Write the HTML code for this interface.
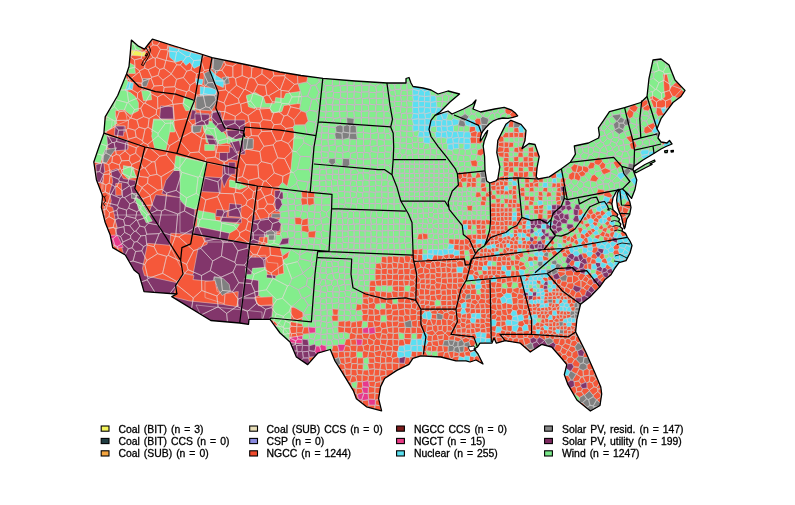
<!DOCTYPE html>
<html><head><meta charset="utf-8"><title>Map</title>
<style>
html,body{margin:0;padding:0;background:#fff}
body{width:795px;height:505px;position:relative;overflow:hidden;font-family:"Liberation Sans",Arial,sans-serif}
</style></head><body>
<svg width="795" height="505" viewBox="0 0 795 505" style="position:absolute;left:0;top:0">
<defs><clipPath id="us"><path d="M131.4 40.1 L138.4 46.2 L144.5 49.2 L148.5 44.0 L152.4 39.1 L176.0 46.5 L201.0 54.0 L212.0 57.7 L231.0 61.5 L255.0 66.5 L280.0 72.0 L301.0 75.5 L323.0 78.4 L355.0 81.0 L387.0 83.0 L406.0 83.0 L406.0 78.5 L409.0 77.5 L411.0 83.0 L413.0 86.5 L423.0 88.0 L431.0 90.0 L438.0 94.0 L448.0 91.0 L459.5 94.0 L450.0 102.0 L440.0 112.0 L435.0 115.3 L448.0 111.0 L452.0 114.0 L463.4 109.0 L472.5 104.0 L476.0 100.0 L473.0 109.0 L480.6 112.0 L494.7 109.0 L504.2 107.4 L511.8 110.2 L515.6 113.3 L517.7 115.8 L513.0 117.3 L508.0 118.4 L503.0 118.0 L498.0 119.0 L493.5 120.8 L489.2 124.0 L485.6 127.8 L483.0 131.0 L481.6 133.4 L480.6 137.0 L480.2 141.0 L482.0 139.0 L485.0 134.0 L487.7 130.4 L486.6 135.0 L484.2 141.0 L483.2 146.0 L484.6 156.7 L485.0 170.8 L486.7 181.0 L489.7 183.0 L495.8 181.0 L497.8 179.0 L499.8 166.8 L496.8 152.6 L497.8 140.5 L502.8 130.4 L505.9 124.3 L510.9 120.3 L521.0 124.3 L526.0 130.4 L525.0 140.5 L522.0 148.6 L529.0 143.5 L535.0 144.5 L539.2 156.7 L537.2 166.8 L536.2 176.9 L538.2 179.0 L549.3 176.9 L561.4 168.8 L570.3 162.3 L575.4 154.2 L574.3 146.0 L588.5 143.0 L598.6 138.0 L599.4 134.8 L598.4 127.8 L603.4 120.7 L609.5 111.6 L624.6 107.6 L640.8 102.5 L647.0 96.5 L649.0 78.3 L653.0 60.0 L661.0 59.0 L669.0 65.0 L675.0 80.0 L685.0 90.4 L681.0 96.5 L673.0 102.5 L667.0 110.6 L661.0 118.7 L657.0 128.8 L659.5 133.0 L658.0 138.0 L661.0 142.0 L667.0 143.0 L669.5 140.5 L672.0 144.0 L666.0 146.5 L661.0 149.0 L653.0 154.0 L643.0 160.0 L634.0 166.4 L633.0 169.5 L636.8 180.0 L635.0 189.5 L631.5 198.4 L627.5 193.5 L622.8 189.3 L625.5 191.9 L629.7 201.4 L631.0 207.3 L629.7 214.4 L626.7 219.2 L625.0 227.5 L624.3 228.7 L622.6 222.0 L621.5 217.0 L619.6 213.0 L617.5 207.0 L616.6 200.0 L617.5 193.0 L619.6 189.5 L618.3 189.5 L616.0 192.0 L614.0 196.0 L613.0 197.8 L611.9 203.8 L613.0 209.7 L617.8 214.4 L616.8 216.5 L619.6 219.2 L618.6 221.5 L620.8 224.0 L620.0 226.5 L622.6 228.7 L622.0 231.0 L625.5 233.4 L627.3 237.0 L630.0 241.0 L632.0 245.5 L630.0 253.0 L626.0 260.6 L619.0 262.6 L615.0 268.0 L611.0 274.7 L604.8 279.8 L599.8 286.9 L590.0 297.0 L580.6 304.2 L576.9 319.3 L575.6 331.9 L585.7 352.0 L594.5 372.0 L600.8 387.0 L601.7 394.0 L600.0 405.5 L590.4 411.0 L579.0 401.7 L576.9 400.0 L568.0 384.7 L564.3 374.6 L566.8 364.6 L560.5 357.0 L551.7 347.0 L541.6 344.4 L530.3 352.0 L520.3 343.2 L505.2 340.7 L496.4 343.2 L494.0 338.0 L492.0 343.0 L480.0 343.2 L477.5 347.0 L474.0 349.0 L478.0 354.0 L483.0 364.0 L476.0 360.0 L470.0 362.0 L466.0 360.8 L456.0 360.8 L441.0 357.0 L420.9 355.8 L412.9 358.3 L408.9 364.3 L396.8 370.4 L384.6 378.5 L380.6 386.6 L378.6 398.7 L381.6 410.8 L366.5 406.8 L356.4 398.7 L353.3 390.6 L342.2 372.4 L335.0 361.0 L330.3 349.5 L317.7 353.2 L307.7 364.6 L296.4 357.0 L290.0 342.0 L280.0 333.0 L270.0 319.3 L249.0 319.3 L248.5 324.3 L239.7 323.0 L210.8 320.5 L171.8 296.6 L176.9 294.0 L144.0 291.6 L139.0 274.0 L134.0 270.0 L125.3 255.0 L112.7 247.6 L110.2 235.0 L105.2 222.5 L101.4 207.4 L102.6 196.0 L96.4 179.7 L93.8 162.0 L98.9 147.0 L103.9 133.2 L105.2 116.9 L117.7 95.5 L126.5 74.0 L129.0 66.5 L130.3 52.7ZM634.5 171.0 L645.0 164.5 L654.5 160.0 L655.0 161.5 L650.0 164.0 L652.0 164.5 L646.0 167.5 L636.0 172.8ZM664.6 151.0 L667.6 150.3 L667.2 152.5 L665.0 152.7ZM671.0 150.6 L673.4 150.3 L673.2 151.9 L671.2 152.0Z"/></clipPath></defs>
<g clip-path="url(#us)">
<rect x="90" y="30" width="610" height="390" fill="#83ed8c"/>
<path d="M90.0 30.0 L280.0 60.0 L306.0 75.0 L306.0 128.0 L294.0 131.0 L294.0 192.0 L300.0 200.0 L300.0 250.0 L317.0 252.0 L312.0 322.0 L240.0 330.0 L160.0 300.0 L90.0 300.0Z" fill="#f5583a" stroke="#e6dcdc" stroke-opacity="0.6" stroke-width="0.8" stroke-linejoin="round"/>
<path d="M131.4 41.1 L138.4 46.2 L142.5 50.2 L131.4 50.2Z" fill="#83ed8c" stroke="#e6dcdc" stroke-opacity="0.6" stroke-width="0.8" stroke-linejoin="round"/>
<path d="M131.4 50.2 L145.5 52.2 L144.5 56.3 L131.4 55.3Z" fill="#f2f25a" stroke="#e6dcdc" stroke-opacity="0.6" stroke-width="0.8" stroke-linejoin="round"/>
<path d="M128.3 62.3 L134.4 65.4 L135.4 73.4 L128.3 73.4Z" fill="#83ed8c" stroke="#e6dcdc" stroke-opacity="0.6" stroke-width="0.8" stroke-linejoin="round"/>
<path d="M168.7 46.2 L202.1 55.3 L200.1 65.4 L194.0 68.4 L189.9 62.3 L185.9 65.4 L181.9 60.3 L175.8 62.3 L169.7 57.3Z" fill="#5adff2" stroke="#e6dcdc" stroke-opacity="0.6" stroke-width="0.8" stroke-linejoin="round"/>
<path d="M142.5 78.5 L149.5 78.5 L146.5 86.6 L141.5 86.6Z" fill="#808080" stroke="#e6dcdc" stroke-opacity="0.6" stroke-width="0.8" stroke-linejoin="round"/>
<path d="M125.3 75.5 L128.3 82.5 L125.3 90.6 L130.4 92.6 L135.4 96.7 L138.4 102.7 L138.4 110.8 L130.4 114.8 L125.3 110.8 L119.2 109.8 L115.2 114.8 L117.2 122.9 L110.2 129.0 L104.1 129.0 L107.1 114.8 L117.2 96.7Z" fill="#83ed8c" stroke="#e6dcdc" stroke-opacity="0.6" stroke-width="0.8" stroke-linejoin="round"/>
<path d="M128.3 81.5 L133.4 83.5 L132.4 89.6 L125.3 90.6Z" fill="#5adff2" stroke="#e6dcdc" stroke-opacity="0.6" stroke-width="0.8" stroke-linejoin="round"/>
<path d="M115.2 110.8 L125.3 109.8 L127.3 120.9 L117.2 124.9Z" fill="#f5583a" stroke="#e6dcdc" stroke-opacity="0.6" stroke-width="0.8" stroke-linejoin="round"/>
<path d="M115.2 126.0 L125.3 126.0 L125.3 132.0 L115.2 132.0Z" fill="#82366b" stroke="#e6dcdc" stroke-opacity="0.6" stroke-width="0.8" stroke-linejoin="round"/>
<path d="M141.5 90.6 L150.6 90.6 L151.6 99.7 L143.5 100.7Z" fill="#83ed8c" stroke="#e6dcdc" stroke-opacity="0.6" stroke-width="0.8" stroke-linejoin="round"/>
<path d="M160.7 105.8 L172.8 106.8 L173.8 118.9 L159.6 118.9Z" fill="#82366b" stroke="#e6dcdc" stroke-opacity="0.6" stroke-width="0.8" stroke-linejoin="round"/>
<path d="M153.6 118.9 L173.8 119.9 L174.8 132.0 L151.6 132.0Z" fill="#83ed8c" stroke="#e6dcdc" stroke-opacity="0.6" stroke-width="0.8" stroke-linejoin="round"/>
<path d="M183.9 96.7 L194.0 99.7 L195.0 109.8 L185.9 110.8 L182.9 104.7Z" fill="#83ed8c" stroke="#e6dcdc" stroke-opacity="0.6" stroke-width="0.8" stroke-linejoin="round"/>
<path d="M196.0 78.5 L203.1 79.5 L202.1 84.5 L196.0 84.5Z" fill="#5adff2" stroke="#e6dcdc" stroke-opacity="0.6" stroke-width="0.8" stroke-linejoin="round"/>
<path d="M200.1 86.6 L216.2 88.6 L216.2 94.6 L200.1 95.7Z" fill="#5adff2" stroke="#e6dcdc" stroke-opacity="0.6" stroke-width="0.8" stroke-linejoin="round"/>
<path d="M204.1 73.4 L210.2 70.4 L214.2 80.5 L217.2 90.6 L210.2 87.6 L204.1 84.5Z" fill="#808080" stroke="#e6dcdc" stroke-opacity="0.6" stroke-width="0.8" stroke-linejoin="round"/>
<path d="M196.0 96.7 L217.2 94.6 L216.2 102.7 L211.2 110.8 L196.0 109.8Z" fill="#808080" stroke="#e6dcdc" stroke-opacity="0.6" stroke-width="0.8" stroke-linejoin="round"/>
<path d="M212.2 58.3 L224.3 60.3 L221.3 67.4 L216.2 73.4 L212.2 69.4Z" fill="#808080" stroke="#e6dcdc" stroke-opacity="0.6" stroke-width="0.8" stroke-linejoin="round"/>
<path d="M210.2 69.4 L216.2 75.5 L224.3 80.5 L223.3 87.6 L216.2 84.5 L211.2 77.5Z" fill="#5adff2" stroke="#e6dcdc" stroke-opacity="0.6" stroke-width="0.8" stroke-linejoin="round"/>
<path d="M222.3 77.5 L228.3 76.5 L229.3 83.5 L224.3 84.5Z" fill="#808080" stroke="#e6dcdc" stroke-opacity="0.6" stroke-width="0.8" stroke-linejoin="round"/>
<path d="M192.0 109.8 L196.0 110.8 L195.0 118.9 L189.9 119.9Z" fill="#82366b" stroke="#e6dcdc" stroke-opacity="0.6" stroke-width="0.8" stroke-linejoin="round"/>
<path d="M196.0 112.8 L209.1 113.8 L208.1 121.9 L196.0 122.9Z" fill="#82366b" stroke="#e6dcdc" stroke-opacity="0.6" stroke-width="0.8" stroke-linejoin="round"/>
<path d="M212.2 110.8 L220.3 110.8 L224.3 127.0 L216.2 124.9 L211.2 118.9Z" fill="#82366b" stroke="#e6dcdc" stroke-opacity="0.6" stroke-width="0.8" stroke-linejoin="round"/>
<path d="M191.0 126.0 L200.1 124.9 L201.1 132.0 L192.0 132.0Z" fill="#808080" stroke="#e6dcdc" stroke-opacity="0.6" stroke-width="0.8" stroke-linejoin="round"/>
<path d="M202.1 121.9 L214.2 120.9 L218.2 132.0 L204.1 132.0Z" fill="#83ed8c" stroke="#e6dcdc" stroke-opacity="0.6" stroke-width="0.8" stroke-linejoin="round"/>
<path d="M246.5 96.7 L255.0 98.7 L255.0 108.8 L248.5 106.8Z" fill="#83ed8c" stroke="#e6dcdc" stroke-opacity="0.6" stroke-width="0.8" stroke-linejoin="round"/>
<path d="M115.3 126.1 L124.4 126.1 L123.4 136.2 L114.3 135.2Z" fill="#82366b" stroke="#e6dcdc" stroke-opacity="0.6" stroke-width="0.8" stroke-linejoin="round"/>
<path d="M103.2 120.0 L112.3 120.0 L111.3 128.1 L105.2 132.1 L103.2 134.1Z" fill="#83ed8c" stroke="#e6dcdc" stroke-opacity="0.6" stroke-width="0.8" stroke-linejoin="round"/>
<path d="M153.7 120.0 L170.9 120.0 L169.8 132.1 L165.8 150.3 L154.7 148.3 L151.7 136.2Z" fill="#83ed8c" stroke="#e6dcdc" stroke-opacity="0.6" stroke-width="0.8" stroke-linejoin="round"/>
<path d="M97.1 146.3 L104.2 136.2 L109.2 138.2 L107.2 148.3 L101.2 160.4 L96.1 158.4Z" fill="#83ed8c" stroke="#e6dcdc" stroke-opacity="0.6" stroke-width="0.8" stroke-linejoin="round"/>
<path d="M107.2 136.2 L127.4 140.2 L128.4 148.3 L115.3 149.3 L109.2 146.3Z" fill="#82366b" stroke="#e6dcdc" stroke-opacity="0.6" stroke-width="0.8" stroke-linejoin="round"/>
<path d="M105.2 150.3 L115.3 148.3 L109.2 158.4 L103.2 163.4 L102.2 158.4Z" fill="#808080" stroke="#e6dcdc" stroke-opacity="0.6" stroke-width="0.8" stroke-linejoin="round"/>
<path d="M96.1 164.4 L103.2 163.4 L105.2 172.5 L102.2 180.6 L97.1 178.6Z" fill="#82366b" stroke="#e6dcdc" stroke-opacity="0.6" stroke-width="0.8" stroke-linejoin="round"/>
<path d="M123.4 165.5 L133.5 167.5 L135.5 176.6 L128.4 178.6 L124.4 172.5Z" fill="#83ed8c" stroke="#e6dcdc" stroke-opacity="0.6" stroke-width="0.8" stroke-linejoin="round"/>
<path d="M111.3 170.5 L117.3 168.5 L123.4 178.6 L135.5 180.6 L135.5 188.7 L145.6 206.9 L153.7 222.0 L105.2 222.0 L104.2 206.9 L107.2 200.8 L104.2 186.7Z" fill="#82366b" stroke="#e6dcdc" stroke-opacity="0.6" stroke-width="0.8" stroke-linejoin="round"/>
<path d="M102.2 180.6 L107.2 182.6 L111.3 200.8 L109.2 208.9 L104.2 206.9 L101.2 196.8Z" fill="#f5583a" stroke="#e6dcdc" stroke-opacity="0.6" stroke-width="0.8" stroke-linejoin="round"/>
<path d="M104.2 208.9 L111.3 206.9 L115.3 222.0 L104.2 222.0Z" fill="#f5583a" stroke="#e6dcdc" stroke-opacity="0.6" stroke-width="0.8" stroke-linejoin="round"/>
<path d="M132.5 193.7 L136.5 193.7 L137.1 198.8 L133.1 198.4Z" fill="#808080" stroke="#e6dcdc" stroke-opacity="0.6" stroke-width="0.8" stroke-linejoin="round"/>
<path d="M135.5 196.8 L140.6 200.8 L151.7 219.0 L145.6 222.0 L138.5 208.9Z" fill="#83ed8c" stroke="#e6dcdc" stroke-opacity="0.6" stroke-width="0.8" stroke-linejoin="round"/>
<path d="M165.8 180.6 L173.9 170.5 L179.9 170.5 L182.0 186.7 L179.9 197.8 L161.8 193.7Z" fill="#82366b" stroke="#e6dcdc" stroke-opacity="0.6" stroke-width="0.8" stroke-linejoin="round"/>
<path d="M175.9 155.4 L206.2 162.4 L200.2 208.9 L195.1 208.9 L182.0 200.8 L182.0 186.7 L179.9 170.5 L173.9 170.5Z" fill="#83ed8c" stroke="#e6dcdc" stroke-opacity="0.6" stroke-width="0.8" stroke-linejoin="round"/>
<path d="M155.7 194.7 L182.0 197.8 L195.1 208.9 L195.1 222.0 L153.7 222.0 L149.6 210.9Z" fill="#82366b" stroke="#e6dcdc" stroke-opacity="0.6" stroke-width="0.8" stroke-linejoin="round"/>
<path d="M204.2 177.6 L222.4 177.6 L222.4 191.7 L201.2 191.7Z" fill="#82366b" stroke="#e6dcdc" stroke-opacity="0.6" stroke-width="0.8" stroke-linejoin="round"/>
<path d="M224.4 170.5 L234.5 171.5 L233.5 188.7 L224.4 187.7Z" fill="#82366b" stroke="#e6dcdc" stroke-opacity="0.6" stroke-width="0.8" stroke-linejoin="round"/>
<path d="M226.4 202.8 L238.5 202.8 L238.5 217.0 L226.4 217.0Z" fill="#82366b" stroke="#e6dcdc" stroke-opacity="0.6" stroke-width="0.8" stroke-linejoin="round"/>
<path d="M197.1 210.9 L214.3 214.9 L214.3 222.0 L196.1 222.0Z" fill="#83ed8c" stroke="#e6dcdc" stroke-opacity="0.6" stroke-width="0.8" stroke-linejoin="round"/>
<path d="M216.3 208.9 L226.4 208.9 L226.4 222.0 L216.3 222.0Z" fill="#82366b" stroke="#e6dcdc" stroke-opacity="0.6" stroke-width="0.8" stroke-linejoin="round"/>
<path d="M192.1 126.1 L202.2 125.1 L200.2 132.1 L193.1 133.1Z" fill="#808080" stroke="#e6dcdc" stroke-opacity="0.6" stroke-width="0.8" stroke-linejoin="round"/>
<path d="M204.2 124.0 L216.3 126.1 L222.4 138.2 L216.3 146.3 L206.2 142.2Z" fill="#83ed8c" stroke="#e6dcdc" stroke-opacity="0.6" stroke-width="0.8" stroke-linejoin="round"/>
<path d="M206.2 134.1 L214.3 136.2 L218.3 146.3 L210.3 144.2Z" fill="#82366b" stroke="#e6dcdc" stroke-opacity="0.6" stroke-width="0.8" stroke-linejoin="round"/>
<path d="M218.3 120.0 L245.0 120.0 L245.0 132.1 L226.4 128.1Z" fill="#82366b" stroke="#e6dcdc" stroke-opacity="0.6" stroke-width="0.8" stroke-linejoin="round"/>
<path d="M226.4 132.1 L245.0 136.2 L245.0 148.3 L230.5 144.2Z" fill="#83ed8c" stroke="#e6dcdc" stroke-opacity="0.6" stroke-width="0.8" stroke-linejoin="round"/>
<path d="M224.4 146.3 L238.5 148.3 L237.5 160.4 L224.4 158.4Z" fill="#82366b" stroke="#e6dcdc" stroke-opacity="0.6" stroke-width="0.8" stroke-linejoin="round"/>
<path d="M240.6 140.2 L245.0 140.2 L245.0 154.3 L240.6 154.3Z" fill="#82366b" stroke="#e6dcdc" stroke-opacity="0.6" stroke-width="0.8" stroke-linejoin="round"/>
<path d="M101.1 215.0 L255.0 215.0 L255.0 317.0 L101.1 317.0Z" fill="#82366b" stroke="#e6dcdc" stroke-opacity="0.6" stroke-width="0.8" stroke-linejoin="round"/>
<path d="M104.1 217.0 L113.2 215.0 L117.2 227.1 L115.2 235.2 L121.3 245.3 L123.3 253.4 L115.2 254.4 L111.2 249.3 L112.2 239.2 L107.1 231.2Z" fill="#f5583a" stroke="#e6dcdc" stroke-opacity="0.6" stroke-width="0.8" stroke-linejoin="round"/>
<path d="M109.1 235.2 L117.2 235.2 L123.3 247.3 L117.2 248.3 L112.2 243.3Z" fill="#e8388c" stroke="#e6dcdc" stroke-opacity="0.6" stroke-width="0.8" stroke-linejoin="round"/>
<path d="M147.5 243.3 L169.7 245.3 L184.9 273.6 L176.8 282.7 L144.5 275.6 L142.5 268.5Z" fill="#f5583a" stroke="#e6dcdc" stroke-opacity="0.6" stroke-width="0.8" stroke-linejoin="round"/>
<path d="M170.8 233.2 L208.1 235.2 L207.1 244.3 L198.0 248.3 L193.0 274.6 L184.9 273.6 L179.8 265.5 L169.7 245.3Z" fill="#f5583a" stroke="#e6dcdc" stroke-opacity="0.6" stroke-width="0.8" stroke-linejoin="round"/>
<path d="M184.9 273.6 L194.0 275.6 L193.0 279.6 L214.2 281.7 L212.2 286.7 L224.3 287.7 L224.3 295.8 L236.4 291.8 L238.4 305.9 L188.9 300.9 L172.8 296.8 L177.8 282.7Z" fill="#f5583a" stroke="#e6dcdc" stroke-opacity="0.6" stroke-width="0.8" stroke-linejoin="round"/>
<path d="M214.2 276.6 L220.3 277.6 L228.3 283.7 L230.4 291.8 L221.3 294.8 L218.2 286.7 L213.2 280.7Z" fill="#808080" stroke="#e6dcdc" stroke-opacity="0.6" stroke-width="0.8" stroke-linejoin="round"/>
<path d="M232.4 239.2 L240.5 226.1 L250.6 222.1 L249.5 242.3Z" fill="#f5583a" stroke="#e6dcdc" stroke-opacity="0.6" stroke-width="0.8" stroke-linejoin="round"/>
<path d="M196.0 216.0 L214.2 215.0 L216.2 221.1 L240.5 225.1 L234.4 231.2 L214.2 227.1 L205.1 228.1 L196.0 225.1Z" fill="#83ed8c" stroke="#e6dcdc" stroke-opacity="0.6" stroke-width="0.8" stroke-linejoin="round"/>
<path d="M245.5 268.5 L255.0 267.5 L255.0 277.6 L245.5 277.6Z" fill="#83ed8c" stroke="#e6dcdc" stroke-opacity="0.6" stroke-width="0.8" stroke-linejoin="round"/>
<path d="M251.6 245.3 L255.0 245.3 L255.0 261.5 L251.6 261.5Z" fill="#f5583a" stroke="#e6dcdc" stroke-opacity="0.6" stroke-width="0.8" stroke-linejoin="round"/>
<path d="M246.4 95.5 L255.5 92.5 L263.6 97.5 L265.6 103.6 L274.7 103.6 L275.7 97.5 L283.8 98.5 L285.8 93.5 L299.9 91.5 L297.9 103.6 L283.8 105.6 L281.8 111.7 L271.7 112.7 L269.6 107.6 L253.5 107.6 L248.4 103.6Z" fill="#83ed8c" stroke="#e6dcdc" stroke-opacity="0.6" stroke-width="0.8" stroke-linejoin="round"/>
<path d="M304.0 73.3 L326.2 77.3 L322.2 133.9 L295.9 131.9 L293.9 129.8 L299.9 121.8 L309.0 119.7 L313.1 109.6 L306.0 104.6 L297.9 103.6 L299.9 91.5 L305.0 88.4Z" fill="#83ed8c" stroke="#e6dcdc" stroke-opacity="0.6" stroke-width="0.8" stroke-linejoin="round"/>
<path d="M294.9 130.9 L326.2 133.9 L324.2 147.0 L293.9 147.0Z" fill="#83ed8c" stroke="#e6dcdc" stroke-opacity="0.6" stroke-width="0.8" stroke-linejoin="round"/>
<path d="M244.4 138.9 L252.5 138.9 L252.5 147.0 L244.4 147.0Z" fill="#808080" stroke="#e6dcdc" stroke-opacity="0.6" stroke-width="0.8" stroke-linejoin="round"/>
<path d="M338.3 125.8 L346.4 123.8 L350.5 118.7 L352.5 125.8 L354.5 135.9 L346.4 139.9 L338.3 139.9Z" fill="#808080" stroke="#e6dcdc" stroke-opacity="0.6" stroke-width="0.8" stroke-linejoin="round"/>
<path d="M293.9 138.0 L326.2 138.0 L326.2 190.5 L286.8 188.5 L290.9 170.3Z" fill="#83ed8c" stroke="#e6dcdc" stroke-opacity="0.6" stroke-width="0.8" stroke-linejoin="round"/>
<path d="M244.4 140.0 L253.5 140.0 L252.5 149.1 L244.4 149.1Z" fill="#808080" stroke="#e6dcdc" stroke-opacity="0.6" stroke-width="0.8" stroke-linejoin="round"/>
<path d="M205.0 178.4 L221.2 178.4 L221.2 193.5 L205.0 193.5Z" fill="#82366b" stroke="#e6dcdc" stroke-opacity="0.6" stroke-width="0.8" stroke-linejoin="round"/>
<path d="M225.2 180.4 L235.3 178.4 L237.3 186.5 L231.3 188.5Z" fill="#83ed8c" stroke="#e6dcdc" stroke-opacity="0.6" stroke-width="0.8" stroke-linejoin="round"/>
<path d="M223.2 164.2 L231.3 165.3 L232.3 180.4 L224.2 186.5 L222.2 176.4Z" fill="#82366b" stroke="#e6dcdc" stroke-opacity="0.6" stroke-width="0.8" stroke-linejoin="round"/>
<path d="M229.2 204.6 L241.4 204.6 L241.4 216.8 L229.2 216.8Z" fill="#82366b" stroke="#e6dcdc" stroke-opacity="0.6" stroke-width="0.8" stroke-linejoin="round"/>
<path d="M215.1 210.7 L231.3 211.7 L231.3 220.8 L215.1 219.8Z" fill="#82366b" stroke="#e6dcdc" stroke-opacity="0.6" stroke-width="0.8" stroke-linejoin="round"/>
<path d="M205.0 194.5 L215.1 200.6 L213.1 216.8 L205.0 220.8Z" fill="#83ed8c" stroke="#e6dcdc" stroke-opacity="0.6" stroke-width="0.8" stroke-linejoin="round"/>
<path d="M205.0 220.8 L229.2 224.8 L225.2 234.9 L205.0 234.9Z" fill="#83ed8c" stroke="#e6dcdc" stroke-opacity="0.6" stroke-width="0.8" stroke-linejoin="round"/>
<path d="M205.0 228.9 L229.2 237.0 L227.2 242.0 L205.0 242.0Z" fill="#82366b" stroke="#e6dcdc" stroke-opacity="0.6" stroke-width="0.8" stroke-linejoin="round"/>
<path d="M281.8 188.5 L334.3 191.5 L334.3 242.0 L279.7 242.0 L281.8 220.8 L285.8 210.7 L283.8 206.7Z" fill="#83ed8c" stroke="#e6dcdc" stroke-opacity="0.6" stroke-width="0.8" stroke-linejoin="round"/>
<path d="M274.7 190.5 L282.8 190.5 L283.8 206.7 L285.8 210.7 L275.7 211.7 L274.7 200.6Z" fill="#82366b" stroke="#e6dcdc" stroke-opacity="0.6" stroke-width="0.8" stroke-linejoin="round"/>
<path d="M252.5 220.8 L271.7 216.8 L281.8 220.8 L279.7 230.9 L265.6 234.9 L251.5 237.0Z" fill="#82366b" stroke="#e6dcdc" stroke-opacity="0.6" stroke-width="0.8" stroke-linejoin="round"/>
<path d="M271.7 213.7 L284.8 213.7 L284.8 217.8 L271.7 217.8Z" fill="#808080" stroke="#e6dcdc" stroke-opacity="0.6" stroke-width="0.8" stroke-linejoin="round"/>
<path d="M266.6 230.9 L276.7 230.9 L276.7 239.0 L266.6 239.0Z" fill="#808080" stroke="#e6dcdc" stroke-opacity="0.6" stroke-width="0.8" stroke-linejoin="round"/>
<path d="M301.0 192.5 L315.1 192.9 L315.1 206.7 L301.0 206.3Z" fill="#f5583a" stroke="#e6dcdc" stroke-opacity="0.6" stroke-width="0.8" stroke-linejoin="round"/>
<path d="M299.9 207.9 L312.1 207.9 L312.1 211.7 L299.9 211.7Z" fill="#82366b" stroke="#e6dcdc" stroke-opacity="0.6" stroke-width="0.8" stroke-linejoin="round"/>
<path d="M297.9 218.8 L308.0 219.2 L308.0 234.9 L297.5 234.5Z" fill="#f5583a" stroke="#e6dcdc" stroke-opacity="0.6" stroke-width="0.8" stroke-linejoin="round"/>
<path d="M308.0 228.9 L314.1 228.9 L314.1 239.0 L308.0 239.0Z" fill="#f5583a" stroke="#e6dcdc" stroke-opacity="0.6" stroke-width="0.8" stroke-linejoin="round"/>
<path d="M325.8 156.2 L333.3 156.6 L333.3 163.2 L325.8 162.6Z" fill="#808080" stroke="#e6dcdc" stroke-opacity="0.6" stroke-width="0.8" stroke-linejoin="round"/>
<path d="M344.4 161.2 L352.5 161.8 L352.5 165.9 L344.4 165.5Z" fill="#808080" stroke="#e6dcdc" stroke-opacity="0.6" stroke-width="0.8" stroke-linejoin="round"/>
<path d="M265.6 235.0 L330.3 235.0 L329.2 250.2 L265.6 246.1Z" fill="#83ed8c" stroke="#e6dcdc" stroke-opacity="0.6" stroke-width="0.8" stroke-linejoin="round"/>
<path d="M250.5 235.0 L265.6 235.0 L263.6 244.1 L250.5 243.1Z" fill="#82366b" stroke="#e6dcdc" stroke-opacity="0.6" stroke-width="0.8" stroke-linejoin="round"/>
<path d="M259.5 237.0 L267.6 237.0 L267.6 244.1 L258.5 244.1Z" fill="#f5583a" stroke="#e6dcdc" stroke-opacity="0.6" stroke-width="0.8" stroke-linejoin="round"/>
<path d="M268.6 235.0 L275.7 235.0 L275.7 240.1 L268.6 240.1Z" fill="#808080" stroke="#e6dcdc" stroke-opacity="0.6" stroke-width="0.8" stroke-linejoin="round"/>
<path d="M283.8 238.0 L289.8 238.0 L289.8 242.1 L283.8 242.1Z" fill="#82366b" stroke="#e6dcdc" stroke-opacity="0.6" stroke-width="0.8" stroke-linejoin="round"/>
<path d="M291.9 235.0 L296.9 235.0 L295.9 241.1 L290.9 240.1Z" fill="#f5583a" stroke="#e6dcdc" stroke-opacity="0.6" stroke-width="0.8" stroke-linejoin="round"/>
<path d="M309.0 235.0 L314.1 235.0 L314.1 240.1 L309.0 240.1Z" fill="#f5583a" stroke="#e6dcdc" stroke-opacity="0.6" stroke-width="0.8" stroke-linejoin="round"/>
<path d="M251.5 268.3 L265.6 267.3 L267.6 275.4 L275.7 276.4 L278.7 274.4 L283.8 273.4 L282.8 260.3 L287.8 257.2 L290.9 248.1 L318.1 250.2 L313.1 322.9 L271.7 317.8 L273.7 303.7 L258.5 295.6 L258.5 281.5 L245.4 278.4Z" fill="#83ed8c" stroke="#e6dcdc" stroke-opacity="0.6" stroke-width="0.8" stroke-linejoin="round"/>
<path d="M249.4 245.1 L289.8 248.1 L287.8 257.2 L282.8 260.3 L283.8 273.4 L278.7 274.4 L277.7 263.3 L267.6 262.3 L265.6 255.2 L249.4 256.2Z" fill="#f5583a" stroke="#e6dcdc" stroke-opacity="0.6" stroke-width="0.8" stroke-linejoin="round"/>
<path d="M247.4 257.2 L265.6 257.2 L265.6 267.3 L252.5 268.3 L251.5 274.4 L246.4 274.4Z" fill="#82366b" stroke="#e6dcdc" stroke-opacity="0.6" stroke-width="0.8" stroke-linejoin="round"/>
<path d="M244.4 278.4 L258.5 280.5 L258.5 295.6 L254.5 297.6 L242.4 297.6Z" fill="#82366b" stroke="#e6dcdc" stroke-opacity="0.6" stroke-width="0.8" stroke-linejoin="round"/>
<path d="M254.5 297.6 L272.7 296.6 L272.7 304.7 L258.5 305.7Z" fill="#f5583a" stroke="#e6dcdc" stroke-opacity="0.6" stroke-width="0.8" stroke-linejoin="round"/>
<path d="M242.4 298.6 L254.5 298.6 L258.5 305.7 L272.7 305.7 L271.7 317.8 L269.6 319.8 L248.4 323.9 L239.3 323.9Z" fill="#82366b" stroke="#e6dcdc" stroke-opacity="0.6" stroke-width="0.8" stroke-linejoin="round"/>
<path d="M266.6 274.4 L275.7 275.4 L275.7 278.4 L266.6 277.8Z" fill="#82366b" stroke="#e6dcdc" stroke-opacity="0.6" stroke-width="0.8" stroke-linejoin="round"/>
<path d="M291.9 306.7 L303.0 307.7 L304.0 319.8 L290.9 318.8Z" fill="#f5583a" stroke="#e6dcdc" stroke-opacity="0.6" stroke-width="0.8" stroke-linejoin="round"/>
<path d="M205.0 281.5 L215.1 280.5 L217.1 291.6 L225.2 293.6 L224.2 303.7 L205.0 297.6Z" fill="#f5583a" stroke="#e6dcdc" stroke-opacity="0.6" stroke-width="0.8" stroke-linejoin="round"/>
<path d="M214.1 277.4 L223.2 278.4 L229.2 284.5 L230.3 290.6 L222.2 295.6 L218.1 289.5Z" fill="#808080" stroke="#e6dcdc" stroke-opacity="0.6" stroke-width="0.8" stroke-linejoin="round"/>
<path d="M225.2 293.6 L238.3 291.6 L237.3 306.7 L224.2 304.7Z" fill="#f5583a" stroke="#e6dcdc" stroke-opacity="0.6" stroke-width="0.8" stroke-linejoin="round"/>
<path d="M272.7 318.8 L313.1 322.9 L314.1 340.1 L289.8 340.1Z" fill="#83ed8c" stroke="#e6dcdc" stroke-opacity="0.6" stroke-width="0.8" stroke-linejoin="round"/>
<path d="M289.8 321.9 L299.9 321.9 L306.0 325.9 L295.9 337.0 L288.8 332.0Z" fill="#f5583a" stroke="#e6dcdc" stroke-opacity="0.6" stroke-width="0.8" stroke-linejoin="round"/>
<path d="M306.0 326.9 L313.1 327.9 L312.1 331.0 L307.0 329.9Z" fill="#e8388c" stroke="#e6dcdc" stroke-opacity="0.6" stroke-width="0.8" stroke-linejoin="round"/>
<path d="M413.5 87.1 L423.6 87.1 L431.7 93.2 L437.7 95.2 L438.7 111.4 L433.7 115.4 L432.7 125.5 L429.6 131.6 L427.6 141.7 L421.6 139.6 L416.5 131.6 L410.5 121.5 L411.5 105.3Z" fill="#5adff2" stroke="#e6dcdc" stroke-opacity="0.6" stroke-width="0.8" stroke-linejoin="round"/>
<path d="M458.9 118.4 L466.0 119.4 L468.0 127.5 L459.9 128.5 L457.9 123.5Z" fill="#808080" stroke="#e6dcdc" stroke-opacity="0.6" stroke-width="0.8" stroke-linejoin="round"/>
<path d="M466.0 119.4 L476.1 118.4 L478.1 123.5 L482.2 128.5 L478.1 132.6 L472.1 125.5 L467.0 124.5Z" fill="#5adff2" stroke="#e6dcdc" stroke-opacity="0.6" stroke-width="0.8" stroke-linejoin="round"/>
<path d="M468.0 123.5 L472.1 123.5 L481.2 135.6 L477.1 137.6Z" fill="#f5583a" stroke="#e6dcdc" stroke-opacity="0.6" stroke-width="0.8" stroke-linejoin="round"/>
<path d="M467.0 135.6 L474.1 137.6 L474.1 140.7 L467.0 139.6Z" fill="#f5583a" stroke="#e6dcdc" stroke-opacity="0.6" stroke-width="0.8" stroke-linejoin="round"/>
<path d="M476.1 118.4 L481.2 118.4 L481.2 124.5 L477.1 124.5Z" fill="#f5583a" stroke="#e6dcdc" stroke-opacity="0.6" stroke-width="0.8" stroke-linejoin="round"/>
<path d="M505.4 110.4 L513.5 110.4 L515.5 115.4 L506.4 114.4Z" fill="#f5583a" stroke="#e6dcdc" stroke-opacity="0.6" stroke-width="0.8" stroke-linejoin="round"/>
<path d="M484.2 118.4 L492.3 118.4 L491.3 123.5 L486.2 125.5 L484.2 122.5Z" fill="#808080" stroke="#e6dcdc" stroke-opacity="0.6" stroke-width="0.8" stroke-linejoin="round"/>
<path d="M471.1 161.9 L476.1 161.9 L476.1 166.9 L471.1 166.9Z" fill="#f5583a" stroke="#e6dcdc" stroke-opacity="0.6" stroke-width="0.8" stroke-linejoin="round"/>
<path d="M479.1 151.8 L482.2 151.8 L482.2 155.8 L479.1 155.8Z" fill="#f5583a" stroke="#e6dcdc" stroke-opacity="0.6" stroke-width="0.8" stroke-linejoin="round"/>
<path d="M317.0 250.0 L381.0 252.0 L379.0 262.0 L376.0 275.0 L352.0 275.0 L351.0 267.0 L314.0 267.0Z" fill="#83ed8c" stroke="#e6dcdc" stroke-opacity="0.6" stroke-width="0.8" stroke-linejoin="round"/>
<path d="M316.5 265.0 L351.8 265.0 L351.8 287.2 L364.9 295.3 L358.9 305.4 L354.8 315.5 L352.8 323.6 L340.7 323.6 L338.7 331.7 L350.8 332.7 L350.8 342.8 L336.7 342.8 L335.7 347.8 L327.6 347.8 L323.5 343.8 L317.5 351.9 L308.4 345.8 L290.2 335.7 L280.1 323.6 L270.0 319.5 L270.0 317.1 L312.4 320.6Z" fill="#83ed8c" stroke="#e6dcdc" stroke-opacity="0.6" stroke-width="0.8" stroke-linejoin="round"/>
<path d="M351.8 258.9 L375.1 258.9 L376.1 277.1 L370.0 285.2 L367.0 294.3 L351.8 287.2Z" fill="#83ed8c" stroke="#e6dcdc" stroke-opacity="0.6" stroke-width="0.8" stroke-linejoin="round"/>
<path d="M379.1 284.2 L391.2 284.2 L391.2 289.2 L379.1 289.2Z" fill="#83ed8c" stroke="#e6dcdc" stroke-opacity="0.6" stroke-width="0.8" stroke-linejoin="round"/>
<path d="M373.0 312.5 L383.1 312.5 L383.1 317.5 L373.0 317.5Z" fill="#83ed8c" stroke="#e6dcdc" stroke-opacity="0.6" stroke-width="0.8" stroke-linejoin="round"/>
<path d="M381.1 317.5 L386.2 317.5 L386.2 323.6 L381.1 323.6Z" fill="#83ed8c" stroke="#e6dcdc" stroke-opacity="0.6" stroke-width="0.8" stroke-linejoin="round"/>
<path d="M377.1 305.4 L383.1 305.4 L383.1 310.5 L377.1 310.5Z" fill="#83ed8c" stroke="#e6dcdc" stroke-opacity="0.6" stroke-width="0.8" stroke-linejoin="round"/>
<path d="M352.8 331.7 L358.9 331.7 L358.9 338.7 L352.8 338.7Z" fill="#83ed8c" stroke="#e6dcdc" stroke-opacity="0.6" stroke-width="0.8" stroke-linejoin="round"/>
<path d="M362.9 354.9 L371.0 354.9 L371.0 362.0 L362.9 362.0Z" fill="#83ed8c" stroke="#e6dcdc" stroke-opacity="0.6" stroke-width="0.8" stroke-linejoin="round"/>
<path d="M361.9 329.6 L371.0 325.6 L375.1 328.6 L368.0 333.7Z" fill="#e8388c" stroke="#e6dcdc" stroke-opacity="0.6" stroke-width="0.8" stroke-linejoin="round"/>
<path d="M354.8 339.7 L359.9 339.7 L359.9 345.8 L354.8 345.8Z" fill="#e8388c" stroke="#e6dcdc" stroke-opacity="0.6" stroke-width="0.8" stroke-linejoin="round"/>
<path d="M335.7 342.8 L345.8 342.8 L345.8 347.8 L335.7 347.8Z" fill="#e8388c" stroke="#e6dcdc" stroke-opacity="0.6" stroke-width="0.8" stroke-linejoin="round"/>
<path d="M318.5 344.8 L326.6 342.8 L327.6 347.8 L322.5 351.9 L317.5 351.9Z" fill="#e8388c" stroke="#e6dcdc" stroke-opacity="0.6" stroke-width="0.8" stroke-linejoin="round"/>
<path d="M305.4 326.6 L314.4 327.6 L313.4 331.7 L306.4 330.7Z" fill="#e8388c" stroke="#e6dcdc" stroke-opacity="0.6" stroke-width="0.8" stroke-linejoin="round"/>
<path d="M291.2 307.4 L302.3 308.4 L303.3 320.6 L291.2 320.6Z" fill="#f5583a" stroke="#e6dcdc" stroke-opacity="0.6" stroke-width="0.8" stroke-linejoin="round"/>
<path d="M290.2 321.6 L300.3 323.6 L307.4 325.6 L306.4 334.7 L302.3 335.7 L289.2 337.7Z" fill="#f5583a" stroke="#e6dcdc" stroke-opacity="0.6" stroke-width="0.8" stroke-linejoin="round"/>
<path d="M289.2 337.7 L302.3 335.7 L306.4 340.8 L301.3 343.8 L290.2 342.8Z" fill="#e8388c" stroke="#e6dcdc" stroke-opacity="0.6" stroke-width="0.8" stroke-linejoin="round"/>
<path d="M289.2 342.8 L301.3 343.8 L306.4 340.8 L317.5 351.9 L308.4 365.0 L300.3 359.9 L292.2 353.9Z" fill="#82366b" stroke="#e6dcdc" stroke-opacity="0.6" stroke-width="0.8" stroke-linejoin="round"/>
<path d="M396.3 350.9 L401.3 344.8 L411.4 343.8 L415.5 337.7 L420.5 338.7 L420.5 349.8 L411.4 354.9 L399.3 355.9Z" fill="#5adff2" stroke="#e6dcdc" stroke-opacity="0.6" stroke-width="0.8" stroke-linejoin="round"/>
<path d="M405.4 341.8 L409.4 342.8 L409.4 346.8 L405.8 345.8Z" fill="#808080" stroke="#e6dcdc" stroke-opacity="0.6" stroke-width="0.8" stroke-linejoin="round"/>
<path d="M422.5 331.7 L426.6 332.7 L426.6 343.8 L421.5 342.8Z" fill="#5adff2" stroke="#e6dcdc" stroke-opacity="0.6" stroke-width="0.8" stroke-linejoin="round"/>
<path d="M397.3 356.9 L403.3 356.9 L403.3 362.0 L398.3 362.0Z" fill="#82366b" stroke="#e6dcdc" stroke-opacity="0.6" stroke-width="0.8" stroke-linejoin="round"/>
<path d="M417.5 282.2 L423.5 282.2 L423.5 285.2 L417.5 285.2Z" fill="#808080" stroke="#e6dcdc" stroke-opacity="0.6" stroke-width="0.8" stroke-linejoin="round"/>
<path d="M361.4 380.5 L368.5 380.5 L368.5 389.6 L362.4 389.6Z" fill="#e8388c" stroke="#e6dcdc" stroke-opacity="0.6" stroke-width="0.8" stroke-linejoin="round"/>
<path d="M359.4 391.6 L365.5 390.6 L366.5 397.7 L360.4 398.7Z" fill="#e8388c" stroke="#e6dcdc" stroke-opacity="0.6" stroke-width="0.8" stroke-linejoin="round"/>
<path d="M366.5 392.6 L371.5 392.6 L371.5 397.7 L366.5 397.7Z" fill="#e8388c" stroke="#e6dcdc" stroke-opacity="0.6" stroke-width="0.8" stroke-linejoin="round"/>
<path d="M365.5 399.7 L371.5 398.7 L373.5 405.8 L367.5 407.8Z" fill="#e8388c" stroke="#e6dcdc" stroke-opacity="0.6" stroke-width="0.8" stroke-linejoin="round"/>
<path d="M362.4 356.3 L370.5 357.3 L369.5 363.3 L363.4 363.3Z" fill="#83ed8c" stroke="#e6dcdc" stroke-opacity="0.6" stroke-width="0.8" stroke-linejoin="round"/>
<path d="M372.5 401.7 L377.6 401.7 L377.6 405.2 L372.5 405.2Z" fill="#83ed8c" stroke="#e6dcdc" stroke-opacity="0.6" stroke-width="0.8" stroke-linejoin="round"/>
<path d="M425.1 351.8 L439.2 352.2 L439.2 355.5 L425.1 355.1Z" fill="#83ed8c" stroke="#e6dcdc" stroke-opacity="0.6" stroke-width="0.8" stroke-linejoin="round"/>
<path d="M537.0 266.2 L549.1 266.2 L549.1 274.2 L537.0 274.2Z" fill="#808080" stroke="#e6dcdc" stroke-opacity="0.6" stroke-width="0.8" stroke-linejoin="round"/>
<path d="M549.1 272.2 L553.1 272.2 L553.1 278.3 L549.1 278.3Z" fill="#82366b" stroke="#e6dcdc" stroke-opacity="0.6" stroke-width="0.8" stroke-linejoin="round"/>
<path d="M561.2 272.2 L565.3 272.2 L565.3 276.3 L561.2 276.3Z" fill="#82366b" stroke="#e6dcdc" stroke-opacity="0.6" stroke-width="0.8" stroke-linejoin="round"/>
<path d="M577.4 280.3 L585.5 280.3 L585.5 285.4 L577.4 285.4Z" fill="#82366b" stroke="#e6dcdc" stroke-opacity="0.6" stroke-width="0.8" stroke-linejoin="round"/>
<path d="M585.5 290.4 L595.6 290.4 L595.6 298.5 L585.5 298.5Z" fill="#82366b" stroke="#e6dcdc" stroke-opacity="0.6" stroke-width="0.8" stroke-linejoin="round"/>
<path d="M571.3 298.1 L574.9 298.1 L574.9 300.9 L571.3 300.9Z" fill="#82366b" stroke="#e6dcdc" stroke-opacity="0.6" stroke-width="0.8" stroke-linejoin="round"/>
<path d="M573.3 304.5 L581.4 304.5 L581.4 310.6 L573.3 310.6Z" fill="#808080" stroke="#e6dcdc" stroke-opacity="0.6" stroke-width="0.8" stroke-linejoin="round"/>
<path d="M569.3 310.6 L579.4 310.6 L579.4 318.7 L569.3 318.7Z" fill="#808080" stroke="#e6dcdc" stroke-opacity="0.6" stroke-width="0.8" stroke-linejoin="round"/>
<path d="M565.3 320.7 L571.3 320.7 L571.3 326.8 L565.3 326.8Z" fill="#808080" stroke="#e6dcdc" stroke-opacity="0.6" stroke-width="0.8" stroke-linejoin="round"/>
<path d="M557.2 328.8 L563.2 328.8 L563.2 334.8 L557.2 334.8Z" fill="#808080" stroke="#e6dcdc" stroke-opacity="0.6" stroke-width="0.8" stroke-linejoin="round"/>
<path d="M502.6 293.4 L510.7 293.4 L510.7 302.5 L502.6 302.5Z" fill="#5adff2" stroke="#e6dcdc" stroke-opacity="0.6" stroke-width="0.8" stroke-linejoin="round"/>
<path d="M460.2 304.5 L466.3 304.5 L466.3 310.6 L460.2 310.6Z" fill="#5adff2" stroke="#e6dcdc" stroke-opacity="0.6" stroke-width="0.8" stroke-linejoin="round"/>
<path d="M473.3 314.6 L483.4 314.6 L483.4 320.7 L473.3 320.7Z" fill="#5adff2" stroke="#e6dcdc" stroke-opacity="0.6" stroke-width="0.8" stroke-linejoin="round"/>
<path d="M475.4 330.8 L485.5 330.8 L485.5 340.9 L475.4 340.9Z" fill="#5adff2" stroke="#e6dcdc" stroke-opacity="0.6" stroke-width="0.8" stroke-linejoin="round"/>
<path d="M486.5 338.9 L490.5 338.9 L490.5 344.9 L486.5 344.9Z" fill="#5adff2" stroke="#e6dcdc" stroke-opacity="0.6" stroke-width="0.8" stroke-linejoin="round"/>
<path d="M476.4 280.3 L480.4 280.3 L480.4 290.4 L476.4 290.4Z" fill="#5adff2" stroke="#e6dcdc" stroke-opacity="0.6" stroke-width="0.8" stroke-linejoin="round"/>
<path d="M541.0 302.5 L547.1 302.5 L547.1 306.6 L541.0 306.6Z" fill="#5adff2" stroke="#e6dcdc" stroke-opacity="0.6" stroke-width="0.8" stroke-linejoin="round"/>
<path d="M553.1 310.6 L557.2 310.6 L557.2 316.7 L553.1 316.7Z" fill="#5adff2" stroke="#e6dcdc" stroke-opacity="0.6" stroke-width="0.8" stroke-linejoin="round"/>
<path d="M561.2 302.5 L569.3 302.5 L569.3 310.6 L561.2 310.6Z" fill="#5adff2" stroke="#e6dcdc" stroke-opacity="0.6" stroke-width="0.8" stroke-linejoin="round"/>
<path d="M565.3 316.7 L573.3 316.7 L573.3 324.7 L565.3 324.7Z" fill="#5adff2" stroke="#e6dcdc" stroke-opacity="0.6" stroke-width="0.8" stroke-linejoin="round"/>
<path d="M553.1 330.8 L559.2 330.8 L559.2 334.8 L553.1 334.8Z" fill="#5adff2" stroke="#e6dcdc" stroke-opacity="0.6" stroke-width="0.8" stroke-linejoin="round"/>
<path d="M531.9 318.7 L537.0 318.7 L537.0 326.8 L531.9 326.8Z" fill="#5adff2" stroke="#e6dcdc" stroke-opacity="0.6" stroke-width="0.8" stroke-linejoin="round"/>
<path d="M528.9 336.9 L541.0 336.9 L541.0 347.0 L528.9 347.0Z" fill="#82366b" stroke="#e6dcdc" stroke-opacity="0.6" stroke-width="0.8" stroke-linejoin="round"/>
<path d="M542.0 338.9 L553.1 338.9 L553.1 347.0 L542.0 347.0Z" fill="#82366b" stroke="#e6dcdc" stroke-opacity="0.6" stroke-width="0.8" stroke-linejoin="round"/>
<path d="M565.3 336.9 L569.3 336.9 L569.3 340.9 L565.3 340.9Z" fill="#82366b" stroke="#e6dcdc" stroke-opacity="0.6" stroke-width="0.8" stroke-linejoin="round"/>
<path d="M527.9 343.3 L534.9 343.3 L534.9 351.0 L527.9 351.0Z" fill="#808080" stroke="#e6dcdc" stroke-opacity="0.6" stroke-width="0.8" stroke-linejoin="round"/>
<path d="M553.1 340.9 L561.2 340.9 L561.2 347.0 L553.1 347.0Z" fill="#808080" stroke="#e6dcdc" stroke-opacity="0.6" stroke-width="0.8" stroke-linejoin="round"/>
<path d="M450.1 340.9 L462.2 340.9 L462.2 351.0 L450.1 351.0Z" fill="#808080" stroke="#e6dcdc" stroke-opacity="0.6" stroke-width="0.8" stroke-linejoin="round"/>
<path d="M467.3 273.2 L473.3 273.2 L473.3 280.3 L467.3 280.3Z" fill="#83ed8c" stroke="#e6dcdc" stroke-opacity="0.6" stroke-width="0.8" stroke-linejoin="round"/>
<path d="M462.2 282.3 L470.3 282.3 L470.3 286.4 L462.2 286.4Z" fill="#83ed8c" stroke="#e6dcdc" stroke-opacity="0.6" stroke-width="0.8" stroke-linejoin="round"/>
<path d="M500.0 332.1 L576.8 332.1 L605.1 380.6 L605.1 414.9 L584.8 414.9 L560.6 360.4 L544.4 340.2 L530.3 354.3 L500.0 346.3Z" fill="#f5583a" stroke="#e6dcdc" stroke-opacity="0.6" stroke-width="0.8" stroke-linejoin="round"/>
<path d="M527.3 342.2 L537.4 342.2 L537.4 349.3 L527.3 349.3Z" fill="#808080" stroke="#e6dcdc" stroke-opacity="0.6" stroke-width="0.8" stroke-linejoin="round"/>
<path d="M530.3 337.8 L543.4 337.8 L543.4 345.9 L530.3 345.9Z" fill="#82366b" stroke="#e6dcdc" stroke-opacity="0.6" stroke-width="0.8" stroke-linejoin="round"/>
<path d="M546.5 340.2 L554.9 340.2 L554.9 350.3 L546.5 350.3Z" fill="#82366b" stroke="#e6dcdc" stroke-opacity="0.6" stroke-width="0.8" stroke-linejoin="round"/>
<path d="M543.4 337.8 L549.5 337.8 L549.5 341.8 L543.4 341.8Z" fill="#808080" stroke="#e6dcdc" stroke-opacity="0.6" stroke-width="0.8" stroke-linejoin="round"/>
<path d="M575.8 342.2 L581.2 342.2 L581.2 352.3 L575.8 352.3Z" fill="#808080" stroke="#e6dcdc" stroke-opacity="0.6" stroke-width="0.8" stroke-linejoin="round"/>
<path d="M576.8 353.3 L581.8 352.3 L585.9 360.4 L578.8 361.4Z" fill="#82366b" stroke="#e6dcdc" stroke-opacity="0.6" stroke-width="0.8" stroke-linejoin="round"/>
<path d="M576.8 359.4 L586.9 359.4 L590.9 370.5 L578.8 370.5Z" fill="#808080" stroke="#e6dcdc" stroke-opacity="0.6" stroke-width="0.8" stroke-linejoin="round"/>
<path d="M565.7 364.4 L572.7 364.4 L572.7 369.5 L565.7 369.5Z" fill="#82366b" stroke="#e6dcdc" stroke-opacity="0.6" stroke-width="0.8" stroke-linejoin="round"/>
<path d="M566.7 370.5 L574.7 370.5 L575.2 380.6 L567.7 380.6Z" fill="#808080" stroke="#e6dcdc" stroke-opacity="0.6" stroke-width="0.8" stroke-linejoin="round"/>
<path d="M568.3 382.2 L573.1 382.2 L573.1 387.1 L568.3 387.1Z" fill="#82366b" stroke="#e6dcdc" stroke-opacity="0.6" stroke-width="0.8" stroke-linejoin="round"/>
<path d="M582.8 382.6 L588.9 382.6 L588.9 388.7 L582.8 388.7Z" fill="#82366b" stroke="#e6dcdc" stroke-opacity="0.6" stroke-width="0.8" stroke-linejoin="round"/>
<path d="M577.8 395.2 L588.9 393.7 L589.9 399.8 L601.0 398.8 L601.0 408.9 L590.9 412.9 L582.8 404.8Z" fill="#808080" stroke="#e6dcdc" stroke-opacity="0.6" stroke-width="0.8" stroke-linejoin="round"/>
<path d="M585.9 371.5 L590.9 370.5 L594.9 378.6 L588.9 377.6Z" fill="#808080" stroke="#e6dcdc" stroke-opacity="0.6" stroke-width="0.8" stroke-linejoin="round"/>
<path d="M481.0 173.0 L486.0 172.0 L487.0 182.0 L482.0 182.0Z" fill="#808080" stroke="#e6dcdc" stroke-opacity="0.6" stroke-width="0.8" stroke-linejoin="round"/>
<path d="M613.7 117.0 L627.0 117.0 L627.0 134.0 L613.7 134.0Z" fill="#808080" stroke="#e6dcdc" stroke-opacity="0.6" stroke-width="0.8" stroke-linejoin="round"/>
<path d="M625.0 166.0 L634.0 165.0 L635.0 173.0 L626.0 172.0Z" fill="#808080" stroke="#e6dcdc" stroke-opacity="0.6" stroke-width="0.8" stroke-linejoin="round"/>
<path d="M663.0 74.2 L667.1 74.2 L670.1 88.4 L676.2 80.3 L685.3 90.4 L681.2 96.5 L673.1 102.5 L667.1 110.6 L661.0 118.7 L657.0 116.7 L649.9 97.5 L652.9 95.5 L661.0 100.5 L665.1 96.5 L664.0 90.4Z" fill="#f5583a" stroke="#e6dcdc" stroke-opacity="0.6" stroke-width="0.8" stroke-linejoin="round"/>
<path d="M661.0 108.6 L665.1 106.6 L667.1 110.6 L663.0 113.6Z" fill="#5adff2" stroke="#e6dcdc" stroke-opacity="0.6" stroke-width="0.8" stroke-linejoin="round"/>
<path d="M653.0 118.0 L658.0 116.0 L659.0 124.0 L654.0 125.0Z" fill="#5adff2" stroke="#e6dcdc" stroke-opacity="0.6" stroke-width="0.8" stroke-linejoin="round"/>
<path d="M652.0 127.0 L657.0 127.0 L657.0 133.0 L652.0 133.0Z" fill="#5adff2" stroke="#e6dcdc" stroke-opacity="0.6" stroke-width="0.8" stroke-linejoin="round"/>
<path d="M656.0 133.0 L660.0 133.0 L660.0 139.0 L656.0 139.0Z" fill="#808080" stroke="#e6dcdc" stroke-opacity="0.6" stroke-width="0.8" stroke-linejoin="round"/>
<path d="M419.4 231.6 L425.5 231.6 L425.5 240.7 L419.4 240.7Z" fill="#f5583a" stroke="#e6dcdc" stroke-opacity="0.6" stroke-width="0.8" stroke-linejoin="round"/>
<path d="M450.7 221.5 L455.8 221.5 L455.8 224.5 L450.7 224.5Z" fill="#f5583a" stroke="#e6dcdc" stroke-opacity="0.6" stroke-width="0.8" stroke-linejoin="round"/>
<path d="M427.5 250.8 L446.7 250.8 L446.7 256.9 L427.5 256.9Z" fill="#5adff2" stroke="#e6dcdc" stroke-opacity="0.6" stroke-width="0.8" stroke-linejoin="round"/>
<path d="M446.7 246.8 L456.8 246.8 L456.8 254.8 L446.7 254.8Z" fill="#5adff2" stroke="#e6dcdc" stroke-opacity="0.6" stroke-width="0.8" stroke-linejoin="round"/>
<path d="M473.9 190.2 L481.0 190.2 L481.0 197.3 L473.9 197.3Z" fill="#f5583a" stroke="#e6dcdc" stroke-opacity="0.6" stroke-width="0.8" stroke-linejoin="round"/>
<path d="M482.0 187.8 L487.1 187.8 L487.1 191.4 L482.0 191.4Z" fill="#f5583a" stroke="#e6dcdc" stroke-opacity="0.6" stroke-width="0.8" stroke-linejoin="round"/>
<path d="M478.6 222.9 L483.0 222.9 L483.0 226.6 L478.6 226.6Z" fill="#82366b" stroke="#e6dcdc" stroke-opacity="0.6" stroke-width="0.8" stroke-linejoin="round"/>
<path d="M474.5 238.7 L481.0 238.7 L481.0 242.3 L474.5 242.3Z" fill="#5adff2" stroke="#e6dcdc" stroke-opacity="0.6" stroke-width="0.8" stroke-linejoin="round"/>
<path d="M485.1 236.7 L488.3 236.7 L488.3 240.7 L485.1 240.7Z" fill="#5adff2" stroke="#e6dcdc" stroke-opacity="0.6" stroke-width="0.8" stroke-linejoin="round"/>
<path d="M206.7 162.9 L239.4 168.8 L237.4 181.7 L256.2 186.6 L249.3 243.1 L192.9 234.2Z" fill="#f5583a" stroke="#e6dcdc" stroke-opacity="0.6" stroke-width="0.8" stroke-linejoin="round"/>
<path d="M204.8 176.7 L221.6 177.7 L220.6 192.6 L201.8 191.6Z" fill="#82366b" stroke="#e6dcdc" stroke-opacity="0.6" stroke-width="0.8" stroke-linejoin="round"/>
<path d="M197.8 210.4 L214.7 213.4 L215.6 220.3 L239.4 224.3 L236.4 229.2 L229.5 233.2 L205.7 228.2 L196.8 226.2Z" fill="#83ed8c" stroke="#e6dcdc" stroke-opacity="0.6" stroke-width="0.8" stroke-linejoin="round"/>
<path d="M194.9 226.2 L205.7 228.2 L229.5 233.2 L227.5 241.1 L193.5 234.8Z" fill="#82366b" stroke="#e6dcdc" stroke-opacity="0.6" stroke-width="0.8" stroke-linejoin="round"/>
<path d="M223.2 163.9 L232.5 165.8 L231.9 173.8 L227.5 179.7 L224.0 187.6 L222.0 179.7Z" fill="#82366b" stroke="#e6dcdc" stroke-opacity="0.6" stroke-width="0.8" stroke-linejoin="round"/>
<path d="M230.5 179.7 L237.4 182.7 L247.3 186.6 L239.4 189.6 L230.5 186.6Z" fill="#83ed8c" stroke="#e6dcdc" stroke-opacity="0.6" stroke-width="0.8" stroke-linejoin="round"/>
<path d="M229.5 203.5 L241.4 204.5 L240.4 217.3 L228.5 216.3Z" fill="#82366b" stroke="#e6dcdc" stroke-opacity="0.6" stroke-width="0.8" stroke-linejoin="round"/>
<path d="M216.6 209.4 L227.5 210.4 L226.5 217.3 L215.6 216.3Z" fill="#82366b" stroke="#e6dcdc" stroke-opacity="0.6" stroke-width="0.8" stroke-linejoin="round"/>
<path d="M220.6 217.3 L241.4 218.3 L241.4 222.9 L220.6 221.7Z" fill="#82366b" stroke="#e6dcdc" stroke-opacity="0.6" stroke-width="0.8" stroke-linejoin="round"/>
<path d="M180.0 156.9 L206.7 162.9 L199.8 199.5 L194.9 209.4 L185.9 206.4 L180.0 199.5Z" fill="#83ed8c" stroke="#e6dcdc" stroke-opacity="0.6" stroke-width="0.8" stroke-linejoin="round"/>
<path d="M180.0 200.5 L185.9 206.4 L194.9 209.4 L192.9 234.2 L180.0 232.2Z" fill="#82366b" stroke="#e6dcdc" stroke-opacity="0.6" stroke-width="0.8" stroke-linejoin="round"/>
<path d="M103.8 134.0 L108.8 135.9 L106.8 147.8 L101.8 155.7 L100.8 163.7 L94.9 161.7 L93.9 153.8 L98.9 145.8Z" fill="#83ed8c" stroke="#e6dcdc" stroke-opacity="0.6" stroke-width="0.8" stroke-linejoin="round"/>
<path d="M106.8 135.9 L127.6 140.9 L127.6 149.8 L114.7 150.8 L107.8 147.8Z" fill="#82366b" stroke="#e6dcdc" stroke-opacity="0.6" stroke-width="0.8" stroke-linejoin="round"/>
<path d="M104.8 149.8 L116.7 147.8 L110.7 155.7 L106.8 162.7 L102.4 162.7Z" fill="#808080" stroke="#e6dcdc" stroke-opacity="0.6" stroke-width="0.8" stroke-linejoin="round"/>
<path d="M95.9 164.7 L103.8 162.7 L104.8 173.6 L101.8 183.5 L96.9 181.5Z" fill="#82366b" stroke="#e6dcdc" stroke-opacity="0.6" stroke-width="0.8" stroke-linejoin="round"/>
<path d="M103.8 172.6 L110.7 169.6 L112.7 181.5 L108.8 195.3 L102.8 189.4Z" fill="#f5583a" stroke="#e6dcdc" stroke-opacity="0.6" stroke-width="0.8" stroke-linejoin="round"/>
<path d="M123.6 166.6 L131.5 167.6 L136.5 177.5 L127.6 178.5 L122.6 173.6Z" fill="#83ed8c" stroke="#e6dcdc" stroke-opacity="0.6" stroke-width="0.8" stroke-linejoin="round"/>
<path d="M115.7 183.5 L121.6 183.1 L121.6 195.3 L115.7 195.3Z" fill="#f5583a" stroke="#e6dcdc" stroke-opacity="0.6" stroke-width="0.8" stroke-linejoin="round"/>
<path d="M104.8 205.2 L112.7 207.2 L116.7 227.0 L104.8 229.0Z" fill="#f5583a" stroke="#e6dcdc" stroke-opacity="0.6" stroke-width="0.8" stroke-linejoin="round"/>
<path d="M131.5 193.4 L136.5 193.4 L136.5 198.3 L131.5 198.3Z" fill="#808080" stroke="#e6dcdc" stroke-opacity="0.6" stroke-width="0.8" stroke-linejoin="round"/>
<path d="M134.5 198.3 L139.5 199.3 L152.3 221.1 L146.4 223.1 L141.4 213.2Z" fill="#83ed8c" stroke="#e6dcdc" stroke-opacity="0.6" stroke-width="0.8" stroke-linejoin="round"/>
<path d="M196.0 305.0 L262.0 312.0 L262.0 330.0 L205.0 324.0Z" fill="#82366b" stroke="#e6dcdc" stroke-opacity="0.6" stroke-width="0.8" stroke-linejoin="round"/>
<path d="M202.7 120.7 L215.5 122.7 L225.4 134.6 L228.4 142.5 L219.5 144.5 L214.6 137.6 L209.6 130.6 L203.7 128.7Z" fill="#83ed8c" stroke="#e6dcdc" stroke-opacity="0.6" stroke-width="0.8" stroke-linejoin="round"/>
<path d="M210.6 113.8 L217.5 110.8 L227.4 130.6 L221.5 132.6 L212.6 122.7Z" fill="#82366b" stroke="#e6dcdc" stroke-opacity="0.6" stroke-width="0.8" stroke-linejoin="round"/>
<path d="M194.8 113.8 L209.6 114.8 L208.6 124.7 L195.7 125.7Z" fill="#82366b" stroke="#e6dcdc" stroke-opacity="0.6" stroke-width="0.8" stroke-linejoin="round"/>
<path d="M205.6 134.6 L212.6 135.6 L216.5 144.5 L209.6 146.5Z" fill="#82366b" stroke="#e6dcdc" stroke-opacity="0.6" stroke-width="0.8" stroke-linejoin="round"/>
<path d="M204.7 144.5 L214.6 144.5 L214.6 150.4 L204.7 150.4Z" fill="#83ed8c" stroke="#e6dcdc" stroke-opacity="0.6" stroke-width="0.8" stroke-linejoin="round"/>
<path d="M225.4 130.6 L244.3 129.7 L243.3 137.6 L235.3 139.6 L227.4 135.6Z" fill="#82366b" stroke="#e6dcdc" stroke-opacity="0.6" stroke-width="0.8" stroke-linejoin="round"/>
<path d="M227.4 137.6 L237.3 139.6 L235.3 144.5 L227.4 143.5Z" fill="#83ed8c" stroke="#e6dcdc" stroke-opacity="0.6" stroke-width="0.8" stroke-linejoin="round"/>
<path d="M229.4 142.5 L239.3 140.5 L241.3 150.4 L235.3 152.4Z" fill="#82366b" stroke="#e6dcdc" stroke-opacity="0.6" stroke-width="0.8" stroke-linejoin="round"/>
<path d="M243.3 138.6 L253.2 138.6 L253.2 148.5 L243.3 149.5Z" fill="#808080" stroke="#e6dcdc" stroke-opacity="0.6" stroke-width="0.8" stroke-linejoin="round"/>
<path d="M219.5 152.4 L227.4 152.4 L227.4 161.3 L219.5 160.3Z" fill="#82366b" stroke="#e6dcdc" stroke-opacity="0.6" stroke-width="0.8" stroke-linejoin="round"/>
<path d="M228.4 162.3 L235.3 162.3 L235.3 174.2 L228.4 174.2Z" fill="#82366b" stroke="#e6dcdc" stroke-opacity="0.6" stroke-width="0.8" stroke-linejoin="round"/>
<path d="M229.4 180.1 L241.3 182.1 L239.3 188.1 L229.4 187.1Z" fill="#83ed8c" stroke="#e6dcdc" stroke-opacity="0.6" stroke-width="0.8" stroke-linejoin="round"/>
<path d="M215.5 145.5 L229.4 145.5 L229.4 152.4 L215.5 152.4Z" fill="#f5583a" stroke="#e6dcdc" stroke-opacity="0.6" stroke-width="0.8" stroke-linejoin="round"/>
<path d="M458.5 115.5 L467.0 118.0 L467.0 128.5 L458.5 128.5Z" fill="#808080" stroke="#e6dcdc" stroke-opacity="0.6" stroke-width="0.8" stroke-linejoin="round"/>
<path d="M481.0 121.0 L490.5 118.5 L490.0 123.0 L484.5 129.0 L482.0 129.0Z" fill="#808080" stroke="#e6dcdc" stroke-opacity="0.6" stroke-width="0.8" stroke-linejoin="round"/>
<path d="M476.0 117.5 L480.5 118.5 L480.0 124.0 L476.0 123.0Z" fill="#f5583a" stroke="#e6dcdc" stroke-opacity="0.6" stroke-width="0.8" stroke-linejoin="round"/>
<path d="M515.5 122.5 L525.0 124.5 L525.5 127.0 L515.5 126.5Z" fill="#808080" stroke="#e6dcdc" stroke-opacity="0.6" stroke-width="0.8" stroke-linejoin="round"/>
<path d="M505.0 108.0 L512.0 110.5 L516.0 114.0 L510.0 113.5 L505.0 112.0Z" fill="#f5583a" stroke="#e6dcdc" stroke-opacity="0.6" stroke-width="0.8" stroke-linejoin="round"/>
<path d="M280.7 191.7L287.9 192.6L287.3 197.9L280.9 199.5L278.2 197.9ZM283.3 317.1L276.7 325.7L283.3 327.3L285.5 321.2ZM289.5 328.3L284.0 328.3L283.3 327.3L285.5 321.2L290.1 323.1L291.0 326.2ZM291.0 326.2L290.1 323.1L293.8 318.5L297.1 319.6L296.8 326.6ZM302.8 326.6L302.2 317.7L297.1 319.6L296.8 326.6L296.9 326.8ZM282.9 334.5L279.4 338.9L274.8 338.9L276.4 325.8L276.7 325.7L283.3 327.3L284.0 328.3ZM289.5 328.3L284.0 328.3L282.9 334.5L290.8 333.1ZM296.1 333.2L291.5 333.7L290.8 333.1L289.5 328.3L291.0 326.2L296.8 326.6L296.9 326.8L296.6 332.7ZM291.5 333.7L290.8 333.1L282.9 334.5L279.4 338.9L285.2 342.5L290.6 338.5ZM295.8 340.8L290.6 338.5L291.5 333.7L296.1 333.2L298.0 339.0ZM298.0 339.0L296.1 333.2L296.6 332.7L302.4 332.7L303.4 334.1L302.5 339.3L302.2 339.6ZM295.3 344.5L287.3 347.0L285.2 342.5L290.6 338.5L295.8 340.8ZM296.5 345.6L302.4 345.1L302.2 339.6L298.0 339.0L295.8 340.8L295.3 344.5ZM296.5 345.6L297.1 351.0L287.1 351.1L287.3 347.0L295.3 344.5ZM296.5 345.6L297.1 351.0L298.0 351.8L302.0 351.4L302.6 345.3L302.4 345.1ZM222.1 123.1L224.9 111.6L224.8 111.5L212.5 111.9L211.5 117.2L218.1 124.0ZM110.1 175.6L118.8 179.3L122.2 173.3L121.4 169.9L120.2 168.8L109.9 172.5L109.2 174.0ZM159.6 156.2L154.9 161.6L156.9 174.3L161.1 176.7L176.5 167.5L166.3 154.9ZM273.9 75.9L271.7 63.8L262.3 67.0L261.9 73.8L270.0 80.2L270.4 80.1ZM289.4 311.4L291.0 306.3L292.7 306.1L303.7 312.8L304.4 315.2L304.4 315.4L302.2 317.7L297.1 319.6L293.8 318.5ZM174.7 62.1L176.6 52.0L168.1 50.9L166.1 60.4ZM280.9 102.4L281.1 90.3L288.6 91.3L292.0 96.9L288.7 103.9L281.8 103.3ZM219.5 193.3L217.9 181.8L225.0 173.4L236.9 178.2L235.5 192.4L233.6 193.8ZM178.9 140.0L190.2 152.7L198.9 152.0L201.4 138.6L201.1 138.0L192.0 131.7L179.3 138.8ZM134.4 45.1L141.7 41.8L143.5 36.0L110.7 11.2L115.5 33.6ZM270.4 255.2L263.8 260.1L264.7 269.5L271.1 273.0L284.2 263.5L282.1 256.7ZM166.6 256.3L162.6 273.3L148.0 278.5L144.8 264.6L146.8 260.5L157.5 253.7ZM133.0 261.0L144.8 264.6L148.0 278.5L147.2 279.8L114.0 291.8L127.4 262.4ZM196.2 193.4L198.1 177.3L181.9 172.3L176.1 190.4L186.7 197.9ZM114.0 291.8L147.2 279.8L161.9 303.5L159.1 361.6L155.4 362.8L45.9 362.4L42.5 358.8L51.9 338.8ZM157.8 108.5L173.0 104.2L173.2 104.4L174.3 120.4L172.2 123.0L165.3 123.4L156.2 114.3L156.7 109.8ZM225.1 45.7L233.6 44.8L241.7 54.9L241.4 60.3L232.8 66.3L225.6 64.8L221.3 53.0ZM224.1 212.3L220.6 221.1L221.7 223.2L234.0 225.7L241.9 217.3L238.4 208.7L236.4 208.1ZM201.9 120.6L192.4 125.0L192.0 131.7L201.1 138.0L207.1 127.9L204.0 121.4ZM124.2 256.8L127.4 262.4L114.0 291.8L51.9 338.8L65.1 280.1L119.1 254.6ZM159.6 156.2L148.3 146.3L147.6 144.5L158.1 135.7L169.5 145.7L166.3 154.9ZM247.4 311.5L237.0 306.3L226.6 313.4L228.7 334.6L250.3 327.2ZM201.8 290.5L201.5 275.5L188.0 269.7L176.7 281.5L176.8 284.7L193.3 298.0ZM158.1 75.4L162.9 80.2L162.6 85.4L154.0 86.0L151.1 78.3L151.6 77.3ZM116.1 120.4L119.2 111.8L114.5 106.7L103.0 114.8L115.0 121.1ZM258.7 64.9L256.3 52.3L241.7 54.9L241.4 60.3L242.3 61.8L251.9 67.6ZM156.2 114.3L149.1 118.5L148.0 127.3L158.1 133.4L165.3 123.4ZM218.5 140.8L215.2 157.1L224.1 162.3L237.6 154.5L230.6 139.6L227.4 138.3ZM201.8 290.5L216.9 296.0L222.4 290.4L221.0 277.2L210.3 270.7L201.5 275.5ZM281.1 90.3L280.4 89.7L285.2 77.2L294.5 84.3L288.6 91.3ZM112.1 142.5L105.7 131.8L97.5 129.6L91.9 141.1L106.6 145.8ZM271.4 229.4L272.5 223.6L268.3 219.2L260.6 220.2L257.7 224.3L258.1 228.6L264.9 232.7ZM251.3 283.7L238.8 282.7L233.0 271.9L236.2 264.7L244.2 265.1L254.1 274.2ZM271.1 273.0L272.9 278.3L287.6 285.9L289.3 285.0L291.8 279.0L286.3 264.5L284.2 263.5ZM186.7 197.9L176.1 190.4L166.7 193.0L164.8 209.3L177.7 214.0L184.4 211.0ZM104.3 236.3L112.8 238.8L115.0 245.6L66.9 266.3L67.0 262.8ZM276.2 141.3L281.3 140.4L288.2 143.5L292.3 151.0L284.6 158.6L277.8 157.9L273.2 144.9ZM147.9 49.0L141.7 41.8L143.5 36.0L150.1 34.5L153.0 44.9ZM154.0 246.7L157.5 253.7L166.6 256.3L168.3 255.4L175.4 236.5L161.3 232.0L159.1 233.6ZM284.7 75.7L287.3 70.3L281.1 50.4L271.7 63.8L273.9 75.9ZM239.2 102.8L238.4 98.9L244.1 89.6L245.3 89.3L253.0 93.5L250.6 100.9L240.6 104.1ZM203.0 94.2L205.8 106.8L199.9 109.8L192.5 107.9L197.1 95.2ZM264.4 196.5L260.7 189.5L263.6 181.1L265.8 180.9L272.6 187.5L271.1 194.4ZM282.4 298.2L287.6 285.9L289.3 285.0L298.5 289.7L301.7 297.7L292.7 306.1L291.0 306.3ZM252.5 198.0L247.3 200.6L245.9 204.8L254.4 211.0L255.8 211.0L258.0 208.9L257.7 200.8ZM131.7 164.5L139.8 160.7L140.8 158.2L135.6 153.2L130.0 155.6L129.2 160.5ZM273.9 124.7L271.4 131.1L276.2 141.3L281.3 140.4L286.0 128.5L280.8 124.1ZM260.7 189.5L263.6 181.1L258.8 177.8L248.3 180.4L248.6 187.4L253.6 191.6ZM156.7 109.8L156.2 114.3L149.1 118.5L143.6 116.6L140.8 108.2L143.7 103.4L145.0 103.1ZM155.4 66.3L148.1 69.7L144.7 68.2L145.0 62.1L153.0 57.5L155.3 58.2ZM189.6 320.5L165.1 361.2L204.1 371.4L228.7 334.6L226.6 313.4L218.1 306.8ZM226.3 126.3L234.9 123.2L239.3 127.0L239.7 133.4L230.6 139.6L227.4 138.3ZM119.3 181.3L127.9 183.0L129.4 185.9L122.1 190.7L117.0 186.2ZM278.9 111.8L273.5 113.0L271.1 120.5L273.9 124.7L280.8 124.1L284.0 116.0ZM126.7 69.1L135.0 67.3L139.6 70.8L139.5 71.6L129.5 79.8L129.0 79.3ZM664.5 73.9L663.2 71.7L659.1 70.2L653.9 72.4L653.5 78.2L658.9 82.7L663.9 80.3ZM200.0 219.7L198.1 226.0L178.8 236.9L175.7 236.4L177.7 214.0L184.4 211.0ZM271.4 307.6L265.6 309.3L256.7 303.4L254.6 292.4L254.8 291.8L266.3 289.8L276.7 299.8ZM124.5 197.6L129.8 203.9L128.7 208.2L126.4 210.0L118.4 207.6L117.6 205.4L120.3 198.3L122.5 197.1ZM239.4 236.1L239.8 232.7L234.0 225.7L221.7 223.2L219.8 238.2L223.1 242.0L232.7 242.4ZM233.0 271.9L221.0 277.2L210.3 270.7L212.7 261.0L221.4 256.2L234.8 262.3L236.2 264.7ZM172.2 123.0L179.3 138.8L192.0 131.7L192.4 125.0L187.0 118.6L174.3 120.4ZM255.8 211.0L260.6 220.2L257.7 224.3L248.2 221.4L247.1 219.2L254.4 211.0ZM193.3 298.0L189.6 320.5L165.1 361.2L159.1 361.6L161.9 303.5L176.8 284.7ZM176.0 88.6L174.8 86.7L164.1 87.3L163.2 93.9L172.2 101.5ZM189.5 56.4L193.7 60.6L200.8 60.0L204.6 55.8L201.8 46.9L193.4 45.3ZM253.2 239.2L248.2 242.6L247.7 248.1L253.0 254.3L257.1 254.4L262.4 242.7ZM125.4 143.7L136.3 147.8L143.4 142.6L142.5 140.8L136.1 137.0L128.2 139.3ZM113.1 227.4L115.1 228.6L117.0 235.3L112.8 238.8L104.3 236.3L107.3 228.4ZM123.5 219.8L124.9 225.2L129.8 225.7L136.3 219.8L135.6 218.4L126.4 216.1ZM141.8 83.3L143.2 88.5L137.6 93.1L129.0 88.0L130.4 82.2ZM238.4 208.7L241.9 217.3L247.1 219.2L254.4 211.0L245.9 204.8ZM271.1 273.0L272.9 278.3L266.3 289.8L254.8 291.8L251.3 283.7L254.1 274.2L264.7 269.5ZM110.1 175.6L118.8 179.3L119.3 181.3L117.0 186.2L115.2 186.8L109.1 183.2ZM282.4 255.8L291.6 249.6L299.7 255.0L299.8 255.1L299.8 258.7L297.8 261.6L286.3 264.5L284.2 263.5L282.1 256.7ZM176.7 64.8L180.3 65.0L186.7 71.1L183.4 77.5L176.5 79.3L171.4 74.0L171.3 73.8ZM276.4 325.8L273.0 323.5L261.3 323.7L256.2 328.7L264.8 343.7L274.8 338.9ZM128.6 101.8L126.9 89.7L115.8 90.5L116.1 99.8L127.3 102.7L128.2 102.4ZM248.2 242.6L239.4 236.1L232.7 242.4L237.9 250.8L247.7 248.1ZM249.2 121.5L239.3 127.0L234.9 123.2L235.3 116.3L241.7 111.8L248.0 115.5ZM109.2 174.0L109.9 172.5L108.7 164.6L102.8 162.5L101.7 163.2L99.8 171.6L103.5 174.5ZM148.1 69.7L144.7 68.2L139.6 70.8L139.5 71.6L142.9 81.2L151.1 78.3L151.6 77.3ZM268.8 95.7L266.9 95.1L265.4 85.3L270.0 80.2L270.4 80.1L279.4 89.5ZM115.0 220.0L113.1 227.4L115.1 228.6L123.9 226.7L124.9 225.2L123.5 219.8L118.3 218.3ZM674.7 75.5L669.9 84.3L663.9 80.3L664.5 73.9L671.7 73.0ZM134.2 201.8L141.1 206.6L140.6 209.1L136.8 211.8L128.7 208.2L129.8 203.9ZM670.8 98.7L672.9 105.3L666.1 108.7L665.8 108.7L665.5 108.4L665.5 100.9ZM199.9 109.8L201.9 120.6L192.4 125.0L187.0 118.6L190.3 108.5L192.5 107.9ZM127.9 183.0L129.5 176.7L130.7 176.0L137.8 177.8L137.7 184.2L130.7 186.6L129.4 185.9ZM205.8 199.9L217.5 196.6L224.1 212.3L220.6 221.1L202.0 218.6ZM265.6 309.3L261.3 323.7L256.2 328.7L250.3 327.2L247.4 311.5L256.7 303.4ZM236.9 178.2L242.4 176.6L245.8 164.6L238.5 154.6L237.6 154.5L224.1 162.3L225.0 173.4ZM198.1 177.3L181.9 172.3L179.0 168.3L190.2 152.7L198.9 152.0L206.2 158.1L199.5 176.5ZM171.4 74.0L176.5 79.3L174.8 86.7L164.1 87.3L162.6 85.4L162.9 80.2ZM239.2 102.8L225.7 106.2L224.8 111.5L224.9 111.6L235.3 116.3L241.7 111.8L240.6 104.1ZM202.0 218.6L220.6 221.1L221.7 223.2L219.8 238.2L204.7 241.4L198.1 226.0L200.0 219.7ZM205.8 199.9L217.5 196.6L219.5 193.3L217.9 181.8L199.5 176.5L198.1 177.3L196.2 193.4ZM262.3 67.0L271.7 63.8L281.1 50.4L283.2 39.2L275.4 34.2L256.3 52.3L258.7 64.9ZM106.6 145.8L91.9 141.1L80.6 148.9L102.9 155.5L105.9 153.0ZM276.7 299.8L266.3 289.8L272.9 278.3L287.6 285.9L282.4 298.2ZM281.3 140.4L286.0 128.5L293.0 127.4L296.1 135.5L288.2 143.5ZM237.6 154.5L238.5 154.6L246.3 149.1L248.3 137.4L239.7 133.4L230.6 139.6ZM132.1 247.8L128.3 248.7L124.2 256.8L127.4 262.4L133.0 261.0L135.6 251.5ZM302.8 273.6L291.8 279.0L286.3 264.5L297.8 261.6L303.0 272.8ZM189.5 56.4L193.7 60.6L190.9 70.0L186.7 71.1L180.3 65.0L186.5 56.7ZM109.0 216.6L102.4 221.5L88.6 217.3L92.6 213.4L106.4 208.9L109.5 212.7ZM263.2 96.7L253.3 93.4L257.8 84.5L265.4 85.3L266.9 95.1ZM201.8 46.9L213.8 35.8L225.1 45.7L221.3 53.0L213.6 57.7L204.6 55.8ZM273.9 124.7L271.4 131.1L261.5 131.6L259.8 123.0L262.8 119.6L271.1 120.5ZM142.2 52.8L147.8 49.4L153.0 57.5L145.0 62.1L141.3 58.2ZM150.5 93.3L149.9 91.5L154.0 86.0L162.6 85.4L164.1 87.3L163.2 93.9L157.6 97.0ZM262.3 67.0L261.9 73.8L254.6 78.6L251.2 77.5L251.9 67.6L258.7 64.9ZM176.7 281.5L162.6 273.3L148.0 278.5L147.2 279.8L161.9 303.5L176.8 284.7ZM161.1 176.7L162.0 189.4L157.7 190.2L147.5 183.3L148.1 177.5L149.9 175.7L156.9 174.3ZM157.7 190.2L147.5 183.3L142.0 187.4L142.1 187.9L150.3 195.4ZM278.7 221.5L280.5 217.8L280.2 212.1L278.8 210.4L275.8 209.5L269.0 214.5L268.3 219.2L272.5 223.6ZM201.5 275.5L210.3 270.7L212.7 261.0L200.9 248.4L193.6 250.6L186.7 264.4L188.0 269.7ZM222.1 123.1L226.3 126.3L227.4 138.3L218.5 140.8L216.8 139.4L214.4 128.6L218.1 124.0ZM216.8 139.4L201.4 138.6L198.9 152.0L206.2 158.1L215.2 157.1L218.5 140.8ZM189.5 56.4L193.4 45.3L189.7 40.8L179.9 45.7L178.3 51.0L186.5 56.7ZM245.3 89.3L248.7 78.3L251.2 77.5L254.6 78.6L257.8 84.5L253.3 93.4L253.0 93.5ZM121.4 169.9L131.5 166.2L131.7 164.5L129.2 160.5L121.6 160.8L119.3 164.9L120.2 168.8ZM661.4 93.1L669.5 90.4L670.8 85.6L669.9 84.3L663.9 80.3L658.9 82.7L656.3 89.2ZM222.1 123.1L224.9 111.6L235.3 116.3L234.9 123.2L226.3 126.3ZM128.2 102.4L127.3 102.7L123.9 111.0L130.3 118.1L130.8 117.9L134.5 109.5ZM105.9 184.9L105.3 191.9L102.8 192.7L95.1 187.3L96.7 183.3L100.2 182.0ZM142.2 52.8L147.8 49.4L147.9 49.0L141.7 41.8L134.4 45.1L135.6 49.2ZM224.6 80.9L225.7 89.8L217.2 91.0L213.1 82.4L214.6 80.9ZM246.3 149.1L238.5 154.6L245.8 164.6L257.8 165.0L261.4 161.6L259.9 151.6ZM166.3 154.9L169.5 145.7L178.9 140.0L190.2 152.7L179.0 168.3L176.5 167.5ZM118.6 130.2L115.2 126.5L115.0 121.1L116.1 120.4L128.5 120.3L128.0 128.2L126.2 129.9ZM186.7 71.1L183.4 77.5L190.0 85.3L195.3 81.9L196.6 73.8L190.9 70.0ZM273.2 144.9L263.9 146.3L259.9 151.6L261.4 161.6L271.6 164.0L277.8 157.9ZM204.6 55.8L213.6 57.7L212.8 68.5L204.3 70.5L200.8 60.0ZM139.8 160.7L143.0 167.7L145.1 168.0L152.1 161.9L142.9 157.4L140.8 158.2ZM244.2 265.1L253.0 254.3L247.7 248.1L237.9 250.8L234.8 262.3L236.2 264.7ZM157.4 45.5L167.8 30.7L169.9 36.8L167.1 49.8L160.4 49.4ZM152.4 205.1L142.1 205.6L143.1 198.7L150.1 195.9ZM232.6 291.4L238.1 299.1L237.0 306.3L226.6 313.4L218.1 306.8L216.9 296.0L222.4 290.4ZM163.9 68.2L171.3 73.8L176.7 64.8L174.7 62.1L166.1 60.4L165.9 60.5ZM130.6 235.6L134.2 231.4L135.8 231.2L140.9 235.9L137.1 241.6L134.2 242.1L130.7 238.4ZM158.1 133.4L148.0 127.3L145.1 128.9L142.5 140.8L143.4 142.6L147.6 144.5L158.1 135.7ZM114.1 78.8L115.4 90.0L115.8 90.5L126.9 89.7L129.0 88.0L130.4 82.2L129.5 79.8L129.0 79.3ZM161.7 211.0L159.0 225.2L148.4 223.2L146.1 217.5L147.0 215.0L157.5 210.1ZM122.1 190.7L122.5 197.1L124.5 197.6L132.1 193.2L130.7 186.6L129.4 185.9ZM274.3 173.0L271.6 164.0L261.4 161.6L257.8 165.0L258.8 177.8L263.6 181.1L265.8 180.9ZM670.8 85.6L669.5 90.4L672.5 96.3L675.1 96.6L681.3 89.7L681.0 88.8L672.3 85.6ZM109.0 216.6L102.4 221.5L107.3 228.4L113.1 227.4L115.0 220.0ZM205.8 199.9L202.0 218.6L200.0 219.7L184.4 211.0L186.7 197.9L196.2 193.4ZM263.5 242.3L262.4 242.7L257.1 254.4L263.8 260.1L270.4 255.2L269.8 244.6ZM653.6 122.7L653.9 120.9L657.6 118.3L661.9 123.7L660.7 126.5L655.5 126.1ZM239.2 102.8L225.7 106.2L224.0 102.9L228.6 92.1L229.2 92.1L238.4 98.9ZM178.8 236.9L198.1 226.0L204.7 241.4L200.9 248.4L193.6 250.6ZM232.9 77.0L232.8 66.3L241.4 60.3L242.3 61.8L242.2 75.6L235.4 78.4ZM125.4 143.7L128.2 139.3L126.2 129.9L118.6 130.2L116.5 141.5L125.4 143.8ZM213.6 57.7L212.8 68.5L215.5 70.7L221.9 70.2L225.6 64.8L221.3 53.0ZM274.9 233.0L280.3 233.3L283.1 231.1L281.7 224.1L278.7 221.5L272.5 223.6L271.4 229.4ZM288.7 103.9L290.6 106.8L299.7 108.9L301.9 96.6L292.0 96.9ZM208.0 82.8L203.1 72.1L196.6 73.8L195.3 81.9L204.6 86.2ZM272.4 101.8L269.7 108.4L260.1 108.9L263.2 96.7L266.9 95.1L268.8 95.7ZM656.4 107.7L655.9 113.0L658.0 116.5L664.3 115.1L665.8 108.7L665.5 108.4L656.6 107.5ZM183.3 103.2L190.3 108.5L187.0 118.6L174.3 120.4L173.2 104.4ZM137.1 241.6L143.6 246.6L141.8 250.8L135.6 251.5L132.1 247.8L134.2 242.1ZM283.3 316.3L276.2 313.7L271.4 307.6L276.7 299.8L282.4 298.2L291.0 306.3L289.4 311.4ZM186.6 91.7L188.9 90.4L197.1 95.2L192.5 107.9L190.3 108.5L183.3 103.2ZM297.5 169.5L293.6 172.5L291.2 172.1L284.6 158.6L292.3 151.0L296.6 151.8L300.5 156.3ZM199.9 109.8L201.9 120.6L204.0 121.4L211.5 117.2L212.5 111.9L209.4 107.6L205.8 106.8ZM296.7 183.4L289.5 188.6L282.4 182.3L282.9 176.2L291.2 172.1L293.6 172.5L297.4 180.4ZM176.0 88.6L172.2 101.5L173.0 104.2L173.2 104.4L183.3 103.2L186.6 91.7ZM115.0 121.1L103.0 114.8L93.9 114.5L97.5 129.6L105.7 131.8L115.2 126.5ZM150.5 93.3L149.9 91.5L143.2 88.5L137.6 93.1L137.4 98.1L143.7 103.4L145.0 103.1ZM116.1 99.8L115.8 90.5L115.4 90.0L83.5 94.3L76.5 99.6L79.3 101.5L115.3 100.7ZM240.6 104.1L241.7 111.8L248.0 115.5L257.0 109.1L250.6 100.9ZM139.3 170.7L143.0 167.7L145.1 168.0L149.9 175.7L148.1 177.5L139.3 176.4ZM135.8 231.2L139.8 226.0L144.7 227.2L146.8 234.2L145.7 235.3L140.9 235.9ZM131.7 164.5L139.8 160.7L143.0 167.7L139.3 170.7L132.1 167.5L131.5 166.2ZM264.9 232.7L258.1 228.6L253.2 232.9L253.2 239.2L262.4 242.7L263.5 242.3ZM140.6 209.1L147.0 215.0L146.1 217.5L137.3 220.4L136.3 219.8L135.6 218.4L136.8 211.8ZM189.7 40.8L189.3 -14.3L183.9 -16.4L176.1 -17.8L167.2 14.9L167.8 30.7L169.9 36.8L179.9 45.7ZM105.3 191.9L110.6 194.4L108.2 203.0L107.6 203.3L98.8 200.1L98.8 200.1L102.8 192.7ZM124.7 57.3L113.9 48.8L115.5 33.6L134.4 45.1L135.6 49.2L130.6 57.1ZM208.0 82.8L213.1 82.4L217.2 91.0L214.7 95.6L203.5 93.6L204.6 86.2ZM274.9 233.0L273.8 243.1L269.8 244.6L263.5 242.3L264.9 232.7L271.4 229.4ZM155.3 58.2L153.0 57.5L147.8 49.4L147.9 49.0L153.0 44.9L157.4 45.5L160.4 49.4L156.7 57.6ZM245.3 89.3L248.7 78.3L242.2 75.6L235.4 78.4L236.5 85.3L244.1 89.6ZM659.1 70.2L656.8 61.7L657.0 61.1L660.6 59.9L665.5 62.4L666.0 66.6L663.2 71.7ZM253.2 232.9L245.7 229.7L248.2 221.4L257.7 224.3L258.1 228.6ZM122.5 243.5L128.3 248.7L124.2 256.8L119.1 254.6L117.4 246.5ZM119.3 181.3L118.8 179.3L122.2 173.3L129.5 176.7L127.9 183.0ZM260.1 108.9L259.6 109.2L262.8 119.6L271.1 120.5L273.5 113.0L269.7 108.4ZM216.2 100.0L224.0 102.9L228.6 92.1L225.7 89.8L217.2 91.0L214.7 95.6ZM294.5 84.3L285.2 77.2L284.7 75.7L287.3 70.3L297.2 71.8L298.0 83.7ZM109.5 212.7L106.4 208.9L107.6 203.3L108.2 203.0L117.6 205.4L118.4 207.6L116.8 210.3ZM258.1 135.9L263.9 146.3L273.2 144.9L276.2 141.3L271.4 131.1L261.5 131.6ZM260.1 108.9L259.6 109.2L257.0 109.1L250.6 100.9L253.0 93.5L253.3 93.4L263.2 96.7ZM216.2 100.0L224.0 102.9L225.7 106.2L224.8 111.5L212.5 111.9L209.4 107.6ZM217.9 181.8L225.0 173.4L224.1 162.3L215.2 157.1L206.2 158.1L199.5 176.5ZM132.1 193.2L136.1 195.7L137.9 195.2L142.1 187.9L142.0 187.4L137.7 184.2L130.7 186.6ZM128.5 120.3L130.3 118.1L130.8 117.9L136.9 119.9L139.0 127.2L135.1 130.3L128.0 128.2ZM103.5 174.5L99.8 171.6L88.9 172.8L96.7 183.3L100.2 182.0ZM114.1 142.5L116.5 141.5L125.4 143.8L125.1 151.0L119.6 155.3L116.3 154.4ZM121.6 160.8L119.6 155.3L125.1 151.0L130.0 155.6L129.2 160.5ZM130.6 235.6L124.7 232.4L123.9 226.7L124.9 225.2L129.8 225.7L134.2 231.4ZM143.6 246.6L146.8 244.9L154.0 246.7L157.5 253.7L146.8 260.5L141.8 250.8ZM122.5 243.5L122.9 242.0L120.6 236.5L117.0 235.3L112.8 238.8L115.0 245.6L117.4 246.5ZM258.8 177.8L257.8 165.0L245.8 164.6L242.4 176.6L248.3 180.4ZM276.2 313.7L273.0 323.5L261.3 323.7L265.6 309.3L271.4 307.6ZM655.3 89.5L648.7 83.7L649.3 79.7L653.5 78.2L658.9 82.7L656.3 89.2ZM258.1 135.9L261.5 131.6L259.8 123.0L250.1 122.3L251.4 135.6ZM176.0 88.6L174.8 86.7L176.5 79.3L183.4 77.5L190.0 85.3L188.9 90.4L186.6 91.7ZM176.7 281.5L162.6 273.3L166.6 256.3L168.3 255.4L186.7 264.4L188.0 269.7ZM280.4 89.7L285.2 77.2L284.7 75.7L273.9 75.9L270.4 80.1L279.4 89.5ZM134.5 59.9L141.3 58.2L145.0 62.1L144.7 68.2L139.6 70.8L135.0 67.3ZM652.7 91.8L655.3 89.5L656.3 89.2L661.4 93.1L661.7 98.5L656.4 101.9L652.2 99.0ZM166.7 193.0L164.8 209.3L161.7 211.0L157.5 210.1L152.4 205.1L150.1 195.9L150.3 195.4L157.7 190.2L162.0 189.4ZM140.8 108.2L143.6 116.6L136.9 119.9L130.8 117.9L134.5 109.5ZM115.3 100.7L79.3 101.5L93.9 114.5L103.0 114.8L114.5 106.7ZM111.9 162.2L119.3 164.9L120.2 168.8L109.9 172.5L108.7 164.6ZM159.8 69.5L155.4 66.3L155.3 58.2L156.7 57.6L165.9 60.5L163.9 68.2ZM273.8 243.1L279.4 244.8L279.6 245.0L282.4 255.8L282.1 256.7L270.4 255.2L269.8 244.6ZM653.9 72.4L653.4 72.2L650.0 65.5L656.8 61.7L659.1 70.2ZM137.1 241.6L143.6 246.6L146.8 244.9L145.7 235.3L140.9 235.9ZM124.5 197.6L129.8 203.9L134.2 201.8L136.1 195.7L132.1 193.2ZM125.4 143.7L136.3 147.8L135.6 153.2L130.0 155.6L125.1 151.0L125.4 143.8ZM249.2 121.5L250.1 122.3L259.8 123.0L262.8 119.6L259.6 109.2L257.0 109.1L248.0 115.5ZM88.6 217.3L61.3 224.9L67.0 262.8L104.3 236.3L107.3 228.4L102.4 221.5ZM264.3 197.0L267.4 204.0L273.2 204.4L276.2 198.3L271.1 194.4L264.4 196.5ZM112.5 156.5L111.9 162.2L108.7 164.6L102.8 162.5L102.9 155.5L105.9 153.0ZM278.8 186.9L282.4 182.3L282.9 176.2L274.3 173.0L265.8 180.9L272.6 187.5ZM130.6 235.6L124.7 232.4L120.6 236.5L122.9 242.0L130.7 238.4ZM263.8 260.1L264.7 269.5L254.1 274.2L244.2 265.1L253.0 254.3L257.1 254.4ZM128.6 101.8L126.9 89.7L129.0 88.0L137.6 93.1L137.4 98.1ZM251.3 283.7L254.8 291.8L254.6 292.4L238.1 299.1L232.6 291.4L238.8 282.7ZM227.1 77.9L232.9 77.0L232.8 66.3L225.6 64.8L221.9 70.2ZM232.7 242.4L223.1 242.0L221.4 256.2L234.8 262.3L237.9 250.8ZM175.7 236.4L178.8 236.9L193.6 250.6L186.7 264.4L168.3 255.4L175.4 236.5ZM117.0 186.2L115.2 186.8L111.1 194.2L120.3 198.3L122.5 197.1L122.1 190.7ZM117.4 246.5L115.0 245.6L66.9 266.3L65.1 280.1L119.1 254.6ZM241.7 193.2L235.5 192.4L236.9 178.2L242.4 176.6L248.3 180.4L248.6 187.4ZM164.8 209.3L161.7 211.0L159.0 225.2L161.3 232.0L175.4 236.5L175.7 236.4L177.7 214.0ZM280.9 102.4L272.4 101.8L269.7 108.4L273.5 113.0L278.9 111.8L281.8 103.3ZM216.8 139.4L201.4 138.6L201.1 138.0L207.1 127.9L214.4 128.6ZM88.9 172.8L56.1 158.7L13.6 161.8L45.3 197.4L87.3 192.5L95.1 187.3L96.7 183.3ZM284.6 158.6L291.2 172.1L282.9 176.2L274.3 173.0L271.6 164.0L277.8 157.9ZM238.4 98.9L229.2 92.1L236.5 85.3L244.1 89.6ZM150.5 93.3L145.0 103.1L156.7 109.8L157.8 108.5L157.6 97.0ZM119.2 111.8L114.5 106.7L115.3 100.7L116.1 99.8L127.3 102.7L123.9 111.0ZM236.4 208.1L238.4 208.7L245.9 204.8L247.3 200.6L241.7 193.2L235.5 192.4L233.6 193.8ZM287.4 115.1L290.6 106.8L299.7 108.9L301.2 110.9L293.9 119.8ZM92.6 213.4L98.8 200.1L107.6 203.3L106.4 208.9ZM303.3 138.0L296.1 135.5L288.2 143.5L292.3 151.0L296.6 151.8L304.0 142.6ZM112.1 142.5L105.7 131.8L115.2 126.5L118.6 130.2L116.5 141.5L114.1 142.5ZM110.1 175.6L109.1 183.2L105.9 184.9L100.2 182.0L103.5 174.5L109.2 174.0ZM102.8 162.5L101.7 163.2L57.0 158.4L80.6 148.9L102.9 155.5ZM253.2 232.9L245.7 229.7L239.8 232.7L239.4 236.1L248.2 242.6L253.2 239.2ZM95.1 187.3L87.3 192.5L98.8 200.1L102.8 192.7ZM139.0 127.2L136.9 119.9L143.6 116.6L149.1 118.5L148.0 127.3L145.1 128.9ZM288.6 91.3L294.5 84.3L298.0 83.7L298.2 83.7L302.0 96.5L301.9 96.6L292.0 96.9ZM269.0 214.5L268.3 219.2L260.6 220.2L255.8 211.0L258.0 208.9L264.2 208.5ZM297.2 71.8L306.7 65.3L307.9 38.8L283.2 39.2L281.1 50.4L287.3 70.3ZM159.6 156.2L148.3 146.3L142.9 157.4L152.1 161.9L154.9 161.6ZM172.2 123.0L179.3 138.8L178.9 140.0L169.5 145.7L158.1 135.7L158.1 133.4L165.3 123.4ZM647.9 100.9L652.2 99.0L656.4 101.9L656.6 107.5L656.4 107.7L650.7 107.6L647.7 104.3ZM112.1 142.5L106.6 145.8L105.9 153.0L112.5 156.5L116.3 154.4L114.1 142.5ZM200.8 60.0L204.3 70.5L203.1 72.1L196.6 73.8L190.9 70.0L193.7 60.6ZM203.0 94.2L203.5 93.6L204.6 86.2L195.3 81.9L190.0 85.3L188.9 90.4L197.1 95.2ZM116.8 210.3L118.4 207.6L126.4 210.0L126.4 216.1L123.5 219.8L118.3 218.3ZM137.8 177.8L137.7 184.2L142.0 187.4L147.5 183.3L148.1 177.5L139.3 176.4ZM287.4 115.1L284.0 116.0L280.8 124.1L286.0 128.5L293.0 127.4L294.7 124.9L293.9 119.8ZM208.0 82.8L213.1 82.4L214.6 80.9L215.5 70.7L212.8 68.5L204.3 70.5L203.1 72.1ZM126.7 69.1L135.0 67.3L134.5 59.9L130.6 57.1L124.7 57.3L124.8 67.8ZM248.2 221.4L245.7 229.7L239.8 232.7L234.0 225.7L241.9 217.3L247.1 219.2ZM159.8 69.5L158.1 75.4L151.6 77.3L148.1 69.7L155.4 66.3ZM116.1 120.4L119.2 111.8L123.9 111.0L130.3 118.1L128.5 120.3ZM126.7 69.1L129.0 79.3L114.1 78.8L110.4 73.3L124.8 67.8ZM227.1 77.9L232.9 77.0L235.4 78.4L236.5 85.3L229.2 92.1L228.6 92.1L225.7 89.8L224.6 80.9ZM146.1 217.5L137.3 220.4L139.8 226.0L144.7 227.2L148.4 223.2ZM273.2 204.4L275.8 209.5L278.8 210.4L282.4 204.6L280.9 199.5L278.2 197.9L276.2 198.3ZM249.2 121.5L250.1 122.3L251.4 135.6L248.3 137.4L239.7 133.4L239.3 127.0ZM128.6 101.8L137.4 98.1L143.7 103.4L140.8 108.2L134.5 109.5L128.2 102.4ZM159.8 69.5L158.1 75.4L162.9 80.2L171.4 74.0L171.3 73.8L163.9 68.2ZM161.1 176.7L162.0 189.4L166.7 193.0L176.1 190.4L181.9 172.3L179.0 168.3L176.5 167.5ZM201.8 290.5L216.9 296.0L218.1 306.8L189.6 320.5L193.3 298.0ZM174.7 62.1L176.7 64.8L180.3 65.0L186.5 56.7L178.3 51.0L176.6 52.0ZM142.9 81.2L151.1 78.3L154.0 86.0L149.9 91.5L143.2 88.5L141.8 83.3ZM111.1 194.2L120.3 198.3L117.6 205.4L108.2 203.0L110.6 194.4ZM121.4 169.9L122.2 173.3L129.5 176.7L130.7 176.0L132.1 167.5L131.5 166.2ZM141.1 206.6L142.1 205.6L152.4 205.1L157.5 210.1L147.0 215.0L140.6 209.1ZM271.1 194.4L272.6 187.5L278.8 186.9L280.7 191.7L278.2 197.9L276.2 198.3ZM135.6 153.2L140.8 158.2L142.9 157.4L148.3 146.3L147.6 144.5L143.4 142.6L136.3 147.8ZM150.3 195.4L142.1 187.9L137.9 195.2L143.1 198.7L150.1 195.9ZM105.9 184.9L105.3 191.9L110.6 194.4L111.1 194.2L115.2 186.8L109.1 183.2ZM264.3 197.0L257.7 200.8L258.0 208.9L264.2 208.5L267.4 204.0ZM176.6 52.0L178.3 51.0L179.9 45.7L169.9 36.8L167.1 49.8L168.1 50.9ZM281.8 103.3L278.9 111.8L284.0 116.0L287.4 115.1L290.6 106.8L288.7 103.9ZM123.9 226.7L115.1 228.6L117.0 235.3L120.6 236.5L124.7 232.4ZM146.8 244.9L145.7 235.3L146.8 234.2L159.1 233.6L154.0 246.7ZM224.1 212.3L217.5 196.6L219.5 193.3L233.6 193.8L236.4 208.1ZM264.3 197.0L257.7 200.8L252.5 198.0L253.6 191.6L260.7 189.5L264.4 196.5ZM256.7 303.4L254.6 292.4L238.1 299.1L237.0 306.3L247.4 311.5ZM258.1 135.9L263.9 146.3L259.9 151.6L246.3 149.1L248.3 137.4L251.4 135.6ZM643.8 95.4L650.9 91.7L652.7 91.8L652.2 99.0L647.9 100.9L646.0 99.8ZM238.8 282.7L232.6 291.4L222.4 290.4L221.0 277.2L233.0 271.9ZM142.5 140.8L145.1 128.9L139.0 127.2L135.1 130.3L136.1 137.0ZM656.4 101.9L656.6 107.5L665.5 108.4L665.5 100.9L661.7 98.5ZM280.9 102.4L272.4 101.8L268.8 95.7L279.4 89.5L280.4 89.7L281.1 90.3ZM203.0 94.2L203.5 93.6L214.7 95.6L216.2 100.0L209.4 107.6L205.8 106.8ZM274.9 233.0L280.3 233.3L282.4 238.5L279.4 244.8L273.8 243.1ZM218.1 124.0L211.5 117.2L204.0 121.4L207.1 127.9L214.4 128.6ZM130.7 176.0L137.8 177.8L139.3 176.4L139.3 170.7L132.1 167.5ZM99.8 171.6L101.7 163.2L57.0 158.4L56.1 158.7L88.9 172.8ZM134.2 201.8L141.1 206.6L142.1 205.6L143.1 198.7L137.9 195.2L136.1 195.7ZM221.4 256.2L212.7 261.0L200.9 248.4L204.7 241.4L219.8 238.2L223.1 242.0ZM251.9 67.6L242.3 61.8L242.2 75.6L248.7 78.3L251.2 77.5ZM157.4 45.5L167.8 30.7L167.2 14.9L150.1 34.5L153.0 44.9ZM267.4 204.0L264.2 208.5L269.0 214.5L275.8 209.5L273.2 204.4ZM130.7 238.4L122.9 242.0L122.5 243.5L128.3 248.7L132.1 247.8L134.2 242.1ZM257.8 84.5L254.6 78.6L261.9 73.8L270.0 80.2L265.4 85.3ZM129.5 79.8L130.4 82.2L141.8 83.3L142.9 81.2L139.5 71.6ZM661.7 98.5L665.5 100.9L670.8 98.7L672.5 96.3L669.5 90.4L661.4 93.1ZM157.6 97.0L163.2 93.9L172.2 101.5L173.0 104.2L157.8 108.5ZM126.4 210.0L128.7 208.2L136.8 211.8L135.6 218.4L126.4 216.1ZM112.5 156.5L111.9 162.2L119.3 164.9L121.6 160.8L119.6 155.3L116.3 154.4ZM159.0 225.2L161.3 232.0L159.1 233.6L146.8 234.2L144.7 227.2L148.4 223.2ZM141.8 250.8L146.8 260.5L144.8 264.6L133.0 261.0L135.6 251.5ZM227.1 77.9L221.9 70.2L215.5 70.7L214.6 80.9L224.6 80.9ZM652.7 91.8L655.3 89.5L648.7 83.7L643.5 86.5L643.8 87.3L650.9 91.7ZM165.9 60.5L166.1 60.4L168.1 50.9L167.1 49.8L160.4 49.4L156.7 57.6ZM134.2 231.4L129.8 225.7L136.3 219.8L137.3 220.4L139.8 226.0L135.8 231.2ZM156.9 174.3L149.9 175.7L145.1 168.0L152.1 161.9L154.9 161.6ZM283.3 316.3L276.2 313.7L273.0 323.5L276.4 325.8L276.7 325.7L283.3 317.1ZM298.0 351.8L293.5 367.9L290.1 373.3L287.0 375.0L278.6 369.5L287.1 351.1L297.1 351.0ZM252.5 198.0L247.3 200.6L241.7 193.2L248.6 187.4L253.6 191.6ZM283.3 316.3L289.4 311.4L293.8 318.5L290.1 323.1L285.5 321.2L283.3 317.1ZM109.0 216.6L115.0 220.0L118.3 218.3L116.8 210.3L109.5 212.7ZM671.7 73.0L673.1 68.5L672.0 66.8L666.0 66.6L663.2 71.7L664.5 73.9ZM128.2 139.3L136.1 137.0L135.1 130.3L128.0 128.2L126.2 129.9ZM130.6 57.1L135.6 49.2L142.2 52.8L141.3 58.2L134.5 59.9Z" fill="none" stroke="#e6dcdc" stroke-opacity="0.6" stroke-width="0.8" stroke-linejoin="round"/>
<path d="M278.8 186.9L282.4 182.3L289.5 188.6L289.1 191.4L287.9 192.6L280.7 191.7ZM294.9 194.2L289.1 191.4L287.9 192.6L287.3 197.9L287.7 198.3L294.7 199.4L295.6 198.5ZM301.4 191.2L302.2 197.8L300.9 198.9L295.6 198.5L294.9 194.2L299.3 190.1ZM321.5 192.5L321.8 197.9L314.5 196.9L314.4 192.6L319.6 190.5ZM326.0 191.1L329.7 194.9L329.4 196.9L321.9 198.1L321.8 197.9L321.5 192.5ZM287.7 198.3L287.3 197.9L280.9 199.5L282.4 204.6L287.9 205.2L288.3 204.8ZM294.7 199.4L287.7 198.3L288.3 204.8L294.2 203.9ZM300.9 198.9L301.6 204.2L295.6 205.8L294.2 203.9L294.7 199.4L295.6 198.5ZM314.2 204.0L315.3 204.7L321.5 204.9L321.9 198.1L321.8 197.9L314.5 196.9L313.8 197.7ZM330.6 198.7L329.4 196.9L321.9 198.1L321.5 204.9L321.7 205.2L330.1 205.0L330.5 204.3ZM287.9 205.2L282.4 204.6L278.8 210.4L280.2 212.1L288.4 210.9ZM294.2 203.9L295.6 205.8L295.5 209.9L294.7 210.6L288.5 210.9L288.4 210.9L287.9 205.2L288.3 204.8ZM302.7 205.1L302.4 211.2L302.0 211.5L295.5 209.9L295.6 205.8L301.6 204.2ZM309.3 205.4L308.7 211.1L307.2 212.3L302.4 211.2L302.7 205.1L307.6 204.2ZM309.3 205.4L308.7 211.1L314.6 212.2L315.3 204.7L314.2 204.0ZM314.6 212.2L315.3 204.7L321.5 204.9L321.7 205.2L321.7 210.2L319.9 212.2L314.7 212.3ZM331.0 208.7L330.1 205.0L321.7 205.2L321.7 210.2L326.4 212.6ZM288.4 210.9L288.5 210.9L289.2 218.0L280.5 217.8L280.2 212.1ZM289.3 218.1L294.8 218.0L295.2 217.6L294.7 210.6L288.5 210.9L289.2 218.0ZM295.5 209.9L294.7 210.6L295.2 217.6L300.0 217.6L302.0 211.5ZM302.4 211.2L307.2 212.3L307.8 218.2L302.1 219.7L300.0 217.6L302.0 211.5ZM314.6 212.2L308.7 211.1L307.2 212.3L307.8 218.2L308.0 218.4L313.5 218.9L314.1 218.4L314.7 212.3ZM314.7 212.3L314.1 218.4L320.9 219.2L321.2 218.6L319.9 212.2ZM326.9 216.4L321.2 218.6L319.9 212.2L321.7 210.2L326.4 212.6ZM330.1 218.4L326.9 216.4L326.4 212.6L331.0 208.7L333.4 210.6L330.2 218.4ZM278.7 221.5L280.5 217.8L289.2 218.0L289.3 218.1L288.5 224.0L281.7 224.1ZM294.3 225.2L295.2 224.3L294.8 218.0L289.3 218.1L288.5 224.0L288.6 224.2ZM313.8 224.5L313.5 218.9L308.0 218.4L308.1 225.2L308.3 225.3ZM313.8 224.5L313.5 218.9L314.1 218.4L320.9 219.2L321.6 223.4L315.4 226.1ZM330.1 218.4L329.6 223.8L322.9 224.4L321.6 223.4L320.9 219.2L321.2 218.6L326.9 216.4ZM281.7 224.1L288.5 224.0L288.6 224.2L288.0 230.8L287.0 231.5L283.1 231.1ZM288.0 230.8L288.6 224.2L294.3 225.2L294.2 231.1ZM294.2 231.1L294.3 225.2L295.2 224.3L301.3 224.7L301.9 225.7L301.5 230.9L301.0 231.4L295.0 231.9ZM313.8 224.5L308.3 225.3L309.2 231.4L315.2 230.9L315.4 226.1ZM315.4 226.1L321.6 223.4L322.9 224.4L322.8 230.4L320.8 232.0L315.8 231.5L315.2 230.9ZM330.1 230.7L330.2 224.5L329.6 223.8L322.9 224.4L322.8 230.4L329.0 232.1ZM280.3 233.3L282.4 238.5L288.4 238.1L287.0 231.5L283.1 231.1ZM294.0 237.5L295.0 231.9L294.2 231.1L288.0 230.8L287.0 231.5L288.4 238.1L288.8 238.4ZM294.0 237.5L295.0 231.9L301.0 231.4L301.5 238.7L301.1 239.2L295.3 238.9ZM301.0 231.4L301.5 238.7L307.8 238.1L308.3 237.5L308.0 232.5L301.5 230.9ZM321.5 239.4L315.0 237.6L315.8 231.5L320.8 232.0L322.3 238.5ZM329.0 232.1L322.8 230.4L320.8 232.0L322.3 238.5L328.6 237.6L329.3 236.6ZM294.0 237.5L288.8 238.4L288.4 243.7L291.7 247.3L294.6 244.6L295.3 238.9ZM295.3 238.9L301.1 239.2L301.7 244.5L301.0 245.2L294.6 244.6ZM307.8 238.1L308.8 243.8L306.9 245.3L301.7 244.5L301.1 239.2L301.5 238.7ZM308.3 237.5L314.8 237.8L313.9 244.7L313.9 244.7L308.8 243.8L307.8 238.1ZM321.5 239.4L321.2 243.1L319.6 244.7L313.9 244.7L314.8 237.8L315.0 237.6ZM321.5 239.4L321.2 243.1L327.2 245.8L329.0 245.1L330.0 243.3L328.6 237.6L322.3 238.5ZM291.7 247.3L291.6 249.6L282.4 255.8L279.6 245.0L288.4 243.7ZM294.6 244.6L301.0 245.2L299.7 255.0L291.6 249.6L291.7 247.3ZM301.7 244.5L306.9 245.3L307.2 251.2L299.8 255.1L299.7 255.0L301.0 245.2ZM313.0 253.2L307.2 251.2L306.9 245.3L308.8 243.8L313.9 244.7L313.4 252.9ZM320.7 250.9L317.1 253.2L313.4 252.9L313.9 244.7L313.9 244.7L319.6 244.7ZM324.5 251.5L327.2 245.8L321.2 243.1L319.6 244.7L320.7 250.9L324.1 251.7ZM325.4 85.6L332.2 85.6L332.7 78.6L330.6 75.7L322.5 82.4ZM339.6 79.7L332.7 78.6L332.2 85.6L332.9 86.3L339.6 85.5ZM346.9 78.3L347.1 85.1L340.2 86.1L339.6 85.5L339.6 79.7L344.1 75.6ZM346.9 78.3L354.5 78.4L353.9 85.8L347.3 85.2L347.1 85.1ZM354.3 86.3L353.9 85.8L354.5 78.4L358.2 75.4L360.3 75.5L361.5 85.0ZM369.2 85.2L369.9 84.5L370.3 72.0L369.0 71.4L360.3 75.5L361.5 85.0L361.9 85.4ZM383.5 86.5L380.7 82.8L380.8 82.4L385.9 78.4L390.8 82.2L390.9 82.9L388.8 85.8ZM315.5 85.0L319.3 81.8L322.5 82.4L325.4 85.6L325.0 91.6L319.0 92.3ZM325.9 92.5L332.8 91.4L332.9 86.3L332.2 85.6L325.4 85.6L325.0 91.6ZM340.3 92.5L333.6 92.6L332.8 91.4L332.9 86.3L339.6 85.5L340.2 86.1L340.7 92.0ZM347.1 91.9L347.3 85.2L347.1 85.1L340.2 86.1L340.7 92.0ZM347.4 92.2L354.3 91.8L354.5 91.6L354.3 86.3L353.9 85.8L347.3 85.2L347.1 91.9ZM361.2 92.6L361.6 92.1L361.9 85.4L361.5 85.0L354.3 86.3L354.5 91.6ZM368.8 91.8L361.6 92.1L361.9 85.4L369.2 85.2ZM368.8 91.8L369.1 92.3L376.1 92.6L376.6 92.1L375.6 86.3L369.9 84.5L369.2 85.2ZM382.9 91.8L376.6 92.1L375.6 86.3L380.7 82.8L383.5 86.5ZM383.3 92.3L389.3 92.1L390.6 90.4L388.8 85.8L383.5 86.5L382.9 91.8ZM316.5 98.5L319.0 92.3L325.0 91.6L325.9 92.5L326.2 98.1L325.7 98.8ZM325.9 92.5L332.8 91.4L333.6 92.6L333.0 97.8L326.2 98.1ZM340.3 92.5L333.6 92.6L333.0 97.8L333.6 98.6L339.2 99.5L340.7 97.7ZM347.4 98.6L347.4 92.2L347.1 91.9L340.7 92.0L340.3 92.5L340.7 97.7L347.2 98.8ZM347.4 98.6L353.8 98.2L354.3 91.8L347.4 92.2ZM361.2 92.6L354.5 91.6L354.3 91.8L353.8 98.2L354.7 99.2L361.5 97.7ZM361.2 92.6L361.6 92.1L368.8 91.8L369.1 92.3L368.8 97.9L362.3 98.6L361.5 97.7ZM376.1 98.1L376.1 92.6L369.1 92.3L368.8 97.9L369.5 98.6ZM383.3 92.3L383.7 97.8L383.2 98.3L376.3 98.4L376.1 98.1L376.1 92.6L376.6 92.1L382.9 91.8ZM383.3 92.3L383.7 97.8L388.3 98.5L390.5 95.8L389.3 92.1ZM326.4 104.1L325.7 98.8L316.5 98.5L315.7 99.1L319.6 105.6L325.5 105.1ZM326.4 104.1L332.3 104.9L333.6 98.6L333.0 97.8L326.2 98.1L325.7 98.8ZM339.7 104.9L332.4 105.1L332.3 104.9L333.6 98.6L339.2 99.5L339.9 104.6ZM346.5 104.7L339.9 104.6L339.2 99.5L340.7 97.7L347.2 98.8L347.0 104.2ZM354.6 105.1L355.0 104.7L354.7 99.2L353.8 98.2L347.4 98.6L347.2 98.8L347.0 104.2ZM361.5 97.7L362.3 98.6L362.3 104.2L361.8 104.7L355.0 104.7L354.7 99.2ZM369.5 98.6L368.8 97.9L362.3 98.6L362.3 104.2L368.4 105.3L369.6 104.2ZM376.3 98.4L376.4 104.5L375.8 105.0L369.6 104.2L369.5 98.6L376.1 98.1ZM376.3 98.4L383.2 98.3L382.9 104.8L376.4 104.5ZM387.8 104.7L389.9 101.7L388.3 98.5L383.7 97.8L383.2 98.3L382.9 104.8L383.1 105.0ZM325.5 105.1L326.3 111.9L326.0 112.2L318.1 110.4L319.6 105.6ZM326.4 104.1L332.3 104.9L332.4 105.1L332.6 111.0L326.3 111.9L325.5 105.1ZM339.3 111.4L333.1 111.4L332.6 111.0L332.4 105.1L339.7 104.9ZM346.5 104.7L339.9 104.6L339.7 104.9L339.3 111.4L339.5 111.5L346.8 111.1ZM353.7 111.1L347.3 111.6L346.8 111.1L346.5 104.7L347.0 104.2L354.6 105.1L354.4 110.5ZM354.4 110.5L361.3 111.8L361.6 111.4L361.8 104.7L355.0 104.7L354.6 105.1ZM362.3 104.2L361.8 104.7L361.6 111.4L368.5 110.8L368.4 105.3ZM375.8 105.0L375.7 111.2L369.0 111.3L368.5 110.8L368.4 105.3L369.6 104.2ZM383.1 105.0L382.9 104.8L376.4 104.5L375.8 105.0L375.7 111.2L376.4 112.0L383.1 111.0ZM387.8 104.7L390.0 107.7L388.2 111.4L384.0 111.9L383.1 111.0L383.1 105.0ZM316.8 111.4L318.1 117.2L325.4 117.3L326.0 112.2L318.1 110.4ZM325.4 117.4L333.0 117.8L333.1 111.4L332.6 111.0L326.3 111.9L326.0 112.2L325.4 117.3ZM339.5 111.5L339.9 117.5L333.8 118.7L333.0 117.8L333.1 111.4L339.3 111.4ZM347.3 111.6L346.9 117.8L346.6 118.0L340.7 118.2L339.9 117.5L339.5 111.5L346.8 111.1ZM353.7 111.1L354.5 118.0L354.1 118.4L346.9 117.8L347.3 111.6ZM353.7 111.1L354.5 118.0L361.3 117.9L361.5 117.7L361.3 111.8L354.4 110.5ZM361.5 117.7L368.5 117.7L369.0 111.3L368.5 110.8L361.6 111.4L361.3 111.8ZM376.1 118.0L376.1 117.9L376.4 112.0L375.7 111.2L369.0 111.3L368.5 117.7L368.8 118.0ZM384.0 111.9L383.9 117.9L383.6 118.3L376.1 117.9L376.4 112.0L383.1 111.0ZM384.0 111.9L383.9 117.9L391.3 118.0L392.7 117.1L392.8 115.7L388.2 111.4ZM325.4 117.4L325.5 119.4L321.3 125.2L315.8 123.6L314.9 122.3L318.1 117.2L325.4 117.3ZM325.4 117.4L333.0 117.8L333.8 118.7L333.6 120.3L329.1 123.5L325.5 119.4ZM333.8 118.7L339.9 117.5L340.7 118.2L340.1 124.9L336.8 125.9L333.6 120.3ZM346.6 118.0L347.2 124.7L343.2 126.4L340.1 124.9L340.7 118.2ZM354.5 118.0L361.3 117.9L361.5 124.7L356.1 126.2L353.6 124.8L354.1 118.4ZM361.5 124.7L361.3 117.9L361.5 117.7L368.5 117.7L368.8 118.0L368.8 125.2L363.9 126.4ZM370.4 126.1L376.2 125.3L376.1 118.0L368.8 118.0L368.8 125.2ZM384.0 124.8L377.3 126.1L376.2 125.3L376.1 118.0L376.1 117.9L383.6 118.3ZM387.7 125.5L389.1 124.8L391.3 118.0L383.9 117.9L383.6 118.3L384.0 124.8L384.8 125.4ZM322.0 126.1L321.3 125.2L325.5 119.4L329.1 123.5L329.0 126.9ZM329.0 127.0L335.6 127.4L336.8 125.9L333.6 120.3L329.1 123.5L329.0 126.9ZM321.9 132.9L321.5 133.2L314.4 132.0L315.8 123.6L321.3 125.2L322.0 126.1ZM321.9 132.9L328.2 132.9L329.0 127.0L329.0 126.9L322.0 126.1ZM329.0 127.0L335.6 127.4L336.1 132.2L334.8 133.9L328.6 133.5L328.2 132.9ZM361.5 124.7L356.1 126.2L356.5 132.9L363.3 132.1L363.9 126.4ZM363.9 126.4L368.8 125.2L370.4 126.1L370.5 133.5L363.7 132.5L363.3 132.1ZM370.5 133.5L370.4 126.1L376.2 125.3L377.3 126.1L377.7 132.4L370.7 133.8ZM384.8 125.4L384.0 124.8L377.3 126.1L377.7 132.4L378.4 133.2L384.1 132.9ZM385.3 133.8L384.1 132.9L384.8 125.4L387.7 125.5L390.3 131.7L389.0 133.2ZM314.4 132.0L321.5 133.2L321.2 138.7L315.0 139.3L311.8 134.0ZM321.9 132.9L321.5 133.2L321.2 138.7L321.9 139.6L327.9 139.7L328.1 139.4L328.6 133.5L328.2 132.9ZM328.6 133.5L334.8 133.9L335.6 139.1L335.1 139.6L328.1 139.4ZM363.3 132.1L363.7 132.5L363.4 139.0L357.1 138.6L356.4 133.1L356.5 132.9ZM363.6 139.3L370.5 138.7L370.7 133.8L370.5 133.5L363.7 132.5L363.4 139.0ZM378.2 139.0L378.4 133.2L377.7 132.4L370.7 133.8L370.5 138.7L370.9 139.2L377.0 140.1ZM378.2 139.0L378.4 133.2L384.1 132.9L385.3 133.8L385.0 139.6L384.3 140.3ZM385.0 139.6L385.3 133.8L389.0 133.2L392.5 139.8ZM321.9 139.6L321.2 145.2L313.3 145.2L315.0 139.3L321.2 138.7ZM328.6 145.7L327.9 139.7L321.9 139.6L321.2 145.2L322.0 146.3ZM335.0 144.7L335.1 139.6L328.1 139.4L327.9 139.7L328.6 145.7L328.9 145.9ZM336.8 146.4L342.0 145.5L342.9 144.5L342.6 139.4L342.4 139.2L335.6 139.1L335.1 139.6L335.0 144.7ZM349.0 138.1L342.6 139.4L342.9 144.5L349.3 145.9L349.5 145.7L350.0 139.2ZM356.3 139.6L356.5 146.0L349.5 145.7L350.0 139.2ZM357.1 138.6L363.4 139.0L363.6 139.3L363.5 145.5L356.7 146.2L356.5 146.0L356.3 139.6ZM363.6 139.3L370.5 138.7L370.9 139.2L369.9 145.5L363.9 145.8L363.5 145.5ZM371.0 146.6L369.9 145.5L370.9 139.2L377.0 140.1L377.2 145.6ZM378.3 146.7L384.4 145.3L384.3 140.3L378.2 139.0L377.0 140.1L377.2 145.6ZM393.4 142.2L391.8 145.8L384.9 145.7L384.4 145.3L384.3 140.3L385.0 139.6L392.5 139.8L392.6 139.8ZM321.0 152.0L312.3 152.1L311.7 146.5L313.3 145.2L321.2 145.2L322.0 146.3L321.5 151.5ZM321.5 151.5L322.0 146.3L328.6 145.7L328.9 145.9L329.3 151.2L328.2 152.3ZM335.3 152.3L329.3 151.2L328.9 145.9L335.0 144.7L336.8 146.4L335.9 151.8ZM342.8 153.2L343.3 152.5L342.0 145.5L336.8 146.4L335.9 151.8ZM349.3 145.9L348.6 151.3L343.3 152.5L342.0 145.5L342.9 144.5ZM356.5 151.8L356.7 146.2L356.5 146.0L349.5 145.7L349.3 145.9L348.6 151.3L350.7 153.3ZM357.2 152.5L356.5 151.8L356.7 146.2L363.5 145.5L363.9 145.8L364.3 152.2L363.8 152.6ZM371.1 151.5L369.7 153.1L364.3 152.2L363.9 145.8L369.9 145.5L371.0 146.6ZM377.9 152.6L371.1 151.5L371.0 146.6L377.2 145.6L378.3 146.7L378.2 152.3ZM384.2 152.6L378.2 152.3L378.3 146.7L384.4 145.3L384.9 145.7L385.1 151.8ZM385.1 151.8L384.9 145.7L391.8 145.8L392.7 148.7L392.1 151.3L390.9 152.3ZM311.0 158.5L310.0 156.8L312.3 152.1L321.0 152.0L321.9 158.0L321.6 158.3ZM321.9 158.0L321.0 152.0L321.5 151.5L328.2 152.3L328.0 157.6ZM329.2 158.8L335.0 158.2L335.3 152.3L329.3 151.2L328.2 152.3L328.0 157.6ZM335.0 158.2L335.3 152.3L335.9 151.8L342.8 153.2L343.0 158.4L342.8 158.6L335.1 158.3ZM343.0 158.4L349.5 158.8L350.2 158.3L350.7 153.3L348.6 151.3L343.3 152.5L342.8 153.2ZM357.2 152.5L356.5 151.8L350.7 153.3L350.2 158.3L356.6 159.4L357.5 158.6ZM357.2 152.5L357.5 158.6L363.2 159.1L363.8 152.6ZM369.7 153.1L364.3 152.2L363.8 152.6L363.2 159.1L363.4 159.4L370.5 158.8ZM377.9 152.6L377.3 158.2L370.5 158.9L370.5 158.8L369.7 153.1L371.1 151.5ZM384.2 152.6L378.2 152.3L377.9 152.6L377.3 158.2L377.7 158.6L384.5 159.3L385.0 158.7ZM384.2 152.6L385.0 158.7L390.1 158.0L390.9 152.3L385.1 151.8ZM321.8 162.5L321.6 158.3L311.0 158.5L311.6 161.9L319.6 164.4ZM321.8 162.5L325.5 164.3L328.6 162.0L329.2 158.8L328.0 157.6L321.9 158.0L321.6 158.3ZM335.1 158.3L342.8 158.6L342.1 166.0L340.7 166.4L335.5 162.8ZM349.7 164.4L349.5 158.8L350.2 158.3L356.6 159.4L356.3 164.9ZM356.5 165.3L356.3 164.9L356.6 159.4L357.5 158.6L363.2 159.1L363.4 159.4L363.4 165.1ZM364.2 165.9L370.1 165.4L370.7 164.8L370.5 158.9L370.5 158.8L363.4 159.4L363.4 165.1ZM377.3 158.2L370.5 158.9L370.7 164.8L377.3 165.5L377.7 165.0L377.7 158.6ZM377.7 158.6L377.7 165.0L384.9 164.6L384.5 159.3ZM392.7 161.3L389.0 165.5L385.1 164.9L384.9 164.6L384.5 159.3L385.0 158.7L390.1 158.0L392.7 160.2ZM356.2 168.5L350.8 170.3L347.8 166.7L349.7 164.4L356.3 164.9L356.5 165.3ZM356.2 168.5L358.9 173.0L362.8 172.9L363.2 172.6L364.2 165.9L363.4 165.1L356.5 165.3ZM364.2 165.9L370.1 165.4L370.7 169.6L368.6 173.0L363.2 172.6ZM377.3 165.5L377.5 167.8L375.4 170.8L370.7 169.6L370.1 165.4L370.7 164.8ZM383.3 171.9L377.5 167.8L377.3 165.5L377.7 165.0L384.9 164.6L385.1 164.9L383.3 171.9ZM390.8 168.3L388.5 173.4L388.1 173.6L383.3 171.9L385.1 164.9L389.0 165.5ZM319.6 164.4L319.6 168.8L309.6 169.3L311.6 161.9ZM321.8 162.5L325.5 164.3L326.0 169.1L326.0 169.2L320.2 169.4L319.6 168.8L319.6 164.4ZM325.5 164.3L326.0 169.1L331.8 168.1L332.0 165.5L328.6 162.0ZM335.5 162.8L340.7 166.4L338.7 168.6L332.8 169.2L331.8 168.1L332.0 165.5ZM320.2 169.4L319.5 174.6L310.9 173.9L309.3 169.7L309.6 169.3L319.6 168.8ZM326.0 169.2L326.6 174.0L325.7 175.2L319.7 174.9L319.5 174.6L320.2 169.4ZM326.0 169.1L331.8 168.1L332.8 169.2L332.8 174.1L332.4 174.6L326.6 174.0L326.0 169.2ZM332.8 174.1L338.6 174.4L338.7 168.6L332.8 169.2ZM344.6 174.0L344.3 167.1L342.1 166.0L340.7 166.4L338.7 168.6L338.6 174.4L338.9 174.8ZM344.8 174.2L350.6 174.3L350.8 170.3L347.8 166.7L344.3 167.1L344.6 174.0ZM356.2 168.5L350.8 170.3L350.6 174.3L351.0 174.9L357.8 174.1L358.9 173.0ZM368.6 173.0L370.7 169.6L375.4 170.8L375.9 174.6L375.6 175.1L370.1 175.0ZM383.3 171.9L377.5 167.8L375.4 170.8L375.9 174.6L381.5 174.1ZM319.2 180.6L310.2 180.1L310.9 173.9L319.5 174.6L319.7 174.9ZM326.2 179.8L325.7 175.2L319.7 174.9L319.2 180.6L319.6 181.0L325.7 180.4ZM326.6 174.0L325.7 175.2L326.2 179.8L331.5 180.4L332.4 179.5L332.4 174.6ZM332.4 174.6L332.4 179.5L337.6 180.4L338.8 179.4L338.9 174.8L338.6 174.4L332.8 174.1ZM344.3 180.7L338.8 179.4L338.9 174.8L344.6 174.0L344.8 174.2L344.8 180.1ZM344.8 180.1L350.9 179.8L351.0 174.9L350.6 174.3L344.8 174.2ZM357.8 174.1L351.0 174.9L350.9 179.8L351.2 180.1L356.3 181.0L357.2 180.2ZM362.8 172.9L364.0 179.8L362.9 180.8L357.2 180.2L357.8 174.1L358.9 173.0ZM362.8 172.9L364.0 179.8L369.1 180.6L369.1 180.6L370.1 175.0L368.6 173.0L363.2 172.6ZM375.5 180.5L369.1 180.6L370.1 175.0L375.6 175.1L375.9 180.0ZM382.0 180.1L382.1 180.0L381.5 174.1L375.9 174.6L375.6 175.1L375.9 180.0ZM383.3 171.9L381.5 174.1L382.1 180.0L387.0 180.0L388.1 173.6L383.3 171.9ZM393.2 180.2L394.2 177.9L393.3 175.1L388.5 173.4L388.1 173.6L387.0 180.0L388.2 181.2ZM319.2 180.6L310.2 180.1L309.1 181.6L313.5 186.3L319.7 185.9L319.6 181.0ZM326.1 186.6L326.2 186.6L325.7 180.4L319.6 181.0L319.7 185.9L320.1 186.5ZM326.2 179.8L331.5 180.4L331.6 186.2L331.6 186.3L326.2 186.6L325.7 180.4ZM337.7 185.6L331.6 186.2L331.5 180.4L332.4 179.5L337.6 180.4ZM344.3 180.7L344.3 185.2L338.1 186.0L337.7 185.6L337.6 180.4L338.8 179.4ZM344.3 180.7L344.3 185.2L344.7 185.7L350.1 185.8L351.2 180.1L350.9 179.8L344.8 180.1ZM351.0 186.9L350.1 185.8L351.2 180.1L356.3 181.0L356.8 186.0ZM357.2 180.2L356.3 181.0L356.8 186.0L357.6 186.7L362.6 186.1L362.9 180.8ZM364.0 179.8L369.1 180.6L369.3 186.0L363.0 186.5L362.6 186.1L362.9 180.8ZM375.5 180.5L369.1 180.6L369.1 180.6L369.3 186.0L369.7 186.5L375.3 186.1L376.0 185.4ZM381.4 186.0L376.0 185.4L375.5 180.5L375.9 180.0L382.0 180.1ZM387.9 185.9L382.0 186.7L381.4 186.0L382.0 180.1L382.1 180.0L387.0 180.0L388.2 181.2L388.0 185.8ZM393.7 187.0L394.7 182.6L393.2 180.2L388.2 181.2L388.0 185.8ZM313.5 191.6L307.6 191.2L306.4 190.0L308.2 182.0L309.1 181.6L313.5 186.3ZM320.1 186.5L319.7 185.9L313.5 186.3L313.5 191.6L314.4 192.6L319.6 190.5ZM326.0 191.1L321.5 192.5L319.6 190.5L320.1 186.5L326.1 186.6ZM326.0 191.1L329.7 194.9L332.4 192.2L331.6 186.3L326.2 186.6L326.1 186.6ZM337.7 185.6L331.6 186.2L331.6 186.3L332.4 192.2L337.7 192.3L338.5 191.4L338.1 186.0ZM338.1 186.0L338.5 191.4L344.4 191.4L344.7 185.7L344.3 185.2ZM351.0 186.9L350.1 185.8L344.7 185.7L344.4 191.4L344.8 191.9L350.1 192.0L350.8 191.3ZM357.6 186.7L356.8 186.0L351.0 186.9L350.8 191.3L356.5 192.4L357.2 191.7ZM362.6 186.1L357.6 186.7L357.2 191.7L362.7 192.9L363.7 191.9L363.0 186.5ZM363.0 186.5L369.3 186.0L369.7 186.5L369.5 191.7L369.2 192.0L363.7 191.9ZM369.5 191.7L369.7 186.5L375.3 186.1L376.0 192.0L375.3 192.5ZM382.0 186.7L381.4 186.0L376.0 185.4L375.3 186.1L376.0 192.0L381.6 191.9ZM388.0 192.1L381.7 192.1L381.6 191.9L382.0 186.7L387.9 185.9ZM393.8 187.2L393.8 192.0L388.4 192.5L388.0 192.1L387.9 185.9L388.0 185.8L393.7 187.0ZM393.8 187.2L399.6 187.0L399.8 187.3L399.6 191.6L398.9 192.3L393.9 192.1L393.8 192.0ZM330.6 198.7L329.4 196.9L329.7 194.9L332.4 192.2L337.7 192.3L338.8 198.1L338.6 198.3ZM338.8 198.1L337.7 192.3L338.5 191.4L344.4 191.4L344.8 191.9L344.2 197.5ZM344.2 197.5L344.8 198.1L350.6 197.3L350.1 192.0L344.8 191.9ZM350.8 191.3L350.1 192.0L350.6 197.3L351.4 198.1L356.1 197.0L356.5 192.4ZM357.2 191.7L356.5 192.4L356.1 197.0L357.9 198.6L362.8 197.5L362.7 192.9ZM363.7 191.9L369.2 192.0L369.0 197.6L363.3 198.0L362.8 197.5L362.7 192.9ZM369.3 197.9L375.0 197.9L375.1 197.8L375.3 192.5L369.5 191.7L369.2 192.0L369.0 197.6ZM381.7 192.1L382.0 197.5L381.7 197.8L375.1 197.8L375.3 192.5L376.0 192.0L381.6 191.9ZM388.0 192.1L381.7 192.1L382.0 197.5L387.7 198.5L388.0 198.2L388.4 192.5ZM388.4 192.5L388.0 198.2L394.0 197.6L393.9 192.1L393.8 192.0ZM394.2 197.8L399.0 198.0L399.9 196.6L398.9 192.3L393.9 192.1L394.0 197.6ZM338.7 203.8L338.6 198.3L330.6 198.7L330.5 204.3L338.7 203.8ZM338.7 203.8L338.6 198.3L338.8 198.1L344.2 197.5L344.8 198.1L345.5 203.0L344.3 204.5ZM351.4 198.1L350.6 197.3L344.8 198.1L345.5 203.0L351.3 203.2ZM356.1 204.3L357.3 203.3L357.9 198.6L356.1 197.0L351.4 198.1L351.3 203.2L351.6 203.5ZM363.0 204.5L357.3 203.3L357.9 198.6L362.8 197.5L363.3 198.0L363.8 203.6ZM369.2 203.3L369.3 197.9L369.0 197.6L363.3 198.0L363.8 203.6ZM369.6 203.6L375.2 203.6L375.4 203.4L375.0 197.9L369.3 197.9L369.2 203.3ZM381.0 203.6L375.4 203.4L375.0 197.9L375.1 197.8L381.7 197.8ZM388.1 203.5L381.5 204.1L381.0 203.6L381.7 197.8L382.0 197.5L387.7 198.5L388.2 203.4ZM394.0 204.2L394.0 204.2L394.2 197.8L394.0 197.6L388.0 198.2L387.7 198.5L388.2 203.4ZM394.0 204.2L400.2 203.2L400.5 202.9L399.0 198.0L394.2 197.8ZM338.1 210.8L336.9 211.3L333.4 210.6L331.0 208.7L330.1 205.0L330.5 204.3L338.7 203.8ZM341.3 211.5L344.6 206.2L344.3 204.5L338.7 203.8L338.7 203.8L338.1 210.8ZM351.6 203.5L351.3 203.2L345.5 203.0L344.3 204.5L344.6 206.2L349.7 210.1ZM356.9 210.6L356.1 204.3L351.6 203.5L349.7 210.1L349.9 210.6L353.6 211.9ZM356.9 210.6L356.1 204.3L357.3 203.3L363.0 204.5L363.3 210.2L359.7 211.5ZM369.2 210.0L369.6 203.6L369.2 203.3L363.8 203.6L363.0 204.5L363.3 210.2L364.5 210.7ZM369.2 210.0L369.6 203.6L375.2 203.6L374.9 210.6L371.6 211.2ZM381.6 209.9L376.1 211.2L374.9 210.6L375.2 203.6L375.4 203.4L381.0 203.6L381.5 204.1ZM387.4 210.9L383.4 211.1L381.6 209.9L381.5 204.1L388.1 203.5ZM387.4 210.9L388.1 203.5L388.2 203.4L394.0 204.2L394.3 210.8L388.3 211.5ZM394.3 210.8L394.4 210.9L399.1 211.2L400.5 210.3L400.2 203.2L394.0 204.2L394.0 204.2ZM406.1 203.5L404.2 202.6L400.5 202.9L400.2 203.2L400.5 210.3L405.4 210.8L407.2 207.2ZM349.9 210.6L347.9 212.4L341.8 212.0L341.3 211.5L344.6 206.2L349.7 210.1ZM330.2 218.4L336.4 218.0L336.9 211.3L333.4 210.6ZM342.3 218.4L337.5 219.0L336.4 218.0L336.9 211.3L338.1 210.8L341.3 211.5L341.8 212.0L342.5 218.1ZM347.5 217.8L347.9 212.4L341.8 212.0L342.5 218.1ZM347.5 217.8L347.9 212.4L349.9 210.6L353.6 211.9L353.6 218.0L353.0 218.5L348.3 218.5ZM356.9 210.6L353.6 211.9L353.6 218.0L359.6 218.2L359.7 211.5ZM359.7 211.5L363.3 210.2L364.5 210.7L366.1 218.1L365.6 218.4L359.9 218.5L359.6 218.2ZM369.2 210.0L364.5 210.7L366.1 218.1L370.3 217.9L371.6 211.2ZM370.4 218.0L370.3 217.9L371.6 211.2L374.9 210.6L376.1 211.2L377.3 217.5L376.4 218.4ZM383.4 211.1L382.1 217.7L377.3 217.5L376.1 211.2L381.6 209.9ZM387.4 210.9L383.4 211.1L382.1 217.7L382.8 218.4L388.1 218.7L388.6 218.2L388.3 211.5ZM388.3 211.5L388.6 218.2L393.4 218.5L394.2 217.9L394.4 210.9L394.3 210.8ZM399.4 218.6L394.2 217.9L394.4 210.9L399.1 211.2L400.2 217.8ZM400.2 217.8L405.5 217.5L406.5 212.7L405.4 210.8L400.5 210.3L399.1 211.2ZM336.9 224.5L336.6 224.7L330.2 224.5L329.6 223.8L330.1 218.4L330.2 218.4L336.4 218.0L337.5 219.0ZM343.1 224.4L342.7 224.8L336.9 224.5L337.5 219.0L342.3 218.4ZM343.1 224.4L342.3 218.4L342.5 218.1L347.5 217.8L348.3 218.5L347.5 224.6ZM347.5 224.6L348.0 225.0L354.0 224.0L353.0 218.5L348.3 218.5ZM359.6 218.2L359.9 218.5L359.3 223.8L354.3 224.2L354.0 224.0L353.0 218.5L353.6 218.0ZM360.0 224.4L365.5 224.7L365.6 218.4L359.9 218.5L359.3 223.8ZM371.3 224.4L370.8 224.9L365.6 224.9L365.5 224.7L365.6 218.4L366.1 218.1L370.3 217.9L370.4 218.0ZM371.3 224.4L370.4 218.0L376.4 218.4L376.5 223.9ZM376.5 223.9L377.0 224.3L382.0 224.1L382.8 218.4L382.1 217.7L377.3 217.5L376.4 218.4ZM388.1 218.7L382.8 218.4L382.0 224.1L382.5 224.5L388.0 224.6L388.2 224.4ZM393.9 224.2L393.4 218.5L388.6 218.2L388.1 218.7L388.2 224.4L393.6 224.5ZM393.9 224.2L393.4 218.5L394.2 217.9L399.4 218.6L399.6 223.9L399.4 224.0ZM399.4 218.6L399.6 223.9L405.4 224.3L405.5 217.6L405.5 217.5L400.2 217.8ZM412.0 219.3L405.5 217.6L405.4 224.3L405.7 224.5L410.6 224.3L411.8 223.0ZM337.2 230.8L336.6 224.7L330.2 224.5L330.1 230.7L337.0 231.0ZM342.2 230.9L342.7 224.8L336.9 224.5L336.6 224.7L337.2 230.8ZM348.0 231.0L348.6 230.4L348.0 225.0L347.5 224.6L343.1 224.4L342.7 224.8L342.2 230.9L342.4 231.0ZM354.3 224.2L354.0 224.0L348.0 225.0L348.6 230.4L354.1 230.7L354.2 230.6ZM360.0 224.4L359.5 230.7L359.5 230.7L354.2 230.6L354.3 224.2L359.3 223.8ZM360.0 224.4L365.5 224.7L365.6 224.9L365.1 230.8L365.0 230.9L359.5 230.7ZM370.8 224.9L371.5 230.3L370.8 231.1L365.1 230.8L365.6 224.9ZM371.3 224.4L370.8 224.9L371.5 230.3L376.8 230.4L377.0 224.3L376.5 223.9ZM382.5 224.5L382.0 224.1L377.0 224.3L376.8 230.4L377.0 230.6L382.3 231.1L382.5 230.8ZM388.0 224.6L388.1 230.6L382.5 230.8L382.5 224.5ZM393.6 224.5L388.2 224.4L388.0 224.6L388.1 230.6L388.1 230.6L393.5 230.7L393.8 230.5ZM393.9 224.2L399.4 224.0L399.3 230.6L393.8 230.5L393.6 224.5ZM399.3 230.6L399.3 230.6L405.1 230.5L405.1 230.5L405.7 224.5L405.4 224.3L399.6 223.9L399.4 224.0ZM411.1 230.9L405.1 230.5L405.7 224.5L410.6 224.3L412.1 229.2ZM336.5 237.1L329.3 236.6L329.0 232.1L330.1 230.7L337.0 231.0ZM342.4 231.0L342.2 230.9L337.2 230.8L337.0 231.0L336.5 237.1L336.7 237.4L342.4 237.4L342.4 237.3ZM348.0 231.0L348.2 236.4L342.4 237.3L342.4 231.0ZM348.0 231.0L348.6 230.4L354.1 230.7L354.0 236.8L348.7 236.9L348.2 236.4ZM359.5 230.7L359.6 237.0L354.3 237.0L354.0 236.8L354.1 230.7L354.2 230.6ZM359.5 230.7L359.6 237.0L359.7 237.0L365.2 237.0L365.0 230.9L359.5 230.7ZM365.2 237.0L365.3 237.1L371.0 236.9L371.2 236.8L370.8 231.1L365.1 230.8L365.0 230.9ZM371.5 230.3L376.8 230.4L377.0 230.6L376.2 236.8L371.2 236.8L370.8 231.1ZM382.4 236.8L382.3 231.1L377.0 230.6L376.2 236.8L376.8 237.3L382.2 237.0ZM388.1 230.6L388.1 230.6L382.5 230.8L382.3 231.1L382.4 236.8L388.0 237.2L388.2 237.0ZM393.5 230.7L388.1 230.6L388.2 237.0L393.5 237.0L393.5 236.9ZM393.8 230.5L393.5 230.7L393.5 236.9L399.0 237.0L399.3 236.7L399.3 230.6L399.3 230.6ZM399.3 230.6L405.1 230.5L405.4 236.6L404.9 237.1L399.3 236.7ZM410.9 237.0L411.9 233.8L411.1 230.9L405.1 230.5L405.1 230.5L405.4 236.6ZM336.5 237.1L329.3 236.6L328.6 237.6L330.0 243.3L336.1 243.2L336.3 242.9L336.7 237.4ZM342.4 237.4L343.2 242.4L342.1 243.5L336.3 242.9L336.7 237.4ZM348.2 236.4L348.7 236.9L348.5 242.6L348.2 242.8L343.2 242.4L342.4 237.4L342.4 237.3ZM354.0 236.8L354.3 237.0L354.1 243.0L348.5 242.6L348.7 236.9ZM359.6 237.0L354.3 237.0L354.1 243.0L354.3 243.3L359.5 243.3L359.6 243.2L359.7 237.0ZM359.7 237.0L359.6 243.2L364.9 243.2L365.2 243.0L365.3 237.1L365.2 237.0ZM365.3 237.1L371.0 236.9L371.1 242.9L370.6 243.4L365.2 243.0ZM376.8 237.3L376.7 243.1L371.1 242.9L371.0 236.9L371.2 236.8L376.2 236.8ZM382.2 237.0L382.3 242.9L382.1 243.2L377.1 243.5L376.7 243.1L376.8 237.3ZM382.4 236.8L388.0 237.2L388.0 243.1L382.3 242.9L382.2 237.0ZM388.2 237.0L388.0 237.2L388.0 243.1L388.4 243.5L393.6 243.2L393.5 237.0ZM399.0 237.0L399.1 243.0L394.0 243.5L393.6 243.2L393.5 237.0L393.5 236.9ZM399.0 237.0L399.1 243.0L399.8 243.5L404.7 242.8L404.9 237.1L399.3 236.7ZM410.9 237.0L405.4 236.6L404.9 237.1L404.7 242.8L405.3 243.3L410.9 242.6L411.5 238.0ZM336.5 249.0L331.8 249.4L329.0 245.1L330.0 243.3L336.1 243.2ZM342.1 243.5L336.3 242.9L336.1 243.2L336.5 249.0L337.0 249.4L342.4 248.9ZM343.2 242.4L342.1 243.5L342.4 248.9L342.5 249.0L348.0 248.6L348.2 242.8ZM348.5 242.6L348.2 242.8L348.0 248.6L348.9 249.4L353.6 249.1L354.3 243.3L354.1 243.0ZM359.5 243.3L359.7 249.5L353.8 249.3L353.6 249.1L354.3 243.3ZM364.9 243.2L365.2 249.2L364.7 249.7L359.9 249.7L359.7 249.5L359.5 243.3L359.6 243.2ZM370.9 249.1L365.2 249.2L364.9 243.2L365.2 243.0L370.6 243.4L370.9 249.1ZM370.9 249.1L370.6 243.4L371.1 242.9L376.7 243.1L377.1 243.5L376.5 249.0ZM377.2 249.7L382.8 249.7L382.1 243.2L377.1 243.5L376.5 249.0ZM387.8 249.2L388.4 243.5L388.0 243.1L382.3 242.9L382.1 243.2L382.8 249.7L382.8 249.7ZM388.1 249.4L394.1 249.5L394.0 243.5L393.6 243.2L388.4 243.5L387.8 249.2ZM394.4 249.7L394.1 249.5L394.0 243.5L399.1 243.0L399.8 243.5L399.9 249.5L399.8 249.6ZM404.7 242.8L399.8 243.5L399.9 249.5L405.3 249.7L405.9 249.1L405.3 243.3ZM410.9 242.6L412.4 244.5L411.5 248.9L405.9 249.1L405.3 243.3ZM336.5 249.0L331.8 249.4L330.2 253.3L330.7 254.5L333.0 256.1L336.7 255.0L337.0 249.4ZM342.4 248.9L342.5 249.0L342.8 252.7L339.6 256.7L336.7 255.0L337.0 249.4ZM348.1 255.0L348.9 249.4L348.0 248.6L342.5 249.0L342.8 252.7L347.7 255.3ZM353.8 249.3L353.6 249.1L348.9 249.4L348.1 255.0L353.3 256.4L354.3 255.8ZM359.7 249.5L353.8 249.3L354.3 255.8L359.0 256.3L359.9 249.7ZM359.9 249.7L364.7 249.7L365.6 255.8L363.9 257.1L359.3 256.6L359.0 256.3ZM370.9 249.1L365.2 249.2L364.7 249.7L365.6 255.8L370.2 256.1L370.7 255.8ZM370.9 249.1L370.7 255.8L375.3 256.5L376.5 255.9L377.2 249.7L376.5 249.0L370.9 249.1ZM382.8 249.7L382.8 249.7L377.2 249.7L376.5 255.9L381.6 257.2L382.8 256.4ZM388.1 249.4L388.9 256.0L386.9 257.0L382.8 256.4L382.8 249.7L387.8 249.2ZM394.4 249.7L394.1 249.5L388.1 249.4L388.9 256.0L392.5 256.7L393.7 256.0ZM399.3 256.7L393.7 256.0L394.4 249.7L399.8 249.6L399.8 256.4ZM399.8 256.4L404.0 256.9L405.9 255.5L405.3 249.7L399.9 249.5L399.8 249.6ZM405.9 255.5L405.3 249.7L405.9 249.1L411.5 248.9L411.8 249.5L412.2 253.9L410.2 256.2ZM392.7 161.3L395.6 164.2L399.3 163.8L399.4 159.4L396.0 158.1L392.7 160.2ZM404.4 163.7L399.7 164.2L399.3 163.8L399.4 159.4L401.0 158.6L404.6 161.1ZM410.0 164.1L409.7 160.8L407.0 159.0L404.6 161.1L404.4 163.7L404.6 164.0L409.8 164.3ZM410.0 164.1L414.2 164.2L414.4 164.1L414.7 160.3L412.8 158.7L409.7 160.8ZM419.0 159.1L414.7 160.3L414.4 164.1L419.4 164.2L419.6 164.0ZM419.1 159.1L424.3 159.2L424.4 159.5L424.0 163.8L419.6 164.0L419.0 159.1ZM424.4 159.5L429.1 160.2L429.1 164.3L424.6 164.5L424.0 163.8ZM429.8 159.4L429.1 160.2L429.1 164.3L429.2 164.4L433.8 164.3L434.0 160.3ZM438.8 160.9L438.8 164.2L438.7 164.3L434.1 164.6L433.8 164.3L434.0 160.3L435.9 158.7ZM442.2 159.2L443.7 160.3L444.0 163.9L443.8 164.2L438.8 164.2L438.8 160.9ZM448.1 164.1L444.0 163.9L443.7 160.3L446.8 159.0L450.1 161.6ZM399.3 163.8L399.7 164.2L399.9 168.5L399.7 168.8L394.7 168.6L394.7 168.6L395.6 164.2ZM404.4 163.7L399.7 164.2L399.9 168.5L404.6 168.5L404.6 164.0ZM409.8 164.3L409.5 168.5L409.5 168.5L404.7 168.7L404.6 168.5L404.6 164.0ZM410.0 164.1L414.2 164.2L414.7 168.7L414.2 169.1L409.5 168.5L409.8 164.3ZM414.7 168.7L418.9 168.8L419.3 168.3L419.4 164.2L414.4 164.1L414.2 164.2ZM419.6 164.0L419.4 164.2L419.3 168.3L424.2 168.9L424.6 164.5L424.0 163.8ZM424.6 164.5L429.1 164.3L429.2 164.4L429.3 168.8L429.2 169.0L424.3 169.1L424.2 168.9ZM429.3 168.8L429.2 164.4L433.8 164.3L434.1 164.6L434.1 168.9L434.1 169.0ZM438.7 164.3L434.1 164.6L434.1 168.9L438.8 169.1L439.1 168.8ZM443.7 168.5L443.8 164.2L438.8 164.2L438.7 164.3L439.1 168.8L443.6 168.6ZM443.7 168.5L443.8 164.2L444.0 163.9L448.1 164.1L449.0 168.2L448.6 168.7ZM390.8 168.3L388.5 173.4L393.3 175.1L395.2 173.1L394.7 168.6L394.7 168.6ZM399.7 168.8L394.7 168.6L395.2 173.1L399.8 173.4L399.8 173.3ZM404.6 173.1L399.8 173.3L399.7 168.8L399.9 168.5L404.6 168.5L404.7 168.7ZM409.4 173.5L409.5 168.5L404.7 168.7L404.6 173.1L404.8 173.3ZM409.6 173.7L414.1 173.2L414.2 169.1L409.5 168.5L409.5 168.5L409.4 173.5ZM414.7 168.7L418.9 168.8L419.2 173.3L414.6 173.7L414.1 173.2L414.2 169.1ZM419.3 168.3L418.9 168.8L419.2 173.3L419.4 173.4L424.0 172.9L424.3 169.1L424.2 168.9ZM429.2 169.0L424.3 169.1L424.0 172.9L424.4 173.4L429.0 173.5L429.3 173.1ZM429.2 169.0L429.3 173.1L433.9 173.4L433.9 173.4L434.1 169.0L429.3 168.8ZM433.9 173.4L439.0 173.3L438.8 169.1L434.1 168.9L434.1 169.0ZM443.6 168.6L439.1 168.8L438.8 169.1L439.0 173.3L439.1 173.5L443.8 173.5L443.9 173.4ZM443.7 168.5L448.6 168.7L448.5 172.9L443.9 173.4L443.6 168.6ZM448.5 172.9L449.1 173.4L453.1 173.4L454.7 171.8L453.3 168.0L449.0 168.2L448.6 168.7ZM399.8 173.4L395.2 173.1L393.3 175.1L394.2 177.9L399.6 177.9L399.7 177.8ZM404.8 173.3L404.6 173.1L399.8 173.3L399.8 173.4L399.7 177.8L404.5 178.2L404.6 178.2ZM409.6 173.7L409.5 178.0L409.5 178.0L404.6 178.2L404.8 173.3L409.4 173.5ZM409.6 173.7L414.1 173.2L414.6 173.7L414.7 177.8L414.1 178.5L409.5 178.0ZM414.7 177.8L414.6 173.7L419.2 173.3L419.4 173.4L419.7 177.8L419.3 178.1ZM419.4 173.4L424.0 172.9L424.4 173.4L424.3 177.7L424.1 178.0L419.7 177.8ZM429.1 177.8L429.0 173.5L424.4 173.4L424.3 177.7L429.1 177.9ZM429.3 173.1L429.0 173.5L429.1 177.8L433.9 177.8L433.9 173.4ZM433.9 173.4L433.9 177.8L434.0 177.9L438.7 177.7L439.1 173.5L439.0 173.3L433.9 173.4ZM444.1 177.5L443.8 173.5L439.1 173.5L438.7 177.7L438.9 177.8L443.4 178.3ZM443.9 173.4L443.8 173.5L444.1 177.5L448.6 177.9L449.1 173.4L448.5 172.9ZM453.8 177.9L453.1 173.4L449.1 173.4L448.6 177.9L448.8 178.2ZM458.4 172.4L454.7 171.8L453.1 173.4L453.8 177.9L453.9 178.0L457.7 177.5ZM399.5 182.8L399.6 177.9L394.2 177.9L393.2 180.2L394.7 182.6ZM399.5 182.8L399.6 177.9L399.7 177.8L404.5 178.2L404.6 182.5L404.5 182.6L399.7 182.9ZM409.5 178.0L409.3 182.5L404.6 182.5L404.5 178.2L404.6 178.2ZM409.5 178.0L414.1 178.5L414.4 182.5L414.3 182.7L409.6 182.8L409.3 182.5L409.5 178.0ZM414.7 177.8L419.3 178.1L419.2 182.4L414.4 182.5L414.1 178.5ZM419.2 182.4L419.5 182.7L423.8 182.7L424.2 182.2L424.1 178.0L419.7 177.8L419.3 178.1ZM429.1 177.9L424.3 177.7L424.1 178.0L424.2 182.2L429.0 182.6ZM429.1 177.8L433.9 177.8L434.0 177.9L434.0 182.2L433.5 182.7L429.1 182.7L429.0 182.6L429.1 177.9ZM434.0 177.9L438.7 177.7L438.9 177.8L438.8 182.6L434.0 182.2ZM443.7 182.5L443.4 178.3L438.9 177.8L438.8 182.6L438.9 182.7ZM448.8 178.2L448.6 177.9L444.1 177.5L443.4 178.3L443.7 182.5L443.7 182.5L448.4 182.6L448.7 182.3ZM453.8 177.9L448.8 178.2L448.7 182.3L453.3 182.9L453.8 182.4L453.9 178.0ZM460.2 179.9L457.7 177.5L453.9 178.0L453.8 182.4L457.9 182.9L460.3 181.0ZM393.8 187.2L399.6 187.0L399.7 182.9L399.5 182.8L394.7 182.6L393.7 187.0ZM399.8 187.3L404.7 187.3L405.0 187.0L404.5 182.6L399.7 182.9L399.6 187.0ZM409.3 182.5L409.6 182.8L409.3 187.1L405.0 187.0L404.5 182.6L404.6 182.5ZM414.4 186.9L414.2 187.1L409.5 187.2L409.3 187.1L409.6 182.8L414.3 182.7ZM414.4 182.5L414.3 182.7L414.4 186.9L419.1 187.3L419.2 187.2L419.5 182.7L419.2 182.4ZM419.2 187.2L424.1 187.3L424.2 187.2L423.8 182.7L419.5 182.7ZM429.1 182.7L428.6 186.7L424.2 187.2L423.8 182.7L424.2 182.2L429.0 182.6ZM429.2 187.3L428.6 186.7L429.1 182.7L433.5 182.7L434.1 186.9L433.7 187.4ZM438.6 186.9L434.1 186.9L433.5 182.7L434.0 182.2L438.8 182.6L438.9 182.7ZM438.9 187.2L443.6 187.2L443.7 182.5L443.7 182.5L438.9 182.7L438.6 186.9ZM443.7 182.5L448.4 182.6L448.5 187.2L444.0 187.6L443.6 187.2ZM453.3 182.9L453.3 187.0L448.7 187.5L448.5 187.2L448.4 182.6L448.7 182.3ZM453.8 182.4L457.9 182.9L457.9 187.1L453.4 187.2L453.3 187.0L453.3 182.9ZM399.6 191.6L404.5 192.0L404.7 191.8L404.7 187.3L399.8 187.3ZM404.7 191.8L409.0 192.0L409.5 191.6L409.5 187.2L409.3 187.1L405.0 187.0L404.7 187.3ZM414.2 187.1L414.3 191.8L409.5 191.6L409.5 187.2ZM419.1 187.3L419.1 191.6L414.5 192.1L414.3 191.8L414.2 187.1L414.4 186.9ZM419.2 187.2L424.1 187.3L424.3 191.3L424.0 191.6L419.5 192.0L419.1 191.6L419.1 187.3ZM428.9 191.6L424.3 191.3L424.1 187.3L424.2 187.2L428.6 186.7L429.2 187.3ZM429.0 191.8L433.9 191.6L433.7 187.4L429.2 187.3L428.9 191.6ZM433.9 191.6L434.1 191.8L438.7 191.3L438.9 187.2L438.6 186.9L434.1 186.9L433.7 187.4ZM439.0 191.6L443.7 191.7L443.7 191.7L444.0 187.6L443.6 187.2L438.9 187.2L438.7 191.3ZM449.0 191.6L448.4 192.2L443.7 191.7L444.0 187.6L448.5 187.2L448.7 187.5ZM452.5 192.1L449.0 191.6L448.7 187.5L453.3 187.0L453.4 187.2L453.7 191.2ZM399.6 191.6L404.5 192.0L404.3 196.3L399.9 196.6L398.9 192.3ZM404.5 192.0L404.3 196.3L404.8 196.8L409.2 196.8L409.4 196.5L409.0 192.0L404.7 191.8ZM409.0 192.0L409.5 191.6L414.3 191.8L414.5 192.1L414.3 196.1L409.4 196.5ZM414.3 196.1L414.5 192.1L419.1 191.6L419.5 192.0L419.6 196.5L419.5 196.7L414.6 196.5ZM419.6 196.5L419.5 192.0L424.0 191.6L424.5 196.1L424.1 196.5ZM429.0 191.8L428.9 196.1L424.5 196.1L424.0 191.6L424.3 191.3L428.9 191.6ZM429.0 191.8L428.9 196.1L429.3 196.5L433.5 196.6L434.2 195.9L434.1 191.8L433.9 191.6ZM438.9 196.4L439.0 191.6L438.7 191.3L434.1 191.8L434.2 195.9L438.8 196.5ZM438.9 196.4L439.0 191.6L443.7 191.7L443.4 195.9ZM443.4 195.9L443.7 191.7L443.7 191.7L448.4 192.2L448.2 196.5L444.2 196.7ZM448.4 196.7L448.2 196.5L448.4 192.2L449.0 191.6L452.5 192.1L453.1 196.6ZM399.0 198.0L400.5 202.9L404.2 202.6L404.8 196.8L404.3 196.3L399.9 196.6ZM406.1 203.5L404.2 202.6L404.8 196.8L409.2 196.8L409.6 201.1ZM413.3 202.2L414.4 201.8L414.6 196.5L414.3 196.1L409.4 196.5L409.2 196.8L409.6 201.1ZM414.6 196.5L419.5 196.7L419.5 201.8L417.9 202.7L414.4 201.8ZM422.9 202.4L419.5 201.8L419.5 196.7L419.6 196.5L424.1 196.5L424.4 201.5ZM429.3 196.5L428.5 201.9L428.3 202.1L424.4 201.5L424.1 196.5L424.5 196.1L428.9 196.1ZM434.1 202.3L433.5 196.6L429.3 196.5L428.5 201.9L433.8 202.5ZM434.1 202.3L433.5 196.6L434.2 195.9L438.8 196.5L439.0 199.2L435.4 202.3ZM438.9 196.4L443.4 195.9L444.2 196.7L443.3 202.1L443.2 202.2L439.0 199.2L438.8 196.5ZM443.3 202.1L447.4 202.5L448.5 201.2L448.4 196.7L448.2 196.5L444.2 196.7ZM453.3 201.0L453.2 196.7L453.1 196.6L448.4 196.7L448.5 201.2L453.3 201.0ZM406.1 203.5L409.6 201.1L413.3 202.2L412.1 207.3L407.2 207.2ZM412.1 207.3L413.0 208.3L417.8 208.1L418.0 207.9L417.9 202.7L414.4 201.8L413.3 202.2ZM423.4 207.9L422.9 202.4L419.5 201.8L417.9 202.7L418.0 207.9L422.8 208.6ZM428.0 207.5L428.3 202.1L424.4 201.5L422.9 202.4L423.4 207.9ZM433.8 202.5L428.5 201.9L428.3 202.1L428.0 207.5L428.3 207.8L433.3 207.3ZM433.9 208.1L433.3 207.3L433.8 202.5L434.1 202.3L435.4 202.3L438.9 204.8L438.8 208.0L437.7 208.9ZM438.9 204.8L443.0 202.5L443.7 208.1L443.1 208.8L438.8 208.0ZM443.7 208.1L447.8 207.5L448.8 205.8L447.4 202.5L443.3 202.1L443.2 202.2L443.0 202.5ZM407.2 207.2L405.4 210.8L406.5 212.7L412.3 213.3L413.0 208.3L412.1 207.3ZM413.0 208.3L412.3 213.3L412.6 213.6L417.6 213.7L417.8 208.1ZM423.2 213.0L422.8 208.6L418.0 207.9L417.8 208.1L417.6 213.7L417.8 213.9ZM428.9 212.5L428.4 213.0L423.3 213.1L423.2 213.0L422.8 208.6L423.4 207.9L428.0 207.5L428.3 207.8ZM432.5 212.6L428.9 212.5L428.3 207.8L433.3 207.3L433.9 208.1ZM434.0 214.0L438.0 213.5L437.7 208.9L433.9 208.1L432.5 212.6ZM437.7 208.9L438.8 208.0L443.1 208.8L443.6 212.9L438.1 213.6L438.0 213.5ZM443.1 208.8L443.6 212.9L443.7 213.0L449.0 212.4L449.2 212.1L447.8 207.5L443.7 208.1ZM412.0 219.3L405.5 217.6L405.5 217.5L406.5 212.7L412.3 213.3L412.6 213.6L412.1 219.2ZM418.2 218.2L417.8 213.9L417.6 213.7L412.6 213.6L412.1 219.2L417.7 218.8ZM423.1 218.7L423.6 218.2L423.3 213.1L423.2 213.0L417.8 213.9L418.2 218.2ZM428.7 217.4L428.4 213.0L423.3 213.1L423.6 218.2L427.5 218.5ZM434.0 214.0L432.8 218.1L428.7 217.4L428.4 213.0L428.9 212.5L432.5 212.6ZM434.0 214.0L432.8 218.1L433.2 218.7L438.0 219.4L438.8 218.5L438.1 213.6L438.0 213.5ZM438.1 213.6L443.6 212.9L443.7 213.0L444.0 218.0L443.3 218.6L438.8 218.5ZM443.7 213.0L449.0 212.4L449.5 218.0L448.2 218.9L444.0 218.0ZM449.0 212.4L449.5 218.0L453.5 218.4L454.5 217.6L452.4 211.6L449.2 212.1ZM417.7 218.8L412.1 219.2L412.0 219.3L411.8 223.0L416.8 224.2L418.1 223.0ZM422.7 223.7L418.1 223.0L417.7 218.8L418.2 218.2L423.1 218.7L422.8 223.6ZM427.4 224.1L428.5 223.3L427.5 218.5L423.6 218.2L423.1 218.7L422.8 223.6ZM432.8 218.1L428.7 217.4L427.5 218.5L428.5 223.3L432.0 223.5L433.2 218.7ZM433.2 218.7L432.0 223.5L433.1 224.6L438.1 223.2L438.0 219.4ZM438.8 218.5L443.3 218.6L443.1 223.7L438.3 223.3L438.1 223.2L438.0 219.4ZM443.3 218.6L443.1 223.7L443.2 223.8L448.2 223.5L448.2 218.9L444.0 218.0ZM453.5 218.4L449.5 218.0L448.2 218.9L448.2 223.5L448.7 224.1L453.9 222.8ZM453.5 218.4L453.9 222.8L454.9 223.8L457.9 223.6L458.8 220.2L456.1 217.3L454.5 217.6ZM417.3 228.6L417.3 228.6L412.1 229.2L410.6 224.3L411.8 223.0L416.8 224.2ZM422.7 223.7L418.1 223.0L416.8 224.2L417.3 228.6L422.0 227.9ZM427.4 228.3L423.0 229.0L422.0 227.9L422.7 223.7L422.8 223.6L427.4 224.1ZM427.4 228.3L428.1 229.0L432.3 228.8L433.2 227.6L433.1 224.6L432.0 223.5L428.5 223.3L427.4 224.1ZM438.4 229.3L433.2 227.6L433.1 224.6L438.1 223.2L438.3 223.3L438.9 228.8ZM443.1 228.6L443.2 223.8L443.1 223.7L438.3 223.3L438.9 228.8ZM443.1 228.6L448.5 228.3L449.0 227.9L448.7 224.1L448.2 223.5L443.2 223.8L443.1 228.6ZM453.9 222.8L448.7 224.1L449.0 227.9L453.8 228.8L454.9 223.8ZM457.9 223.6L459.0 224.5L459.2 229.0L458.6 229.4L454.0 229.0L453.8 228.8L454.9 223.8ZM417.3 228.6L412.1 229.2L411.1 230.9L411.9 233.8L418.0 233.6ZM423.0 229.0L423.0 233.3L422.4 233.8L418.4 233.9L418.0 233.6L417.3 228.6L417.3 228.6L422.0 227.9ZM427.4 228.3L428.1 229.0L427.5 234.0L423.0 233.3L423.0 229.0ZM428.1 229.0L432.3 228.8L432.9 233.4L427.7 234.1L427.5 234.0ZM438.4 229.3L433.2 227.6L432.3 228.8L432.9 233.4L433.8 234.1L437.6 233.7ZM443.1 228.6L443.7 233.3L443.0 234.1L438.0 234.1L437.6 233.7L438.4 229.3L438.9 228.8L443.1 228.6ZM443.1 228.6L448.5 228.3L448.2 233.7L443.7 233.3ZM448.5 228.3L448.2 233.7L449.0 234.5L453.4 233.7L454.0 229.0L453.8 228.8L449.0 227.9ZM458.7 234.1L458.6 229.4L454.0 229.0L453.4 233.7L454.4 234.7ZM459.2 229.0L458.6 229.4L458.7 234.1L459.6 234.8L462.4 234.1L462.8 229.4L462.7 229.3ZM410.9 237.0L411.9 233.8L418.0 233.6L418.4 233.9L417.4 238.7L411.5 238.0ZM433.8 234.1L432.8 238.9L427.9 238.4L427.7 234.1L432.9 233.4ZM437.6 233.7L433.8 234.1L432.8 238.9L433.3 239.6L438.0 239.5L438.7 238.7L438.0 234.1ZM443.0 234.1L443.7 239.0L443.6 239.1L438.7 238.7L438.0 234.1ZM443.7 233.3L448.2 233.7L449.0 234.5L448.4 238.1L443.7 239.0L443.0 234.1ZM449.0 234.5L453.4 233.7L454.4 234.7L454.6 239.0L454.3 239.3L449.0 238.9L448.4 238.1ZM459.6 234.8L459.6 239.2L454.6 239.0L454.4 234.7L458.7 234.1ZM465.9 236.0L465.8 238.3L464.3 239.7L459.8 239.5L459.6 239.2L459.6 234.8L462.4 234.1ZM411.5 238.0L417.4 238.7L417.9 239.4L416.8 243.9L412.4 244.5L410.9 242.6ZM422.8 244.7L416.9 244.1L416.8 243.9L417.9 239.4L422.5 239.8L422.8 244.6ZM427.4 239.0L428.2 244.2L427.8 244.6L422.8 244.6L422.5 239.8L422.9 239.5ZM427.9 238.4L432.8 238.9L433.3 239.6L432.7 244.5L428.2 244.2L427.4 239.0ZM432.7 244.5L438.1 244.9L438.6 244.3L438.0 239.5L433.3 239.6L432.7 244.5ZM443.6 239.1L438.7 238.7L438.0 239.5L438.6 244.3L443.2 243.9L443.6 243.4ZM443.7 239.0L443.6 239.1L443.6 243.4L448.7 244.0L448.9 243.9L449.0 238.9L448.4 238.1ZM418.1 249.5L416.9 244.1L416.8 243.9L412.4 244.5L411.5 248.9L411.8 249.5L418.1 249.5ZM422.2 248.7L422.8 244.7L416.9 244.1L418.1 249.5ZM422.2 248.7L422.8 244.7L422.8 244.6L427.8 244.6L427.5 249.7L422.6 249.2ZM427.5 249.7L427.8 250.0L432.7 249.3L432.7 244.5L432.7 244.5L428.2 244.2L427.8 244.6ZM432.7 244.5L432.7 249.3L432.9 249.5L438.4 249.7L438.6 249.4L438.1 244.9ZM438.6 244.3L443.2 243.9L443.9 248.9L442.6 250.0L438.6 249.4L438.1 244.9ZM448.7 244.0L447.8 249.3L443.9 248.9L443.2 243.9L443.6 243.4ZM422.6 249.2L427.5 249.7L427.8 250.0L427.7 253.9L427.4 254.2L422.8 254.3ZM465.1 255.8L469.7 254.7L468.8 250.2L464.4 250.1L464.5 255.2ZM470.2 259.3L469.8 254.7L469.7 254.7L465.1 255.8L464.7 260.1L469.0 260.6ZM390.6 90.4L394.6 90.1L395.2 89.5L394.6 84.8L390.9 82.9L388.8 85.8ZM395.2 89.5L400.6 89.2L401.2 84.6L398.6 83.0L394.6 84.8ZM407.0 90.3L407.1 90.2L406.6 82.8L405.9 82.5L401.2 84.6L400.6 89.2L401.4 90.3ZM412.8 89.2L412.5 89.5L407.1 90.2L406.6 82.8L408.3 82.6L413.1 85.9ZM390.6 90.4L394.6 90.1L395.8 95.8L395.0 96.5L390.5 95.8L389.3 92.1ZM395.8 95.8L400.5 95.7L400.7 95.5L401.4 90.3L400.6 89.2L395.2 89.5L394.6 90.1ZM407.5 95.7L407.5 95.6L407.0 90.3L401.4 90.3L400.7 95.5ZM412.9 95.4L412.5 89.5L407.1 90.2L407.0 90.3L407.5 95.6L412.7 95.6ZM434.0 88.5L429.7 90.6L430.5 95.8L434.9 95.9L436.4 90.0ZM394.4 102.0L389.9 101.7L388.3 98.5L390.5 95.8L395.0 96.5L394.7 101.6ZM401.5 101.3L400.5 95.7L395.8 95.8L395.0 96.5L394.7 101.6ZM407.0 100.7L407.5 95.7L400.7 95.5L400.5 95.7L401.5 101.3L401.6 101.3L406.4 101.1ZM407.0 100.7L407.5 95.7L407.5 95.6L412.7 95.6L413.4 101.1L412.8 101.7ZM436.3 101.6L442.5 101.4L442.7 101.3L442.2 95.7L435.9 96.9L436.1 101.5ZM448.9 96.3L445.5 94.0L442.5 95.2L442.2 95.7L442.7 101.3L447.5 102.2L448.2 101.6ZM451.6 95.5L454.9 98.3L453.0 101.9L448.2 101.6L448.9 96.3ZM394.4 102.0L389.9 101.7L387.8 104.7L390.0 107.7L394.3 107.6L395.1 106.4ZM401.5 101.3L394.7 101.6L394.4 102.0L395.1 106.4L400.9 106.8L401.0 106.8L401.6 101.3ZM407.3 107.4L406.4 101.1L401.6 101.3L401.0 106.8L407.0 107.7ZM412.4 107.0L412.8 101.7L407.0 100.7L406.4 101.1L407.3 107.4ZM436.9 107.3L436.3 101.6L442.5 101.4L441.3 107.8L440.9 108.0L437.1 107.4ZM447.5 102.2L442.7 101.3L442.5 101.4L441.3 107.8L447.8 107.6L448.0 107.3ZM390.0 107.7L394.3 107.6L395.1 113.0L392.8 115.7L388.2 111.4ZM400.9 106.8L400.4 112.7L395.1 113.0L394.3 107.6L395.1 106.4ZM407.0 107.7L401.0 106.8L400.9 106.8L400.4 112.7L401.5 113.7L406.4 112.9ZM412.8 113.0L412.7 107.4L412.4 107.0L407.3 107.4L407.0 107.7L406.4 112.9L406.8 113.3ZM401.1 119.3L401.5 113.7L400.4 112.7L395.1 113.0L392.8 115.7L392.7 117.1L395.1 119.1ZM407.4 119.8L407.9 119.3L406.8 113.3L406.4 112.9L401.5 113.7L401.1 119.3L401.4 119.6ZM412.8 113.0L406.8 113.3L407.9 119.3L411.8 119.1L413.1 113.4ZM436.1 120.3L437.3 115.0L435.2 113.4L431.7 113.4L430.4 118.9L431.0 119.8L435.6 120.7ZM401.0 125.1L400.5 125.5L395.4 125.0L395.1 119.1L401.1 119.3L401.4 119.6ZM407.4 125.6L407.4 119.8L401.4 119.6L401.0 125.1L407.1 125.9ZM412.8 125.8L407.4 125.6L407.4 119.8L407.9 119.3L411.8 119.1L412.4 119.5L413.6 125.0ZM394.4 131.0L390.3 131.7L387.7 125.5L389.1 124.8L394.3 126.0ZM400.1 131.1L395.3 131.7L394.4 131.0L394.3 126.0L395.4 125.0L400.5 125.5L400.5 130.7ZM406.8 131.4L407.1 125.9L401.0 125.1L400.5 125.5L400.5 130.7ZM406.8 131.4L407.1 125.9L407.4 125.6L412.8 125.8L412.9 131.3L406.8 131.4ZM395.2 136.7L392.6 139.8L392.5 139.8L389.0 133.2L390.3 131.7L394.4 131.0L395.3 131.7ZM401.1 137.3L395.2 136.7L395.3 131.7L400.1 131.1ZM401.1 137.3L400.1 131.1L400.5 130.7L406.8 131.4L406.8 131.4L406.6 136.8L406.3 137.2L401.2 137.3ZM406.6 136.8L411.8 137.7L413.5 136.0L413.0 131.4L412.9 131.3L406.8 131.4ZM419.3 131.2L418.7 130.5L413.0 131.4L413.5 136.0L417.8 136.7ZM399.7 143.0L401.2 137.3L401.1 137.3L395.2 136.7L392.6 139.8L393.4 142.2L399.6 143.1ZM399.7 143.0L401.2 137.3L406.3 137.2L406.3 142.9ZM406.9 143.7L406.3 142.9L406.3 137.2L406.6 136.8L411.8 137.7L412.8 142.4L412.1 143.3ZM417.9 142.1L412.8 142.4L411.8 137.7L413.5 136.0L417.8 136.7L418.0 137.0ZM418.5 142.7L423.6 142.1L423.9 137.2L418.0 137.0L417.9 142.1ZM435.6 136.9L436.4 137.7L435.9 142.6L430.0 142.5L430.1 138.0ZM399.6 143.1L393.4 142.2L391.8 145.8L392.7 148.7L400.1 148.5L400.4 148.1ZM406.0 148.4L400.4 148.1L399.6 143.1L399.7 143.0L406.3 142.9L406.9 143.7ZM406.0 148.4L406.9 143.7L412.1 143.3L413.1 147.8L411.6 149.5L406.5 149.0ZM418.5 142.7L418.3 148.5L413.1 147.8L412.1 143.3L412.8 142.4L417.9 142.1ZM418.5 142.7L418.3 148.5L418.5 148.8L423.3 148.5L424.5 143.1L423.6 142.1ZM423.3 148.5L424.7 149.9L430.4 148.6L429.3 143.4L424.5 143.1ZM430.0 142.5L429.3 143.4L430.4 148.6L430.5 148.7L435.7 148.3L436.9 143.9L435.9 142.6ZM400.1 148.5L392.7 148.7L392.1 151.3L396.3 154.2L399.8 152.8ZM406.0 148.4L400.4 148.1L400.1 148.5L399.8 152.8L402.4 155.0L405.7 154.4L406.5 149.0ZM406.5 149.0L405.7 154.4L407.0 155.4L412.6 154.8L412.6 154.7L411.6 149.5ZM418.5 148.8L417.9 154.0L412.6 154.7L411.6 149.5L413.1 147.8L418.3 148.5ZM418.5 148.8L417.9 154.0L418.4 154.6L424.6 154.1L424.7 149.9L423.3 148.5ZM424.6 154.1L424.7 149.9L430.4 148.6L430.5 148.7L430.8 154.5L430.0 155.1L425.0 154.7ZM430.8 154.5L436.0 155.4L436.8 154.6L436.2 148.9L435.7 148.3L430.5 148.7ZM442.3 149.1L441.1 154.6L436.8 154.6L436.2 148.9ZM407.0 159.0L407.0 155.4L405.7 154.4L402.4 155.0L401.0 158.6L404.6 161.1ZM409.7 160.8L412.8 158.7L412.6 154.8L407.0 155.4L407.0 159.0ZM418.4 154.6L419.1 159.1L419.0 159.1L414.7 160.3L412.8 158.7L412.6 154.8L412.6 154.7L417.9 154.0ZM424.6 154.1L418.4 154.6L419.1 159.1L424.3 159.2L425.0 154.7ZM425.0 154.7L424.3 159.2L424.4 159.5L429.1 160.2L429.8 159.4L430.0 155.1ZM430.8 154.5L436.0 155.4L435.9 158.7L434.0 160.3L429.8 159.4L430.0 155.1ZM436.0 155.4L435.9 158.7L438.8 160.9L442.2 159.2L441.7 155.1L441.1 154.6L436.8 154.6ZM441.7 155.1L446.3 154.6L447.2 155.5L446.8 159.0L443.7 160.3L442.2 159.2ZM453.4 118.6L451.8 120.4L446.6 120.1L446.3 119.8L448.1 113.4L452.8 114.4ZM459.2 120.3L453.4 118.6L452.8 114.4L455.4 111.8L457.4 112.1L460.5 116.8L460.1 119.6ZM435.1 133.0L436.7 131.4L436.5 126.5L436.0 126.1L431.0 127.0L430.2 131.5ZM458.1 131.4L459.0 125.9L458.2 124.6L453.2 125.6L453.7 131.4L457.4 131.9ZM458.1 131.4L463.8 131.7L463.8 126.8L459.0 125.9ZM469.8 126.3L465.6 125.0L463.8 126.8L463.8 131.7L464.2 132.0L469.2 131.8L470.0 126.4ZM435.6 136.9L430.1 138.0L429.1 137.0L430.1 131.6L430.2 131.5L435.1 133.0ZM436.4 137.7L441.1 137.2L441.5 143.6L436.9 143.9L435.9 142.6ZM441.5 143.6L441.1 137.2L441.1 137.2L447.1 138.2L446.3 142.9L442.3 144.1ZM441.5 143.6L436.9 143.9L435.7 148.3L436.2 148.9L442.3 149.1L442.5 148.9L442.3 144.1ZM442.3 144.1L446.3 142.9L447.8 144.3L447.8 149.5L447.1 149.9L442.5 148.9ZM458.6 143.3L458.9 148.6L459.6 149.3L463.9 148.7L464.2 143.6L464.0 143.4ZM470.1 148.7L470.7 149.3L475.8 148.5L476.5 143.2L470.5 143.3L470.2 143.7ZM476.5 143.2L480.1 143.8L481.7 148.6L477.6 150.2L475.8 148.5L476.5 143.2ZM442.3 149.1L441.1 154.6L441.7 155.1L446.3 154.6L447.1 149.9L442.5 148.9ZM452.3 150.3L447.8 149.5L447.1 149.9L446.3 154.6L447.2 155.5L452.1 155.5L453.3 154.1ZM453.5 148.8L458.9 148.6L459.6 149.3L458.8 154.8L458.3 155.1L453.3 154.1L452.3 150.3ZM463.9 148.7L459.6 149.3L458.8 154.8L463.6 155.9L465.0 154.9L465.3 149.8ZM470.1 148.7L470.7 149.3L471.6 154.0L469.9 156.0L465.0 154.9L465.3 149.8ZM477.6 150.2L477.0 154.7L476.9 154.7L471.6 154.0L470.7 149.3L475.8 148.5ZM450.1 161.6L452.1 161.2L452.1 155.5L447.2 155.5L446.8 159.0ZM453.3 154.1L452.1 155.5L452.1 161.2L452.7 161.5L457.5 161.0L458.3 155.1ZM458.8 154.8L463.6 155.9L464.0 161.3L458.4 161.7L457.5 161.0L458.3 155.1ZM464.0 161.3L463.6 155.9L465.0 154.9L469.9 156.0L470.6 160.7L470.5 160.8L464.6 161.9ZM469.9 156.0L470.6 160.7L475.5 160.1L476.9 154.7L471.6 154.0ZM480.7 155.7L481.7 160.2L477.4 161.9L475.5 160.1L476.9 154.7L477.0 154.7ZM487.3 159.8L484.5 161.9L481.7 160.2L480.7 155.7L484.0 153.6L487.7 157.4ZM458.5 166.1L453.7 167.3L452.7 161.5L457.5 161.0L458.4 161.7ZM464.0 161.3L458.4 161.7L458.5 166.1L459.9 167.4L464.5 166.0L464.6 161.9ZM470.2 167.3L465.2 166.7L464.5 166.0L464.6 161.9L470.5 160.8L471.6 165.9ZM477.1 166.1L477.4 161.9L481.7 160.2L484.5 161.9L484.4 164.4L481.2 167.0ZM459.5 171.9L459.9 167.4L458.5 166.1L453.7 167.3L453.3 168.0L454.7 171.8L458.4 172.4ZM464.9 171.7L461.9 172.8L459.5 171.9L459.9 167.4L464.5 166.0L465.2 166.7ZM470.4 172.1L470.2 167.3L465.2 166.7L464.9 171.7L467.5 173.0ZM470.8 172.3L475.8 171.7L476.3 166.7L471.6 165.9L470.2 167.3L470.4 172.1ZM479.9 173.1L482.2 171.3L481.2 167.0L477.1 166.1L476.3 166.7L475.8 171.7L476.8 172.7ZM484.2 171.9L482.2 171.3L481.2 167.0L484.4 164.4L488.6 168.0L488.1 169.7ZM476.8 172.7L475.8 171.7L470.8 172.3L472.2 177.4L475.4 177.5ZM475.9 178.2L481.0 177.4L481.3 177.7L480.7 182.1L476.5 182.2ZM485.9 177.3L485.4 183.0L485.5 183.1L490.4 183.0L491.7 180.1L488.8 176.9ZM466.9 181.7L467.0 181.9L466.4 186.9L462.8 186.7L462.0 182.3ZM476.5 182.2L476.2 182.5L476.0 186.8L480.5 187.2L481.2 182.7L480.7 182.1ZM490.8 187.2L491.4 185.7L490.4 183.0L485.5 183.1L485.4 186.8L486.6 188.0ZM453.7 191.2L457.3 191.9L457.4 191.9L458.2 187.4L457.9 187.1L453.4 187.2ZM462.4 191.9L461.9 187.6L458.2 187.4L457.4 191.9L462.1 192.3ZM462.4 191.9L461.9 187.6L462.8 186.7L466.4 186.9L467.1 187.5L467.2 190.9L466.3 191.8ZM471.2 186.4L472.4 187.3L471.3 191.9L471.2 191.9L467.2 190.9L467.1 187.5ZM476.4 192.1L476.2 192.2L471.3 191.9L472.4 187.3L475.7 187.1ZM480.5 187.2L476.0 186.8L475.7 187.1L476.4 192.1L480.3 192.2L481.2 191.1L481.2 188.0ZM491.9 190.5L487.4 192.3L486.3 192.2L486.1 192.0L486.6 188.0L490.8 187.2L492.0 190.3ZM453.2 196.7L457.0 196.1L457.3 191.9L453.7 191.2L452.5 192.1L453.1 196.6ZM461.9 196.3L458.2 197.1L457.0 196.1L457.3 191.9L457.4 191.9L462.1 192.3ZM467.0 196.3L466.3 191.8L462.4 191.9L462.1 192.3L461.9 196.3L462.5 196.8L466.9 196.4ZM467.0 196.3L470.9 196.0L471.2 191.9L467.2 190.9L466.3 191.8ZM472.1 197.1L470.9 196.0L471.2 191.9L471.3 191.9L476.2 192.2L475.5 196.4ZM485.3 196.0L481.3 196.6L481.3 196.5L480.3 192.2L481.2 191.1L486.1 192.0L486.3 192.2ZM453.3 201.0L458.0 201.0L458.2 197.1L457.0 196.1L453.2 196.7ZM462.5 196.8L462.9 201.4L462.7 201.6L458.1 201.2L458.0 201.0L458.2 197.1L461.9 196.3ZM466.9 196.4L467.1 201.2L466.8 201.5L462.9 201.4L462.5 196.8ZM467.0 196.3L470.9 196.0L472.1 197.1L471.6 200.6L467.1 201.2L466.9 196.4ZM472.2 201.3L475.8 201.7L477.0 200.7L477.0 197.6L475.5 196.4L472.1 197.1L471.6 200.6ZM477.0 200.7L477.0 197.6L481.3 196.5L481.3 196.6L481.9 200.7L480.6 202.0ZM490.8 196.6L486.2 197.1L486.3 201.0L490.6 201.6L491.6 199.6ZM453.3 201.0L458.0 201.0L458.1 201.2L457.7 205.4L456.6 206.3L453.4 205.7L453.3 201.0ZM462.7 201.6L458.1 201.2L457.7 205.4L462.2 206.1ZM467.6 205.7L466.8 201.5L462.9 201.4L462.7 201.6L462.2 206.1L462.3 206.2L467.0 206.5ZM467.6 205.7L466.8 201.5L467.1 201.2L471.6 200.6L472.2 201.3L471.6 205.6ZM471.6 205.6L472.2 201.3L475.8 201.7L476.4 205.9L472.4 206.4ZM476.8 206.1L476.4 205.9L475.8 201.7L477.0 200.7L480.6 202.0L480.6 205.3ZM490.6 201.6L491.3 203.2L490.7 205.8L485.8 206.3L485.2 205.6L485.8 201.4L486.3 201.0ZM449.2 212.1L452.4 211.6L452.5 211.5L452.8 206.0L448.8 205.8L447.8 207.5ZM457.5 210.9L456.6 206.3L453.4 205.7L452.8 206.0L452.5 211.5L457.3 211.2ZM457.5 210.9L456.6 206.3L457.7 205.4L462.2 206.1L462.3 206.2L461.8 210.0ZM467.0 206.5L462.3 206.2L461.8 210.0L462.9 211.1L467.3 210.7L467.4 210.6ZM472.0 210.5L476.8 210.7L477.0 210.4L476.8 206.1L476.4 205.9L472.4 206.4ZM481.4 210.3L480.7 205.3L480.6 205.3L476.8 206.1L477.0 210.4L481.4 210.3ZM481.4 210.3L485.3 210.4L485.4 210.3L485.8 206.3L485.2 205.6L480.7 205.3ZM491.6 207.4L490.4 210.9L485.4 210.3L485.8 206.3L490.7 205.8ZM454.5 217.6L452.4 211.6L452.5 211.5L457.3 211.2L458.0 215.1L456.1 217.3ZM461.9 215.7L458.0 215.1L457.3 211.2L457.5 210.9L461.8 210.0L462.9 211.1L462.6 215.2ZM466.6 216.1L462.6 215.2L462.9 211.1L467.3 210.7L467.1 215.7ZM471.6 210.9L472.2 214.9L471.7 215.5L467.1 215.7L467.3 210.7L467.4 210.6ZM471.6 210.9L472.2 214.9L476.3 215.6L477.0 215.0L476.8 210.7L472.0 210.5ZM481.4 210.3L480.6 215.5L477.0 215.0L476.8 210.7L477.0 210.4ZM481.4 210.3L485.3 210.4L485.4 214.9L480.8 215.7L480.6 215.5L481.4 210.3ZM485.3 210.4L485.4 214.9L486.3 215.7L490.4 215.1L491.2 212.4L490.4 210.9L485.4 210.3ZM456.1 217.3L458.0 215.1L461.9 215.7L461.8 219.6L458.8 220.2ZM466.9 219.7L466.6 216.1L462.6 215.2L461.9 215.7L461.8 219.6L462.6 220.3ZM466.9 219.7L466.6 216.1L467.1 215.7L471.7 215.5L471.6 219.8L471.4 220.0L467.4 220.2ZM471.6 219.8L475.9 219.8L476.3 215.6L472.2 214.9L471.7 215.5ZM476.2 220.1L481.2 219.9L480.8 215.7L480.6 215.5L477.0 215.0L476.3 215.6L475.9 219.8ZM480.8 215.7L485.4 214.9L486.3 215.7L486.0 219.5L485.3 220.2L481.4 220.1L481.2 219.9ZM486.0 219.5L486.3 215.7L490.4 215.1L491.7 217.1L491.3 220.0L490.8 220.4ZM458.8 220.2L461.8 219.6L462.6 220.3L462.5 223.9L459.0 224.5L457.9 223.6ZM472.1 224.7L471.9 224.9L471.3 229.7L471.8 230.2L476.5 229.7L476.7 229.4L476.0 224.8ZM490.4 229.9L491.3 225.5L490.3 224.3L486.0 224.7L485.7 225.1L485.7 228.8L486.1 229.3ZM466.9 235.0L466.6 230.1L462.8 229.4L462.4 234.1L465.9 236.0ZM466.9 235.0L471.6 234.5L471.8 230.2L471.3 229.7L467.6 229.4L466.6 230.1ZM471.6 234.5L471.9 234.8L476.9 234.3L477.0 234.2L476.5 229.7L471.8 230.2ZM490.4 229.9L486.1 229.3L485.3 234.0L486.7 235.1L490.7 232.9L490.8 230.4ZM486.3 247.5L483.5 249.0L481.1 248.2L480.8 247.9L481.6 243.9L485.7 244.6L486.5 246.1ZM480.8 247.9L477.1 247.7L476.6 248.4L476.9 251.1L479.8 252.1L481.1 248.2ZM508.3 181.2L512.0 181.3L512.4 185.6L507.9 185.6L508.0 181.5ZM507.9 185.6L507.7 185.8L508.8 189.9L512.3 189.7L512.5 185.7L512.4 185.6ZM519.8 189.7L516.7 189.8L516.2 185.4L517.4 184.2L519.2 184.3L521.0 187.6ZM495.5 195.1L492.3 194.8L491.9 190.5L492.0 190.3L495.8 190.3L496.4 194.2ZM521.0 192.1L520.0 194.2L516.5 194.5L516.3 194.3L516.0 190.3L516.7 189.8L519.8 189.7ZM500.1 194.4L496.4 194.2L495.5 195.1L496.1 198.6L499.9 198.7L500.5 194.7ZM500.5 194.7L503.8 194.4L504.1 194.7L504.8 198.7L504.1 199.4L500.5 199.4L499.9 198.7ZM508.5 194.8L508.1 198.9L504.8 198.7L504.1 194.7ZM508.5 194.8L508.1 198.9L508.7 199.4L512.4 199.1L512.4 199.1L512.5 195.0L512.0 194.5L509.0 194.3ZM521.3 196.2L519.8 199.0L517.0 199.1L516.5 194.5L520.0 194.2ZM495.7 199.1L496.3 203.2L496.2 203.3L491.3 203.2L490.6 201.6L491.6 199.6ZM504.1 199.4L504.6 203.4L504.5 203.5L500.4 203.7L499.8 202.9L500.5 199.4ZM520.5 203.8L516.7 203.1L516.7 199.4L517.0 199.1L519.8 199.0L521.3 200.9ZM507.7 203.7L508.1 207.7L504.0 208.1L503.9 208.0L504.5 203.5L504.6 203.4ZM512.1 212.3L512.3 212.5L516.4 211.8L516.2 207.8L516.1 207.7L512.3 207.9ZM507.6 225.7L508.1 225.3L512.0 225.5L513.1 226.6L513.1 228.5L508.9 230.7L508.2 230.5ZM554.0 171.9L556.4 174.1L561.2 172.7L559.6 168.2L557.4 167.7L554.0 170.4ZM518.3 177.4L515.8 181.2L517.4 184.2L519.2 184.3L520.6 182.9L520.3 177.8L518.7 177.3ZM525.0 183.0L524.7 177.6L523.5 176.9L520.3 177.8L520.6 182.9ZM534.1 177.7L533.9 177.4L533.2 176.8L528.9 177.5L529.6 182.5L532.9 182.6ZM543.0 182.4L543.3 177.1L547.8 178.4L547.4 182.6ZM547.5 182.6L552.2 182.6L552.5 178.8L550.1 176.8L547.8 178.4L547.4 182.6ZM556.7 177.4L560.9 178.4L560.5 182.7L560.3 182.9L556.8 183.0L556.1 178.1ZM521.0 187.6L519.2 184.3L520.6 182.9L525.0 183.0L525.2 183.2L524.8 186.9L524.3 187.5ZM543.0 182.4L538.7 182.0L538.5 182.2L538.5 187.0L542.7 186.8ZM547.5 182.6L552.2 182.6L552.3 182.7L551.9 187.3L547.6 187.2ZM529.5 187.9L524.8 186.9L524.3 187.5L525.0 191.6L529.3 191.6ZM538.3 191.4L534.1 191.8L534.0 191.7L533.7 186.9L534.0 186.6L538.4 187.2ZM542.4 191.8L538.4 191.5L538.3 191.4L538.4 187.2L538.5 187.0L542.7 186.8L543.4 187.4L542.8 191.4ZM552.1 187.6L551.9 187.3L547.6 187.2L547.5 187.2L547.6 191.8L550.9 192.5L552.5 191.0ZM556.1 187.0L552.1 187.6L552.5 191.0L556.2 192.1L556.8 191.7L557.1 187.9ZM529.5 191.8L529.4 196.4L524.8 196.1L524.7 191.8L525.0 191.6L529.3 191.6ZM529.5 191.8L529.4 196.4L529.6 196.6L534.1 196.6L534.1 191.8L534.0 191.7ZM538.4 191.5L538.4 196.0L537.8 196.6L534.3 196.7L534.1 196.6L534.1 191.8L538.3 191.4ZM542.4 191.8L543.0 196.2L546.4 195.9L547.2 192.1L542.8 191.4ZM556.2 192.1L556.0 196.1L552.0 196.2L551.5 195.9L550.9 192.5L552.5 191.0ZM521.3 200.9L519.8 199.0L521.3 196.2L524.4 196.5L524.6 200.4ZM537.7 201.6L534.1 201.1L534.3 196.7L537.8 196.6L538.7 200.6ZM543.0 196.2L542.8 196.4L542.6 200.9L542.6 200.9L547.4 200.6L547.6 200.4L547.5 197.0L546.4 195.9ZM547.6 200.4L551.7 200.7L552.0 196.2L551.5 195.9L547.5 197.0ZM552.0 196.2L551.7 200.7L551.7 200.7L555.8 200.4L556.0 196.2L556.0 196.1ZM525.1 205.2L525.0 200.7L524.6 200.4L521.3 200.9L520.5 203.8L521.1 205.0L524.8 205.4ZM528.8 205.3L528.7 205.4L525.1 205.2L525.0 200.7L529.2 200.2L529.2 200.3ZM533.1 205.1L533.7 205.8L538.1 205.3L537.7 201.6L534.1 201.1L533.6 201.6ZM547.4 200.6L547.6 205.0L547.0 205.5L543.6 205.4L542.8 204.4L542.6 200.9ZM547.4 200.6L547.6 205.0L551.5 205.4L551.9 205.0L551.7 200.7L551.7 200.7L547.6 200.4ZM551.7 200.7L551.9 205.0L556.5 204.8L556.5 201.3L555.8 200.4ZM561.4 200.8L560.4 205.2L561.1 205.8L565.2 205.4L565.1 200.8ZM524.8 205.4L521.1 205.0L519.7 207.5L520.9 209.7L524.5 209.7ZM533.1 205.1L533.7 205.8L533.7 209.4L529.4 210.0L529.3 209.9L528.7 205.4L528.8 205.3ZM547.2 210.2L547.3 210.1L547.0 205.5L543.6 205.4L542.7 209.1L543.4 209.9ZM525.1 210.4L524.6 214.0L521.2 214.4L519.8 212.1L520.9 209.7L524.5 209.7ZM529.3 209.9L525.1 210.4L524.6 214.0L525.0 214.4L529.0 214.7L529.8 213.9L529.4 210.0ZM529.4 210.0L529.8 213.9L533.5 214.3L534.1 213.8L533.9 209.6L533.7 209.4ZM542.8 214.4L547.0 214.1L547.2 210.2L543.4 209.9L542.5 214.1ZM525.0 217.4L525.0 214.4L524.6 214.0L521.2 214.4L520.1 216.5L521.3 219.1ZM533.6 219.2L529.7 219.8L529.5 219.7L529.0 214.7L529.8 213.9L533.5 214.3ZM537.9 219.3L538.0 214.1L534.1 213.8L533.5 214.3L533.6 219.2L534.1 219.5L537.5 219.5ZM547.1 219.5L542.8 218.6L542.8 214.4L547.0 214.1L547.3 214.4ZM508.9 132.7L508.9 127.3L508.1 126.6L504.1 126.9L502.6 128.3L505.3 132.5ZM513.6 132.4L508.9 132.7L508.9 132.7L508.9 127.3L513.6 127.3L514.0 127.7L513.8 132.2ZM509.0 142.3L509.1 142.2L509.2 137.6L508.9 137.4L503.8 137.8L503.8 141.8L504.0 142.0ZM513.9 137.5L509.2 137.6L509.1 142.2L513.4 142.6L514.2 141.9ZM518.7 142.0L518.2 142.4L514.2 141.9L513.9 137.5L513.9 137.5L518.5 137.0L518.7 137.3ZM518.7 142.0L523.4 142.0L523.7 137.7L518.7 137.3ZM514.3 147.7L518.3 147.2L518.6 146.8L518.2 142.4L514.2 141.9L513.4 142.6L513.6 147.0ZM518.7 142.0L518.2 142.4L518.6 146.8L522.8 146.9L523.6 142.2L523.4 142.0ZM523.6 142.2L522.8 146.9L523.4 147.5L527.9 147.3L528.0 142.9ZM528.0 142.9L527.9 147.3L528.3 147.8L533.5 146.8L534.5 145.6L533.5 142.9L528.8 142.2ZM514.3 147.7L513.8 151.8L513.3 152.2L509.4 151.7L508.8 147.5L513.6 147.0ZM523.4 147.5L523.0 151.9L528.5 152.1L528.3 147.8L527.9 147.3ZM533.5 146.8L534.5 145.6L540.7 147.1L540.8 148.5L538.1 151.8L533.5 152.2L533.5 152.2ZM513.3 152.2L513.3 156.8L509.2 157.1L508.5 152.7L509.4 151.7ZM513.8 151.8L518.3 152.7L517.9 156.5L513.6 157.0L513.3 156.8L513.3 152.2ZM522.7 152.2L523.0 151.9L528.5 152.1L528.6 152.1L528.1 156.6L523.3 157.0ZM497.9 161.8L503.2 161.7L503.4 161.5L503.9 157.4L499.4 156.7L497.6 161.3ZM509.2 157.1L513.3 156.8L513.6 157.0L514.0 161.6L513.5 162.2L508.9 161.6L508.8 157.5ZM518.2 161.5L519.1 162.4L523.3 161.8L523.2 157.2L518.6 157.2ZM533.8 162.0L533.1 161.4L533.0 157.5L533.8 156.6L538.8 157.3L538.0 161.7ZM497.6 166.8L503.5 166.7L503.2 161.7L497.9 161.8ZM538.3 166.9L533.7 167.1L533.4 166.7L533.8 162.0L538.0 161.7L540.0 164.2ZM496.9 167.6L499.7 171.7L503.5 171.6L503.9 171.1L503.9 167.1L503.5 166.7L497.6 166.8ZM513.8 172.0L518.1 172.0L518.4 171.8L518.5 166.8L518.5 166.8L513.6 166.7L513.4 166.8ZM523.2 167.4L523.7 167.0L528.0 167.0L528.5 171.4L523.4 172.0L523.3 171.9ZM497.6 175.7L499.7 171.7L503.5 171.6L503.6 175.9L499.4 177.2ZM508.5 176.4L512.5 177.1L513.5 176.1L513.5 172.3L508.8 172.2L508.2 176.1ZM533.2 176.8L532.7 171.8L528.6 171.5L528.1 177.1L528.9 177.5ZM322.1 260.3L324.1 259.8L324.1 251.7L320.7 250.9L317.1 253.2L320.4 259.6ZM324.5 259.9L330.7 254.5L330.2 253.3L324.5 251.5L324.1 251.7L324.1 259.8ZM340.6 259.1L345.1 260.4L347.7 255.3L342.8 252.7L339.6 256.7ZM354.3 255.8L353.3 256.4L352.3 261.9L353.0 263.0L358.1 263.2L359.3 256.6L359.0 256.3ZM363.7 263.7L364.7 262.5L363.9 257.1L359.3 256.6L358.1 263.2L358.7 263.8ZM369.8 263.2L364.7 262.5L363.9 257.1L365.6 255.8L370.2 256.1ZM375.3 256.5L375.4 263.1L369.9 263.2L369.8 263.2L370.2 256.1L370.7 255.8ZM381.2 262.6L381.6 257.2L376.5 255.9L375.3 256.5L375.4 263.1L375.9 263.6L380.7 263.1ZM358.7 263.8L358.1 263.2L353.0 263.0L351.1 268.2L358.4 269.3L358.5 269.1ZM363.5 269.5L358.5 269.1L358.7 263.8L363.7 263.7L364.5 268.4ZM369.9 263.2L369.6 268.5L364.5 268.4L363.7 263.7L364.7 262.5L369.8 263.2ZM369.9 263.2L369.6 268.5L369.6 268.5L375.3 268.9L375.6 268.6L375.9 263.6L375.4 263.1ZM351.5 274.4L357.7 274.1L358.4 269.3L351.1 268.2L351.1 268.2L350.9 273.7ZM364.3 274.4L363.5 269.5L358.5 269.1L358.4 269.3L357.7 274.1L358.4 274.9L363.6 275.2ZM364.3 274.4L363.5 269.5L364.5 268.4L369.6 268.5L369.6 268.5L369.4 274.4L369.3 274.5ZM369.6 268.5L369.4 274.4L375.0 274.6L375.3 268.9ZM351.3 277.5L351.5 274.4L357.7 274.1L358.4 274.9L357.8 279.7L355.1 280.3ZM363.8 280.1L359.0 280.9L357.8 279.7L358.4 274.9L363.6 275.2ZM364.4 280.6L369.4 280.0L369.3 274.5L364.3 274.4L363.6 275.2L363.8 280.1ZM375.3 280.5L375.2 280.6L370.2 280.8L369.4 280.0L369.3 274.5L369.4 274.4L375.0 274.6L375.1 274.7ZM355.1 280.3L357.8 279.7L359.0 280.9L359.0 285.8L357.2 287.2L353.1 285.2ZM364.4 280.6L364.4 285.6L363.7 286.2L359.0 285.8L359.0 280.9L363.8 280.1ZM364.4 280.6L364.4 285.6L369.3 286.0L370.2 280.8L369.4 280.0ZM357.2 287.2L359.0 285.8L363.7 286.2L364.1 291.6L362.7 292.6L357.3 291.2ZM364.1 291.6L363.7 286.2L364.4 285.6L369.3 286.0L369.5 286.2L369.3 291.9L368.9 292.2ZM381.2 286.0L381.6 291.4L380.9 292.0L375.3 291.0L375.5 286.5L376.1 285.8ZM387.0 285.6L381.6 285.6L381.2 286.0L381.6 291.4L386.5 292.1L387.3 285.9ZM387.3 285.9L386.5 292.1L386.6 292.2L391.6 292.3L393.0 290.8L392.5 286.2L392.1 285.8ZM410.7 286.5L409.0 285.1L404.5 285.9L404.2 286.2L404.5 291.2L409.3 292.0L409.7 291.7ZM333.0 256.1L330.7 254.5L324.5 259.9L326.5 261.5L331.6 261.6L332.4 260.8ZM338.2 262.0L332.4 260.8L333.0 256.1L336.7 255.0L339.6 256.7L340.6 259.1ZM313.0 266.5L320.4 266.4L322.1 260.3L320.4 259.6L311.5 262.5L311.9 265.7ZM321.2 267.4L320.4 266.4L322.1 260.3L324.1 259.8L324.5 259.9L326.5 261.5L326.7 267.4L326.0 268.0ZM326.7 267.4L331.7 267.8L332.5 266.7L331.6 261.6L326.5 261.5ZM338.2 262.0L338.2 266.5L332.5 266.7L331.6 261.6L332.4 260.8ZM338.2 262.0L338.2 266.5L338.8 267.1L345.0 266.7L345.1 260.5L345.1 260.4L340.6 259.1ZM345.1 260.5L345.0 266.7L345.0 266.8L351.1 268.2L351.1 268.2L353.0 263.0L352.3 261.9ZM321.2 267.4L320.4 266.4L313.0 266.5L315.1 272.1L319.7 273.4L320.2 273.0ZM321.2 267.4L326.0 268.0L326.1 273.0L320.2 273.0ZM326.0 268.0L326.7 267.4L331.7 267.8L332.5 273.2L327.5 274.5L326.1 273.0ZM332.5 273.2L331.7 267.8L332.5 266.7L338.2 266.5L338.8 267.1L338.3 272.1L332.7 273.3ZM338.3 272.1L338.8 267.1L345.0 266.7L345.0 266.8L344.1 273.0L339.6 273.4ZM345.2 274.0L344.1 273.0L345.0 266.8L351.1 268.2L350.9 273.7ZM319.9 277.7L319.7 273.4L315.1 272.1L311.0 278.0L314.1 279.7ZM320.2 273.0L319.7 273.4L319.9 277.7L321.9 279.4L325.2 279.7L326.4 278.7L327.5 274.5L326.1 273.0ZM327.5 274.5L332.5 273.2L332.7 273.3L334.3 279.2L332.0 280.8L326.4 278.7ZM337.2 280.0L334.3 279.2L332.7 273.3L338.3 272.1L339.6 273.4L339.3 278.8ZM344.2 280.1L339.3 278.8L339.6 273.4L344.1 273.0L345.2 274.0L344.4 279.9ZM344.4 279.9L345.2 274.0L350.9 273.7L351.5 274.4L351.3 277.5L349.9 279.0ZM319.9 277.7L314.1 279.7L316.0 284.6L319.4 284.6L321.9 279.4ZM321.9 279.4L325.2 279.7L326.1 285.5L321.5 286.7L319.4 284.6ZM326.4 278.7L325.2 279.7L326.1 285.5L326.6 285.9L331.4 284.5L332.0 280.8ZM337.2 280.0L334.3 279.2L332.0 280.8L331.4 284.5L333.7 286.8L337.9 285.7ZM344.5 284.2L344.2 280.1L339.3 278.8L337.2 280.0L337.9 285.7L338.5 286.1ZM350.7 284.6L349.9 279.0L344.4 279.9L344.2 280.1L344.5 284.2L345.2 284.9ZM350.7 284.6L349.9 279.0L351.3 277.5L355.1 280.3L353.1 285.2L352.0 285.4ZM316.0 284.6L312.4 289.8L312.5 290.0L320.5 291.4L321.5 286.7L319.4 284.6ZM326.4 292.7L327.8 291.4L326.6 285.9L326.1 285.5L321.5 286.7L320.5 291.4L320.8 291.7ZM332.4 291.5L327.8 291.4L326.6 285.9L331.4 284.5L333.7 286.8ZM339.9 291.5L339.4 292.0L332.6 291.8L332.4 291.5L333.7 286.8L337.9 285.7L338.5 286.1ZM345.2 284.9L344.5 284.2L338.5 286.1L339.9 291.5L344.7 291.4L345.4 290.6ZM350.7 284.6L345.2 284.9L345.4 290.6L350.0 290.7L352.0 285.4ZM352.0 285.4L353.1 285.2L357.2 287.2L357.3 291.2L356.5 292.0L351.6 292.4L350.0 290.7ZM320.8 291.7L320.5 291.4L312.5 290.0L311.5 294.2L314.4 297.1L319.5 296.5ZM325.9 297.8L321.2 298.5L319.5 296.5L320.8 291.7L326.4 292.7L326.5 297.1ZM326.5 297.1L326.4 292.7L327.8 291.4L332.4 291.5L332.6 291.8L333.3 297.1L332.0 298.4ZM339.4 292.0L332.6 291.8L333.3 297.1L338.5 297.9L338.8 297.5ZM344.7 291.4L345.6 296.3L344.4 297.6L338.8 297.5L339.4 292.0L339.9 291.5ZM345.4 290.6L344.7 291.4L345.6 296.3L350.3 297.4L351.6 292.4L350.0 290.7ZM350.3 297.4L351.6 292.4L356.5 292.0L356.8 297.4L350.4 297.6ZM356.5 292.0L357.3 291.2L362.7 292.6L362.6 298.1L357.4 298.2L356.8 297.4ZM321.2 298.5L320.1 303.0L314.6 303.1L314.4 297.1L319.5 296.5ZM325.9 297.8L321.2 298.5L320.1 303.0L320.7 303.6L326.0 304.3L326.7 303.5ZM325.9 297.8L326.7 303.5L331.8 303.1L332.0 298.4L326.5 297.1ZM331.8 303.1L332.3 303.6L338.8 302.7L338.5 297.9L333.3 297.1L332.0 298.4ZM338.8 297.5L338.5 297.9L338.8 302.7L339.3 303.3L344.8 303.8L344.4 297.6ZM345.6 296.3L350.3 297.4L350.4 297.6L350.4 302.8L345.0 303.9L344.8 303.8L344.4 297.6ZM350.4 297.6L350.4 302.8L351.1 303.3L356.0 303.3L357.4 298.2L356.8 297.4ZM363.0 303.5L361.6 304.7L356.6 303.9L356.0 303.3L357.4 298.2L362.6 298.1L362.8 298.2ZM392.7 297.6L397.3 297.6L398.2 303.1L397.3 304.1L392.8 303.9L392.5 297.8ZM320.7 303.6L320.3 310.0L315.0 309.8L312.5 305.3L314.6 303.1L320.1 303.0ZM326.4 309.7L320.8 310.4L320.3 310.0L320.7 303.6L326.0 304.3ZM326.7 303.5L326.0 304.3L326.4 309.7L327.0 310.2L332.4 309.2L332.8 308.9L332.3 303.6L331.8 303.1ZM338.8 302.7L339.3 303.3L338.1 309.3L332.8 308.9L332.3 303.6ZM345.0 309.8L344.4 310.4L338.4 309.6L338.1 309.3L339.3 303.3L344.8 303.8L345.0 303.9ZM351.1 308.9L351.1 303.3L350.4 302.8L345.0 303.9L345.0 309.8L349.7 310.2ZM351.1 308.9L356.0 309.9L356.6 303.9L356.0 303.3L351.1 303.3ZM379.7 310.4L381.0 309.0L380.0 303.4L375.7 304.2L374.9 308.5ZM381.0 309.0L385.6 309.0L385.7 303.1L380.4 303.1L380.0 303.4ZM320.8 315.5L320.8 310.4L320.3 310.0L315.0 309.8L313.5 313.9L314.9 315.7ZM321.4 316.3L320.8 315.5L320.8 310.4L326.4 309.7L327.0 310.2L327.3 315.4L327.1 315.6ZM327.0 310.2L327.3 315.4L331.7 316.5L333.2 315.2L332.4 309.2ZM344.0 315.4L338.2 315.8L337.7 315.3L338.4 309.6L344.4 310.4L344.2 315.1ZM349.7 310.2L351.2 315.5L350.6 316.0L344.2 315.1L344.4 310.4L345.0 309.8ZM355.9 314.8L356.6 310.7L356.0 309.9L351.1 308.9L349.7 310.2L351.2 315.5L355.2 315.5ZM355.9 314.8L356.6 310.7L361.5 309.8L363.1 314.7L362.0 316.0ZM309.3 321.5L304.4 315.4L304.4 315.2L313.5 313.9L314.9 315.7L314.7 320.7ZM314.7 320.7L314.9 315.7L320.8 315.5L321.4 316.3L321.0 320.8L314.9 320.9ZM321.4 316.3L321.0 320.8L321.3 321.2L326.4 322.2L327.1 315.6ZM331.7 321.8L327.0 322.7L326.4 322.2L327.1 315.6L327.3 315.4L331.7 316.5L332.3 321.0ZM344.3 321.0L344.0 315.4L338.2 315.8L338.1 321.0L338.4 321.4ZM344.9 321.6L349.5 320.7L350.6 316.0L344.2 315.1L344.0 315.4L344.3 321.0ZM349.5 320.7L350.6 316.0L351.2 315.5L355.2 315.5L356.5 321.3L356.4 321.6L351.0 322.2ZM355.9 314.8L362.0 316.0L362.3 320.6L356.5 321.3L355.2 315.5ZM380.4 321.5L380.9 315.3L385.9 314.9L386.3 315.2L387.1 320.7L386.0 322.0L380.9 322.1ZM308.4 327.0L308.3 327.0L303.7 327.3L302.8 326.6L302.2 317.7L304.4 315.4L309.3 321.5ZM308.4 327.0L315.4 327.6L315.7 327.4L314.9 320.9L314.7 320.7L309.3 321.5ZM314.9 320.9L321.0 320.8L321.3 321.2L320.2 326.9L315.7 327.4ZM326.5 327.9L327.0 322.7L326.4 322.2L321.3 321.2L320.2 326.9L321.7 328.1ZM332.5 328.0L333.4 327.0L331.7 321.8L327.0 322.7L326.5 327.9L327.0 328.5ZM338.4 321.4L338.1 321.0L332.3 321.0L331.7 321.8L333.4 327.0L337.8 326.9L338.2 326.4ZM362.6 328.3L367.5 327.3L367.8 321.5L362.7 321.0L361.6 327.5ZM315.4 327.6L315.4 332.7L316.0 333.4L320.6 334.4L321.7 328.1L320.2 326.9L315.7 327.4ZM327.2 333.5L326.8 334.0L320.8 334.6L320.6 334.4L321.7 328.1L326.5 327.9L327.0 328.5ZM333.5 333.9L332.5 328.0L327.0 328.5L327.2 333.5L333.1 334.3ZM333.5 333.9L332.5 328.0L333.4 327.0L337.8 326.9L338.2 332.7L337.8 333.1ZM302.5 339.3L307.9 339.7L309.6 338.2L309.0 333.7L303.4 334.1ZM309.3 333.2L315.4 332.7L316.0 333.4L313.8 339.3L309.6 338.2L309.0 333.7ZM320.6 334.4L316.0 333.4L313.8 339.3L314.8 340.7L320.8 339.4L320.8 334.6ZM326.8 334.0L327.3 339.8L327.1 339.9L321.2 339.8L320.8 339.4L320.8 334.6ZM333.1 334.3L327.2 333.5L326.8 334.0L327.3 339.8L331.5 340.3L333.2 338.5ZM333.5 333.9L337.8 333.1L339.4 338.9L338.5 340.0L333.2 338.5L333.1 334.3ZM339.4 338.9L343.6 338.0L343.6 332.6L338.2 332.7L337.8 333.1ZM344.3 331.9L343.6 332.6L343.6 338.0L345.7 339.6L349.2 338.7L349.7 333.7ZM399.0 339.7L398.3 333.0L398.8 332.6L404.3 333.4L404.5 338.5L403.8 339.4ZM416.4 333.1L411.2 333.8L411.1 338.8L411.4 339.2L416.7 339.4L416.8 339.3L416.9 333.7ZM309.0 345.9L308.8 345.7L307.9 339.7L309.6 338.2L313.8 339.3L314.8 340.7L314.4 344.3ZM316.0 346.0L314.4 344.3L314.8 340.7L320.8 339.4L321.2 339.8L321.4 344.8L319.6 346.2ZM326.1 345.9L327.1 339.9L321.2 339.8L321.4 344.8L326.0 346.0ZM332.7 345.0L326.1 345.9L327.1 339.9L327.3 339.8L331.5 340.3ZM338.5 340.0L338.7 344.4L337.8 345.4L333.0 345.3L332.7 345.0L331.5 340.3L333.2 338.5ZM338.5 340.0L338.7 344.4L344.5 344.5L345.7 339.6L343.6 338.0L339.4 338.9ZM333.0 345.3L331.5 351.8L330.9 352.2L326.4 351.5L326.0 346.0L326.1 345.9L332.7 345.0ZM362.9 357.8L357.5 358.0L356.4 356.9L356.6 351.7L362.4 351.9ZM367.9 357.3L363.3 358.2L363.4 363.6L367.7 364.4L369.0 363.3L368.6 357.8ZM363.2 370.2L363.0 369.9L363.1 364.0L363.4 363.6L367.7 364.4L368.8 369.4L368.4 369.9ZM356.9 381.3L351.5 382.8L351.8 387.3L356.2 388.9L356.7 388.4L357.4 381.6ZM441.2 305.8L440.6 300.5L440.5 300.4L436.5 299.6L434.9 301.1L434.9 305.5L435.6 306.3ZM471.0 281.0L468.2 279.0L464.5 280.7L464.1 282.4L466.5 284.9L470.3 284.8L471.0 283.9ZM474.2 279.7L471.0 281.0L471.0 283.9L475.8 284.9L476.6 283.9L475.4 280.1ZM479.9 295.0L476.3 294.2L476.2 289.5L479.9 289.1L481.4 293.5ZM475.6 342.6L474.0 346.7L475.7 349.5L481.8 349.0L481.9 348.9L481.0 343.6L480.5 343.3ZM508.0 287.7L506.6 288.8L501.9 287.9L501.6 287.4L501.8 283.6L506.2 282.6ZM512.6 281.9L517.0 282.2L517.8 282.9L518.1 287.3L512.7 289.0L511.4 287.7ZM528.5 284.6L528.9 284.3L532.6 284.9L532.9 285.3L532.5 287.8L529.1 288.9L528.7 288.6ZM537.3 288.5L536.0 284.7L537.0 283.6L540.3 284.4L539.6 288.3ZM548.2 284.2L551.8 285.4L551.6 287.3L547.8 288.5L547.0 285.5ZM536.3 291.9L533.0 292.2L533.0 288.3L536.6 289.1ZM540.0 322.8L540.5 322.5L541.6 318.8L541.1 318.2L537.3 317.9L536.2 319.1L537.0 322.1ZM427.9 356.2L425.5 351.4L426.6 350.6L431.6 351.3L431.9 351.6L431.4 354.9ZM431.4 354.9L431.9 351.6L436.9 350.9L437.9 352.1L437.5 357.8L435.8 358.6L434.9 358.5ZM476.5 355.8L478.5 356.4L482.1 352.6L481.8 349.0L475.7 349.5L475.3 350.7ZM552.4 222.0L547.6 220.9L547.3 219.7L553.4 216.2L553.4 216.2L554.3 219.1ZM518.5 228.7L517.8 225.3L522.1 225.2L522.1 229.1ZM513.7 233.5L513.4 233.8L510.3 233.3L508.9 230.7L513.1 228.5L513.7 229.3ZM536.6 231.8L538.4 228.9L535.7 226.6L533.2 228.8L534.2 231.9ZM545.4 229.0L545.1 233.4L548.9 232.7L549.3 232.1L548.1 229.1L545.9 228.8ZM548.1 229.1L550.8 226.7L553.5 229.9L551.9 232.3L549.3 232.1ZM548.9 236.2L548.9 232.7L549.3 232.1L551.9 232.3L553.7 235.8L553.6 236.1ZM518.9 237.2L517.8 240.5L518.0 240.7L521.5 240.5L521.6 237.2L521.6 237.2ZM537.5 241.5L536.5 240.3L538.3 236.2L538.5 236.1L540.5 236.8L541.5 240.0L541.2 240.6ZM548.4 236.8L545.6 236.6L544.8 239.5L545.7 240.5L549.3 240.5L549.4 240.3ZM503.4 248.3L499.1 248.0L499.0 248.1L498.5 251.6L499.2 252.3L502.8 252.3ZM526.1 251.9L523.1 253.1L522.0 252.1L521.7 248.7L525.2 248.4L526.4 249.2ZM533.7 252.7L529.7 253.4L529.7 248.6L533.4 249.4L533.8 252.7ZM533.8 252.7L538.2 251.7L537.5 248.5L534.7 248.1L533.4 249.4ZM526.1 251.9L523.1 253.1L523.5 255.9L528.6 255.9L528.9 254.2ZM533.7 252.7L534.7 255.8L533.1 257.6L528.7 256.2L528.6 255.9L528.9 254.2L529.7 253.4ZM548.6 252.8L551.2 251.9L553.3 256.3L548.5 258.5L548.0 257.2ZM510.5 256.5L511.1 260.1L514.4 260.7L515.3 259.9L514.9 255.0L514.7 254.9L510.6 256.3ZM524.4 263.1L519.8 261.1L519.5 260.4L520.6 257.8L522.8 256.9L526.3 261.3ZM528.7 256.2L528.6 255.9L523.5 255.9L522.8 256.9L526.3 261.3L527.6 260.9ZM496.6 261.6L492.1 260.8L491.6 261.1L491.6 265.9L496.4 266.4L496.6 266.2L496.6 261.6ZM529.9 266.3L527.9 268.4L526.3 268.3L524.2 265.2L524.4 263.1L526.3 261.3L527.6 260.9L528.7 261.5ZM533.7 265.2L537.6 264.6L538.1 261.2L538.0 261.1L533.4 260.1L532.5 261.1ZM515.1 271.2L510.9 270.6L510.8 270.5L511.6 265.9L514.3 265.2L516.2 270.5ZM533.0 266.1L534.5 270.7L534.5 270.7L529.3 270.5L527.9 268.4L529.9 266.3ZM533.7 265.2L537.6 264.6L539.3 266.9L539.3 267.3L534.5 270.7L533.0 266.1ZM482.4 274.2L482.2 270.4L477.7 270.5L477.5 270.8L479.3 275.2ZM524.2 274.3L524.4 270.3L526.3 268.3L527.9 268.4L529.3 270.5L529.0 273.6ZM529.0 273.6L529.3 270.5L534.5 270.7L534.7 271.7L530.7 275.6ZM634.0 170.3L639.6 169.5L641.1 170.5L641.3 171.0L637.6 177.2L635.2 176.5L633.2 171.1ZM595.7 171.7L601.1 170.4L602.6 173.6L598.7 178.3L598.6 178.3L594.4 174.5ZM615.3 155.4L621.5 156.9L623.0 151.9L619.3 150.4L615.3 153.2ZM600.4 137.0L605.3 135.0L604.0 131.0L601.3 130.0L598.0 131.6ZM610.5 123.8L613.4 124.2L616.6 121.3L612.2 116.2L608.4 118.9ZM618.6 233.7L615.9 231.9L619.1 227.1L619.7 226.9L622.6 230.3L620.3 233.7ZM605.1 146.1L607.7 151.7L612.4 149.9L612.7 148.3L609.7 144.7ZM595.7 171.7L593.6 168.4L588.9 169.1L588.1 171.9L592.0 175.5L594.4 174.5ZM606.0 118.7L603.9 112.5L605.7 109.6L611.5 111.7L612.5 115.2L612.2 116.2L608.4 118.9ZM455.4 111.8L454.1 107.5L448.0 107.3L447.8 107.6L447.7 113.0L448.1 113.4L452.8 114.4ZM482.6 116.4L487.8 118.3L491.2 113.1L486.3 110.3L482.6 116.3ZM636.3 196.3L646.0 192.9L644.6 190.7L636.2 189.5L634.7 192.2ZM304.8 124.8L307.1 133.9L303.3 138.0L296.1 135.5L293.0 127.4L294.7 124.9ZM592.5 198.3L596.0 200.3L597.9 199.5L598.8 195.4L596.5 193.4L594.0 193.7L592.2 195.4ZM632.4 135.2L626.6 137.0L624.5 132.0L630.6 129.7L631.5 130.1L632.8 134.6ZM640.8 116.9L642.6 120.6L640.2 124.7L636.9 125.2L636.3 118.8ZM311.3 85.5L306.8 81.9L309.0 69.1L317.7 73.3L319.3 81.8L315.5 85.0ZM577.3 239.0L576.2 234.2L579.3 232.9L580.8 233.3L580.5 238.0ZM457.1 98.0L454.9 98.3L453.0 101.9L455.1 105.5L460.2 103.8ZM480.8 105.4L481.6 108.0L479.5 111.5L476.8 111.4L474.5 106.9L475.4 105.7ZM566.8 227.4L562.3 228.9L560.8 226.7L561.7 223.2L566.8 223.7L567.1 224.1ZM573.3 158.7L572.4 155.1L570.1 153.4L565.8 156.3L566.1 160.8L567.3 161.5L572.6 160.3ZM640.5 70.3L638.8 76.2L642.0 80.2L647.6 78.7L646.1 73.0L641.9 70.2ZM649.0 159.0L650.9 162.8L656.8 163.1L657.7 162.2L656.3 156.8L649.6 156.9ZM635.9 197.0L638.3 201.3L636.6 204.2L631.3 203.4L629.9 201.0L631.4 198.7ZM534.8 235.7L533.2 237.8L530.5 236.8L530.8 233.5L533.7 232.8ZM629.4 163.2L629.4 157.8L629.6 157.4L633.5 156.6L637.1 159.2L637.3 162.7L634.2 164.4ZM487.7 157.4L484.0 153.6L484.8 149.9L485.5 149.5L490.7 151.7L491.0 155.0ZM304.0 298.4L311.5 294.2L314.4 297.1L314.6 303.1L312.5 305.3L308.3 305.1ZM310.0 156.8L300.5 156.3L296.6 151.8L304.0 142.6L311.7 146.5L312.3 152.1ZM629.0 108.0L625.6 105.7L620.2 109.2L620.8 113.3L626.4 113.6L629.2 108.8ZM578.1 165.2L580.8 158.3L584.8 159.8L583.8 166.0L582.6 166.6ZM387.7 386.0L394.9 386.8L394.6 380.3L388.6 378.9L387.0 381.7ZM550.1 176.8L550.2 175.3L546.2 171.9L543.0 176.6L543.3 177.1L547.8 178.4ZM634.3 149.7L635.3 151.4L633.5 156.6L629.6 157.4L627.3 151.7L630.8 148.7ZM632.4 135.2L633.9 141.4L635.0 141.7L639.3 139.2L638.6 134.3L632.8 134.6ZM558.0 238.4L559.4 234.2L558.4 232.4L557.9 232.3L553.7 235.8L553.6 236.1L553.9 236.9ZM493.3 149.5L497.0 150.5L498.9 146.5L498.1 144.3L494.4 143.8L492.3 146.2ZM619.1 182.6L620.8 180.0L626.3 183.3L626.4 184.6L622.1 188.6L620.7 188.8L620.2 188.5ZM626.6 137.0L624.5 132.0L623.8 131.5L619.2 134.3L618.7 137.7L619.4 139.0L623.0 140.1L626.4 137.7ZM346.9 78.3L354.5 78.4L358.2 75.4L345.4 60.9L343.0 65.0L344.1 75.6ZM595.7 171.7L593.6 168.4L595.0 164.2L599.2 165.4L601.3 169.8L601.1 170.4ZM564.7 187.0L566.3 185.3L567.8 185.4L570.9 190.5L567.3 192.4L565.0 190.9ZM583.5 197.9L581.1 201.9L580.5 202.0L576.3 198.2L578.2 195.3L581.8 195.4ZM308.1 120.9L314.9 122.3L315.8 123.6L314.4 132.0L311.8 134.0L307.1 133.9L304.8 124.8ZM418.6 84.8L422.5 81.1L427.0 82.5L426.5 84.5L420.9 89.1L420.6 89.1ZM313.0 266.5L315.1 272.1L311.0 278.0L307.5 278.4L302.8 273.6L303.0 272.8L311.9 265.7ZM666.0 117.3L672.8 116.8L674.1 114.0L674.0 113.7L666.1 108.7L665.8 108.7L664.3 115.1ZM482.6 116.3L479.5 111.5L481.6 108.0L486.2 109.9L486.3 110.3ZM311.0 158.5L310.0 156.8L300.5 156.3L297.5 169.5L309.3 169.7L309.6 169.3L311.6 161.9ZM493.0 127.0L495.4 125.4L493.7 120.6L488.6 120.0L487.3 124.2ZM311.3 85.5L306.8 81.9L298.2 83.7L302.0 96.5L307.6 96.2ZM639.3 139.2L642.6 140.9L642.7 144.0L640.9 146.3L636.8 145.9L635.0 141.7ZM674.7 75.5L675.6 75.5L680.9 68.2L673.1 68.5L671.7 73.0ZM669.6 140.8L671.0 147.8L671.7 148.4L684.7 148.5L678.9 139.4L672.2 138.8ZM309.3 169.7L297.5 169.5L293.6 172.5L297.4 180.4L308.2 182.0L309.1 181.6L310.2 180.1L310.9 173.9ZM569.6 236.3L570.6 237.0L571.9 236.9L574.9 233.8L573.9 232.1L569.3 231.6ZM614.3 183.4L611.7 181.1L617.2 175.8L617.3 175.8L620.8 179.8L620.8 180.0L619.1 182.6ZM571.1 182.5L571.2 180.2L574.2 178.9L578.8 180.8L576.6 185.6L574.5 185.9ZM655.7 145.2L649.5 145.7L648.6 146.8L648.3 149.8L649.1 151.2L654.0 151.2L657.3 146.9ZM672.0 66.8L673.1 62.9L669.1 59.8L665.5 62.4L666.0 66.6ZM603.4 183.7L603.0 181.4L598.7 178.3L598.6 178.3L596.0 181.9L597.4 185.3ZM573.7 242.2L571.6 242.9L572.5 247.3L573.4 247.8L576.9 245.5L576.9 245.3ZM408.3 82.6L411.8 78.8L410.7 69.0L404.5 78.2L405.9 82.5L406.6 82.8ZM385.9 78.4L386.6 72.5L378.0 69.1L372.1 71.9L380.8 82.4ZM641.9 70.2L648.1 65.0L650.0 65.5L653.4 72.2L646.1 73.0ZM628.8 192.1L627.2 192.5L622.1 188.6L626.4 184.6L629.5 188.0L629.0 192.0ZM630.3 122.7L636.9 125.2L636.3 127.0L631.5 130.1L630.6 129.7L628.6 125.0ZM626.9 228.1L631.1 227.8L632.8 230.8L630.7 235.7L629.4 236.4L627.4 235.4L625.0 230.3ZM495.5 106.1L496.9 101.4L493.1 99.5L489.3 104.6L492.6 106.9ZM617.2 175.8L617.3 175.8L618.4 173.3L617.2 168.4L616.5 168.1L610.4 170.7L610.3 172.0L610.9 173.0ZM599.3 152.7L598.6 157.5L595.9 158.7L591.4 154.5L593.8 151.6ZM607.5 127.1L604.2 124.2L605.4 119.2L606.0 118.7L608.4 118.9L610.5 123.8ZM316.8 111.4L318.1 117.2L314.9 122.3L308.1 120.9L305.8 112.5L309.2 110.2ZM593.8 151.6L591.4 154.5L589.0 154.8L588.1 153.6L588.5 146.9L593.1 147.9ZM613.4 137.4L618.7 137.7L619.4 139.0L616.6 143.5L611.3 140.9L611.0 140.0ZM613.4 137.4L612.6 131.4L612.1 131.4L606.4 135.6L607.5 138.3L611.0 140.0ZM466.2 93.4L462.6 86.2L458.0 91.8L458.9 95.7L463.4 96.7ZM665.8 147.9L664.1 154.0L667.3 157.3L668.3 157.1L671.7 148.4L671.0 147.8ZM629.0 192.0L629.5 188.0L634.7 185.6L636.2 189.5L634.7 192.2ZM598.4 239.4L600.2 235.6L603.7 236.8L603.6 240.3L601.5 241.8L598.8 240.6ZM659.4 138.4L655.6 142.2L655.7 145.2L657.3 146.9L658.5 147.2L662.8 144.9L660.0 138.4ZM492.2 130.0L494.9 132.8L493.6 137.1L488.9 134.9L488.9 131.6ZM584.8 159.8L583.8 166.0L587.8 167.1L590.3 162.2L587.1 159.2ZM648.7 83.7L649.3 79.7L647.6 78.7L642.0 80.2L641.8 85.1L643.5 86.5ZM609.6 178.9L605.6 178.0L604.2 174.4L610.3 172.0L610.9 173.0ZM657.0 61.1L660.6 59.9L678.8 13.9L685.9 -10.0L653.5 8.6L655.8 59.4ZM490.6 173.6L493.7 173.3L496.3 175.7L493.4 179.8L491.7 180.1L488.8 176.9ZM574.3 394.3L572.5 399.2L575.6 402.6L579.2 402.3L579.6 397.6L575.2 394.0ZM641.2 102.2L641.3 107.1L638.0 107.7L634.2 103.7L634.4 100.5L636.6 99.2L637.0 99.2ZM502.6 136.3L500.7 136.0L498.7 131.9L500.0 128.6L502.6 128.3L505.3 132.5ZM442.3 85.7L443.3 80.2L441.5 79.0L436.2 79.0L433.0 81.2L434.0 88.5L436.4 90.0L438.6 89.7ZM627.8 221.3L625.8 216.2L626.3 215.1L626.4 215.0L633.3 216.2L633.5 216.4L630.4 221.8ZM559.6 168.2L561.2 172.7L562.5 173.4L565.3 171.9L566.1 168.2L562.1 166.5ZM643.8 95.4L650.9 91.7L643.8 87.3L642.0 92.5L643.5 95.3ZM344.1 75.6L343.0 65.0L330.4 70.8L330.6 75.7L332.7 78.6L339.6 79.7ZM636.9 125.2L640.2 124.7L644.3 127.7L643.8 132.0L639.4 133.2L636.3 127.0L636.9 125.2ZM593.1 147.9L588.5 146.9L588.2 146.6L588.4 142.7L589.8 141.1L593.5 141.2L596.1 144.4L595.9 145.6ZM633.5 156.6L637.1 159.2L641.4 156.4L641.7 155.5L640.5 152.2L635.3 151.4ZM588.2 194.6L587.2 192.7L583.6 192.1L581.8 195.4L583.5 197.9L586.1 197.9ZM595.3 138.0L593.5 141.2L589.8 141.1L588.8 136.0L592.7 133.5L593.1 133.6ZM573.0 219.6L575.1 215.6L573.6 214.0L568.6 214.3L569.2 218.7ZM658.0 116.5L664.3 115.1L666.0 117.3L665.5 122.1L661.9 123.7L657.6 118.3ZM610.0 170.0L605.0 167.8L605.6 164.3L609.7 162.6L610.7 163.2ZM656.8 61.7L650.0 65.5L648.1 65.0L645.2 56.2L655.8 59.4L657.0 61.1ZM571.4 190.6L572.3 191.4L572.7 196.7L569.7 197.7L566.9 194.4L567.3 192.4L570.9 190.5ZM589.0 154.8L587.1 159.2L590.3 162.2L594.1 162.5L595.9 158.7L591.4 154.5ZM662.8 144.9L658.5 147.2L661.1 153.3L664.1 154.0L665.8 147.9L663.2 145.0ZM311.9 99.3L309.2 110.2L305.8 112.5L301.2 110.9L299.7 108.9L301.9 96.6L302.0 96.5L307.6 96.2ZM612.4 149.9L615.3 153.2L619.3 150.4L618.5 146.3L617.0 145.3L612.7 148.3ZM596.9 186.5L591.2 188.0L590.6 187.7L590.3 180.8L596.0 181.9L597.4 185.3ZM577.2 148.4L570.2 147.9L569.2 149.6L570.1 153.4L572.4 155.1L576.9 152.5ZM471.1 120.1L468.7 117.9L468.7 116.3L471.4 113.9L474.5 114.1L477.0 118.3L474.6 120.5ZM608.7 210.9L610.7 211.2L613.4 208.5L612.5 205.6L607.5 203.9L607.5 203.9L607.0 204.5L606.6 207.5ZM643.8 95.4L646.0 99.8L641.2 102.2L637.0 99.2L643.5 95.3ZM315.7 99.1L311.9 99.3L309.2 110.2L316.8 111.4L318.1 110.4L319.6 105.6ZM618.8 202.0L619.3 200.8L624.4 198.3L627.4 200.9L623.2 206.7L622.8 206.8L620.7 205.8ZM395.4 125.0L394.3 126.0L389.1 124.8L391.3 118.0L392.7 117.1L395.1 119.1ZM485.5 149.5L484.8 149.9L481.7 148.6L480.1 143.8L482.5 141.9L487.0 142.7L487.5 144.9ZM620.8 179.8L620.8 180.0L626.3 183.3L630.4 179.9L630.4 179.7L627.1 175.4L625.8 175.1ZM632.3 209.9L638.2 208.5L636.6 204.2L631.3 203.4L630.2 208.7ZM638.6 134.3L639.4 133.2L643.8 132.0L646.0 133.8L646.4 138.5L642.6 140.9L639.3 139.2ZM597.6 222.6L596.8 225.9L598.6 227.5L601.9 224.6L602.0 224.0L598.7 222.1ZM603.7 183.9L608.3 183.9L609.8 188.6L608.4 190.5L604.7 191.3L603.8 190.1ZM306.3 285.5L307.5 278.4L302.8 273.6L291.8 279.0L289.3 285.0L298.5 289.7ZM595.2 203.3L591.1 204.8L591.7 208.3L596.2 208.3L598.0 206.2ZM563.1 256.5L560.9 258.7L559.0 258.3L557.6 254.4L558.0 253.3L560.4 252.5L562.0 253.0ZM634.4 100.5L628.4 97.7L628.1 97.8L625.2 102.6L625.6 105.7L629.0 108.0L634.2 103.7ZM442.5 95.2L442.2 95.7L435.9 96.9L434.9 95.9L436.4 90.0L438.6 89.7ZM416.2 84.0L415.6 80.3L419.7 76.5L422.5 81.1L418.6 84.8ZM566.0 178.8L562.6 177.3L562.5 173.4L565.3 171.9L569.0 174.3L568.6 178.2ZM596.7 122.8L596.8 119.0L605.4 119.2L604.2 124.2L601.0 125.2ZM590.3 180.8L589.9 180.4L588.2 180.3L583.7 182.9L583.8 186.3L589.4 188.2L590.6 187.7ZM665.5 62.4L669.1 59.8L678.8 13.9L660.6 59.9ZM641.3 107.1L638.0 107.7L636.0 111.4L641.3 115.4L642.0 115.0L643.6 109.9L642.7 107.8ZM619.4 139.0L616.6 143.5L617.0 145.3L618.5 146.3L623.8 144.7L623.0 140.1ZM649.5 145.7L649.2 139.9L646.4 138.5L642.6 140.9L642.7 144.0L648.6 146.8ZM586.4 214.3L583.1 213.1L582.2 209.4L584.5 208.0L588.1 210.4L587.9 213.3ZM581.9 147.5L581.8 140.4L588.4 142.7L588.2 146.6L582.4 147.8ZM571.4 190.6L572.3 191.4L577.2 192.0L579.5 188.9L576.6 185.6L574.5 185.9ZM643.6 163.3L644.5 160.4L641.4 156.4L637.1 159.2L637.3 162.7L638.3 163.5ZM500.6 119.1L500.7 114.6L497.5 112.3L494.3 113.6L495.4 118.5ZM607.7 151.7L606.8 153.9L607.4 156.6L607.6 156.7L614.7 156.1L615.3 155.4L615.3 153.2L612.4 149.9ZM491.2 113.1L492.3 112.8L492.6 106.9L489.3 104.6L488.8 104.6L486.2 109.9L486.3 110.3ZM578.0 165.2L574.3 163.9L572.6 160.3L573.3 158.7L580.8 158.3L580.8 158.3L578.1 165.2ZM470.6 94.3L477.1 86.9L482.2 94.6L479.7 97.9L474.3 100.0L471.7 99.0ZM313.0 253.2L307.2 251.2L299.8 255.1L299.8 258.7L310.8 261.3ZM523.8 105.0L512.8 107.0L512.4 107.7L512.8 111.2L517.0 113.5L523.7 107.3L524.2 105.9ZM572.7 224.2L574.0 221.7L573.0 219.6L569.2 218.7L567.4 220.1L566.8 223.7L567.1 224.1ZM663.3 134.8L669.9 133.4L671.6 128.0L661.8 129.6L661.6 130.5ZM493.7 156.3L497.8 153.6L499.4 156.7L497.6 161.3L494.4 160.2ZM636.0 111.4L641.3 115.4L640.8 116.9L636.3 118.8L632.7 116.9L633.9 112.3ZM599.9 152.1L606.8 153.9L607.7 151.7L605.1 146.1L604.4 145.8L600.2 149.2ZM617.5 215.3L622.0 218.2L621.4 223.0L621.3 223.0L615.8 220.9L616.2 216.2ZM597.9 199.5L598.8 195.4L603.6 194.7L604.4 196.3L603.4 200.2L600.7 201.4ZM554.0 171.9L550.2 175.3L546.2 171.9L545.8 169.7L545.9 169.3L551.8 168.7L554.0 170.4ZM588.1 153.6L583.3 152.4L580.6 155.2L580.8 158.3L580.8 158.3L584.8 159.8L587.1 159.2L589.0 154.8ZM482.6 116.4L480.4 118.4L477.0 118.3L474.5 114.1L476.8 111.4L479.5 111.5L482.6 116.3ZM486.8 136.7L488.9 134.9L488.9 131.6L486.6 130.2L482.2 131.6L483.3 135.9ZM634.3 149.7L635.3 151.4L640.5 152.2L641.7 150.1L640.9 146.3L636.8 145.9ZM611.0 140.0L611.3 140.9L609.7 144.7L605.1 146.1L604.4 145.8L603.2 142.9L607.5 138.3ZM634.7 185.4L640.1 182.0L644.0 185.4L644.6 190.7L636.2 189.5L634.7 185.6ZM592.5 198.3L596.0 200.3L595.2 203.3L591.1 204.8L588.8 202.7L588.9 202.1ZM614.3 183.4L611.7 181.1L611.0 181.0L608.3 183.9L609.8 188.6L614.1 188.0ZM598.0 131.6L601.3 130.0L601.0 125.2L596.7 122.8L595.0 124.8L596.8 131.4ZM623.8 144.7L624.0 144.9L624.8 151.1L623.0 151.9L619.3 150.4L618.5 146.3ZM613.5 257.5L611.8 258.0L610.5 261.6L613.9 264.2L615.7 259.7ZM626.4 184.6L626.3 183.3L630.4 179.9L634.7 185.4L634.7 185.6L629.5 188.0ZM654.3 134.4L651.6 139.1L649.2 139.9L646.4 138.5L646.0 133.8L652.5 131.6L654.1 133.4ZM545.8 266.8L542.9 265.0L539.3 266.9L539.3 267.3L540.8 269.6L545.8 269.7ZM643.6 163.3L644.5 160.4L649.0 159.0L650.9 162.8L648.0 166.7L645.5 166.2ZM464.4 100.6L460.3 103.9L462.8 108.8L464.2 109.4L468.8 107.1L468.2 101.8ZM588.1 210.4L584.5 208.0L585.3 204.5L588.8 202.7L591.1 204.8L591.7 208.3L591.7 208.4ZM453.3 201.0L453.4 205.7L452.8 206.0L448.8 205.8L447.4 202.5L448.5 201.2ZM440.9 108.0L441.9 113.3L447.7 113.0L447.8 107.6L441.3 107.8ZM628.2 164.4L621.6 163.1L621.2 162.2L622.3 158.5L629.4 157.8L629.4 163.2ZM495.5 106.1L496.9 101.4L502.8 99.6L500.2 108.1L498.9 108.6ZM390.9 82.9L394.6 84.8L398.6 83.0L397.5 77.7L394.3 77.8L390.8 82.2ZM634.0 170.3L639.6 169.5L638.3 163.5L637.3 162.7L634.2 164.4ZM567.9 264.0L565.1 269.1L561.1 265.8L561.0 264.8L563.0 262.4L565.4 262.1ZM304.0 298.4L311.5 294.2L312.5 290.0L312.4 289.8L306.3 285.5L298.5 289.7L301.7 297.7ZM580.6 155.2L576.9 152.5L577.2 148.4L577.5 148.1L581.9 147.5L582.4 147.8L583.3 152.4ZM648.2 111.1L649.5 114.9L648.8 116.3L642.0 115.0L643.6 109.9ZM468.8 107.1L470.3 107.8L471.4 113.9L468.7 116.3L465.1 113.8L464.2 109.4ZM582.2 209.4L580.3 209.1L578.9 204.3L580.5 202.0L581.1 201.9L585.3 204.5L584.5 208.0ZM545.8 169.7L539.5 171.0L538.9 172.3L539.1 174.2L541.1 176.2L543.0 176.6L546.2 171.9ZM612.6 131.4L614.4 130.5L614.8 129.7L613.4 124.2L610.5 123.8L607.5 127.1L607.6 127.7L612.1 131.4ZM574.3 163.9L570.8 167.8L567.9 167.1L567.3 161.5L572.6 160.3ZM502.6 128.3L504.1 126.9L503.2 120.4L501.3 119.9L497.1 125.7L500.0 128.6ZM607.6 156.7L609.7 162.6L610.7 163.2L613.4 162.8L615.1 161.0L614.7 156.1ZM600.2 149.2L604.4 145.8L603.2 142.9L600.8 141.5L596.1 144.4L595.9 145.6ZM577.5 250.6L578.8 248.3L582.5 248.1L582.9 252.9L581.7 254.0L579.8 254.1ZM471.7 99.0L474.3 100.0L475.4 105.7L474.5 106.9L470.3 107.8L468.8 107.1L468.2 101.8ZM596.8 131.4L595.0 124.8L588.4 126.3L592.7 133.5L593.1 133.6ZM315.7 99.1L311.9 99.3L307.6 96.2L311.3 85.5L315.5 85.0L319.0 92.3L316.5 98.5ZM613.5 257.5L611.8 258.0L609.1 256.8L608.3 254.0L609.2 252.4L613.0 252.5L614.2 255.2ZM301.4 191.2L306.4 190.0L308.2 182.0L297.4 180.4L296.7 183.4L299.3 190.1ZM399.1 76.2L404.5 78.2L410.7 69.0L411.4 65.8L402.6 53.7L400.1 58.8ZM586.1 197.9L583.5 197.9L581.1 201.9L585.3 204.5L588.8 202.7L588.9 202.1ZM445.5 94.0L442.5 95.2L438.6 89.7L442.3 85.7L446.2 91.1ZM549.6 247.4L548.5 247.2L547.0 244.7L549.4 242.6L552.7 245.0L552.6 245.3ZM579.5 188.9L581.7 188.8L583.8 186.3L583.7 182.9L579.7 180.5L578.8 180.8L576.6 185.6ZM401.2 84.6L405.9 82.5L404.5 78.2L399.1 76.2L397.5 77.7L398.6 83.0ZM500.7 114.6L497.5 112.3L498.9 108.6L500.2 108.1L505.0 110.0L505.3 112.4ZM648.2 111.1L649.5 114.9L655.9 113.0L656.4 107.7L650.7 107.6ZM615.2 107.3L611.5 111.7L605.7 109.6L603.5 101.4L609.1 100.1ZM514.0 121.9L512.5 120.4L512.7 119.0L517.2 115.3L520.1 117.9L518.2 122.2ZM457.1 98.0L454.9 98.3L451.6 95.5L453.3 91.4L458.0 91.8L458.9 95.7ZM672.9 105.3L675.5 106.2L676.3 109.6L674.0 113.7L666.1 108.7ZM583.7 134.4L581.0 139.3L581.8 140.4L588.4 142.7L589.8 141.1L588.8 136.0ZM484.2 171.9L485.9 177.3L485.9 177.3L488.8 176.9L490.6 173.6L488.1 169.7ZM492.2 130.0L488.9 131.6L486.6 130.2L486.7 124.6L487.3 124.2L493.0 127.0ZM571.9 208.8L573.6 209.3L574.4 208.9L575.6 204.8L573.4 202.5L570.9 203.0L570.0 205.1ZM599.8 138.1L600.8 141.5L596.1 144.4L593.5 141.2L595.3 138.0ZM679.8 78.7L689.7 69.5L690.7 63.1L680.9 68.2L675.6 75.5ZM554.6 243.0L552.7 245.0L552.6 245.3L555.2 249.4L557.9 247.2L557.8 243.2L557.4 242.8ZM380.8 82.4L372.1 71.9L370.3 72.0L369.9 84.5L375.6 86.3L380.7 82.8ZM446.2 91.1L442.3 85.7L443.3 80.2L452.0 79.8L451.3 88.4ZM603.7 183.9L608.3 183.9L611.0 181.0L609.6 178.9L605.6 178.0L603.0 181.4L603.4 183.7ZM545.9 169.3L545.4 167.0L541.8 164.1L540.0 164.2L538.3 166.9L539.5 171.0L545.8 169.7ZM654.3 134.4L651.6 139.1L655.6 142.2L659.4 138.4ZM676.6 97.8L684.5 98.6L686.1 102.1L684.9 104.4L677.8 104.0ZM620.8 113.3L620.5 113.9L612.5 115.2L611.5 111.7L615.2 107.3L616.8 107.2L620.2 109.2ZM629.6 157.4L629.4 157.8L622.3 158.5L621.5 156.9L623.0 151.9L624.8 151.1L627.3 151.7ZM576.2 234.2L579.3 232.9L577.6 227.9L575.0 228.0L573.9 232.1L574.9 233.8ZM657.3 146.9L658.5 147.2L661.1 153.3L656.7 155.9L654.0 151.2ZM648.3 149.8L641.7 150.1L640.9 146.3L642.7 144.0L648.6 146.8ZM434.0 88.5L429.7 90.6L428.5 90.1L426.5 84.5L427.0 82.5L429.0 81.3L433.0 81.2ZM460.3 103.9L462.8 108.8L457.4 112.1L455.4 111.8L454.1 107.5L455.1 105.5L460.2 103.8ZM681.3 89.7L685.4 93.1L698.4 88.8L691.6 81.7L683.5 83.9L681.0 88.8ZM649.5 114.9L655.9 113.0L658.0 116.5L657.6 118.3L653.9 120.9L648.9 117.4L648.8 116.3ZM562.1 166.5L566.1 168.2L567.9 167.1L567.3 161.5L566.1 160.8L562.1 162.0ZM559.0 258.3L556.4 260.6L557.1 263.4L561.0 264.8L563.0 262.4L560.9 258.7ZM585.7 173.0L584.6 175.7L588.2 180.3L589.9 180.4L592.0 175.5L588.1 171.9ZM636.3 196.3L634.7 192.2L629.0 192.0L628.8 192.1L631.4 198.7L635.9 197.0ZM557.6 254.4L553.4 256.3L554.9 260.0L556.4 260.6L559.0 258.3ZM686.1 102.1L721.9 98.8L698.4 88.8L685.4 93.1L684.5 98.6ZM625.6 105.7L625.2 102.6L619.4 100.8L616.8 107.2L620.2 109.2ZM493.7 120.6L495.4 118.5L494.3 113.6L492.3 112.8L491.2 113.1L487.8 118.3L488.6 120.0ZM569.7 197.7L572.7 196.7L575.5 198.4L573.4 202.5L570.9 203.0L568.6 200.3ZM632.3 209.9L638.2 208.5L642.6 211.3L636.6 216.8L633.5 216.4L633.3 216.2ZM600.2 205.9L598.0 206.2L595.2 203.3L596.0 200.3L597.9 199.5L600.7 201.4L600.4 205.5ZM567.0 257.2L565.4 262.1L563.0 262.4L560.9 258.7L563.1 256.5ZM463.4 96.7L458.9 95.7L457.1 98.0L460.2 103.8L460.3 103.9L464.4 100.6ZM572.7 196.7L572.3 191.4L577.2 192.0L578.2 195.3L576.3 198.2L575.5 198.4ZM487.3 159.8L484.5 161.9L484.4 164.4L488.6 168.0L491.6 166.5L491.6 162.0ZM448.2 101.6L447.5 102.2L448.0 107.3L454.1 107.5L455.1 105.5L453.0 101.9ZM493.3 149.5L492.3 146.2L487.5 144.9L485.5 149.5L490.7 151.7ZM311.8 134.0L315.0 139.3L313.3 145.2L311.7 146.5L304.0 142.6L303.3 138.0L307.1 133.9ZM577.5 148.1L576.1 142.1L577.9 139.6L581.0 139.3L581.8 140.4L581.9 147.5ZM451.6 95.5L453.3 91.4L451.3 88.4L446.2 91.1L445.5 94.0L448.9 96.3ZM632.7 116.9L629.7 118.5L630.3 122.7L636.9 125.2L636.9 125.2L636.3 118.8ZM481.1 104.9L479.7 97.9L474.3 100.0L475.4 105.7L480.8 105.4ZM565.3 171.9L569.0 174.3L572.8 171.8L570.8 167.8L567.9 167.1L566.1 168.2ZM605.3 135.0L606.4 135.6L612.1 131.4L607.6 127.7L604.0 131.0ZM614.1 225.7L619.1 227.1L619.7 226.9L621.3 223.0L615.8 220.9L615.1 221.4ZM308.3 305.1L312.5 305.3L315.0 309.8L313.5 313.9L304.4 315.2L303.7 312.8ZM594.8 238.1L595.1 235.3L593.0 233.4L592.8 233.4L590.0 235.4L589.7 236.4L592.9 239.5ZM505.0 110.0L500.2 108.1L502.8 99.6L504.8 98.0L506.2 108.3ZM539.2 156.9L542.7 156.9L544.9 152.9L540.8 148.5L538.1 151.8ZM554.0 170.4L557.4 167.7L556.1 162.7L551.6 160.9L551.8 168.7ZM581.8 195.4L578.2 195.3L577.2 192.0L579.5 188.9L581.7 188.8L583.6 192.1ZM580.6 155.2L580.8 158.3L573.3 158.7L572.4 155.1L576.9 152.5ZM663.0 136.1L667.8 140.8L669.6 140.8L672.2 138.8L669.9 133.4L663.3 134.8ZM592.2 195.4L594.0 193.7L591.2 188.0L590.6 187.7L589.4 188.2L587.2 192.7L588.2 194.6ZM545.8 266.8L547.5 265.1L550.4 265.7L551.3 269.2L551.1 269.4L546.1 270.1L545.8 269.7ZM615.4 189.1L614.6 194.8L612.5 195.8L608.4 190.5L609.8 188.6L614.1 188.0ZM583.0 224.8L583.7 224.5L584.2 224.6L586.7 227.7L586.5 229.9L582.9 229.7L581.5 227.4ZM590.4 272.9L590.4 269.8L591.7 269.0L596.2 269.5L596.3 269.9L595.5 273.4L591.8 274.2ZM603.1 223.3L604.9 223.4L607.3 226.0L607.1 227.8L603.5 227.9L601.9 224.6L602.0 224.0ZM564.3 234.4L562.9 235.5L559.4 234.2L558.4 232.4L562.1 229.9L564.6 233.2ZM633.2 171.1L635.2 176.5L630.4 179.7L627.1 175.4L631.0 171.0ZM591.5 228.6L590.7 230.1L587.2 230.7L586.5 229.9L586.7 227.7L589.9 225.6ZM600.4 137.0L598.0 131.6L596.8 131.4L593.1 133.6L595.3 138.0L599.8 138.1ZM579.7 180.5L580.7 176.9L584.6 175.7L588.2 180.3L583.7 182.9ZM599.9 152.1L606.8 153.9L607.4 156.6L602.1 159.7L598.6 157.5L599.3 152.7ZM299.3 190.1L296.7 183.4L289.5 188.6L289.1 191.4L294.9 194.2ZM618.4 173.3L623.7 172.1L624.1 169.9L620.6 166.2L617.2 168.4ZM487.6 141.6L492.8 140.0L493.9 137.8L493.6 137.1L488.9 134.9L486.8 136.7ZM558.0 238.4L553.9 236.9L552.7 239.5L554.6 243.0L557.4 242.8L558.7 239.4ZM614.7 156.1L615.1 161.0L621.2 162.2L622.3 158.5L621.5 156.9L615.3 155.4ZM491.6 162.0L491.6 166.5L495.4 168.0L496.9 167.6L497.6 166.8L497.9 161.8L497.6 161.3L494.4 160.2ZM413.1 85.9L408.3 82.6L411.8 78.8L415.6 80.3L416.2 84.0ZM462.8 108.8L457.4 112.1L460.5 116.8L465.1 113.8L464.2 109.4ZM512.5 120.4L512.7 119.0L509.7 114.3L507.1 114.2L505.1 119.7L509.3 121.6ZM628.6 125.0L630.6 129.7L624.5 132.0L623.8 131.5L623.2 129.7L625.0 125.3ZM616.8 107.2L619.4 100.8L615.4 94.1L609.1 100.1L615.2 107.3ZM674.7 75.5L675.6 75.5L679.8 78.7L679.8 79.5L672.3 85.6L670.8 85.6L669.9 84.3ZM600.4 137.0L605.3 135.0L606.4 135.6L607.5 138.3L603.2 142.9L600.8 141.5L599.8 138.1ZM523.7 132.3L523.6 125.9L531.2 128.4L531.4 129.0L529.2 132.0ZM603.7 183.9L603.8 190.1L598.2 189.1L596.9 186.5L597.4 185.3L603.4 183.7ZM392.7 161.3L389.0 165.5L390.8 168.3L394.7 168.6L395.6 164.2ZM648.8 116.3L648.9 117.4L646.4 121.1L642.6 120.6L640.8 116.9L641.3 115.4L642.0 115.0ZM673.1 68.5L672.0 66.8L673.1 62.9L694.1 56.1L690.7 63.1L680.9 68.2ZM573.4 202.5L575.6 204.8L578.9 204.3L580.5 202.0L576.3 198.2L575.5 198.4ZM670.8 98.7L672.5 96.3L675.1 96.6L676.6 97.8L677.8 104.0L675.5 106.2L672.9 105.3ZM614.3 183.4L614.1 188.0L615.4 189.1L620.2 188.5L619.1 182.6ZM655.8 59.4L653.5 8.6L648.8 11.0L640.5 50.8L645.2 56.2ZM396.0 158.1L396.3 154.2L399.8 152.8L402.4 155.0L401.0 158.6L399.4 159.4ZM491.0 155.0L490.7 151.7L493.3 149.5L497.0 150.5L498.0 152.5L497.8 153.6L493.7 156.3ZM624.9 223.6L627.8 221.3L630.4 221.8L632.3 224.7L631.1 227.8L626.9 228.1ZM629.7 144.5L624.0 144.9L624.8 151.1L627.3 151.7L630.8 148.7ZM564.9 183.0L566.0 178.8L568.6 178.2L571.2 180.2L571.1 182.5L567.8 185.4L566.3 185.3ZM665.5 122.1L672.9 126.5L671.6 128.0L661.8 129.6L660.7 126.5L661.9 123.7ZM435.4 202.3L439.0 199.2L443.2 202.2L443.0 202.5L438.9 204.8ZM628.0 167.8L624.1 169.9L620.6 166.2L621.6 163.1L628.2 164.4ZM632.8 134.6L631.5 130.1L636.3 127.0L639.4 133.2L638.6 134.3ZM611.0 181.0L609.6 178.9L610.9 173.0L617.2 175.8L611.7 181.1ZM567.9 245.3L571.4 242.8L570.0 241.1L566.9 241.1L565.8 243.5L566.4 245.0ZM392.7 160.2L390.1 158.0L390.9 152.3L392.1 151.3L396.3 154.2L396.0 158.1ZM453.3 91.4L458.0 91.8L462.6 86.2L464.3 72.4L452.0 79.8L451.3 88.4ZM599.9 152.1L600.2 149.2L595.9 145.6L593.1 147.9L593.8 151.6L599.3 152.7ZM640.4 259.8L636.2 266.2L631.9 266.1L626.7 259.9L629.7 256.0ZM566.8 227.4L562.3 228.9L562.1 229.9L564.6 233.2L568.7 230.9L568.6 229.7ZM566.4 245.0L565.8 243.5L562.9 242.7L561.6 244.1L562.4 247.3L564.3 247.6ZM453.3 168.0L453.7 167.3L452.7 161.5L452.1 161.2L450.1 161.6L448.1 164.1L449.0 168.2ZM564.2 214.4L562.0 212.5L561.9 211.3L566.0 208.5L568.5 210.8L568.1 213.9ZM317.7 73.3L326.3 68.8L330.4 70.8L330.6 75.7L322.5 82.4L319.3 81.8ZM592.5 198.3L588.9 202.1L586.1 197.9L588.2 194.6L592.2 195.4ZM607.4 156.6L602.1 159.7L602.3 161.7L605.6 164.3L609.7 162.6L607.6 156.7ZM572.7 224.2L574.0 221.7L578.0 222.0L578.3 222.5L577.7 227.8L577.6 227.9L575.0 228.0L573.5 226.9ZM653.5 78.2L649.3 79.7L647.6 78.7L646.1 73.0L653.4 72.2L653.9 72.4ZM470.3 107.8L474.5 106.9L476.8 111.4L474.5 114.1L471.4 113.9ZM558.0 238.4L559.4 234.2L562.9 235.5L562.5 239.1L562.4 239.1L558.7 239.4ZM616.2 216.2L615.8 220.9L615.1 221.4L611.1 220.7L610.8 216.4L611.9 215.4ZM626.4 137.7L623.0 140.1L623.8 144.7L624.0 144.9L629.7 144.5L630.6 142.8ZM606.0 118.7L603.9 112.5L597.6 113.9L596.7 118.6L596.8 119.0L605.4 119.2ZM487.3 159.8L491.6 162.0L494.4 160.2L493.7 156.3L491.0 155.0L487.7 157.4ZM558.7 239.4L562.4 239.1L562.9 242.7L561.6 244.1L557.8 243.2L557.4 242.8ZM493.7 120.6L495.4 118.5L500.6 119.1L501.3 119.9L497.1 125.7L495.4 125.4ZM588.1 153.6L583.3 152.4L582.4 147.8L588.2 146.6L588.5 146.9ZM610.4 170.7L610.0 170.0L610.7 163.2L613.4 162.8L616.5 168.1ZM559.6 168.2L562.1 166.5L562.1 162.0L560.3 161.0L556.1 162.7L557.4 167.7ZM316.0 284.6L312.4 289.8L306.3 285.5L307.5 278.4L311.0 278.0L314.1 279.7ZM462.5 223.9L459.0 224.5L459.2 229.0L462.7 229.3L463.7 224.8ZM637.6 177.2L641.3 171.0L646.9 175.3L639.9 180.0ZM607.6 228.5L605.9 232.5L609.6 234.1L611.1 231.9L609.1 228.9ZM564.3 234.4L567.5 236.7L569.6 236.3L569.3 231.6L568.7 230.9L564.6 233.2ZM551.9 264.1L551.4 261.5L548.4 259.6L547.0 260.8L547.5 265.1L550.4 265.7ZM324.5 251.5L330.2 253.3L331.8 249.4L329.0 245.1L327.2 245.8ZM601.0 125.2L604.2 124.2L607.5 127.1L607.6 127.7L604.0 131.0L601.3 130.0ZM304.0 298.4L308.3 305.1L303.7 312.8L292.7 306.1L301.7 297.7ZM639.6 169.5L638.3 163.5L643.6 163.3L645.5 166.2L641.1 170.5ZM596.9 186.5L591.2 188.0L594.0 193.7L596.5 193.4L598.2 189.1ZM565.2 200.8L568.6 200.3L569.7 197.7L566.9 194.4L564.5 196.2ZM523.7 107.3L524.3 117.4L520.1 117.9L517.2 115.3L517.0 113.5ZM415.6 80.3L411.8 78.8L410.7 69.0L411.4 65.8L420.2 69.7L419.7 76.5ZM500.6 119.1L500.7 114.6L505.3 112.4L507.1 114.2L505.1 119.7L503.2 120.4L501.3 119.9ZM311.9 265.7L303.0 272.8L297.8 261.6L299.8 258.7L310.8 261.3L311.5 262.5ZM640.2 124.7L644.3 127.7L647.7 125.7L647.9 125.1L646.4 121.1L642.6 120.6ZM497.5 112.3L498.9 108.6L495.5 106.1L492.6 106.9L492.3 112.8L494.3 113.6ZM577.2 148.4L570.2 147.9L569.9 143.3L576.1 142.1L577.5 148.1ZM390.8 82.2L394.3 77.8L389.3 71.5L386.6 72.5L385.9 78.4ZM609.7 144.7L611.3 140.9L616.6 143.5L617.0 145.3L612.7 148.3ZM629.0 209.1L630.2 208.7L632.3 209.9L633.3 216.2L626.4 215.0ZM593.6 213.4L591.7 208.4L591.7 208.3L596.2 208.3L597.0 211.0L595.0 213.7ZM628.8 118.1L626.4 113.6L620.8 113.3L620.5 113.9L620.8 116.8L624.6 119.6ZM598.7 178.3L603.0 181.4L605.6 178.0L604.2 174.4L602.6 173.6ZM512.4 107.7L506.2 108.3L504.8 98.0L507.9 93.4L512.8 107.0ZM481.5 137.8L483.3 135.9L486.8 136.7L487.6 141.6L487.0 142.7L482.5 141.9ZM348.1 255.0L353.3 256.4L352.3 261.9L345.1 260.5L345.1 260.4L347.7 255.3ZM613.4 137.4L618.7 137.7L619.2 134.3L614.4 130.5L612.6 131.4ZM578.3 222.5L583.0 224.8L581.5 227.4L577.7 227.8ZM583.6 220.7L583.7 224.5L584.2 224.6L588.3 222.9L588.0 219.7ZM573.6 214.0L573.6 209.3L571.9 208.8L568.5 210.8L568.1 213.9L568.6 214.3ZM583.6 192.1L581.7 188.8L583.8 186.3L589.4 188.2L587.2 192.7ZM653.6 122.7L653.9 120.9L648.9 117.4L646.4 121.1L647.9 125.1ZM597.3 230.6L598.7 228.7L602.2 229.8L602.5 231.1L599.7 234.7L599.0 234.3ZM571.4 190.6L574.5 185.9L571.1 182.5L567.8 185.4L570.9 190.5ZM604.1 254.5L604.3 258.2L606.3 258.9L609.1 256.8L608.3 254.0ZM548.4 259.6L548.5 258.5L553.3 256.3L553.4 256.3L554.9 260.0L551.4 261.5ZM608.7 210.9L605.6 213.1L602.1 210.0L602.1 209.8L606.6 207.5ZM655.6 142.2L655.7 145.2L649.5 145.7L649.2 139.9L651.6 139.1ZM481.1 104.9L486.8 103.2L488.8 104.6L486.2 109.9L481.6 108.0L480.8 105.4ZM311.5 262.5L310.8 261.3L313.0 253.2L313.4 252.9L317.1 253.2L320.4 259.6Z" fill="#83ed8c" stroke="#cfb0cb" stroke-width="0.7" stroke-linejoin="round"/>
<path d="M307.6 197.7L307.6 191.2L306.4 190.0L301.4 191.2L302.2 197.8L307.2 198.1ZM307.6 197.7L307.6 191.2L313.5 191.6L314.4 192.6L314.5 196.9L313.8 197.7ZM307.6 204.2L302.7 205.1L301.6 204.2L300.9 198.9L302.2 197.8L307.2 198.1ZM309.3 205.4L314.2 204.0L313.8 197.7L307.6 197.7L307.2 198.1L307.6 204.2ZM301.3 224.7L302.1 219.7L300.0 217.6L295.2 217.6L294.8 218.0L295.2 224.3ZM308.1 225.2L301.9 225.7L301.3 224.7L302.1 219.7L307.8 218.2L308.0 218.4ZM308.3 225.3L308.1 225.2L301.9 225.7L301.5 230.9L308.0 232.5L309.2 231.4ZM315.2 230.9L315.8 231.5L315.0 237.6L314.8 237.8L308.3 237.5L308.0 232.5L309.2 231.4ZM422.9 239.5L422.5 239.8L417.9 239.4L417.4 238.7L418.4 233.9L422.4 233.8ZM423.0 233.3L422.4 233.8L422.9 239.5L427.4 239.0L427.9 238.4L427.7 234.1L427.5 234.0ZM454.0 244.7L448.9 243.9L449.0 238.9L454.3 239.3L454.1 244.6ZM454.1 244.6L458.8 244.6L459.8 239.5L459.6 239.2L454.6 239.0L454.3 239.3ZM464.3 239.7L464.7 244.6L464.0 245.2L459.3 245.0L458.8 244.6L459.8 239.5ZM464.3 239.7L464.7 244.6L467.7 245.0L470.6 241.6L470.5 240.7L465.8 238.3ZM454.0 244.7L453.6 248.7L454.5 250.0L459.1 250.5L459.3 245.0L458.8 244.6L454.1 244.6ZM459.1 250.5L459.3 245.0L464.0 245.2L464.0 249.8L459.3 250.7ZM464.4 250.1L464.0 249.8L464.0 245.2L464.7 244.6L467.7 245.0L470.0 248.5L468.8 250.2ZM418.0 254.5L418.1 249.5L411.8 249.5L412.2 253.9L417.4 254.9ZM418.0 254.5L418.1 249.5L418.1 249.5L422.2 248.7L422.6 249.2L422.8 254.3L422.4 254.6ZM459.3 250.7L464.0 249.8L464.4 250.1L464.5 255.2L459.4 254.9L459.4 254.9ZM472.3 248.6L471.7 248.2L470.0 248.5L468.8 250.2L469.7 254.7L469.8 254.7L474.2 254.3L474.4 253.6ZM417.4 254.9L412.2 253.9L410.2 256.2L410.9 258.4L417.2 260.2ZM418.0 254.5L422.4 254.6L423.0 260.0L419.3 261.5L417.6 260.9L417.2 260.2L417.4 254.9ZM437.8 260.7L437.3 254.9L433.6 254.9L431.9 259.6L432.7 261.5L434.4 262.0ZM440.5 261.7L443.2 256.8L443.0 255.5L437.4 254.9L437.3 254.9L437.8 260.7ZM443.2 256.8L443.0 255.5L443.3 255.2L448.6 253.8L448.9 254.0L449.1 257.6L446.6 259.4ZM453.2 253.9L448.9 254.0L449.1 257.6L451.4 259.2L454.2 257.5L454.6 255.6ZM459.4 254.9L459.4 254.9L459.7 260.3L457.3 261.5L454.2 257.5L454.6 255.6ZM465.1 255.8L464.7 260.1L463.2 261.4L459.7 260.3L459.4 254.9L464.5 255.2ZM470.2 259.3L469.8 254.7L474.2 254.3L474.9 255.2L475.1 259.9L475.0 260.0ZM469.9 264.1L466.0 266.9L464.1 266.5L463.2 261.4L464.7 260.1L469.0 260.6ZM472.9 264.9L475.0 260.0L470.2 259.3L469.0 260.6L469.9 264.1ZM475.9 130.8L470.1 132.7L469.2 131.8L470.0 126.4L475.2 126.4ZM475.9 130.8L470.1 132.7L470.9 136.9L476.4 137.2L477.4 132.1ZM481.5 137.8L483.3 135.9L482.2 131.6L481.7 131.3L477.4 132.1L476.4 137.2L476.6 137.4ZM476.5 143.2L476.6 137.4L476.4 137.2L470.9 136.9L469.9 138.2L470.5 143.3L476.5 143.2ZM476.5 143.2L476.6 137.4L481.5 137.8L482.5 141.9L480.1 143.8ZM477.6 150.2L477.0 154.7L480.7 155.7L484.0 153.6L484.8 149.9L481.7 148.6ZM471.6 165.9L470.5 160.8L470.6 160.7L475.5 160.1L477.4 161.9L477.1 166.1L476.3 166.7ZM462.9 177.2L461.9 172.8L459.5 171.9L458.4 172.4L457.7 177.5L460.2 179.9ZM466.6 177.6L462.9 177.2L461.9 172.8L464.9 171.7L467.5 173.0ZM472.2 177.4L470.8 172.3L470.4 172.1L467.5 173.0L466.6 177.6L467.0 178.1L471.8 177.8ZM475.9 178.2L475.4 177.5L476.8 172.7L479.9 173.1L481.0 177.4ZM466.6 177.6L462.9 177.2L460.2 179.9L460.3 181.0L462.0 182.3L466.9 181.7L467.0 178.1ZM471.8 177.8L471.5 182.2L470.9 182.8L467.0 181.9L466.9 181.7L467.0 178.1ZM475.9 178.2L475.4 177.5L472.2 177.4L471.8 177.8L471.5 182.2L476.2 182.5L476.5 182.2ZM460.3 181.0L457.9 182.9L457.9 187.1L458.2 187.4L461.9 187.6L462.8 186.7L462.0 182.3ZM467.0 181.9L466.4 186.9L467.1 187.5L471.2 186.4L470.9 182.8ZM476.2 182.5L476.0 186.8L475.7 187.1L472.4 187.3L471.2 186.4L470.9 182.8L471.5 182.2ZM481.2 182.7L480.5 187.2L481.2 188.0L485.4 186.8L485.5 183.1L485.4 183.0ZM486.6 188.0L485.4 186.8L481.2 188.0L481.2 191.1L486.1 192.0ZM480.3 192.2L481.3 196.5L477.0 197.6L475.5 196.4L476.2 192.2L476.4 192.1ZM490.8 196.6L486.2 197.1L485.3 196.0L486.3 192.2L487.4 192.3L491.1 195.8ZM486.2 197.1L486.3 201.0L485.8 201.4L481.9 200.7L481.3 196.6L485.3 196.0ZM480.6 205.3L480.6 202.0L481.9 200.7L485.8 201.4L485.2 205.6L480.7 205.3ZM471.6 210.9L467.4 210.6L467.0 206.5L467.6 205.7L471.6 205.6L472.4 206.4L472.0 210.5ZM466.9 219.7L462.6 220.3L462.5 223.9L463.7 224.8L467.0 224.4L467.4 220.2ZM467.4 220.2L471.4 220.0L472.1 224.7L471.9 224.9L467.2 224.6L467.0 224.4ZM471.6 219.8L475.9 219.8L476.2 220.1L476.2 224.6L476.0 224.8L472.1 224.7L471.4 220.0ZM476.2 220.1L476.2 224.6L480.7 224.2L481.4 220.1L481.2 219.9ZM486.0 224.7L485.3 220.2L481.4 220.1L480.7 224.2L481.2 224.7L485.7 225.1ZM490.3 224.3L490.8 220.4L486.0 219.5L485.3 220.2L486.0 224.7ZM467.6 229.4L467.2 224.6L471.9 224.9L471.3 229.7ZM476.2 224.6L480.7 224.2L481.2 224.7L480.8 229.2L476.7 229.4L476.0 224.8ZM485.7 225.1L481.2 224.7L480.8 229.2L481.3 229.5L485.7 228.8ZM481.7 234.2L481.3 234.6L477.0 234.2L476.5 229.7L476.7 229.4L480.8 229.2L481.3 229.5ZM485.3 234.0L481.7 234.2L481.3 229.5L485.7 228.8L486.1 229.3ZM466.9 235.0L471.6 234.5L471.9 234.8L472.4 238.8L470.5 240.7L465.8 238.3L465.9 236.0ZM476.3 239.4L472.4 238.8L471.9 234.8L476.9 234.3L476.5 239.2ZM476.5 239.2L476.9 234.3L477.0 234.2L481.3 234.6L481.5 239.3L481.2 239.6ZM486.7 235.1L487.0 237.2L485.0 239.4L481.5 239.3L481.3 234.6L481.7 234.2L485.3 234.0ZM476.0 243.8L476.3 239.4L472.4 238.8L470.5 240.7L470.6 241.6L473.3 244.2ZM476.6 248.4L472.3 248.6L471.7 248.2L473.3 244.2L476.0 243.8L476.5 244.3L477.1 247.7ZM481.6 243.9L481.1 243.3L476.5 244.3L477.1 247.7L480.8 247.9ZM476.9 251.1L474.4 253.6L472.3 248.6L476.6 248.4ZM499.9 180.6L499.4 177.2L503.6 175.9L504.6 176.6L504.5 180.8L503.7 181.4ZM508.3 181.2L508.5 176.4L508.2 176.1L504.6 176.6L504.5 180.8L508.0 181.5ZM513.5 176.1L512.5 177.1L512.7 180.7L515.8 181.2L518.3 177.4ZM496.0 182.0L495.2 185.4L491.4 185.7L490.4 183.0L491.7 180.1L493.4 179.8ZM499.9 185.8L496.1 186.3L495.2 185.4L496.0 182.0L499.1 181.5ZM500.1 185.9L503.6 185.2L503.7 181.4L499.9 180.6L499.1 181.5L499.9 185.8ZM503.6 185.2L504.9 186.2L507.7 185.8L507.9 185.6L508.0 181.5L504.5 180.8L503.7 181.4ZM492.0 190.3L490.8 187.2L491.4 185.7L495.2 185.4L496.1 186.3L496.0 190.1L495.8 190.3ZM496.0 190.1L496.1 186.3L499.9 185.8L500.1 185.9L500.4 189.6L500.0 189.9ZM500.1 185.9L500.4 189.6L504.1 190.1L504.9 186.2L503.6 185.2ZM512.5 185.7L516.2 185.4L516.7 189.8L516.0 190.3L512.5 189.8L512.3 189.7ZM492.3 194.8L491.1 195.8L487.4 192.3L491.9 190.5ZM500.1 194.4L500.0 189.9L496.0 190.1L495.8 190.3L496.4 194.2ZM500.1 194.4L500.0 189.9L500.4 189.6L504.1 190.1L504.6 190.8L503.8 194.4L500.5 194.7ZM508.5 194.8L504.1 194.7L503.8 194.4L504.6 190.8L508.1 190.8L509.0 194.3ZM509.0 194.3L512.0 194.5L512.5 189.8L512.3 189.7L508.8 189.9L508.1 190.8ZM512.5 195.0L516.3 194.3L516.0 190.3L512.5 189.8L512.0 194.5ZM495.5 195.1L492.3 194.8L491.1 195.8L490.8 196.6L491.6 199.6L495.7 199.1L496.1 198.6ZM512.4 199.1L516.7 199.4L517.0 199.1L516.5 194.5L516.3 194.3L512.5 195.0ZM499.9 198.7L500.5 199.4L499.8 202.9L496.3 203.2L495.7 199.1L496.1 198.6ZM508.1 198.9L504.8 198.7L504.1 199.4L504.6 203.4L507.7 203.7L508.1 203.4L508.7 199.4ZM508.7 199.4L508.1 203.4L512.0 203.9L512.6 203.3L512.4 199.1ZM512.4 199.1L516.7 199.4L516.7 203.1L516.0 203.7L512.6 203.3L512.4 199.1ZM496.2 203.3L496.0 207.6L495.8 207.8L491.6 207.4L490.7 205.8L491.3 203.2ZM496.2 203.3L496.0 207.6L500.2 207.7L500.3 207.6L500.4 203.7L499.8 202.9L496.3 203.2ZM500.4 203.7L504.5 203.5L503.9 208.0L500.3 207.6ZM507.7 203.7L508.1 207.7L508.2 207.8L512.0 207.7L512.0 203.9L508.1 203.4ZM512.3 207.9L516.1 207.7L516.0 203.7L512.6 203.3L512.0 203.9L512.0 207.7ZM520.5 203.8L516.7 203.1L516.0 203.7L516.1 207.7L516.2 207.8L519.7 207.5L521.1 205.0ZM495.8 207.8L496.0 212.4L491.2 212.4L490.4 210.9L491.6 207.4ZM496.0 207.6L500.2 207.7L499.9 212.3L499.9 212.4L496.0 212.4L496.0 212.4L495.8 207.8ZM504.2 211.8L504.0 208.1L503.9 208.0L500.3 207.6L500.2 207.7L499.9 212.3ZM504.7 212.3L504.2 211.8L504.0 208.1L508.1 207.7L508.2 207.8L508.1 212.0L507.9 212.2ZM508.1 212.0L508.2 207.8L512.0 207.7L512.3 207.9L512.1 212.3ZM516.4 211.8L516.2 207.8L519.7 207.5L520.9 209.7L519.8 212.1L516.6 212.0ZM491.2 212.4L490.4 215.1L491.7 217.1L495.9 216.4L496.0 212.4L496.0 212.4ZM499.9 212.4L496.0 212.4L495.9 216.4L496.4 217.0L500.6 216.6L500.7 216.4ZM504.7 212.3L504.2 211.8L499.9 212.3L499.9 212.4L500.7 216.4L503.6 216.6L504.0 216.3ZM504.7 212.3L504.0 216.3L508.0 216.7L508.2 216.6L507.9 212.2ZM507.9 212.2L508.1 212.0L512.1 212.3L512.3 212.5L512.5 216.0L512.2 216.3L508.2 216.6ZM516.6 212.0L519.8 212.1L521.2 214.4L520.1 216.5L516.5 216.6ZM495.8 221.3L491.3 220.0L491.7 217.1L495.9 216.4L496.4 217.0L496.4 220.9ZM496.4 220.9L496.4 217.0L500.6 216.6L500.2 221.2L499.8 221.6ZM503.6 216.6L504.4 220.8L503.8 221.4L500.2 221.2L500.6 216.6L500.7 216.4ZM508.0 216.7L508.0 220.3L504.4 220.8L503.6 216.6L504.0 216.3ZM508.0 216.7L508.0 220.3L508.4 220.7L512.1 220.7L512.2 216.3L508.2 216.6ZM516.1 220.9L517.2 221.9L521.1 220.5L521.3 219.1L520.1 216.5L516.5 216.6L516.4 216.6ZM491.3 225.5L494.9 225.3L495.8 221.3L491.3 220.0L490.8 220.4L490.3 224.3ZM494.9 225.3L495.8 221.3L496.4 220.9L499.8 221.6L499.8 225.4L495.6 225.9ZM504.6 225.4L503.8 221.4L500.2 221.2L499.8 221.6L499.8 225.4L500.4 226.0L504.2 225.7ZM504.6 225.4L503.8 221.4L504.4 220.8L508.0 220.3L508.4 220.7L508.1 225.3L507.6 225.7ZM512.1 220.7L508.4 220.7L508.1 225.3L512.0 225.5L512.6 221.1ZM512.6 221.1L512.0 225.5L513.1 226.6L517.2 224.8L517.2 221.9L516.1 220.9ZM490.4 229.9L491.3 225.5L494.9 225.3L495.6 225.9L496.0 229.9L490.8 230.4ZM495.6 225.9L499.8 225.4L500.4 226.0L500.0 230.0L496.2 230.2L496.0 229.9ZM504.2 225.7L500.4 226.0L500.0 230.0L500.1 230.1L504.0 229.8ZM504.6 225.4L507.6 225.7L508.2 230.5L505.7 231.4L504.0 229.8L504.2 225.7ZM490.8 230.4L496.0 229.9L496.2 230.2L496.0 234.4L491.8 234.2L490.7 232.9ZM496.0 234.4L496.2 230.2L500.0 230.0L500.1 230.1L500.6 232.9L497.6 235.4L496.4 234.9ZM505.2 232.9L505.7 231.4L504.0 229.8L500.1 230.1L500.6 232.9L502.4 234.0ZM490.7 232.9L491.8 234.2L491.5 236.9L489.6 238.4L487.0 237.2L486.7 235.1ZM491.5 236.9L494.0 238.3L496.4 234.9L496.0 234.4L491.8 234.2ZM550.1 176.8L550.2 175.3L554.0 171.9L556.4 174.1L556.7 177.4L556.1 178.1L552.5 178.8ZM525.2 183.2L525.0 183.0L524.7 177.6L528.1 177.1L528.9 177.5L529.6 182.5L529.1 183.0ZM538.7 182.0L538.3 180.3L534.1 177.7L532.9 182.6L533.7 183.4L538.5 182.2ZM543.0 182.4L538.7 182.0L538.3 180.3L541.1 176.2L543.0 176.6L543.3 177.1L543.0 182.4ZM564.9 183.0L566.0 178.8L562.6 177.3L560.9 178.4L560.5 182.7ZM529.5 187.9L524.8 186.9L525.2 183.2L529.1 183.0L529.8 187.6ZM529.8 187.6L529.1 183.0L529.6 182.5L532.9 182.6L533.7 183.4L534.0 186.6L533.7 186.9ZM538.5 187.0L538.5 182.2L533.7 183.4L534.0 186.6L538.4 187.2ZM556.1 187.0L556.5 183.2L552.3 182.7L551.9 187.3L552.1 187.6ZM556.1 187.0L556.5 183.2L556.8 183.0L560.3 182.9L561.0 186.8L560.6 187.3L557.1 187.9ZM561.0 186.8L560.3 182.9L560.5 182.7L564.9 183.0L566.3 185.3L564.7 187.0ZM524.7 191.8L521.0 192.1L519.8 189.7L521.0 187.6L524.3 187.5L525.0 191.6ZM529.5 187.9L529.3 191.6L529.5 191.8L534.0 191.7L533.7 186.9L529.8 187.6ZM542.8 191.4L543.4 187.4L547.5 187.2L547.6 191.8L547.2 192.1ZM557.1 187.9L560.6 187.3L561.4 191.7L561.1 192.1L556.8 191.7ZM524.7 191.8L521.0 192.1L520.0 194.2L521.3 196.2L524.4 196.5L524.8 196.1ZM542.4 191.8L538.4 191.5L538.4 196.0L542.8 196.4L543.0 196.2ZM547.2 192.1L547.6 191.8L550.9 192.5L551.5 195.9L547.5 197.0L546.4 195.9ZM556.2 192.1L556.0 196.1L556.0 196.2L560.2 196.7L561.4 195.5L561.1 192.1L556.8 191.7ZM561.4 195.5L561.1 192.1L561.4 191.7L565.0 190.9L567.3 192.4L566.9 194.4L564.5 196.2ZM529.4 196.4L529.6 196.6L529.2 200.2L525.0 200.7L524.6 200.4L524.4 196.5L524.8 196.1ZM533.6 201.6L534.1 201.1L534.3 196.7L534.1 196.6L529.6 196.6L529.2 200.2L529.2 200.3ZM542.8 196.4L542.6 200.9L538.7 200.6L537.8 196.6L538.4 196.0ZM560.7 200.2L556.5 201.3L555.8 200.4L556.0 196.2L560.2 196.7ZM533.1 205.1L528.8 205.3L529.2 200.3L533.6 201.6ZM561.4 200.8L560.4 205.2L556.5 204.8L556.5 204.8L556.5 201.3L560.7 200.2ZM529.3 209.9L525.1 210.4L524.5 209.7L524.8 205.4L525.1 205.2L528.7 205.4ZM533.7 209.4L533.9 209.6L538.5 209.6L538.9 209.2L538.4 205.6L538.1 205.3L533.7 205.8ZM542.8 204.4L538.4 205.6L538.9 209.2L542.7 209.1L543.6 205.4ZM538.0 214.1L534.1 213.8L533.9 209.6L538.5 209.6L538.8 213.5ZM542.5 214.1L543.4 209.9L542.7 209.1L538.9 209.2L538.5 209.6L538.8 213.5ZM551.8 214.5L551.4 209.9L547.3 210.1L547.2 210.2L547.0 214.1L547.3 214.4ZM537.9 219.3L538.0 214.1L538.8 213.5L542.5 214.1L542.8 214.4L542.8 218.6L541.2 219.7ZM547.1 219.5L547.3 214.4L551.8 214.5L553.4 216.2L547.3 219.7ZM513.6 127.3L508.9 127.3L508.1 126.6L509.3 121.6L512.5 120.4L514.0 121.9ZM513.8 132.2L514.0 127.7L518.6 127.5L519.3 132.4L518.8 132.8ZM502.6 136.3L505.3 132.5L508.9 132.7L508.9 132.7L508.9 137.4L503.8 137.8ZM513.9 137.5L513.6 132.4L508.9 132.7L508.9 137.4L509.2 137.6L513.9 137.5ZM513.9 137.5L513.6 132.4L513.8 132.2L518.8 132.8L518.5 137.0ZM518.7 137.3L518.5 137.0L518.8 132.8L519.3 132.4L523.6 132.4L523.9 137.4L523.7 137.7ZM523.9 137.4L523.6 132.4L523.7 132.3L529.2 132.0L529.7 136.3L528.5 137.5ZM497.9 138.3L500.7 136.0L502.6 136.3L503.8 137.8L503.8 141.8L499.2 142.5ZM523.4 142.0L523.6 142.2L528.0 142.9L528.8 142.2L528.5 137.5L523.9 137.4L523.7 137.7ZM504.1 147.4L498.9 146.5L498.1 144.3L499.2 142.5L503.8 141.8L504.0 142.0ZM508.5 147.2L509.0 142.3L504.0 142.0L504.1 147.4L504.2 147.5ZM513.6 147.0L513.4 142.6L509.1 142.2L509.0 142.3L508.5 147.2L508.8 147.5ZM504.2 147.5L504.1 147.4L498.9 146.5L497.0 150.5L498.0 152.5L503.5 151.9ZM508.8 147.5L508.5 147.2L504.2 147.5L503.5 151.9L504.2 152.6L508.5 152.7L509.4 151.7ZM514.3 147.7L518.3 147.2L519.1 152.1L518.3 152.7L513.8 151.8ZM522.8 146.9L518.6 146.8L518.3 147.2L519.1 152.1L522.7 152.2L523.0 151.9L523.4 147.5ZM528.5 152.1L528.3 147.8L533.5 146.8L533.5 152.2L528.6 152.1ZM504.0 157.3L503.9 157.4L499.4 156.7L497.8 153.6L498.0 152.5L503.5 151.9L504.2 152.6ZM509.2 157.1L508.5 152.7L504.2 152.6L504.0 157.3L508.8 157.5ZM518.6 157.2L523.2 157.2L523.3 157.0L522.7 152.2L519.1 152.1L518.3 152.7L517.9 156.5ZM528.6 152.1L528.1 156.6L528.3 156.9L533.0 157.5L533.8 156.6L533.5 152.2L533.5 152.2ZM538.8 157.3L533.8 156.6L533.5 152.2L538.1 151.8L539.2 156.9ZM508.8 157.5L508.9 161.6L508.3 162.2L503.4 161.5L503.9 157.4L504.0 157.3ZM518.2 161.5L518.6 157.2L517.9 156.5L513.6 157.0L514.0 161.6ZM523.2 157.2L523.3 161.8L523.5 161.9L528.1 162.0L528.3 156.9L528.1 156.6L523.3 157.0ZM528.3 156.9L533.0 157.5L533.1 161.4L528.3 162.2L528.1 162.0ZM503.2 161.7L503.5 166.7L503.9 167.1L508.2 166.2L508.3 162.2L503.4 161.5ZM513.4 166.8L513.6 166.7L513.5 162.2L508.9 161.6L508.3 162.2L508.2 166.2L509.3 167.1ZM518.2 161.5L519.1 162.4L518.5 166.8L513.6 166.7L513.5 162.2L514.0 161.6ZM519.1 162.4L518.5 166.8L518.5 166.8L523.2 167.4L523.7 167.0L523.5 161.9L523.3 161.8ZM523.5 161.9L523.7 167.0L528.0 167.0L528.7 166.2L528.3 162.2L528.1 162.0ZM528.7 166.2L533.4 166.7L533.8 162.0L533.1 161.4L528.3 162.2ZM508.5 171.9L503.9 171.1L503.9 167.1L508.2 166.2L509.3 167.1ZM513.8 172.0L513.4 166.8L509.3 167.1L508.5 171.9L508.8 172.2L513.5 172.3ZM518.5 166.8L523.2 167.4L523.3 171.9L518.4 171.8ZM533.2 171.3L533.7 167.1L533.4 166.7L528.7 166.2L528.0 167.0L528.5 171.4L528.6 171.5L532.7 171.8ZM538.3 166.9L533.7 167.1L533.2 171.3L538.9 172.3L539.5 171.0ZM504.6 176.6L508.2 176.1L508.8 172.2L508.5 171.9L503.9 171.1L503.5 171.6L503.6 175.9ZM513.8 172.0L518.1 172.0L518.7 177.3L518.3 177.4L513.5 176.1L513.5 172.3ZM518.7 177.3L520.3 177.8L523.5 176.9L523.4 172.0L523.3 171.9L518.4 171.8L518.1 172.0ZM524.7 177.6L523.5 176.9L523.4 172.0L528.5 171.4L528.6 171.5L528.1 177.1ZM533.9 177.4L539.1 174.2L538.9 172.3L533.2 171.3L532.7 171.8L533.2 176.8ZM387.2 263.6L387.2 263.5L386.9 257.0L382.8 256.4L381.6 257.2L381.2 262.6ZM392.9 262.1L392.0 263.2L387.2 263.5L386.9 257.0L388.9 256.0L392.5 256.7ZM399.3 256.7L398.6 262.6L397.9 263.0L392.9 262.1L392.5 256.7L393.7 256.0ZM399.3 256.7L398.6 262.6L403.3 263.8L405.0 262.2L404.0 256.9L399.8 256.4ZM404.0 256.9L405.0 262.2L409.1 262.9L409.7 262.5L410.9 258.4L410.2 256.2L405.9 255.5ZM417.6 260.9L414.5 264.1L409.7 262.5L410.9 258.4L417.2 260.2ZM380.7 263.1L375.9 263.6L375.6 268.6L381.2 269.5L381.8 268.9ZM386.6 268.2L381.8 268.9L380.7 263.1L381.2 262.6L387.2 263.6ZM386.6 268.2L387.4 269.0L392.5 268.9L393.0 268.3L392.0 263.2L387.2 263.5L387.2 263.6ZM397.9 263.0L397.5 268.2L393.0 268.3L392.0 263.2L392.9 262.1ZM398.6 262.6L403.3 263.8L403.5 268.7L403.4 268.8L398.4 269.0L397.5 268.2L397.9 263.0ZM405.0 262.2L403.3 263.8L403.5 268.7L409.0 268.4L409.1 262.9ZM409.1 262.9L409.0 268.4L410.4 269.6L414.9 268.4L414.5 264.1L409.7 262.5ZM381.2 269.5L375.6 268.6L375.3 268.9L375.0 274.6L375.1 274.7L381.1 274.4L381.3 274.2ZM386.6 268.2L387.4 269.0L387.3 273.8L386.2 274.7L381.3 274.2L381.2 269.5L381.8 268.9ZM387.4 269.0L392.5 268.9L392.9 274.5L392.7 274.7L387.3 273.8ZM398.4 269.0L397.6 273.9L392.9 274.5L392.5 268.9L393.0 268.3L397.5 268.2ZM403.4 268.8L404.0 274.4L398.5 274.8L397.6 273.9L398.4 269.0ZM403.5 268.7L409.0 268.4L410.4 269.6L409.8 274.0L409.2 274.7L404.4 274.8L404.0 274.4L403.4 268.8ZM416.8 269.5L417.6 274.6L417.3 275.3L416.8 275.5L409.8 274.0L410.4 269.6L414.9 268.4ZM381.0 279.7L375.3 280.5L375.1 274.7L381.1 274.4ZM386.2 274.7L386.9 279.8L386.8 279.9L381.6 280.3L381.0 279.7L381.1 274.4L381.3 274.2ZM387.3 273.8L392.7 274.7L392.4 279.4L386.9 279.8L386.2 274.7ZM392.9 274.5L397.6 273.9L398.5 274.8L398.5 280.4L393.0 280.1L392.4 279.4L392.7 274.7ZM398.5 274.8L398.5 280.4L398.5 280.5L403.6 280.1L403.6 280.1L404.4 274.8L404.0 274.4ZM410.1 279.9L409.4 280.6L403.6 280.1L404.4 274.8L409.2 274.7ZM410.1 279.9L409.2 274.7L409.8 274.0L416.8 275.5L413.6 280.3ZM375.2 280.6L370.2 280.8L369.3 286.0L369.5 286.2L375.5 286.5L376.1 285.8ZM381.0 279.7L381.6 280.3L381.6 285.6L381.2 286.0L376.1 285.8L375.2 280.6L375.3 280.5ZM387.0 285.6L381.6 285.6L381.6 280.3L386.8 279.9ZM393.0 280.1L392.1 285.8L387.3 285.9L387.0 285.6L386.8 279.9L386.9 279.8L392.4 279.4ZM393.0 280.1L392.1 285.8L392.5 286.2L398.5 285.7L398.5 280.5L398.5 280.4ZM398.5 285.7L398.6 285.8L404.2 286.2L404.5 285.9L403.6 280.1L398.5 280.5ZM403.6 280.1L403.6 280.1L404.5 285.9L409.0 285.1L409.4 280.6ZM410.1 279.9L409.4 280.6L409.0 285.1L410.7 286.5L414.2 285.8L415.4 283.4L413.6 280.3ZM369.5 286.2L369.3 291.9L374.6 291.7L375.3 291.0L375.5 286.5ZM392.5 286.2L393.0 290.8L398.3 291.9L398.5 291.7L398.6 285.8L398.5 285.7ZM404.2 286.2L398.6 285.8L398.5 291.7L404.4 291.2L404.5 291.2ZM414.2 285.8L416.6 289.2L413.4 292.4L409.7 291.7L410.7 286.5ZM373.9 298.3L375.5 297.0L374.6 291.7L369.3 291.9L368.9 292.2L369.2 296.7ZM374.6 291.7L375.3 291.0L380.9 292.0L380.2 297.0L379.6 297.5L375.5 297.0ZM386.5 292.1L386.6 292.2L386.2 297.5L380.2 297.0L380.9 292.0L381.6 291.4ZM386.6 292.2L386.2 297.5L387.1 298.8L392.5 297.8L392.7 297.6L391.6 292.3ZM391.6 292.3L392.7 297.6L397.3 297.6L398.1 296.8L398.3 291.9L393.0 290.8ZM404.4 291.2L398.5 291.7L398.3 291.9L398.1 296.8L403.6 297.5ZM409.3 292.0L409.1 297.6L409.1 297.7L404.9 299.0L403.6 297.5L404.4 291.2L404.5 291.2ZM409.7 291.7L409.3 292.0L409.1 297.6L415.9 297.1L416.0 297.1L413.4 292.4ZM411.9 303.5L409.1 297.7L409.1 297.6L415.9 297.1L414.3 302.6ZM367.9 297.9L369.2 296.7L368.9 292.2L364.1 291.6L362.7 292.6L362.6 298.1L362.8 298.2ZM368.9 303.9L367.9 297.9L362.8 298.2L363.0 303.5L368.2 304.7ZM368.9 303.9L373.7 302.5L373.9 298.3L369.2 296.7L367.9 297.9ZM373.9 298.3L375.5 297.0L379.6 297.5L380.4 303.1L380.0 303.4L375.7 304.2L373.7 302.5ZM379.6 297.5L380.4 303.1L385.7 303.1L386.2 302.7L387.1 298.8L386.2 297.5L380.2 297.0ZM387.1 298.8L392.5 297.8L392.8 303.9L391.6 304.8L386.2 302.7ZM403.6 297.5L398.1 296.8L397.3 297.6L398.2 303.1L404.2 303.1L404.9 299.0ZM411.9 303.5L409.1 297.7L404.9 299.0L404.2 303.1L404.4 303.6L411.6 303.8ZM356.0 309.9L356.6 303.9L361.6 304.7L361.9 309.3L361.5 309.8L356.6 310.7ZM368.2 304.7L368.7 308.5L368.2 309.2L361.9 309.3L361.6 304.7L363.0 303.5ZM368.9 303.9L373.7 302.5L375.7 304.2L374.9 308.5L373.7 309.4L368.7 308.5L368.2 304.7ZM385.9 309.3L391.4 308.8L391.6 304.8L386.2 302.7L385.7 303.1L385.6 309.0ZM392.6 310.2L391.4 308.8L391.6 304.8L392.8 303.9L397.3 304.1L398.0 309.5ZM404.2 308.8L398.5 310.0L398.0 309.5L397.3 304.1L398.2 303.1L404.2 303.1L404.4 303.6L404.6 308.3ZM411.4 308.2L410.1 309.2L404.6 308.3L404.4 303.6L411.6 303.8ZM415.8 309.7L417.5 304.4L414.3 302.6L411.9 303.5L411.6 303.8L411.4 308.2ZM421.2 309.8L416.9 311.2L415.8 309.7L417.5 304.4L419.6 304.1L420.3 304.5ZM332.4 309.2L333.2 315.2L337.7 315.3L338.4 309.6L338.1 309.3L332.8 308.9ZM361.5 309.8L361.9 309.3L368.2 309.2L367.7 314.2L363.1 314.7ZM374.1 315.2L368.6 315.1L367.7 314.2L368.2 309.2L368.7 308.5L373.7 309.4ZM379.7 310.4L374.9 308.5L373.7 309.4L374.1 315.2L374.5 315.5L379.8 314.5ZM379.7 310.4L381.0 309.0L385.6 309.0L385.9 309.3L385.9 314.9L380.9 315.3L379.8 314.5ZM385.9 309.3L391.4 308.8L392.6 310.2L391.6 314.2L386.3 315.2L385.9 314.9ZM398.5 315.9L398.8 315.6L398.5 310.0L398.0 309.5L392.6 310.2L391.6 314.2L393.0 315.7ZM403.5 316.1L405.2 314.8L404.2 308.8L398.5 310.0L398.8 315.6ZM404.2 308.8L405.2 314.8L409.6 315.4L410.1 314.9L410.1 309.2L404.6 308.3ZM415.8 309.7L416.9 311.2L416.3 314.3L410.1 314.9L410.1 309.2L411.4 308.2ZM425.0 311.6L424.5 310.9L421.2 309.8L416.9 311.2L416.3 314.3L416.8 315.1L422.0 315.5ZM338.1 321.0L338.2 315.8L337.7 315.3L333.2 315.2L331.7 316.5L332.3 321.0ZM367.8 321.5L362.7 321.0L362.3 320.6L362.0 316.0L363.1 314.7L367.7 314.2L368.6 315.1L367.8 321.5ZM367.8 321.5L368.6 315.1L374.1 315.2L374.5 315.5L374.4 320.6L373.3 321.8ZM379.8 314.5L380.9 315.3L380.4 321.5L374.4 320.6L374.5 315.5ZM392.1 321.3L393.0 315.7L391.6 314.2L386.3 315.2L387.1 320.7L392.1 321.3ZM392.1 321.3L393.0 315.7L398.5 315.9L398.1 320.9ZM398.1 320.9L398.5 315.9L398.8 315.6L403.5 316.1L404.4 322.3L399.0 322.2ZM404.4 322.3L404.5 322.3L410.2 320.2L409.6 315.4L405.2 314.8L403.5 316.1ZM416.7 319.9L416.8 315.1L416.3 314.3L410.1 314.9L409.6 315.4L410.2 320.2L411.4 321.1ZM422.0 315.5L416.8 315.1L416.7 319.9L417.4 320.5L421.1 320.6L423.0 318.4ZM344.9 321.6L344.8 327.2L344.6 327.4L338.2 326.4L338.4 321.4L344.3 321.0ZM344.9 321.6L349.5 320.7L351.0 322.2L350.6 327.2L344.8 327.2ZM351.0 322.2L356.4 321.6L356.8 327.2L351.5 328.0L350.6 327.2ZM357.4 327.6L356.8 327.2L356.4 321.6L356.5 321.3L362.3 320.6L362.7 321.0L361.6 327.5ZM367.5 327.3L367.8 321.5L367.8 321.5L373.3 321.8L374.4 327.0L368.5 328.2ZM373.3 321.8L374.4 320.6L380.4 321.5L380.9 322.1L380.0 326.1L374.7 327.3L374.4 327.0ZM380.0 326.1L380.9 322.1L386.0 322.0L387.1 327.8L387.0 327.9L382.0 328.8ZM392.1 321.3L387.1 320.7L386.0 322.0L387.1 327.8L392.7 326.8ZM392.1 321.3L398.1 320.9L399.0 322.2L397.6 326.8L392.9 326.9L392.7 326.8L392.1 321.3ZM397.6 326.8L398.5 327.8L405.4 327.2L404.5 322.3L404.4 322.3L399.0 322.2ZM417.4 320.5L416.7 319.9L411.4 321.1L411.9 326.9L416.5 327.5L417.3 327.0ZM421.1 320.6L417.4 320.5L417.3 327.0L420.3 327.3L423.4 324.5ZM302.4 332.7L303.7 327.3L302.8 326.6L296.9 326.8L296.6 332.7ZM302.4 332.7L303.7 327.3L308.3 327.0L309.3 333.2L309.0 333.7L303.4 334.1ZM338.2 326.4L337.8 326.9L338.2 332.7L343.6 332.6L344.3 331.9L344.6 327.4ZM344.8 327.2L350.6 327.2L351.5 328.0L351.2 332.6L349.7 333.7L344.3 331.9L344.6 327.4ZM357.0 334.1L356.4 334.5L351.2 332.6L351.5 328.0L356.8 327.2L357.4 327.6ZM362.9 333.1L362.6 328.3L361.6 327.5L357.4 327.6L357.0 334.1L362.1 334.1ZM374.7 327.3L380.0 326.1L382.0 328.8L380.9 332.2L375.3 332.6ZM381.9 333.7L380.9 332.2L382.0 328.8L387.0 327.9L388.0 332.8L386.6 334.4ZM392.9 326.9L393.0 333.3L388.0 332.8L387.0 327.9L387.1 327.8L392.7 326.8ZM392.9 326.9L393.0 333.3L393.4 333.7L398.3 333.0L398.8 332.6L398.5 327.8L397.6 326.8ZM404.4 333.3L405.5 327.3L405.4 327.2L398.5 327.8L398.8 332.6L404.3 333.4ZM411.0 333.5L404.4 333.3L405.5 327.3L410.8 327.6ZM416.4 333.1L416.5 327.5L411.9 326.9L410.8 327.6L411.0 333.5L411.2 333.8ZM416.4 333.1L416.5 327.5L417.3 327.0L420.3 327.3L423.6 332.6L422.8 333.3L416.9 333.7ZM349.7 333.7L349.2 338.7L350.6 339.6L355.9 338.8L356.4 334.5L351.2 332.6ZM362.1 334.1L363.2 338.6L362.3 339.5L356.1 339.1L355.9 338.8L356.4 334.5L357.0 334.1ZM362.9 333.1L368.9 333.3L369.6 334.1L368.7 338.1L367.4 339.2L363.2 338.6L362.1 334.1ZM368.7 338.1L374.1 340.7L376.4 338.6L374.7 333.4L369.6 334.1ZM376.4 338.6L374.7 333.4L375.3 332.6L380.9 332.2L381.9 333.7L380.4 339.1L380.1 339.3ZM380.4 339.1L387.3 339.3L386.6 334.4L381.9 333.7ZM387.3 339.3L387.5 339.5L392.8 339.2L393.4 333.7L393.0 333.3L388.0 332.8L386.6 334.4ZM398.8 339.8L392.9 339.4L392.8 339.2L393.4 333.7L398.3 333.0L399.0 339.7ZM411.2 333.8L411.0 333.5L404.4 333.3L404.3 333.4L404.5 338.5L411.1 338.8ZM416.9 333.7L422.8 333.3L421.6 339.1L416.8 339.3ZM344.5 344.5L345.7 339.6L349.2 338.7L350.6 339.6L351.1 345.2L349.9 346.5L345.3 345.5ZM355.9 338.8L350.6 339.6L351.1 345.2L356.9 345.1L356.1 339.1ZM363.0 345.8L361.8 345.0L362.3 339.5L363.2 338.6L367.4 339.2L367.7 344.0ZM369.9 345.4L373.6 344.4L374.1 340.7L368.7 338.1L367.4 339.2L367.7 344.0ZM374.7 345.4L379.4 345.6L380.8 344.1L380.1 339.3L376.4 338.6L374.1 340.7L373.6 344.4ZM380.1 339.3L380.4 339.1L387.3 339.3L387.5 339.5L386.4 345.1L386.2 345.2L380.8 344.1ZM387.5 339.5L392.8 339.2L392.9 339.4L393.2 345.3L392.2 346.6L386.4 345.1ZM398.8 339.8L392.9 339.4L393.2 345.3L398.4 345.3ZM398.8 339.8L398.4 345.3L399.1 346.1L403.9 346.0L405.0 344.6L403.8 339.4L399.0 339.7ZM411.1 338.8L404.5 338.5L403.8 339.4L405.0 344.6L410.4 344.9L411.4 339.2ZM337.8 345.4L333.0 345.3L331.5 351.8L338.4 352.0L339.0 351.3ZM343.5 351.1L344.2 351.7L350.1 351.7L350.7 351.1L349.9 346.5L345.3 345.5ZM357.2 345.4L356.9 345.1L351.1 345.2L349.9 346.5L350.7 351.1L356.5 351.7ZM363.9 350.6L362.4 351.9L356.6 351.7L356.5 351.7L357.2 345.4L361.8 345.0L363.0 345.8ZM369.0 351.4L369.9 345.4L367.7 344.0L363.0 345.8L363.9 350.6L368.7 351.6ZM369.0 351.4L369.9 345.4L373.6 344.4L374.7 345.4L374.6 351.8L374.3 352.2ZM374.6 351.8L380.1 350.1L379.4 345.6L374.7 345.4ZM380.1 350.1L381.9 351.4L385.1 350.8L386.2 345.2L380.8 344.1L379.4 345.6ZM392.6 350.8L392.2 346.6L386.4 345.1L386.2 345.2L385.1 350.8L385.7 351.3ZM392.6 350.8L392.2 346.6L393.2 345.3L398.4 345.3L399.1 346.1L398.1 351.2L397.2 351.8L392.7 350.8ZM338.4 352.0L338.5 357.6L332.4 359.9L330.9 352.2L331.5 351.8ZM339.0 351.3L338.4 352.0L338.5 357.6L339.1 358.0L344.7 357.6L344.9 357.4L344.2 351.7L343.5 351.1ZM349.7 357.0L350.1 351.7L344.2 351.7L344.9 357.4ZM351.0 358.4L356.4 356.9L356.6 351.7L356.5 351.7L350.7 351.1L350.1 351.7L349.7 357.0ZM368.7 351.6L363.9 350.6L362.4 351.9L362.9 357.8L363.3 358.2L367.9 357.3ZM375.4 356.3L374.3 352.2L369.0 351.4L368.7 351.6L367.9 357.3L368.6 357.8L374.4 357.9ZM375.4 356.3L380.5 356.5L381.9 351.4L380.1 350.1L374.6 351.8L374.3 352.2ZM380.5 356.5L381.9 351.4L385.1 350.8L385.7 351.3L387.1 356.4L385.7 357.7L380.6 356.5ZM392.6 350.8L385.7 351.3L387.1 356.4L391.0 356.6L392.7 350.8ZM392.7 350.8L397.2 351.8L397.8 357.0L392.7 358.5L391.0 356.6ZM416.8 351.6L411.5 351.1L410.8 356.6L416.3 357.8L416.7 357.3ZM416.8 351.6L416.7 357.3L421.9 356.9L422.6 351.7L417.1 351.3ZM309.2 357.1L308.5 357.9L311.5 370.5L314.1 370.9L317.2 356.4ZM344.7 357.6L339.1 358.0L340.7 363.5L344.5 364.5L345.3 363.5ZM351.0 358.4L350.8 362.3L345.3 363.5L344.7 357.6L344.9 357.4L349.7 357.0ZM351.0 358.4L356.4 356.9L357.5 358.0L357.2 363.6L351.9 363.6L350.8 362.3ZM363.4 363.6L363.3 358.2L362.9 357.8L357.5 358.0L357.2 363.6L357.8 364.2L363.1 364.0ZM374.4 357.9L375.0 362.2L374.0 363.4L369.0 363.3L368.6 357.8ZM375.4 356.3L380.5 356.5L380.6 356.5L380.5 363.0L375.0 362.2L374.4 357.9ZM380.5 363.0L381.0 363.5L385.7 363.0L385.7 357.7L380.6 356.5ZM385.8 363.1L392.1 362.9L392.1 362.9L392.7 358.5L391.0 356.6L387.1 356.4L385.7 357.7L385.7 363.0ZM399.3 363.0L399.1 357.9L397.8 357.0L392.7 358.5L392.1 362.9L398.8 363.6ZM404.4 363.3L405.3 357.0L409.6 357.5L410.8 364.5L410.5 364.8L406.0 365.1ZM410.8 356.6L409.6 357.5L410.8 364.5L416.5 362.8L416.3 357.8ZM345.2 368.8L344.6 369.5L339.1 370.5L336.4 366.7L340.7 363.5L344.5 364.5ZM351.1 369.3L351.9 363.6L350.8 362.3L345.3 363.5L344.5 364.5L345.2 368.8L351.0 369.4ZM351.1 369.3L351.9 363.6L357.2 363.6L357.8 364.2L357.3 369.2L356.8 369.7ZM363.0 369.9L357.3 369.2L357.8 364.2L363.1 364.0ZM374.4 368.6L368.8 369.4L367.7 364.4L369.0 363.3L374.0 363.4ZM374.4 368.6L374.8 369.1L379.9 369.5L381.0 363.5L380.5 363.0L375.0 362.2L374.0 363.4ZM385.8 363.1L386.5 369.7L385.8 370.4L379.9 369.5L379.9 369.5L381.0 363.5L385.7 363.0ZM385.8 363.1L392.1 362.9L392.4 369.6L386.5 369.7ZM393.8 370.9L398.8 369.6L398.8 363.6L392.1 362.9L392.1 362.9L392.4 369.6ZM399.6 370.0L404.0 369.1L406.0 365.1L404.4 363.3L399.3 363.0L398.8 363.6L398.8 369.6ZM344.6 369.5L345.3 375.6L344.2 377.1L338.0 378.1L337.2 377.4L339.1 370.5ZM351.0 369.4L345.2 368.8L344.6 369.5L345.3 375.6L351.0 374.8ZM355.8 376.2L351.8 375.6L351.0 374.8L351.0 369.4L351.1 369.3L356.8 369.7L357.4 374.7ZM363.2 370.2L363.0 369.9L357.3 369.2L356.8 369.7L357.4 374.7L362.1 375.0L362.5 374.7ZM363.2 370.2L368.4 369.9L369.2 375.4L368.5 376.1L362.5 374.7ZM369.2 375.4L373.8 375.3L374.8 369.1L374.4 368.6L368.8 369.4L368.4 369.9ZM379.6 375.8L379.9 369.5L379.9 369.5L374.8 369.1L373.8 375.3L374.9 376.2ZM379.6 375.8L379.9 369.5L385.8 370.4L385.9 375.2L380.3 376.4ZM386.5 369.7L392.4 369.6L393.8 370.9L393.6 372.1L388.3 377.5L385.9 375.2L385.8 370.4ZM351.8 375.6L349.8 381.6L347.5 381.6L344.2 377.1L345.3 375.6L351.0 374.8ZM355.8 376.2L351.8 375.6L349.8 381.6L351.5 382.8L356.9 381.3ZM355.8 376.2L356.9 381.3L357.4 381.6L362.1 381.7L362.1 375.0L357.4 374.7ZM362.5 374.7L362.1 375.0L362.1 381.7L362.3 381.8L368.0 380.8L368.5 376.1ZM374.4 381.2L368.6 381.4L368.0 380.8L368.5 376.1L369.2 375.4L373.8 375.3L374.9 376.2ZM374.4 381.2L374.9 376.2L379.6 375.8L380.3 376.4L380.9 381.1L380.5 381.6L375.5 382.5ZM380.9 381.1L387.0 381.7L388.6 378.9L388.3 377.5L385.9 375.2L380.3 376.4ZM351.5 382.8L351.8 387.3L345.9 391.7L342.7 387.6L347.5 381.6L349.8 381.6ZM362.1 381.7L362.3 381.8L362.8 386.9L361.9 388.3L356.7 388.4L357.4 381.6ZM374.4 381.2L368.6 381.4L369.3 386.4L374.7 387.3L375.5 382.5ZM381.1 387.3L380.5 381.6L375.5 382.5L374.7 387.3L375.0 387.7ZM383.4 389.1L385.6 388.8L387.7 386.0L387.0 381.7L380.9 381.1L380.5 381.6L381.1 387.3ZM356.2 388.9L351.8 387.3L345.9 391.7L346.5 396.9L355.9 393.4ZM356.7 388.4L361.9 388.3L363.2 392.8L357.2 394.4L355.9 393.4L356.2 388.9ZM374.7 392.8L368.1 393.4L368.4 387.3L369.3 386.4L374.7 387.3L375.0 387.7ZM380.4 393.8L383.4 389.1L381.1 387.3L375.0 387.7L374.7 392.8L375.0 393.2ZM374.6 399.4L368.6 399.2L368.0 393.6L368.1 393.4L374.7 392.8L375.0 393.2ZM380.4 393.8L375.0 393.2L374.6 399.4L375.3 400.2L382.8 398.7ZM382.8 398.7L384.1 399.5L384.9 402.6L381.0 406.0L375.2 404.9L375.3 400.2ZM375.0 405.1L374.5 410.5L381.3 413.0L381.0 406.0L375.2 404.9ZM440.7 261.9L446.5 263.2L446.6 259.4L443.2 256.8L440.5 261.7ZM446.6 263.3L451.3 262.6L451.4 259.2L449.1 257.6L446.6 259.4L446.5 263.2ZM451.6 262.9L456.5 262.8L457.3 261.5L454.2 257.5L451.4 259.2L451.3 262.6ZM417.6 260.9L414.5 264.1L414.9 268.4L416.8 269.5L421.0 267.1L419.3 261.5ZM419.3 261.5L421.0 267.1L423.7 267.9L424.6 267.4L426.2 263.4L424.9 260.6L423.0 260.0ZM429.6 269.4L424.6 267.4L426.2 263.4L430.6 263.5L430.8 268.3ZM434.4 262.0L432.7 261.5L430.6 263.5L430.8 268.3L435.5 268.2L436.0 267.6ZM440.7 261.9L440.0 266.9L436.0 267.6L434.4 262.0L437.8 260.7L440.5 261.7ZM440.7 261.9L446.5 263.2L446.6 263.3L446.3 266.5L445.9 267.0L440.9 267.7L440.0 266.9ZM446.6 263.3L451.3 262.6L451.6 262.9L451.9 268.0L451.6 268.4L446.3 266.5ZM451.9 268.0L456.8 267.8L457.4 267.1L456.5 262.8L451.6 262.9ZM457.4 267.1L463.2 267.2L464.1 266.5L463.2 261.4L459.7 260.3L457.3 261.5L456.5 262.8ZM416.8 269.5L417.6 274.6L423.6 273.0L423.7 267.9L421.0 267.1ZM429.6 269.4L429.8 273.0L425.0 274.2L423.6 273.0L423.7 267.9L424.6 267.4ZM429.6 269.4L429.8 273.0L430.4 273.6L435.0 273.8L436.1 272.5L435.5 268.2L430.8 268.3ZM440.0 266.9L440.9 267.7L441.4 272.8L436.1 272.5L435.5 268.2L436.0 267.6ZM445.9 267.0L446.2 272.6L441.5 272.9L441.4 272.8L440.9 267.7ZM446.3 266.5L451.6 268.4L450.8 272.2L446.9 273.1L446.2 272.6L445.9 267.0ZM451.9 268.0L456.8 267.8L457.1 272.5L452.0 273.2L450.8 272.2L451.6 268.4ZM463.2 273.9L462.3 272.8L463.2 267.2L464.1 266.5L466.0 266.9L468.5 270.0L468.2 273.7ZM425.0 274.2L423.6 273.0L417.6 274.6L417.3 275.3L420.5 279.2L424.9 278.6ZM425.3 279.0L424.9 278.6L425.0 274.2L429.8 273.0L430.4 273.6L429.9 279.0ZM430.3 279.3L435.1 279.3L436.0 277.7L435.0 273.8L430.4 273.6L429.9 279.0ZM441.4 272.8L436.1 272.5L435.0 273.8L436.0 277.7L441.0 277.5L441.5 272.9ZM441.5 272.9L446.2 272.6L446.9 273.1L447.0 277.9L441.7 278.4L441.0 277.5ZM447.2 278.1L447.0 277.9L446.9 273.1L450.8 272.2L452.0 273.2L452.5 277.8ZM452.7 278.0L452.5 277.8L452.0 273.2L457.1 272.5L457.1 272.5L457.2 277.5ZM457.8 278.0L457.2 277.5L457.1 272.5L462.3 272.8L463.2 273.9L462.2 277.7ZM469.3 275.0L468.2 273.7L463.2 273.9L462.2 277.7L464.5 280.7L468.2 279.0ZM425.3 283.8L420.4 283.7L419.6 282.8L420.5 279.2L424.9 278.6L425.3 279.0ZM425.8 284.4L430.1 283.8L430.3 279.3L429.9 279.0L425.3 279.0L425.3 283.8ZM430.1 283.8L431.0 284.7L434.7 284.8L436.2 282.6L435.1 279.3L430.3 279.3ZM436.2 282.6L441.4 283.2L441.7 278.4L441.0 277.5L436.0 277.7L435.1 279.3ZM447.2 278.1L447.0 277.9L441.7 278.4L441.4 283.2L441.5 283.4L446.3 284.2L447.5 283.1ZM452.5 283.2L447.5 283.1L447.2 278.1L452.5 277.8L452.7 278.0ZM457.8 278.0L457.2 277.5L452.7 278.0L452.5 283.2L452.6 283.2L457.0 283.6L457.4 283.1ZM457.8 278.0L462.2 277.7L464.5 280.7L464.1 282.4L463.6 282.7L457.4 283.1ZM425.8 284.4L425.3 288.7L424.5 289.2L420.5 288.6L420.4 283.7L425.3 283.8ZM425.8 284.4L425.3 288.7L429.7 289.7L431.0 284.7L430.1 283.8ZM429.7 289.7L429.9 290.0L435.4 290.0L436.1 289.2L434.7 284.8L431.0 284.7ZM434.7 284.8L436.1 289.2L440.0 289.1L441.5 283.4L441.4 283.2L436.2 282.6ZM441.0 290.1L446.1 289.7L447.0 288.7L446.3 284.2L441.5 283.4L440.0 289.1ZM452.5 283.2L447.5 283.1L446.3 284.2L447.0 288.7L451.4 289.5L452.1 289.0L452.6 283.2ZM452.6 283.2L452.1 289.0L456.8 289.5L458.1 288.0L457.0 283.6ZM457.4 283.1L457.0 283.6L458.1 288.0L461.3 288.2L463.6 282.7ZM417.8 296.8L416.0 297.1L413.4 292.4L416.6 289.2L418.9 289.7L419.6 295.0ZM424.4 295.0L419.6 295.0L418.9 289.7L420.5 288.6L424.5 289.2ZM429.7 289.7L429.9 290.0L429.6 294.6L424.8 295.3L424.4 295.0L424.5 289.2L425.3 288.7ZM435.4 295.1L435.4 290.0L429.9 290.0L429.6 294.6L430.5 295.4L435.3 295.2ZM435.4 295.1L435.4 290.0L436.1 289.2L440.0 289.1L441.0 290.1L441.0 294.0ZM441.0 294.0L441.0 290.1L446.1 289.7L446.6 295.2L442.1 295.4ZM446.1 289.7L446.6 295.2L446.8 295.4L451.2 295.0L451.6 294.6L451.4 289.5L447.0 288.7ZM456.8 289.5L457.5 293.9L456.6 294.7L451.6 294.6L451.4 289.5L452.1 289.0ZM463.9 290.4L463.8 292.4L461.1 294.4L457.5 293.9L456.8 289.5L458.1 288.0L461.3 288.2ZM420.2 300.1L417.8 296.8L419.6 295.0L424.4 295.0L424.8 295.3L424.9 299.6ZM425.0 299.6L424.9 299.6L424.8 295.3L429.6 294.6L430.5 295.4L430.1 300.5L429.8 300.8ZM436.5 299.6L435.3 295.2L430.5 295.4L430.1 300.5L434.9 301.1ZM440.5 300.4L442.1 295.4L441.0 294.0L435.4 295.1L435.3 295.2L436.5 299.6ZM440.5 300.4L442.1 295.4L446.6 295.2L446.8 295.4L446.7 300.4L440.6 300.5ZM452.1 300.0L451.2 295.0L446.8 295.4L446.7 300.4L446.9 300.7L451.5 300.6ZM452.1 300.0L451.2 295.0L451.6 294.6L456.6 294.7L456.6 299.9ZM424.2 304.3L425.0 299.6L424.9 299.6L420.2 300.1L419.6 304.1L420.3 304.5ZM424.2 304.3L425.0 299.6L429.8 300.8L429.1 304.8L425.4 305.4ZM434.9 301.1L430.1 300.5L429.8 300.8L429.1 304.8L430.2 306.1L434.9 305.5ZM441.2 305.8L440.6 300.5L446.7 300.4L446.9 300.7L446.6 305.5L441.3 306.0ZM452.1 305.4L451.5 300.6L446.9 300.7L446.6 305.5L446.8 305.7ZM452.3 305.6L455.3 305.6L458.2 301.9L458.1 301.4L456.6 299.9L452.1 300.0L451.5 300.6L452.1 305.4ZM424.2 304.3L420.3 304.5L421.2 309.8L424.5 310.9L425.4 305.4ZM426.0 312.0L429.7 311.4L430.2 306.1L429.1 304.8L425.4 305.4L424.5 310.9L425.0 311.6ZM430.1 311.6L429.7 311.4L430.2 306.1L434.9 305.5L435.6 306.3L435.3 309.5ZM435.3 309.5L435.6 306.3L441.2 305.8L441.3 306.0L441.4 308.8L437.3 311.7ZM446.8 305.7L446.6 305.5L441.3 306.0L441.4 308.8L444.4 312.7L447.5 311.9L447.6 311.8ZM452.3 305.6L451.6 309.9L447.6 311.8L446.8 305.7L452.1 305.4ZM452.3 305.6L455.3 305.6L456.9 308.4L455.8 312.2L451.6 309.9ZM485.6 284.0L481.1 284.8L480.2 283.9L481.1 280.1L483.5 279.3L485.2 280.4L485.9 283.5ZM485.9 283.5L485.2 280.4L488.5 278.6L490.6 280.3L491.1 281.9L490.3 283.4ZM464.1 282.4L466.5 284.9L466.1 288.8L463.9 290.4L461.3 288.2L463.6 282.7ZM466.5 284.9L470.3 284.8L471.4 289.3L470.7 290.0L466.1 288.8ZM475.8 284.9L475.4 288.8L471.4 289.3L470.3 284.8L471.0 283.9ZM485.6 284.0L481.1 284.8L481.2 287.8L485.4 289.4L486.3 288.7ZM490.0 288.6L486.3 288.7L485.6 284.0L485.9 283.5L490.3 283.4L491.4 287.5ZM466.5 294.4L463.8 292.4L463.9 290.4L466.1 288.8L470.7 290.0L470.3 294.0ZM470.6 294.4L475.7 294.7L476.3 294.2L476.2 289.5L475.4 288.8L471.4 289.3L470.7 290.0L470.3 294.0ZM481.4 293.5L479.9 289.1L481.2 287.8L485.4 289.4L484.9 293.0ZM484.9 293.0L485.4 289.4L486.3 288.7L490.0 288.6L490.2 293.4L489.8 293.9L485.0 293.1ZM465.3 299.4L461.9 298.1L461.1 294.4L463.8 292.4L466.5 294.4ZM471.8 300.0L475.3 299.4L475.7 294.7L470.6 294.4L470.6 298.4ZM478.1 301.5L480.7 298.3L479.9 295.0L476.3 294.2L475.7 294.7L475.3 299.4ZM479.9 295.0L480.7 298.3L485.6 299.2L485.0 293.1L484.9 293.0L481.4 293.5ZM485.0 293.1L489.8 293.9L489.9 298.5L485.8 299.5L485.6 299.2ZM465.5 302.1L461.2 304.0L458.2 301.9L458.1 301.4L461.9 298.1L465.3 299.4L465.3 299.4ZM466.1 302.7L470.4 303.3L470.9 303.0L471.8 300.0L470.6 298.4L465.3 299.4L465.5 302.1ZM471.8 300.0L475.3 299.4L478.1 301.5L478.3 302.8L475.4 305.0L470.9 303.0ZM478.1 301.5L480.7 298.3L485.6 299.2L485.8 299.5L485.4 302.7L484.7 303.6L479.7 303.9L478.3 302.8ZM485.4 302.7L491.1 305.3L492.5 303.9L490.7 298.9L489.9 298.5L485.8 299.5ZM455.3 305.6L456.9 308.4L461.7 307.7L461.2 304.0L458.2 301.9ZM466.1 302.7L466.0 307.7L470.0 307.9L470.4 303.3ZM470.9 303.0L475.4 305.0L474.7 308.4L470.7 308.8L470.0 307.9L470.4 303.3ZM478.3 302.8L479.7 303.9L480.5 308.7L475.2 308.9L474.7 308.4L475.4 305.0ZM480.5 308.7L479.7 303.9L484.7 303.6L485.1 308.4L480.8 309.0ZM485.1 308.4L485.4 308.6L490.3 308.3L491.1 305.3L485.4 302.7L484.7 303.6ZM455.8 312.2L456.9 308.4L461.7 307.7L462.3 308.4L460.5 312.7L455.9 312.7ZM470.0 307.9L470.7 308.8L469.9 312.7L466.4 313.5L466.4 313.4L464.4 308.8L466.0 307.7ZM474.7 308.4L475.2 308.9L475.7 313.2L471.2 313.9L469.9 312.7L470.7 308.8ZM480.5 308.7L475.2 308.9L475.7 313.2L476.1 313.5L480.3 313.6L480.8 309.0ZM480.8 309.0L480.3 313.6L480.5 313.8L485.4 313.5L485.4 308.6L485.1 308.4ZM489.8 313.4L486.3 314.2L485.4 313.5L485.4 308.6L490.3 308.3L490.6 308.7ZM455.9 312.7L455.5 314.0L458.8 318.4L460.4 318.6L461.2 317.9L461.8 314.3L460.5 312.7ZM461.8 314.3L461.2 317.9L466.3 318.3L466.4 313.5L466.4 313.4ZM471.4 317.7L471.2 313.9L469.9 312.7L466.4 313.5L466.3 318.3L466.6 318.6L470.1 319.2ZM486.1 317.8L486.3 314.2L485.4 313.5L480.5 313.8L480.8 317.8L485.1 319.0ZM491.4 318.7L486.1 317.8L486.3 314.2L489.8 313.4L491.6 315.0ZM454.6 321.7L458.8 318.4L460.4 318.6L461.4 322.3L460.0 324.2L456.5 324.1ZM461.4 322.3L465.1 322.9L466.6 318.6L466.3 318.3L461.2 317.9L460.4 318.6ZM471.2 322.8L470.6 323.5L466.0 324.4L465.1 322.9L466.6 318.6L470.1 319.2ZM474.9 323.0L480.0 323.4L479.9 318.8L475.9 318.7ZM484.5 323.4L485.5 322.1L485.1 319.0L480.8 317.8L479.9 318.8L480.0 323.4L480.5 323.9ZM491.4 318.7L486.1 317.8L485.1 319.0L485.5 322.1L490.0 322.7L491.8 319.4ZM455.5 328.5L456.2 329.0L461.1 328.5L461.5 328.1L460.0 324.2L456.5 324.1ZM465.3 327.6L461.5 328.1L460.0 324.2L461.4 322.3L465.1 322.9L466.0 324.4ZM465.3 327.6L466.0 324.4L470.6 323.5L471.0 328.3L470.2 328.9L466.5 328.9ZM474.8 323.1L475.3 327.7L474.5 328.5L471.0 328.3L470.6 323.5L471.2 322.8ZM474.9 323.0L480.0 323.4L480.5 323.9L479.8 327.7L475.3 327.7L474.8 323.1ZM479.8 327.7L480.5 323.9L484.5 323.4L485.9 327.6L485.6 328.1L480.6 329.0ZM485.9 327.6L490.7 327.1L491.3 326.1L490.0 322.7L485.5 322.1L484.5 323.4ZM455.5 328.5L456.2 329.0L456.6 333.0L454.6 335.4L453.0 334.9L451.2 331.2L453.0 328.6ZM461.1 328.5L456.2 329.0L456.6 333.0L461.3 333.3L461.3 333.3ZM465.3 327.6L461.5 328.1L461.1 328.5L461.3 333.3L465.8 333.1L466.5 328.9ZM466.5 328.9L465.8 333.1L466.1 333.4L471.0 334.0L470.2 328.9ZM471.0 328.3L474.5 328.5L475.4 333.0L475.4 333.0L471.2 334.2L471.0 334.0L470.2 328.9ZM475.3 327.7L479.8 327.7L480.6 329.0L480.4 331.8L475.4 333.0L474.5 328.5ZM480.6 329.0L485.6 328.1L486.2 332.9L486.1 333.0L481.3 332.9L480.4 331.8ZM485.6 328.1L486.2 332.9L489.5 332.9L491.2 330.6L490.7 327.1L485.9 327.6ZM461.3 333.3L461.0 338.2L454.9 336.1L454.6 335.4L456.6 333.0ZM461.3 333.3L461.3 333.3L461.0 338.2L461.7 339.5L465.8 337.3L466.1 333.4L465.8 333.1ZM470.3 339.4L470.8 339.1L471.2 334.2L471.0 334.0L466.1 333.4L465.8 337.3ZM474.6 340.4L470.8 339.1L471.2 334.2L475.4 333.0L476.9 337.5ZM491.7 337.2L489.5 332.9L486.2 332.9L486.1 333.0L485.7 338.4L485.9 338.7L490.8 338.4ZM501.7 278.5L500.6 277.2L496.5 279.1L496.3 281.8L496.6 282.2L501.2 283.0ZM506.4 282.4L506.0 278.2L501.7 278.5L501.2 283.0L501.8 283.6L506.2 282.6ZM510.4 276.3L507.1 276.5L506.0 278.2L506.4 282.4L512.3 281.6L511.5 277.0ZM517.9 276.8L517.0 282.2L512.6 281.9L512.3 281.6L511.5 277.0L515.0 275.7ZM491.4 287.5L495.1 288.2L495.3 288.0L496.6 282.2L496.3 281.8L491.1 281.9L490.3 283.4ZM501.8 283.6L501.6 287.4L495.3 288.0L496.6 282.2L501.2 283.0ZM512.3 281.6L506.4 282.4L506.2 282.6L508.0 287.7L511.4 287.7L512.6 281.9ZM521.6 288.2L519.4 288.4L518.1 287.3L517.8 282.9L521.5 282.0L523.0 284.5ZM490.0 288.6L490.2 293.4L495.9 293.3L496.0 293.0L495.1 288.2L491.4 287.5ZM496.0 293.0L495.1 288.2L495.3 288.0L501.6 287.4L501.9 287.9L501.1 292.2ZM511.0 293.9L506.5 293.1L506.6 288.8L508.0 287.7L511.4 287.7L512.7 289.0L512.8 291.3ZM512.8 291.3L512.7 289.0L518.1 287.3L519.4 288.4L519.0 293.3L517.9 294.1ZM495.9 293.3L490.2 293.4L489.8 293.9L489.9 298.5L490.7 298.9L496.1 296.7ZM500.3 298.2L503.9 295.9L504.0 295.2L501.1 292.2L496.0 293.0L495.9 293.3L496.1 296.7L497.3 298.0ZM516.9 297.5L517.9 294.1L512.8 291.3L511.0 293.9L511.8 297.7ZM516.9 297.5L517.9 294.1L519.0 293.3L523.1 294.3L523.8 296.0L523.5 298.8L518.2 299.5ZM497.3 298.0L496.1 296.7L490.7 298.9L492.5 303.9L496.0 303.8ZM501.5 304.0L496.1 304.0L496.0 303.8L497.3 298.0L500.3 298.2L502.0 303.5ZM512.9 304.5L512.5 304.2L511.7 297.9L511.8 297.7L516.9 297.5L518.2 299.5L517.6 303.7L517.4 303.9ZM524.2 299.5L523.5 298.8L518.2 299.5L517.6 303.7L523.7 304.2ZM527.8 304.4L523.8 304.3L523.7 304.2L524.2 299.5L528.3 299.7L529.0 300.3L529.0 303.0ZM496.1 304.0L496.0 303.8L492.5 303.9L491.1 305.3L490.3 308.3L490.6 308.7L496.1 310.8L497.3 309.9ZM502.2 309.3L501.5 304.0L496.1 304.0L497.3 309.9L501.4 310.1ZM506.3 309.1L506.7 308.7L506.7 303.2L506.1 302.4L502.0 303.5L501.5 304.0L502.2 309.3ZM511.7 308.5L506.7 308.7L506.7 303.2L512.5 304.2L512.9 304.5ZM518.8 308.9L517.4 303.9L512.9 304.5L511.7 308.5L512.7 310.3L516.2 311.1ZM522.3 310.0L518.8 308.9L517.4 303.9L517.6 303.7L523.7 304.2L523.8 304.3L523.5 309.3ZM523.5 309.3L523.8 304.3L527.8 304.4L528.7 307.4L526.6 309.9ZM491.6 315.0L489.8 313.4L490.6 308.7L496.1 310.8L495.6 313.5ZM502.1 314.8L500.6 316.1L497.3 316.0L495.6 313.5L496.1 310.8L497.3 309.9L501.4 310.1ZM506.3 315.9L502.1 314.8L501.4 310.1L502.2 309.3L506.3 309.1L507.6 314.5ZM507.6 314.5L506.3 309.1L506.7 308.7L511.7 308.5L512.7 310.3L510.8 314.2ZM522.3 310.0L518.8 308.9L516.2 311.1L517.2 315.6L522.0 314.6ZM527.8 311.8L526.6 309.9L523.5 309.3L522.3 310.0L522.0 314.6L522.9 315.5L527.5 314.1ZM491.4 318.7L491.6 315.0L495.6 313.5L497.3 316.0L495.3 319.9L491.8 319.4ZM501.3 321.0L500.9 321.3L496.4 321.3L495.3 319.9L497.3 316.0L500.6 316.1ZM506.3 315.9L502.1 314.8L500.6 316.1L501.3 321.0L505.6 321.1L506.8 319.8ZM511.9 320.2L512.9 316.6L510.8 314.2L507.6 314.5L506.3 315.9L506.8 319.8L511.5 320.6ZM528.2 318.8L523.7 319.2L522.9 315.5L527.5 314.1L528.8 316.0ZM496.5 326.6L500.8 327.0L500.9 321.3L496.4 321.3L495.5 325.7ZM505.6 321.1L506.2 325.0L500.9 327.0L500.8 327.0L500.9 321.3L501.3 321.0ZM524.9 324.5L522.9 320.4L518.4 321.2L518.2 321.4L517.7 324.6L518.7 326.1L522.2 327.1ZM496.5 326.6L495.6 332.0L491.2 330.6L490.7 327.1L491.3 326.1L495.5 325.7ZM506.2 331.3L501.6 329.7L500.9 327.0L506.2 325.0L506.6 325.4L507.0 330.9ZM511.8 325.3L506.6 325.4L507.0 330.9L510.6 331.6L512.2 330.7L512.3 325.8ZM523.2 331.1L522.2 327.1L518.7 326.1L516.3 332.1L516.5 332.3L522.8 331.7ZM530.4 331.6L532.0 330.3L533.0 325.0L532.9 324.9L529.0 324.1L527.5 325.0L528.1 330.3L530.0 331.6ZM495.6 332.0L496.3 332.9L495.5 336.4L491.7 337.2L489.5 332.9L491.2 330.6ZM502.2 337.3L502.7 336.7L500.1 332.0L496.3 332.9L495.5 336.4L496.4 337.2ZM506.2 331.3L501.6 329.7L500.1 332.0L502.7 336.7L504.4 336.0ZM524.1 337.7L523.1 338.6L518.9 339.0L517.0 337.6L516.5 332.3L522.8 331.7ZM527.1 337.3L524.1 337.7L522.8 331.7L523.2 331.1L528.1 330.3L530.0 331.6ZM496.4 337.2L495.5 336.4L491.7 337.2L490.8 338.4L491.9 343.8L492.6 344.3L496.9 341.8ZM502.2 337.3L496.4 337.2L496.9 341.8L499.8 343.1L502.4 341.3ZM530.7 275.6L530.7 275.6L529.0 273.6L524.2 274.3L523.9 274.8L526.0 277.5L528.6 278.0ZM528.6 278.0L526.0 277.5L524.6 280.7L525.7 281.4L528.9 280.3ZM542.5 278.9L542.5 278.3L544.1 277.0L547.6 277.7L548.3 280.7L547.9 281.1L544.9 281.6ZM552.0 274.8L549.5 275.2L547.6 277.7L548.3 280.7L551.9 280.8L553.8 278.6L552.8 275.2ZM541.0 283.9L540.3 284.4L537.0 283.6L536.3 280.9L537.2 280.0L540.9 280.7ZM553.8 278.6L556.4 279.6L556.7 284.1L555.9 284.7L552.9 284.4L551.9 280.8ZM543.4 284.4L544.0 285.2L543.3 288.7L539.8 288.4L539.6 288.3L540.3 284.4L541.0 283.9ZM559.4 288.7L556.1 287.8L555.9 284.7L556.7 284.1L560.3 284.5L561.5 286.6ZM533.0 292.2L532.5 292.6L529.2 291.2L529.1 288.9L532.5 287.8L533.0 288.3ZM543.9 289.4L547.7 288.7L548.9 292.1L548.3 292.7L545.0 292.9L543.8 291.2ZM551.7 291.6L552.4 288.6L555.3 288.6L556.0 292.0ZM559.1 291.8L558.9 291.9L556.1 292.0L556.0 292.0L555.3 288.6L556.1 287.8L559.4 288.7ZM564.8 287.6L561.5 286.6L559.4 288.7L559.1 291.8L563.0 292.5L564.3 291.4ZM544.4 296.1L544.0 295.4L545.0 292.9L548.3 292.7L548.5 296.2L547.8 297.0ZM552.9 295.9L552.4 296.4L548.5 296.2L548.3 292.7L548.9 292.1L551.4 292.0ZM555.1 295.6L556.1 292.0L556.0 292.0L551.7 291.6L551.4 292.0L552.9 295.9ZM559.0 295.2L558.9 291.9L556.1 292.0L555.1 295.6L556.0 296.3ZM560.5 296.5L562.7 295.6L563.0 292.5L559.1 291.8L558.9 291.9L559.0 295.2ZM564.3 291.4L563.0 292.5L562.7 295.6L563.8 296.5L566.8 296.0L568.1 294.0ZM528.7 295.5L528.3 299.7L524.2 299.5L523.5 298.8L523.8 296.0L528.5 295.4ZM532.2 299.6L533.0 296.1L536.3 296.0L536.6 296.3L537.0 299.4L536.6 299.8L533.4 300.6ZM540.9 299.3L540.7 295.9L536.6 296.3L537.0 299.4L540.0 299.9ZM547.8 299.7L547.9 299.5L547.8 297.0L544.4 296.1L543.6 300.0L543.7 300.1ZM547.8 297.0L548.5 296.2L552.4 296.4L552.3 299.3L547.9 299.5ZM552.4 299.5L556.0 299.5L556.7 298.8L556.0 296.3L555.1 295.6L552.9 295.9L552.4 296.4L552.3 299.3ZM560.5 296.5L559.9 299.0L559.3 299.3L556.7 298.8L556.0 296.3L559.0 295.2ZM563.8 296.5L562.7 295.6L560.5 296.5L559.9 299.0L562.5 300.3L563.8 299.2ZM567.5 299.5L566.8 296.0L563.8 296.5L563.8 299.2L567.2 299.9ZM568.1 294.0L566.8 296.0L567.5 299.5L571.7 298.7L573.1 297.2L569.5 293.7ZM543.8 303.8L543.7 300.1L547.8 299.7L548.4 302.9L544.0 303.9ZM552.4 299.5L556.0 299.5L555.9 303.2L554.8 303.7L552.7 303.2L552.4 302.8ZM559.9 299.0L562.5 300.3L562.8 302.3L559.3 304.2L558.7 303.6L559.3 299.3ZM567.5 299.5L571.7 298.7L571.5 302.7L569.0 304.3L567.1 302.9L567.2 299.9ZM573.1 297.2L574.0 297.1L575.4 298.0L576.1 302.5L574.2 303.8L571.5 302.7L571.7 298.7ZM532.0 307.6L528.7 307.4L527.8 304.4L529.0 303.0L532.3 304.4ZM532.2 307.7L532.0 307.6L532.3 304.4L533.7 303.4L535.8 304.2L536.4 306.7ZM537.3 307.5L539.4 307.2L540.5 304.0L539.8 303.3L537.1 303.1L535.8 304.2L536.4 306.7ZM548.5 302.9L552.4 302.8L552.7 303.2L551.2 307.2L548.7 306.2ZM552.7 303.2L551.2 307.2L551.9 308.3L555.1 306.7L554.8 303.7ZM555.9 303.2L558.7 303.6L559.3 304.2L559.6 305.8L556.3 307.6L555.1 306.7L554.8 303.7ZM571.5 302.7L569.0 304.3L569.2 306.4L570.4 307.3L574.2 306.5L574.2 303.8ZM532.8 310.8L532.2 311.5L527.8 311.8L526.6 309.9L528.7 307.4L532.0 307.6L532.2 307.7ZM536.2 311.0L532.8 310.8L532.2 307.7L536.4 306.7L537.3 307.5L536.2 310.9ZM536.2 310.9L540.3 311.8L541.0 310.8L540.3 308.0L539.4 307.2L537.3 307.5ZM544.1 310.8L544.6 310.5L544.7 307.1L544.6 306.9L540.3 308.0L541.0 310.8ZM548.5 311.1L547.6 307.1L544.7 307.1L544.6 310.5L548.0 311.5ZM548.5 311.1L551.8 310.0L551.9 308.3L551.2 307.2L548.7 306.2L547.6 307.1ZM551.8 310.0L552.8 310.9L556.0 310.8L556.5 310.2L556.3 307.6L555.1 306.7L551.9 308.3ZM559.5 310.2L556.5 310.2L556.3 307.6L559.6 305.8L560.0 306.3ZM574.7 310.8L575.4 307.8L574.2 306.5L570.4 307.3L571.3 311.0L574.3 311.2ZM528.8 316.0L527.5 314.1L527.8 311.8L532.2 311.5L532.7 314.9L532.5 315.2ZM536.2 311.0L536.4 314.5L532.7 314.9L532.2 311.5L532.8 310.8ZM536.2 311.0L536.4 314.5L537.1 315.1L540.4 313.7L540.3 311.8L536.2 310.9ZM540.4 313.7L541.5 314.8L544.0 314.3L544.1 310.8L541.0 310.8L540.3 311.8ZM544.0 314.3L544.1 310.8L544.6 310.5L548.0 311.5L548.0 313.3L545.2 315.1ZM548.5 311.1L551.8 310.0L552.8 310.9L552.5 314.9L551.9 315.3L549.8 315.2L548.0 313.3L548.0 311.5ZM559.5 310.2L556.5 310.2L556.0 310.8L557.0 314.8L559.0 314.8L559.5 314.5L560.3 310.9ZM560.3 310.9L559.5 314.5L562.8 315.0L563.0 314.8L563.7 311.1L563.2 310.7ZM566.4 315.4L563.0 314.8L563.7 311.1L566.1 311.0L566.9 314.7ZM566.9 314.7L570.1 314.3L570.6 311.6L566.4 310.8L566.1 311.0ZM540.4 313.7L541.5 314.8L541.1 318.2L537.3 317.9L537.1 315.1ZM544.0 314.3L541.5 314.8L541.1 318.2L541.6 318.8L544.5 319.0L545.6 318.1L545.2 315.1ZM552.1 319.2L553.8 320.7L556.0 317.9L556.0 315.7L552.5 314.9L551.9 315.3ZM559.0 314.8L560.0 318.3L559.1 319.5L556.0 317.9L556.0 315.7L557.0 314.8ZM559.0 314.8L560.0 318.3L562.7 318.1L562.8 315.0L559.5 314.5ZM562.8 315.0L563.0 314.8L566.4 315.4L566.8 318.5L563.8 319.2L562.7 318.1ZM566.4 315.4L566.8 318.5L567.0 318.6L570.9 317.4L571.0 315.6L570.1 314.3L566.9 314.7ZM529.0 319.7L529.0 324.1L532.9 324.9L532.9 319.3ZM544.5 319.0L545.0 323.0L544.2 323.9L540.5 322.5L541.6 318.8ZM544.5 319.0L545.0 323.0L548.5 322.7L548.8 319.7L547.7 318.5L545.6 318.1ZM548.8 319.7L552.1 319.2L553.8 320.7L553.9 321.1L552.3 323.0L548.7 322.8L548.5 322.7ZM559.0 322.1L559.2 321.8L559.1 319.5L556.0 317.9L553.8 320.7L553.9 321.1L556.1 322.4ZM560.0 318.3L559.1 319.5L559.2 321.8L562.9 321.9L563.8 319.2L562.7 318.1ZM580.8 318.8L577.0 323.4L575.4 322.2L575.2 318.4L578.3 317.3ZM534.6 324.9L537.0 322.1L540.0 322.8L539.6 326.4L536.1 326.3ZM540.0 322.8L540.5 322.5L544.2 323.9L544.3 325.2L543.5 326.4L540.3 327.2L539.6 326.4ZM545.0 323.0L544.2 323.9L544.3 325.2L548.5 327.1L548.8 326.7L548.7 322.8L548.5 322.7ZM548.7 322.8L552.3 323.0L552.7 326.5L548.8 326.7ZM552.7 326.5L552.3 323.0L553.9 321.1L556.1 322.4L555.6 326.6L555.5 326.7L552.8 326.7ZM559.6 325.7L559.0 322.1L556.1 322.4L555.6 326.6ZM562.8 325.7L563.2 322.4L566.9 323.1L566.6 325.8L563.2 326.0ZM577.3 326.4L575.9 326.9L571.2 325.5L571.2 322.6L571.3 322.6L575.4 322.2L577.0 323.4L577.7 325.6ZM534.6 324.9L533.0 325.0L532.0 330.3L535.8 330.4L536.4 329.8L536.1 326.3ZM536.1 326.3L536.4 329.8L540.0 329.8L540.3 327.2L539.6 326.4ZM543.5 326.4L540.3 327.2L540.0 329.8L540.3 330.3L543.1 331.0L544.6 329.6ZM547.9 329.6L552.3 330.4L552.8 326.7L552.7 326.5L548.8 326.7L548.5 327.1ZM559.6 325.7L560.2 326.2L559.8 329.8L559.6 329.9L556.5 329.1L555.5 326.7L555.6 326.6ZM562.8 325.7L560.2 326.2L559.8 329.8L563.6 330.1L563.7 330.0L563.2 326.0ZM563.2 326.0L563.7 330.0L566.7 329.7L567.3 326.7L566.6 325.8ZM566.7 329.7L567.7 330.7L571.3 330.1L571.5 330.0L570.5 326.4L567.3 326.7ZM575.9 326.9L572.7 330.0L571.5 330.0L570.5 326.4L571.2 325.5ZM533.6 335.1L536.6 333.6L535.8 330.4L532.0 330.3L530.4 331.6ZM538.9 334.5L540.3 330.3L543.1 331.0L543.7 333.9L539.6 335.6ZM544.6 329.6L543.1 331.0L543.7 333.9L544.7 334.5L547.9 332.8L547.6 329.9ZM547.6 329.9L547.9 332.8L550.0 334.5L552.1 333.2L552.7 331.2L552.3 330.4L547.9 329.6ZM552.7 331.2L555.3 330.9L556.9 333.7L555.0 335.1L552.1 333.2ZM567.4 333.9L563.5 334.1L563.4 333.9L563.6 330.1L563.7 330.0L566.7 329.7L567.7 330.7L567.5 333.8ZM567.5 333.8L567.7 330.7L571.3 330.1L571.0 334.0ZM572.7 330.0L571.5 330.0L571.3 330.1L571.0 334.0L572.2 335.2L575.3 335.3L575.7 333.0ZM550.0 334.5L549.9 338.0L552.8 339.9L554.6 338.3L555.0 335.1L552.1 333.2ZM556.9 333.7L555.0 335.1L554.6 338.3L559.5 338.1L558.5 333.8ZM558.5 333.8L559.2 333.2L563.4 333.9L563.5 334.1L562.9 338.2L560.2 338.6L559.5 338.1ZM567.8 338.3L567.4 333.9L563.5 334.1L562.9 338.2L565.1 339.6ZM567.8 338.3L567.4 333.9L567.5 333.8L571.0 334.0L572.2 335.2L569.4 338.6ZM431.6 314.1L436.6 314.4L437.4 313.2L437.3 311.7L435.3 309.5L430.1 311.6ZM437.4 313.2L443.0 314.8L444.4 312.7L441.4 308.8L437.3 311.7ZM451.6 309.9L455.8 312.2L455.9 312.7L455.5 314.0L453.7 315.2L449.3 314.5L447.5 311.9L447.6 311.8ZM431.0 318.7L431.6 314.1L436.6 314.4L436.9 319.3L436.8 319.4ZM447.5 311.9L444.4 312.7L443.0 314.8L442.8 318.5L446.8 320.0L448.3 319.2L449.3 314.5ZM453.7 315.2L452.9 320.4L448.3 319.2L449.3 314.5ZM454.6 321.7L458.8 318.4L455.5 314.0L453.7 315.2L452.9 320.4L453.8 321.5ZM427.2 319.0L427.9 319.6L426.0 324.5L423.4 324.5L421.1 320.6L423.0 318.4ZM432.8 325.7L432.5 326.1L427.1 325.8L426.0 324.5L427.9 319.6L430.3 319.3ZM435.8 324.7L436.8 319.4L431.0 318.7L430.3 319.3L432.8 325.7ZM435.8 324.7L437.7 325.8L441.7 325.1L441.4 319.5L436.9 319.3L436.8 319.4ZM441.4 319.5L442.8 318.5L446.8 320.0L447.2 325.3L442.6 325.8L441.7 325.1ZM453.8 321.5L452.9 320.4L448.3 319.2L446.8 320.0L447.2 325.3L447.3 325.5L450.5 325.5ZM426.0 324.5L427.1 325.8L426.4 331.8L425.9 332.4L423.6 332.6L420.3 327.3L423.4 324.5ZM432.7 330.0L432.5 326.1L427.1 325.8L426.4 331.8ZM435.8 324.7L437.7 325.8L438.1 330.7L435.4 333.1L432.7 330.0L432.5 326.1L432.8 325.7ZM441.7 325.1L442.6 325.8L442.1 330.5L438.1 330.7L437.7 325.8ZM447.2 331.1L445.1 333.1L444.8 333.2L442.1 330.5L442.6 325.8L447.2 325.3L447.3 325.5ZM453.0 328.6L451.2 331.2L447.2 331.1L447.3 325.5L450.5 325.5ZM435.4 333.6L432.5 335.8L427.6 334.8L425.9 332.4L426.4 331.8L432.7 330.0L435.4 333.1ZM435.4 333.6L437.4 335.6L443.5 334.7L444.8 333.2L442.1 330.5L438.1 330.7L435.4 333.1ZM432.1 341.1L431.7 341.5L428.2 341.2L426.7 339.8L427.6 334.8L432.5 335.8ZM435.4 333.6L432.5 335.8L432.1 341.1L438.0 340.5L438.3 340.0L437.4 335.6ZM437.4 335.6L438.3 340.0L443.0 339.4L443.5 334.7ZM444.8 333.2L445.1 333.1L449.0 336.8L448.7 340.1L448.3 340.6L444.2 340.6L443.0 339.4L443.5 334.7ZM448.7 340.1L454.3 340.3L454.9 336.1L454.6 335.4L453.0 334.9L449.0 336.8ZM461.7 339.5L461.0 338.2L454.9 336.1L454.3 340.3L454.5 340.7L458.1 341.9L461.7 339.5ZM431.7 341.5L432.5 345.2L431.4 346.5L427.4 346.8L426.3 345.3L428.2 341.2ZM438.0 340.5L438.9 345.4L437.2 346.8L432.5 345.2L431.7 341.5L432.1 341.1ZM438.0 340.5L438.9 345.4L442.7 345.8L442.8 345.7L444.2 340.6L443.0 339.4L438.3 340.0ZM475.6 342.6L474.0 346.7L470.6 346.7L468.8 341.7L470.3 339.4L470.8 339.1L474.6 340.4ZM427.4 346.8L426.6 350.6L425.5 351.4L422.9 351.4L421.8 345.5L422.1 345.1L426.3 345.3ZM427.4 346.8L426.6 350.6L431.6 351.3L431.4 346.5ZM432.5 345.2L437.2 346.8L436.9 350.9L431.9 351.6L431.6 351.3L431.4 346.5ZM437.2 346.8L436.9 350.9L437.9 352.1L443.4 351.5L442.7 345.8L438.9 345.4ZM443.4 351.5L444.5 352.4L448.1 351.9L448.4 346.1L442.8 345.7L442.7 345.8ZM464.4 352.3L468.6 350.9L469.2 347.7L464.0 345.8L463.7 351.8ZM470.6 352.8L468.6 350.9L469.2 347.7L470.6 346.7L474.0 346.7L475.7 349.5L475.3 350.7ZM422.6 351.7L422.9 351.4L425.5 351.4L427.9 356.2L427.2 357.4L422.9 358.0L421.9 356.9ZM437.9 352.1L437.5 357.8L440.7 358.8L443.2 358.0L444.5 352.4L443.4 351.5ZM450.5 358.8L448.0 360.4L443.2 358.0L444.5 352.4L448.1 351.9L448.2 351.9ZM454.0 351.4L453.7 351.0L448.2 351.9L450.5 358.8L452.0 358.8L453.7 356.8ZM458.9 356.0L453.7 356.8L454.0 351.4L459.2 353.0ZM458.9 356.0L459.2 353.0L460.0 352.2L463.7 351.8L464.4 352.3L465.3 356.0L464.0 357.9L459.3 356.6ZM465.3 356.0L469.6 356.4L470.4 355.9L470.6 352.8L468.6 350.9L464.4 352.3ZM458.9 356.0L453.7 356.8L452.0 358.8L455.4 362.3L458.2 362.1L459.3 356.6ZM474.4 357.1L473.7 362.5L472.2 363.6L469.2 362.1L469.6 356.4L470.4 355.9ZM474.4 357.1L473.7 362.5L479.3 362.6L480.1 359.1L478.5 356.4L476.5 355.8ZM527.4 220.1L521.9 221.3L521.1 220.5L521.3 219.1L525.0 217.4L527.4 220.1ZM521.9 221.3L522.8 224.3L522.1 225.2L517.8 225.3L517.2 224.8L517.2 221.9L521.1 220.5ZM527.4 220.1L521.9 221.3L522.8 224.3L525.8 224.8ZM517.4 229.9L513.7 229.3L513.1 228.5L513.1 226.6L517.2 224.8L517.8 225.3L518.5 228.7ZM522.5 229.5L525.9 228.9L526.2 225.2L525.8 224.8L522.8 224.3L522.1 225.2L522.1 229.1ZM517.4 229.9L513.7 229.3L513.7 233.5L517.7 233.5L518.1 233.1ZM517.4 229.9L518.1 233.1L521.5 233.0L522.2 232.5L522.5 229.5L522.1 229.1L518.5 228.7ZM522.5 229.5L525.9 228.9L526.6 229.3L527.1 232.9L525.9 234.1L522.2 232.5ZM530.3 228.7L526.6 229.3L527.1 232.9L530.0 232.9ZM502.4 234.0L500.6 232.9L497.6 235.4L498.6 237.2L502.1 237.2ZM517.7 233.5L517.7 235.9L514.8 237.5L513.4 236.6L513.4 233.8L513.7 233.5ZM530.0 232.9L527.1 232.9L525.9 234.1L526.0 236.6L529.7 237.3L530.5 236.8L530.8 233.5ZM489.6 238.4L490.3 241.0L494.4 240.6L494.5 240.5L494.0 238.3L491.5 236.9ZM494.0 238.3L494.5 240.5L497.8 240.3L498.6 237.2L497.6 235.4L496.4 234.9ZM502.6 237.7L502.1 237.2L498.6 237.2L497.8 240.3L499.9 242.7L501.0 242.6L503.1 239.7ZM502.6 237.7L506.6 236.0L506.6 236.0L507.2 239.5L506.0 240.4L503.1 239.7ZM507.2 239.5L510.2 240.1L510.3 240.0L511.1 237.8L509.2 235.5L506.6 236.0ZM510.3 240.0L513.7 241.6L515.4 240.1L514.8 237.5L513.4 236.6L511.1 237.8ZM517.7 235.9L514.8 237.5L515.4 240.1L517.8 240.5L518.9 237.2ZM521.5 240.5L521.6 237.2L525.5 237.3L525.6 240.2L522.1 241.2ZM538.3 236.2L536.5 240.3L533.9 239.9L533.2 237.8L534.8 235.7ZM486.5 246.1L490.9 244.9L490.1 241.3L486.5 242.2L485.7 244.6ZM494.3 243.9L494.4 240.6L490.3 241.0L490.1 241.3L490.9 244.9L491.1 245.1ZM494.3 243.9L494.4 240.6L494.5 240.5L497.8 240.3L499.9 242.7L499.8 242.8L495.4 244.9ZM503.1 239.7L501.0 242.6L503.0 244.2L506.1 243.3L506.0 240.4ZM507.2 239.5L510.2 240.1L509.2 243.4L506.8 243.9L506.1 243.3L506.0 240.4ZM510.5 244.8L513.8 244.3L513.7 241.6L510.3 240.0L510.2 240.1L509.2 243.4ZM513.7 241.6L513.8 244.3L513.8 244.4L517.5 245.0L518.4 243.9L518.0 240.7L517.8 240.5L515.4 240.1ZM525.8 244.3L522.1 244.3L522.0 244.1L522.1 241.2L525.6 240.2L526.4 241.2L526.4 243.9ZM526.4 243.9L526.4 241.2L529.6 240.4L532.0 242.2L531.9 243.7L529.7 245.2ZM537.4 243.7L534.0 245.0L531.9 243.7L532.0 242.2L533.9 239.9L536.5 240.3L537.5 241.5ZM545.0 244.2L544.4 244.4L542.3 243.9L541.2 240.6L541.5 240.0L544.8 239.5L545.7 240.5ZM495.8 247.3L495.4 244.9L499.8 242.8L499.1 248.0L499.0 248.1ZM503.5 248.2L503.0 244.2L501.0 242.6L499.9 242.7L499.8 242.8L499.1 248.0L503.4 248.3ZM503.5 248.2L503.0 244.2L506.1 243.3L506.8 243.9L506.8 247.1L504.9 248.2ZM510.5 244.8L513.8 244.3L513.8 244.4L513.5 248.8L509.9 248.3L509.6 247.8ZM517.4 249.0L518.1 248.3L517.5 245.0L513.8 244.4L513.5 248.8L513.9 249.2ZM518.1 248.3L517.5 245.0L518.4 243.9L522.0 244.1L522.1 244.3L521.7 248.7ZM525.2 248.4L525.8 244.3L522.1 244.3L521.7 248.7L521.7 248.7ZM526.4 249.2L525.2 248.4L525.8 244.3L526.4 243.9L529.7 245.2L529.5 248.4ZM481.1 248.2L479.8 252.1L480.1 252.6L483.4 253.2L483.7 252.9L483.5 249.0ZM486.3 247.5L487.3 248.7L487.3 252.3L486.6 252.7L483.7 252.9L483.5 249.0ZM495.0 248.0L491.9 247.7L490.9 249.1L491.7 252.0L494.4 252.5L494.8 252.1ZM495.0 248.0L494.8 252.1L498.5 251.6L499.0 248.1L495.8 247.3ZM503.5 248.2L504.9 248.2L507.7 252.2L504.5 254.6L502.8 252.3L503.4 248.3ZM504.9 248.2L506.8 247.1L509.6 247.8L509.9 248.3L508.8 252.0L507.7 252.2ZM508.8 252.0L509.9 248.3L513.5 248.8L513.9 249.2L513.3 251.9L508.8 252.1ZM517.9 253.7L517.4 249.0L513.9 249.2L513.3 251.9L514.7 254.9L514.9 255.0L517.5 254.4ZM529.7 253.4L528.9 254.2L526.1 251.9L526.4 249.2L529.5 248.4L529.7 248.6ZM476.9 251.1L474.4 253.6L474.2 254.3L474.9 255.2L478.9 255.2L480.1 252.6L479.8 252.1ZM479.8 256.6L478.9 255.2L480.1 252.6L483.4 253.2L483.4 256.0L482.8 256.6ZM487.1 257.0L486.6 252.7L483.7 252.9L483.4 253.2L483.4 256.0L487.0 257.2ZM490.3 253.1L487.3 252.3L486.6 252.7L487.1 257.0L490.2 255.8ZM491.7 252.0L494.4 252.5L495.0 255.5L492.2 257.5L490.2 255.8L490.3 253.1ZM502.8 252.3L499.2 252.3L498.9 256.2L501.7 257.1L504.4 255.4L504.5 254.6ZM508.8 252.1L513.3 251.9L514.7 254.9L510.6 256.3ZM478.6 260.8L475.1 259.9L474.9 255.2L478.9 255.2L479.8 256.6ZM543.9 253.4L541.7 251.2L542.3 249.1L544.1 248.4L546.1 249.4L546.8 251.9ZM504.5 254.6L504.4 255.4L506.3 257.2L510.5 256.5L510.6 256.3L508.8 252.1L508.8 252.0L507.7 252.2ZM523.1 253.1L522.0 252.1L517.9 253.7L517.5 254.4L520.6 257.8L522.8 256.9L523.5 255.9ZM557.6 254.4L553.4 256.3L553.3 256.3L551.2 251.9L551.3 251.8L555.1 250.0L558.0 253.3ZM478.6 260.8L479.8 256.6L482.8 256.6L483.0 261.3L483.0 261.3L478.7 260.9ZM487.0 257.2L483.4 256.0L482.8 256.6L483.0 261.3L487.0 260.1ZM490.2 255.8L487.1 257.0L487.0 257.2L487.0 260.1L488.3 261.0L491.6 261.1L492.1 260.8L492.2 257.5ZM492.2 257.5L492.1 260.8L496.6 261.6L497.4 256.8L495.0 255.5ZM501.7 260.8L501.7 257.1L498.9 256.2L497.4 256.8L496.6 261.6L496.6 261.6L501.0 261.6ZM501.7 260.8L506.5 261.0L506.3 257.2L504.4 255.4L501.7 257.1ZM509.9 261.2L511.1 260.1L510.5 256.5L506.3 257.2L506.5 261.0L506.5 261.0ZM517.5 254.4L514.9 255.0L515.3 259.9L519.5 260.4L520.6 257.8ZM528.7 261.5L527.6 260.9L528.7 256.2L533.1 257.6L533.4 260.1L532.5 261.1ZM533.1 257.6L534.7 255.8L538.2 256.4L538.0 261.1L533.4 260.1ZM543.3 255.6L542.4 256.3L543.1 261.0L543.1 261.0L547.0 260.8L548.4 259.6L548.5 258.5L548.0 257.2ZM472.9 264.9L473.5 265.8L477.7 266.3L478.2 265.8L478.7 260.9L478.6 260.8L475.1 259.9L475.0 260.0ZM478.7 260.9L478.2 265.8L482.6 266.7L483.7 265.7L483.0 261.3ZM488.3 261.0L487.0 265.9L486.8 266.1L483.7 265.7L483.0 261.3L483.0 261.3L487.0 260.1ZM501.0 261.6L502.4 265.8L502.0 266.1L496.6 266.2L496.6 261.6ZM501.7 260.8L506.5 261.0L506.5 261.0L505.8 265.7L505.6 265.8L502.4 265.8L501.0 261.6ZM509.9 261.2L510.9 265.4L505.8 265.7L506.5 261.0ZM514.3 265.2L511.6 265.9L510.9 265.4L509.9 261.2L511.1 260.1L514.4 260.7L514.5 265.0ZM518.4 264.9L514.5 265.0L514.4 260.7L515.3 259.9L519.5 260.4L519.8 261.1ZM524.4 263.1L519.8 261.1L518.4 264.9L519.8 266.8L524.2 265.2ZM472.9 264.9L473.5 265.8L472.6 268.9L468.5 270.0L466.0 266.9L469.9 264.1ZM477.5 270.8L474.6 271.6L472.6 268.9L473.5 265.8L477.7 266.3L477.7 270.5ZM482.2 270.4L482.5 270.0L482.6 266.7L478.2 265.8L477.7 266.3L477.7 270.5ZM491.3 269.9L491.5 266.0L487.0 265.9L486.8 266.1L487.8 270.4ZM491.3 269.9L491.5 266.0L491.6 265.9L496.4 266.4L496.4 270.1L491.5 270.1ZM496.6 266.2L502.0 266.1L501.3 270.2L500.7 270.6L496.6 270.4L496.4 270.1L496.4 266.4ZM510.9 265.4L511.6 265.9L510.8 270.5L506.7 270.2L505.6 265.8L505.8 265.7ZM519.8 266.8L519.5 269.4L518.6 270.4L516.2 270.5L514.3 265.2L514.5 265.0L518.4 264.9ZM524.2 265.2L519.8 266.8L519.5 269.4L524.4 270.3L526.3 268.3ZM472.6 274.9L473.6 274.2L474.6 271.6L472.6 268.9L468.5 270.0L468.2 273.7L469.3 275.0ZM478.4 276.4L479.3 275.2L477.5 270.8L474.6 271.6L473.6 274.2ZM487.2 274.5L484.0 275.3L482.4 274.2L482.2 270.4L482.5 270.0L487.4 270.8ZM487.2 274.5L487.4 270.8L487.8 270.4L491.3 269.9L491.5 270.1L491.9 274.7L488.3 275.3ZM491.9 274.7L494.2 275.8L496.1 273.8L496.6 270.4L496.4 270.1L491.5 270.1ZM501.0 275.0L500.7 275.4L496.1 273.8L496.6 270.4L500.7 270.6ZM505.5 271.5L501.3 270.2L500.7 270.6L501.0 275.0L505.4 274.0ZM515.0 275.7L511.5 277.0L510.4 276.3L510.9 270.6L515.1 271.2ZM517.9 276.8L515.0 275.7L515.1 271.2L516.2 270.5L518.6 270.4L520.5 275.6ZM474.2 279.7L472.6 274.9L473.6 274.2L478.4 276.4L478.3 277.9L475.4 280.1ZM483.5 279.3L484.0 275.3L482.4 274.2L479.3 275.2L478.4 276.4L478.3 277.9L481.1 280.1ZM487.2 274.5L484.0 275.3L483.5 279.3L485.2 280.4L488.5 278.6L488.3 275.3ZM488.3 275.3L488.5 278.6L490.6 280.3L494.2 275.8L494.2 275.8L491.9 274.7ZM500.7 275.4L496.1 273.8L494.2 275.8L494.2 275.8L496.5 279.1L500.6 277.2ZM506.0 278.2L501.7 278.5L500.6 277.2L500.7 275.4L501.0 275.0L505.4 274.0L507.1 276.5ZM581.0 287.6L580.9 280.7L579.3 279.9L573.7 283.5L574.2 285.2ZM589.3 381.7L589.9 375.7L593.6 375.9L596.4 378.9L592.4 382.9ZM533.6 335.1L530.4 331.6L530.0 331.6L527.1 337.3L530.0 339.1L533.5 337.3ZM566.1 286.9L567.6 283.0L572.6 282.7L573.7 283.5L574.2 285.2L572.7 289.1L571.0 289.8ZM607.8 216.8L606.4 218.8L607.2 220.8L609.7 221.8L611.1 220.7L610.8 216.4ZM569.5 293.7L573.1 297.2L574.0 297.1L576.3 292.1L572.7 289.1L571.0 289.8ZM578.2 172.9L580.7 176.9L579.7 180.5L578.8 180.8L574.2 178.9L575.1 172.5L576.2 172.2ZM596.0 181.9L598.6 178.3L594.4 174.5L592.0 175.5L589.9 180.4L590.3 180.8ZM593.1 395.4L589.4 390.9L589.4 390.2L593.9 386.8L596.7 387.5L597.8 389.1L597.8 391.4ZM596.6 378.9L599.6 382.9L614.2 382.3L610.9 375.8L602.1 374.7ZM488.1 361.8L481.8 366.0L481.5 366.0L479.3 362.6L480.1 359.1L484.7 358.4ZM361.7 400.0L362.3 400.6L362.5 404.5L356.5 409.7L355.3 401.6L358.6 399.4ZM562.4 354.4L560.3 351.6L556.5 352.2L554.2 356.8L554.2 356.9L557.0 358.8L560.6 358.3ZM332.3 360.0L335.2 366.4L323.5 375.6L321.6 375.9L320.9 375.0L326.2 361.5ZM472.2 363.6L472.2 365.1L477.3 370.4L481.5 366.0L479.3 362.6L473.7 362.5ZM564.3 234.4L562.9 235.5L562.5 239.1L565.9 239.4L567.5 236.7ZM621.4 223.0L624.9 223.6L627.8 221.3L625.8 216.2L622.0 218.2ZM559.5 338.1L560.2 338.6L558.6 344.4L555.8 344.6L553.2 342.1L552.8 339.9L554.6 338.3ZM412.3 371.9L410.5 364.8L406.0 365.1L404.0 369.1L409.3 374.9L409.8 374.8ZM587.6 237.6L589.7 236.4L590.0 235.4L587.1 231.5L584.4 234.5L585.5 237.3ZM587.2 341.7L582.3 338.5L579.0 342.9L582.7 346.6L586.7 345.0ZM565.9 239.4L566.9 241.1L565.8 243.5L562.9 242.7L562.4 239.1L562.5 239.1ZM550.5 355.1L554.2 356.8L556.5 352.2L554.1 348.7L550.0 349.6ZM523.6 346.4L523.8 353.5L522.0 355.0L517.7 350.3L520.1 346.5ZM587.0 368.4L583.1 370.5L583.4 376.1L589.2 375.2L589.3 370.2ZM586.7 282.7L589.1 279.0L591.6 278.8L592.2 279.2L593.6 283.2L591.2 285.9L590.8 286.0L587.0 283.8ZM590.9 218.4L593.2 219.7L596.1 217.2L596.3 215.6L595.0 213.7L593.6 213.4L590.7 215.0ZM560.3 351.6L556.5 352.2L554.1 348.7L555.8 344.6L558.6 344.4L561.9 346.3L562.1 347.1ZM604.0 283.1L607.8 285.2L605.3 292.1L600.2 287.4L603.4 283.2ZM623.2 206.7L627.4 200.9L629.9 201.0L631.3 203.4L630.2 208.7L629.0 209.1ZM518.2 122.2L520.1 117.9L524.3 117.4L526.5 119.2L523.2 125.3L520.5 125.2ZM563.0 360.8L561.5 364.6L565.8 367.8L568.2 363.6L566.3 360.5ZM593.6 375.9L596.7 369.7L594.4 368.7L589.3 370.2L589.2 375.2L589.9 375.7ZM603.6 194.7L604.4 196.3L610.1 198.1L611.5 197.5L612.5 195.8L608.4 190.5L604.7 191.3ZM586.3 406.7L587.6 406.9L588.4 414.0L578.7 413.6L580.0 410.6ZM591.2 285.9L594.9 290.5L595.9 290.6L598.9 287.5L596.4 283.5L593.6 283.2ZM603.7 236.8L603.6 240.3L607.2 242.0L608.5 237.5L604.3 236.4ZM584.4 318.5L585.2 319.3L585.7 321.5L583.3 325.4L577.7 325.6L577.0 323.4L580.8 318.8ZM496.3 175.7L493.7 173.3L495.4 168.0L496.9 167.6L499.7 171.7L497.6 175.7ZM427.2 357.4L422.9 358.0L422.5 362.9L427.0 365.4L428.5 364.9L429.5 361.9ZM589.1 279.0L591.6 278.8L591.8 274.2L590.4 272.9L585.5 275.0L585.5 275.6ZM493.9 137.8L497.9 138.3L499.2 142.5L498.1 144.3L494.4 143.8L492.8 140.0ZM628.7 254.0L629.7 256.0L640.4 259.8L640.7 259.5L632.2 249.6L628.9 252.2ZM374.5 410.5L381.3 413.0L389.4 425.2L387.9 433.3L374.4 446.3L369.9 414.1ZM533.5 142.9L534.5 145.6L540.7 147.1L542.9 144.1L539.8 138.9L536.2 138.0L535.9 138.1ZM587.0 368.4L586.8 364.8L590.5 362.3L592.3 362.4L594.4 368.7L589.3 370.2ZM600.5 397.2L604.4 399.6L603.5 403.8L601.6 404.5L596.6 399.9L596.6 399.8ZM596.1 217.2L599.1 219.5L598.7 222.1L597.6 222.6L593.6 221.4L593.2 219.7ZM578.0 165.2L576.2 172.2L578.2 172.9L582.4 170.6L582.6 166.6L578.1 165.2ZM512.4 107.7L506.2 108.3L505.0 110.0L505.3 112.4L507.1 114.2L509.7 114.3L512.8 111.2ZM613.3 226.5L614.3 231.5L611.1 231.9L609.1 228.9ZM583.2 239.9L586.2 243.3L587.1 243.4L588.6 242.2L587.6 237.6L585.5 237.3L583.2 239.5ZM574.3 394.3L569.5 391.9L563.5 400.8L572.5 399.2ZM579.3 368.7L583.1 370.5L583.4 376.1L582.8 376.7L581.0 377.0L576.5 374.1ZM510.6 331.6L507.0 330.9L506.2 331.3L504.4 336.0L508.5 337.9L510.1 337.2ZM653.6 122.7L647.9 125.1L647.7 125.7L652.5 130.8L655.5 126.1ZM633.9 141.4L630.6 142.8L629.7 144.5L630.8 148.7L634.3 149.7L636.8 145.9L635.0 141.7ZM565.6 354.3L567.6 350.1L562.1 347.1L560.3 351.6L562.4 354.4ZM492.6 344.3L493.2 346.8L489.6 351.0L485.7 348.3L487.6 344.3L491.9 343.8ZM567.5 236.7L565.9 239.4L566.9 241.1L570.0 241.1L570.6 237.0L569.6 236.3ZM587.0 283.8L590.8 286.0L587.8 290.4L586.7 290.6L583.0 288.0ZM571.5 341.0L575.1 340.0L577.7 342.9L574.8 346.9L570.5 345.7L570.2 345.0ZM488.1 361.8L481.8 366.0L491.3 375.8L491.2 364.2L488.1 361.8ZM321.8 355.0L326.2 361.5L320.9 375.0L314.1 370.9L317.2 356.4L317.8 355.7ZM573.1 259.7L571.8 259.9L568.6 264.0L571.8 266.7L574.1 265.6L575.0 261.7ZM586.7 382.8L589.3 381.7L592.4 382.9L593.9 386.8L589.4 390.2L587.0 388.0ZM293.9 119.8L294.7 124.9L304.8 124.8L308.1 120.9L305.8 112.5L301.2 110.9ZM590.7 215.0L593.6 213.4L591.7 208.4L588.1 210.4L587.9 213.3ZM525.1 345.3L523.6 346.4L523.8 353.5L527.3 353.0L529.3 349.6L525.6 345.4ZM523.2 125.3L526.5 119.2L529.5 119.2L532.2 121.7L531.2 128.4L523.6 125.9ZM481.8 366.0L491.3 375.8L492.2 378.5L486.6 380.8L476.3 376.9L477.3 370.4L481.5 366.0ZM646.0 99.8L647.9 100.9L647.7 104.3L642.7 107.8L641.3 107.1L641.2 102.2ZM584.4 318.5L584.2 314.5L580.8 311.6L577.8 314.6L578.3 317.3L580.8 318.8ZM575.2 394.0L576.7 391.9L581.6 391.6L583.8 395.0L579.6 397.6ZM632.4 135.2L626.6 137.0L626.4 137.7L630.6 142.8L633.9 141.4ZM675.1 96.6L676.6 97.8L684.5 98.6L685.4 93.1L681.3 89.7ZM512.3 345.4L512.2 347.5L515.7 350.4L517.7 350.3L520.1 346.5L517.9 343.7ZM567.9 245.3L569.6 248.2L568.8 249.5L565.7 250.0L564.3 247.6L566.4 245.0ZM577.3 326.4L578.4 330.6L583.8 332.8L585.4 331.8L583.3 325.4L577.7 325.6ZM583.1 213.1L582.2 209.4L580.3 209.1L578.6 210.0L577.9 215.4L578.3 215.6L581.0 215.3ZM464.3 360.9L466.0 362.5L463.8 369.0L461.2 369.0L458.7 362.5ZM577.7 227.8L577.6 227.9L579.3 232.9L580.8 233.3L581.0 233.3L582.9 229.7L581.5 227.4ZM603.8 190.1L604.7 191.3L603.6 194.7L598.8 195.4L596.5 193.4L598.2 189.1ZM563.2 376.1L568.2 375.2L571.0 380.0L567.0 382.9L564.2 381.9L562.6 376.8ZM429.5 361.9L428.5 364.9L436.2 369.6L435.8 358.6L434.9 358.5ZM589.9 225.6L586.7 227.7L584.2 224.6L588.3 222.9L590.1 224.5ZM381.0 406.0L381.3 413.0L389.4 425.2L397.4 410.0L384.9 402.6ZM584.2 314.5L588.6 310.3L587.9 308.8L582.6 307.1L580.9 308.5L580.7 311.3L580.8 311.6ZM598.9 287.5L595.9 290.6L601.3 299.3L605.7 293.8L605.3 292.1L600.2 287.4ZM614.2 275.8L621.5 283.9L616.8 286.1L611.4 284.0L610.0 279.1ZM600.8 394.5L618.3 386.8L617.6 386.3L597.8 389.1L597.8 391.4ZM513.2 338.7L512.0 344.9L512.3 345.4L517.9 343.7L518.9 339.0L517.0 337.6ZM399.6 370.0L404.0 369.1L409.3 374.9L407.5 376.8L401.6 377.6ZM602.1 159.7L598.6 157.5L595.9 158.7L594.1 162.5L595.0 164.2L599.2 165.4L602.3 161.7ZM617.5 215.3L616.2 216.2L611.9 215.4L610.7 211.2L613.4 208.5L615.7 209.2L618.0 213.9ZM578.0 165.2L574.3 163.9L570.8 167.8L572.8 171.8L575.1 172.5L576.2 172.2ZM567.0 382.9L568.1 388.8L558.6 390.4L557.1 387.1L564.2 381.9ZM565.2 343.3L561.9 346.3L562.1 347.1L567.6 350.1L568.3 349.9L570.5 345.7L570.2 345.0ZM555.9 375.2L557.0 369.4L562.5 371.0L563.2 376.1L562.6 376.8L557.2 377.1ZM601.5 262.3L601.7 259.7L604.3 258.2L606.3 258.9L607.7 262.5L607.0 263.8L606.5 264.1ZM472.2 363.6L472.2 365.1L467.2 371.5L463.8 369.0L466.0 362.5L469.2 362.1ZM679.8 79.5L683.5 83.9L681.0 88.8L672.3 85.6ZM504.0 295.2L501.1 292.2L501.9 287.9L506.6 288.8L506.5 293.1ZM582.4 170.6L585.7 173.0L584.6 175.7L580.7 176.9L578.2 172.9ZM436.2 369.6L435.8 358.6L437.5 357.8L440.7 358.8L441.3 366.1L436.6 370.1ZM575.7 333.0L575.3 335.3L575.9 336.2L581.9 336.5L583.8 332.8L578.4 330.6ZM568.0 357.2L571.7 356.8L574.6 359.2L572.2 363.6L568.2 363.6L566.3 360.5ZM612.9 247.2L614.2 249.9L618.2 249.8L619.6 247.5L618.8 244.5L617.1 243.2L616.8 243.3ZM452.0 358.8L455.4 362.3L451.6 370.7L447.1 365.4L448.0 360.4L450.5 358.8ZM616.5 168.1L613.4 162.8L615.1 161.0L621.2 162.2L621.6 163.1L620.6 166.2L617.2 168.4ZM579.4 291.4L582.2 296.3L581.3 297.8L575.4 298.0L574.0 297.1L576.3 292.1ZM527.1 337.3L524.1 337.7L523.1 338.6L525.1 345.3L525.6 345.4L530.6 342.8L530.0 339.1ZM565.6 271.0L565.2 272.0L557.9 271.3L557.7 270.8L561.1 265.8L565.1 269.1ZM577.2 239.2L575.1 239.8L571.9 236.9L574.9 233.8L576.2 234.2L577.3 239.0ZM596.1 217.2L599.1 219.5L602.2 217.8L602.1 216.4L600.2 214.5L596.3 215.6ZM565.7 250.0L565.1 251.8L562.0 253.0L560.4 252.5L561.0 248.3L562.4 247.3L564.3 247.6ZM622.9 264.7L626.2 268.6L631.9 266.1L626.7 259.9L624.4 259.6ZM565.1 339.6L562.9 338.2L560.2 338.6L558.6 344.4L561.9 346.3L565.2 343.3ZM572.4 276.1L573.6 275.1L573.5 272.3L571.3 269.6L565.6 271.0L565.2 272.0L565.5 274.3L567.2 276.2ZM618.0 213.9L622.1 211.5L622.8 206.8L620.7 205.8L615.7 209.2ZM581.2 287.9L583.0 288.0L586.7 290.6L584.8 295.7L582.2 296.3L579.4 291.4ZM663.0 136.1L667.8 140.8L663.2 145.0L662.8 144.9L660.0 138.4ZM592.0 352.2L596.6 354.4L598.2 358.2L592.3 362.4L590.5 362.3L588.0 357.5ZM592.9 253.2L590.7 256.9L591.6 258.5L595.7 259.3L597.6 257.3L595.1 253.4ZM568.3 349.9L570.5 345.7L574.8 346.9L576.2 350.2L572.1 352.7ZM611.1 231.9L614.3 231.5L614.9 231.9L613.4 237.0L612.1 237.5L610.0 236.7L609.6 234.1ZM590.2 263.0L587.6 263.5L587.8 268.8L590.4 269.8L591.7 269.0L591.9 264.2ZM595.0 213.7L597.0 211.0L600.4 211.6L600.2 214.5L596.3 215.6ZM455.5 328.5L456.5 324.1L454.6 321.7L453.8 321.5L450.5 325.5L453.0 328.6ZM626.3 215.1L626.4 215.0L629.0 209.1L623.2 206.7L622.8 206.8L622.1 211.5ZM502.4 341.3L506.3 343.0L504.3 349.1L500.1 348.9L499.8 343.1ZM523.8 353.5L527.3 353.0L531.5 357.0L531.2 361.0L526.1 362.6L521.7 356.2L522.0 355.0ZM487.6 344.3L485.7 348.3L481.9 348.9L481.0 343.6L485.3 341.8ZM475.8 125.7L474.6 120.5L477.0 118.3L480.4 118.4L481.3 124.4L480.9 124.9ZM609.7 243.2L607.6 242.7L607.2 242.0L608.5 237.5L610.0 236.7L612.1 237.5L612.2 241.2ZM375.0 405.1L374.5 410.5L369.9 414.1L367.2 411.4L367.3 407.1L369.1 405.1ZM533.4 349.0L533.5 349.1L534.8 353.1L531.5 357.0L527.3 353.0L529.3 349.6ZM572.6 282.7L572.4 276.1L567.2 276.2L566.3 281.1L567.6 283.0ZM579.3 402.5L579.2 402.3L575.6 402.6L566.7 415.7L566.8 417.9L569.2 420.6L578.7 413.6L580.0 410.6ZM572.5 399.2L563.5 400.8L562.2 401.6L566.7 415.7L575.6 402.6ZM619.7 226.9L621.3 223.0L621.4 223.0L624.9 223.6L626.9 228.1L625.0 230.3L622.6 230.3ZM585.8 258.7L587.5 263.5L587.6 263.5L590.2 263.0L591.6 258.5L590.7 256.9L588.1 256.6ZM517.9 343.7L520.1 346.5L523.6 346.4L525.1 345.3L523.1 338.6L518.9 339.0ZM633.9 112.3L629.2 108.8L626.4 113.6L628.8 118.1L629.7 118.5L632.7 116.9ZM555.1 250.0L551.3 251.8L549.6 247.4L552.6 245.3L555.2 249.4ZM634.2 103.7L629.0 108.0L629.2 108.8L633.9 112.3L636.0 111.4L638.0 107.7ZM357.2 394.4L358.6 399.4L355.3 401.6L346.2 398.0L346.5 396.9L355.9 393.4ZM652.5 130.8L652.5 131.6L646.0 133.8L643.8 132.0L644.3 127.7L647.7 125.7ZM574.6 359.2L572.2 363.6L573.7 366.8L578.8 367.3L580.3 363.8L575.8 359.0ZM572.5 380.2L576.1 374.2L576.5 374.1L581.0 377.0L578.7 381.0L574.1 381.7ZM557.2 377.1L562.6 376.8L564.2 381.9L557.1 387.1L554.7 385.0ZM598.4 239.4L600.2 235.6L599.7 234.7L599.0 234.3L595.1 235.3L594.8 238.1ZM581.0 384.3L578.7 381.0L581.0 377.0L582.8 376.7L585.7 382.3ZM603.6 276.4L599.5 280.1L599.3 280.1L597.2 277.3L597.3 275.8L602.2 273.3L602.3 273.3ZM608.7 273.8L607.8 277.6L610.0 279.1L614.2 275.8L614.3 273.3L613.4 272.6ZM596.7 369.7L594.4 368.7L592.3 362.4L598.2 358.2L603.6 361.4L596.9 369.7ZM458.2 362.1L455.4 362.3L451.6 370.7L452.1 372.9L454.0 373.6L461.2 369.0L458.7 362.5ZM617.6 386.3L614.2 382.3L599.6 382.9L596.7 387.5L597.8 389.1ZM617.5 215.3L622.0 218.2L625.8 216.2L626.3 215.1L622.1 211.5L618.0 213.9ZM336.4 366.7L335.2 366.4L323.5 375.6L337.2 377.4L339.1 370.5ZM601.6 404.5L600.0 407.4L601.1 411.0L632.6 419.9L603.5 403.8ZM538.3 180.3L541.1 176.2L539.1 174.2L533.9 177.4L534.1 177.7ZM573.7 366.8L571.0 371.1L576.1 374.2L576.5 374.1L579.3 368.7L578.8 367.3ZM609.8 223.9L607.3 226.0L604.9 223.4L607.2 220.8L609.7 221.8ZM412.3 371.9L410.5 364.8L410.8 364.5L416.5 362.8L418.4 364.2L418.5 371.2ZM583.0 356.5L584.3 352.3L591.3 351.2L592.0 352.2L588.0 357.5L584.0 357.6ZM413.6 280.3L415.4 283.4L419.6 282.8L420.5 279.2L417.3 275.3L416.8 275.5ZM517.9 276.8L517.0 282.2L517.8 282.9L521.5 282.0L522.6 280.8L521.2 275.7L520.5 275.6ZM547.9 332.8L550.0 334.5L549.9 338.0L545.7 339.1L544.7 334.5ZM583.2 267.9L585.9 269.5L587.8 268.8L587.6 263.5L587.5 263.5L584.4 264.2ZM502.2 337.3L502.7 336.7L504.4 336.0L508.5 337.9L507.0 342.7L506.3 343.0L502.4 341.3ZM587.2 230.7L587.1 231.5L590.0 235.4L592.8 233.4L590.7 230.1ZM583.2 239.9L580.7 243.3L582.8 246.0L586.2 243.3ZM613.4 208.5L612.5 205.6L614.8 202.4L618.8 202.0L620.7 205.8L615.7 209.2ZM572.6 282.7L572.4 276.1L573.6 275.1L577.9 276.5L579.3 279.9L573.7 283.5ZM619.5 264.2L617.3 266.2L619.6 271.4L625.6 269.4L626.2 268.6L622.9 264.7ZM393.6 372.1L396.7 378.5L400.9 378.3L401.6 377.6L399.6 370.0L398.8 369.6L393.8 370.9ZM580.9 280.7L579.3 279.9L577.9 276.5L580.8 273.1L584.8 274.2L585.5 275.0L585.5 275.6L582.1 280.3ZM545.0 244.2L544.4 244.4L544.1 248.4L546.1 249.4L548.5 247.2L547.0 244.7ZM647.7 104.3L650.7 107.6L648.2 111.1L643.6 109.9L642.7 107.8ZM380.4 393.8L383.4 389.1L385.6 388.8L389.2 394.5L384.1 399.5L382.8 398.7ZM581.0 287.6L580.9 280.7L582.1 280.3L586.7 282.7L587.0 283.8L583.0 288.0L581.2 287.9ZM512.3 345.4L512.2 347.5L507.3 351.4L504.3 349.1L506.3 343.0L507.0 342.7L512.0 344.9ZM603.0 253.4L601.2 253.6L598.8 257.2L601.7 259.7L604.3 258.2L604.1 254.5ZM574.4 386.1L576.2 387.5L576.7 391.9L575.2 394.0L574.3 394.3L569.5 391.9L568.4 389.1ZM579.1 243.2L576.9 245.3L573.7 242.2L575.1 239.8L577.2 239.2ZM538.2 354.0L534.8 353.1L533.5 349.1L539.8 346.2L539.9 346.3L540.9 352.3ZM588.0 219.6L585.9 216.3L586.4 214.3L587.9 213.3L590.7 215.0L590.9 218.4ZM574.6 359.2L571.7 356.8L572.1 352.7L576.2 350.2L577.5 350.8L578.6 356.1L575.8 359.0ZM456.6 299.9L456.6 294.7L457.5 293.9L461.1 294.4L461.9 298.1L458.1 301.4ZM560.6 358.3L557.0 358.8L557.0 366.0L561.5 364.6L563.0 360.8ZM586.2 243.3L582.8 246.0L582.7 247.8L587.3 248.3L588.1 247.0L587.1 243.4ZM607.4 269.9L605.1 267.3L606.5 264.1L607.0 263.8L611.8 268.0L611.8 268.1ZM355.3 401.6L346.2 398.0L340.7 404.0L347.9 420.9L355.5 412.9L356.5 409.7ZM589.3 302.5L594.2 303.6L600.6 299.5L591.3 296.1L589.0 297.9L589.0 302.1ZM579.5 269.0L580.8 273.1L577.9 276.5L573.6 275.1L573.5 272.3L579.0 268.7ZM539.6 335.6L539.5 337.2L544.7 340.2L545.7 339.1L544.7 334.5L543.7 333.9ZM569.4 338.6L572.2 335.2L575.3 335.3L575.9 336.2L575.1 340.0L571.5 341.0ZM582.6 166.6L583.8 166.0L587.8 167.1L588.9 169.1L588.1 171.9L585.7 173.0L582.4 170.6ZM598.2 247.9L597.9 250.9L595.1 253.4L592.9 253.2L591.8 251.6L592.9 247.5L596.9 246.8L598.0 247.5ZM461.7 339.5L465.8 337.3L470.3 339.4L468.8 341.7L464.2 343.3L461.7 339.5ZM580.6 386.0L576.2 387.5L576.7 391.9L581.6 391.6L582.5 388.6ZM510.6 331.6L510.1 337.2L513.2 338.7L517.0 337.6L516.5 332.3L516.3 332.1L512.2 330.7ZM578.3 222.5L578.0 222.0L579.3 220.1L582.9 220.0L583.6 220.7L583.7 224.5L583.0 224.8ZM614.3 273.3L619.5 271.6L622.8 283.7L621.5 283.9L614.2 275.8ZM575.1 239.8L571.9 236.9L570.6 237.0L570.0 241.1L571.4 242.8L571.6 242.9L573.7 242.2ZM356.5 409.7L355.5 412.9L367.2 411.4L367.3 407.1L362.5 404.5ZM414.2 285.8L415.4 283.4L419.6 282.8L420.4 283.7L420.5 288.6L418.9 289.7L416.6 289.2ZM600.2 235.6L603.7 236.8L604.3 236.4L605.7 232.6L602.5 231.1L599.7 234.7ZM640.7 259.5L653.7 253.8L639.3 243.6L636.3 244.4L632.4 248.1L632.2 249.6ZM589.3 302.5L587.9 308.8L582.6 307.1L583.0 302.8L589.0 302.1ZM565.6 354.3L567.6 350.1L568.3 349.9L572.1 352.7L571.7 356.8L568.0 357.2ZM554.6 243.0L552.7 245.0L549.4 242.6L549.3 240.5L549.4 240.3L552.7 239.5ZM322.0 354.6L326.4 351.5L330.9 352.2L332.4 359.9L332.3 360.0L326.2 361.5L321.8 355.0ZM499.8 343.1L500.1 348.9L498.7 349.8L493.2 346.8L492.6 344.3L496.9 341.8ZM602.1 210.0L600.4 211.6L600.2 214.5L602.1 216.4L605.6 213.5L605.6 213.1ZM566.1 286.9L567.6 283.0L566.3 281.1L561.7 280.9L560.3 284.5L561.5 286.6L564.8 287.6ZM607.8 277.6L606.0 277.9L604.0 283.1L607.8 285.2L611.4 284.0L610.0 279.1ZM582.6 402.6L586.3 406.7L580.0 410.6L579.3 402.5ZM533.6 335.1L536.6 333.6L538.9 334.5L539.6 335.6L539.5 337.2L536.9 339.5L533.5 337.3ZM560.1 277.4L557.4 272.6L557.9 271.3L565.2 272.0L565.5 274.3ZM603.6 276.4L599.5 280.1L603.4 283.2L604.0 283.1L606.0 277.9ZM596.4 378.9L596.6 378.9L602.1 374.7L596.9 369.7L596.7 369.7L593.6 375.9ZM613.5 226.2L613.3 226.5L614.3 231.5L614.9 231.9L615.9 231.9L619.1 227.1L614.1 225.7ZM598.7 228.7L602.2 229.8L603.5 227.9L601.9 224.6L598.6 227.5ZM582.9 252.9L586.2 253.1L588.1 256.6L585.8 258.7L583.4 258.4L581.7 254.0ZM491.7 252.0L490.9 249.1L487.3 248.7L487.3 252.3L490.3 253.1ZM567.5 256.9L568.0 255.4L565.1 251.8L562.0 253.0L563.1 256.5L567.0 257.2ZM529.0 319.7L529.0 324.1L527.5 325.0L524.9 324.5L522.9 320.4L523.7 319.2L528.2 318.8ZM565.7 250.0L565.1 251.8L568.0 255.4L571.0 253.3L568.8 249.5ZM582.5 388.6L581.6 391.6L583.8 395.0L584.5 395.2L589.4 390.9L589.4 390.2L587.0 388.0ZM565.6 354.3L568.0 357.2L566.3 360.5L563.0 360.8L560.6 358.3L562.4 354.4ZM609.8 223.9L613.5 226.2L613.3 226.5L609.1 228.9L607.6 228.5L607.1 227.8L607.3 226.0ZM524.1 289.1L521.6 288.2L519.4 288.4L519.0 293.3L523.1 294.3L524.5 292.2ZM561.7 280.9L559.9 278.3L556.4 279.6L556.7 284.1L560.3 284.5ZM604.3 236.4L608.5 237.5L610.0 236.7L609.6 234.1L605.9 232.5L605.7 232.6ZM582.1 280.3L585.5 275.6L589.1 279.0L586.7 282.7ZM557.0 369.4L556.1 367.1L557.0 366.0L561.5 364.6L565.8 367.8L565.9 368.2L562.5 371.0ZM610.4 170.7L610.0 170.0L605.0 167.8L601.3 169.8L601.1 170.4L602.6 173.6L604.2 174.4L610.3 172.0ZM552.8 326.7L555.5 326.7L556.5 329.1L555.3 330.9L552.7 331.2L552.3 330.4ZM499.9 180.6L499.4 177.2L497.6 175.7L496.3 175.7L493.4 179.8L496.0 182.0L499.1 181.5ZM517.0 113.5L517.2 115.3L512.7 119.0L509.7 114.3L512.8 111.2ZM568.6 178.2L569.0 174.3L572.8 171.8L575.1 172.5L574.2 178.9L571.2 180.2ZM593.1 395.4L597.8 391.4L600.8 394.5L600.5 397.2L596.6 399.8L593.1 396.8ZM602.3 161.7L605.6 164.3L605.0 167.8L601.3 169.8L599.2 165.4ZM592.4 382.9L593.9 386.8L596.7 387.5L599.6 382.9L596.6 378.9L596.4 378.9ZM596.3 262.4L595.7 259.3L591.6 258.5L590.2 263.0L591.9 264.2L595.2 264.0ZM588.0 219.6L588.0 219.7L583.6 220.7L582.9 220.0L583.3 217.5L585.9 216.3ZM573.5 226.9L575.0 228.0L573.9 232.1L569.3 231.6L568.7 230.9L568.6 229.7ZM629.4 236.4L630.7 235.7L638.8 238.2L639.3 243.6L636.3 244.4L629.1 240.1ZM545.2 315.1L548.0 313.3L549.8 315.2L547.7 318.5L545.6 318.1ZM583.2 239.5L580.5 238.0L580.8 233.3L581.0 233.3L584.4 234.5L585.5 237.3ZM298.2 83.7L306.8 81.9L309.0 69.1L306.7 65.3L297.2 71.8L298.0 83.7ZM546.8 251.9L546.1 249.4L548.5 247.2L549.6 247.4L551.3 251.8L551.2 251.9L548.6 252.8ZM447.2 331.1L445.1 333.1L449.0 336.8L453.0 334.9L451.2 331.2ZM448.0 360.4L443.2 358.0L440.7 358.8L441.3 366.1L447.1 365.4ZM388.3 377.5L388.6 378.9L394.6 380.3L396.7 378.5L393.6 372.1ZM595.0 164.2L593.6 168.4L588.9 169.1L587.8 167.1L590.3 162.2L594.1 162.5ZM591.5 228.6L590.7 230.1L592.8 233.4L593.0 233.4L595.5 230.6L593.8 228.3ZM614.2 255.2L613.0 252.5L614.2 249.9L618.2 249.8L619.6 253.7L619.2 254.3ZM596.9 246.8L596.3 243.2L592.7 241.3L591.4 242.3L592.0 246.7L592.9 247.5ZM594.7 226.2L596.8 225.9L597.6 222.6L593.6 221.4L592.5 223.6ZM566.1 286.9L571.0 289.8L569.5 293.7L568.1 294.0L564.3 291.4L564.8 287.6ZM473.3 244.2L470.6 241.6L467.7 245.0L470.0 248.5L471.7 248.2ZM493.9 137.8L493.6 137.1L494.9 132.8L498.7 131.9L500.7 136.0L497.9 138.3ZM574.1 381.7L578.7 381.0L581.0 384.3L580.6 386.0L576.2 387.5L574.4 386.1ZM602.5 231.1L602.2 229.8L603.5 227.9L607.1 227.8L607.6 228.5L605.9 232.5L605.7 232.6ZM596.3 269.9L595.5 273.4L597.3 275.8L602.2 273.3L601.7 272.1ZM586.7 345.0L591.0 349.1L591.3 351.2L584.3 352.3L581.7 349.0L582.7 346.6ZM419.6 304.1L417.5 304.4L414.3 302.6L415.9 297.1L416.0 297.1L417.8 296.8L420.2 300.1ZM416.7 357.3L416.3 357.8L416.5 362.8L418.4 364.2L422.5 362.9L422.9 358.0L421.9 356.9ZM485.1 355.1L482.1 352.6L478.5 356.4L480.1 359.1L484.7 358.4ZM567.8 338.3L565.1 339.6L565.2 343.3L570.2 345.0L571.5 341.0L569.4 338.6ZM600.8 394.5L618.3 386.8L623.2 389.8L604.4 399.6L600.5 397.2ZM620.3 233.7L622.4 236.8L627.4 235.4L625.0 230.3L622.6 230.3ZM586.7 382.8L589.3 381.7L589.9 375.7L589.2 375.2L583.4 376.1L582.8 376.7L585.7 382.3ZM430.6 263.5L432.7 261.5L431.9 259.6L427.7 258.2L424.9 260.6L426.2 263.4ZM427.9 356.2L431.4 354.9L434.9 358.5L429.5 361.9L427.2 357.4ZM607.5 203.9L610.1 198.1L611.5 197.5L614.8 202.4L612.5 205.6ZM369.1 405.1L367.3 407.1L362.5 404.5L362.3 400.6L368.2 399.7ZM540.9 352.3L539.9 346.3L547.3 347.6L547.4 348.1L543.9 353.2ZM582.3 338.5L581.9 336.5L575.9 336.2L575.1 340.0L577.7 342.9L579.0 342.9ZM513.2 338.7L512.0 344.9L507.0 342.7L508.5 337.9L510.1 337.2ZM577.3 326.4L578.4 330.6L575.7 333.0L572.7 330.0L575.9 326.9ZM567.9 245.3L571.4 242.8L571.6 242.9L572.5 247.3L569.6 248.2ZM487.0 237.2L485.0 239.4L486.5 242.2L490.1 241.3L490.3 241.0L489.6 238.4Z" fill="#f5583a" stroke="#d2bfb9" stroke-width="0.7" stroke-linejoin="round"/>
<path d="M279.4 244.8L279.6 245.0L288.4 243.7L288.8 238.4L288.4 238.1L282.4 238.5ZM561.0 186.8L564.7 187.0L565.0 190.9L561.4 191.7L560.6 187.3ZM556.1 209.7L551.7 209.7L551.5 205.4L551.9 205.0L556.5 204.8L556.5 204.8L556.2 209.6ZM560.8 209.9L561.1 205.8L560.4 205.2L556.5 204.8L556.2 209.6ZM551.8 214.5L551.4 209.9L551.7 209.7L556.1 209.7L556.3 214.6L553.4 216.2L553.4 216.2ZM302.2 339.6L302.5 339.3L307.9 339.7L308.8 345.7L302.6 345.3L302.4 345.1ZM302.0 351.4L302.5 351.8L308.4 351.3L309.0 350.6L309.0 345.9L308.8 345.7L302.6 345.3ZM314.8 351.5L309.0 350.6L309.0 345.9L314.4 344.3L316.0 346.0ZM298.0 351.8L293.5 367.9L303.4 358.0L302.5 351.8L302.0 351.4ZM308.4 351.3L302.5 351.8L303.4 358.0L308.5 357.9L309.2 357.1ZM317.8 355.7L317.2 356.4L309.2 357.1L308.4 351.3L309.0 350.6L314.8 351.5ZM293.5 367.9L290.1 373.3L311.5 370.5L308.5 357.9L303.4 358.0ZM404.4 363.3L405.3 357.0L404.7 356.4L399.1 357.9L399.3 363.0ZM543.4 284.4L544.0 285.2L547.0 285.5L548.2 284.2L547.9 281.1L544.9 281.6ZM544.0 285.2L543.3 288.7L543.9 289.4L547.7 288.7L547.8 288.5L547.0 285.5ZM528.1 292.6L524.5 292.2L523.1 294.3L523.8 296.0L528.5 295.4ZM536.9 292.7L536.3 291.9L533.0 292.2L532.5 292.6L532.4 295.5L533.0 296.1L536.3 296.0ZM532.2 299.6L533.0 296.1L532.4 295.5L528.7 295.5L528.3 299.7L529.0 300.3ZM534.1 219.5L533.6 219.2L529.7 219.8L530.5 224.7L533.9 224.1ZM537.5 219.5L534.1 219.5L533.9 224.1L535.7 225.8L537.6 224.2ZM541.4 225.0L537.6 224.2L537.5 219.5L537.9 219.3L541.2 219.7L542.2 224.1ZM533.2 228.8L530.8 228.2L530.1 225.3L530.5 224.7L533.9 224.1L535.7 225.8L535.7 226.6ZM538.4 228.9L541.2 228.8L541.4 228.7L541.4 225.0L537.6 224.2L535.7 225.8L535.7 226.6ZM545.9 224.1L546.9 223.3L550.8 226.6L550.8 226.7L548.1 229.1L545.9 228.8ZM534.2 231.9L533.7 232.8L530.8 233.5L530.0 232.9L530.3 228.7L530.8 228.2L533.2 228.8ZM545.4 229.0L545.1 233.4L544.0 234.6L543.8 234.6L541.3 231.5L541.2 228.8L541.4 228.7ZM548.4 236.8L545.6 236.6L544.0 234.6L545.1 233.4L548.9 232.7L548.9 236.2ZM533.2 237.8L530.5 236.8L529.7 237.3L529.6 240.4L532.0 242.2L533.9 239.9ZM544.0 234.6L543.8 234.6L540.5 236.8L541.5 240.0L544.8 239.5L545.6 236.6ZM553.9 236.9L553.6 236.1L548.9 236.2L548.4 236.8L549.4 240.3L552.7 239.5ZM538.4 244.7L541.3 244.7L542.3 243.9L541.2 240.6L537.5 241.5L537.4 243.7ZM529.7 248.6L529.5 248.4L529.7 245.2L531.9 243.7L534.0 245.0L534.7 248.1L533.4 249.4ZM538.4 244.7L537.9 248.1L537.5 248.5L534.7 248.1L534.0 245.0L537.4 243.7ZM538.4 244.7L537.9 248.1L541.1 248.1L541.3 244.7ZM542.3 243.9L544.4 244.4L544.1 248.4L542.3 249.1L541.1 248.1L541.3 244.7ZM541.7 251.2L538.9 252.2L538.2 251.7L537.5 248.5L537.9 248.1L541.1 248.1L542.3 249.1ZM572.7 224.2L567.1 224.1L566.8 227.4L568.6 229.7L573.5 226.9ZM600.6 299.5L601.3 299.3L601.3 299.3L595.9 290.6L594.9 290.5L591.6 293.2L591.3 296.1ZM578.7 267.8L579.0 268.7L573.5 272.3L571.3 269.6L571.8 266.7L574.1 265.6ZM562.3 228.9L562.1 229.9L558.4 232.4L557.9 232.3L556.0 229.7L556.9 227.0L560.8 226.7ZM561.9 211.3L566.0 208.5L565.9 206.1L565.2 205.4L561.1 205.8L560.8 209.9ZM584.8 295.7L589.0 297.9L591.3 296.1L591.6 293.2L587.8 290.4L586.7 290.6ZM560.8 226.7L556.9 227.0L555.9 225.1L558.3 221.1L560.1 220.8L561.7 223.2ZM607.4 269.9L605.1 267.3L602.6 268.1L601.7 272.1L602.2 273.3L602.3 273.3L606.9 271.7ZM552.9 224.5L552.4 222.0L554.3 219.1L558.3 221.1L555.9 225.1ZM560.5 219.9L558.5 214.9L556.3 214.6L553.4 216.2L554.3 219.1L558.3 221.1L560.1 220.8ZM566.8 223.7L561.7 223.2L560.1 220.8L560.5 219.9L563.7 218.0L567.4 220.1ZM583.0 356.5L578.6 356.1L577.5 350.8L581.7 349.0L584.3 352.3ZM571.9 208.8L570.0 205.1L565.9 206.1L566.0 208.5L568.5 210.8ZM557.9 232.3L553.7 235.8L551.9 232.3L553.5 229.9L556.0 229.7ZM567.5 256.9L571.8 259.9L573.1 259.7L574.7 256.0L572.8 253.3L571.0 253.3L568.0 255.4ZM580.6 386.0L582.5 388.6L587.0 388.0L586.7 382.8L585.7 382.3L581.0 384.3ZM539.5 337.2L544.7 340.2L544.7 340.3L539.7 344.8L536.8 341.6L536.9 339.5ZM593.6 283.2L596.4 283.5L599.3 280.1L597.2 277.3L592.2 279.2ZM606.9 271.7L602.3 273.3L603.6 276.4L606.0 277.9L607.8 277.6L608.7 273.8ZM575.4 298.0L581.3 297.8L581.9 301.7L577.9 303.2L576.1 302.5ZM583.4 258.4L580.4 261.7L584.4 264.2L587.5 263.5L585.8 258.7ZM616.8 243.3L617.1 243.2L617.8 239.6L616.7 237.9L613.4 237.0L612.1 237.5L612.2 241.2ZM565.9 368.2L565.8 367.8L568.2 363.6L572.2 363.6L573.7 366.8L571.0 371.1L570.0 371.4ZM567.4 220.1L563.7 218.0L564.2 214.4L568.1 213.9L568.6 214.3L569.2 218.7ZM603.4 283.2L600.2 287.4L598.9 287.5L596.4 283.5L599.3 280.1L599.5 280.1ZM573.0 219.6L575.1 215.6L577.9 215.4L578.3 215.6L579.3 220.1L578.0 222.0L574.0 221.7ZM578.7 267.8L579.0 268.7L579.5 269.0L583.2 267.9L584.4 264.2L580.4 261.7L580.3 261.7ZM550.0 349.6L554.1 348.7L555.8 344.6L553.2 342.1L547.8 345.2L547.3 347.6L547.4 348.1ZM579.5 269.0L580.8 273.1L584.8 274.2L585.9 269.5L583.2 267.9ZM597.9 250.9L601.2 253.6L598.8 257.2L597.6 257.3L595.1 253.4ZM567.0 382.9L568.1 388.8L568.4 389.1L574.4 386.1L574.1 381.7L572.5 380.2L571.0 380.0ZM544.7 340.3L547.8 345.2L547.3 347.6L539.9 346.3L539.8 346.2L539.7 344.8ZM560.5 219.9L558.5 214.9L562.0 212.5L564.2 214.4L563.7 218.0ZM552.8 275.2L557.4 272.6L560.1 277.4L559.9 278.3L556.4 279.6L553.8 278.6ZM575.1 215.6L577.9 215.4L578.6 210.0L574.4 208.9L573.6 209.3L573.6 214.0ZM567.5 256.9L571.8 259.9L568.6 264.0L567.9 264.0L565.4 262.1L567.0 257.2ZM581.3 297.8L582.2 296.3L584.8 295.7L589.0 297.9L589.0 302.1L583.0 302.8L581.9 301.7ZM581.0 287.6L574.2 285.2L572.7 289.1L576.3 292.1L579.4 291.4L581.2 287.9ZM600.6 266.4L596.9 267.8L596.2 269.5L596.3 269.9L601.7 272.1L602.6 268.1ZM552.9 224.5L550.8 226.6L550.8 226.7L553.5 229.9L556.0 229.7L556.9 227.0L555.9 225.1ZM565.9 206.1L565.2 205.4L565.1 200.8L565.2 200.8L568.6 200.3L570.9 203.0L570.0 205.1ZM558.5 214.9L562.0 212.5L561.9 211.3L560.8 209.9L556.2 209.6L556.1 209.7L556.3 214.6ZM539.7 344.8L539.8 346.2L533.5 349.1L533.4 349.0L532.2 343.6L536.8 341.6ZM596.3 262.4L600.9 262.8L600.6 266.4L596.9 267.8L595.2 264.0ZM607.4 269.9L611.8 268.1L613.4 272.6L608.7 273.8L606.9 271.7ZM574.7 256.0L573.1 259.7L575.0 261.7L579.7 261.4L577.7 255.9ZM590.8 286.0L587.8 290.4L591.6 293.2L594.9 290.5L591.2 285.9ZM577.7 255.9L579.7 261.4L580.3 261.7L580.4 261.7L583.4 258.4L581.7 254.0L579.8 254.1ZM542.2 224.1L541.2 219.7L542.8 218.6L547.1 219.5L547.3 219.7L547.6 220.9L546.9 223.3L545.9 224.1ZM598.2 247.9L604.3 249.1L603.0 253.4L601.2 253.6L597.9 250.9ZM574.4 208.9L575.6 204.8L578.9 204.3L580.3 209.1L578.6 210.0ZM568.6 264.0L571.8 266.7L571.3 269.6L565.6 271.0L565.1 269.1L567.9 264.0ZM533.5 337.3L536.9 339.5L536.8 341.6L532.2 343.6L530.6 342.8L530.0 339.1Z" fill="#82366b" stroke="#c4a6c0" stroke-width="0.7" stroke-linejoin="round"/>
<path d="M354.1 118.4L353.6 124.8L349.9 126.0L347.2 124.7L346.6 118.0L346.9 117.8ZM336.1 132.2L342.0 133.2L343.2 132.0L343.2 126.4L340.1 124.9L336.8 125.9L335.6 127.4ZM343.2 126.4L343.2 132.0L349.7 133.1L349.9 126.0L347.2 124.7ZM356.1 126.2L353.6 124.8L349.9 126.0L349.7 133.1L349.8 133.2L356.4 133.1L356.5 132.9ZM334.8 133.9L335.6 139.1L342.4 139.2L342.0 133.2L336.1 132.2ZM349.0 138.1L342.6 139.4L342.4 139.2L342.0 133.2L343.2 132.0L349.7 133.1L349.8 133.2ZM357.1 138.6L356.4 133.1L349.8 133.2L349.0 138.1L350.0 139.2L356.3 139.6ZM329.2 158.8L335.0 158.2L335.1 158.3L335.5 162.8L332.0 165.5L328.6 162.0ZM342.8 158.6L342.1 166.0L344.3 167.1L347.8 166.7L349.7 164.4L349.5 158.8L343.0 158.4ZM459.0 125.9L463.8 126.8L465.6 125.0L464.8 121.3L460.1 119.6L459.2 120.3L458.2 124.6ZM481.0 177.4L479.9 173.1L482.2 171.3L484.2 171.9L485.9 177.3L481.3 177.7ZM480.7 182.1L481.2 182.7L485.4 183.0L485.9 177.3L485.9 177.3L481.3 177.7ZM561.4 200.8L565.1 200.8L565.2 200.8L564.5 196.2L561.4 195.5L560.2 196.7L560.7 200.2ZM513.6 127.3L514.0 121.9L518.2 122.2L520.5 125.2L518.6 127.5L514.0 127.7ZM411.9 326.9L411.4 321.1L410.2 320.2L404.5 322.3L405.4 327.2L405.5 327.3L410.8 327.6ZM470.6 298.4L470.6 294.4L470.3 294.0L466.5 294.4L465.3 299.4L465.3 299.4ZM547.8 299.7L547.9 299.5L552.3 299.3L552.4 299.5L552.4 302.8L548.5 302.9L548.4 302.9ZM576.1 302.5L577.9 303.2L578.2 307.1L575.4 307.8L574.2 306.5L574.2 303.8ZM577.9 303.2L578.2 307.1L580.9 308.5L582.6 307.1L583.0 302.8L581.9 301.7ZM580.7 311.3L580.9 308.5L578.2 307.1L575.4 307.8L574.7 310.8ZM574.9 313.7L574.4 314.5L571.0 315.6L570.1 314.3L570.6 311.6L571.3 311.0L574.3 311.2ZM577.8 314.6L574.9 313.7L574.3 311.2L574.7 310.8L580.7 311.3L580.8 311.6ZM571.6 318.2L574.9 318.3L574.4 314.5L571.0 315.6L570.9 317.4ZM577.8 314.6L574.9 313.7L574.4 314.5L574.9 318.3L575.2 318.4L578.3 317.3ZM559.6 325.7L560.2 326.2L562.8 325.7L563.2 322.4L562.9 321.9L559.2 321.8L559.0 322.1ZM559.6 329.9L559.2 333.2L563.4 333.9L563.6 330.1L559.8 329.8ZM437.4 313.2L443.0 314.8L442.8 318.5L441.4 319.5L436.9 319.3L436.6 314.4ZM448.3 340.6L449.4 345.2L448.4 346.1L442.8 345.7L444.2 340.6ZM448.7 340.1L454.3 340.3L454.5 340.7L452.7 345.6L449.4 345.2L448.3 340.6ZM457.9 346.4L458.1 341.9L454.5 340.7L452.7 345.6L454.4 347.3ZM461.7 339.5L458.1 341.9L457.9 346.4L458.7 346.8L463.9 345.8L464.2 343.3ZM464.2 343.3L463.9 345.8L464.0 345.8L469.2 347.7L470.6 346.7L468.8 341.7ZM453.7 351.0L454.4 347.3L452.7 345.6L449.4 345.2L448.4 346.1L448.1 351.9L448.2 351.9ZM459.2 353.0L454.0 351.4L453.7 351.0L454.4 347.3L457.9 346.4L458.7 346.8L460.0 352.2ZM460.0 352.2L458.7 346.8L463.9 345.8L464.0 345.8L463.7 351.8ZM543.3 255.6L548.0 257.2L548.6 252.8L546.8 251.9L543.9 253.4ZM539.3 266.9L537.6 264.6L538.1 261.2L543.1 261.0L543.1 261.0L542.9 265.0ZM623.4 123.1L619.1 123.2L619.0 127.5L623.2 129.7L625.0 125.3ZM617.2 121.4L616.6 121.3L612.2 116.2L612.5 115.2L620.5 113.9L620.8 116.8ZM571.0 380.0L572.5 380.2L576.1 374.2L571.0 371.1L570.0 371.4L568.2 375.2ZM555.1 268.5L557.7 270.8L557.9 271.3L557.4 272.6L552.8 275.2L552.0 274.8L551.1 269.4L551.3 269.2ZM582.6 402.6L586.6 398.9L588.6 399.5L590.0 405.3L587.6 406.9L586.3 406.7ZM460.1 119.6L464.8 121.3L468.7 117.9L468.7 116.3L465.1 113.8L460.5 116.8ZM544.7 340.2L545.7 339.1L549.9 338.0L552.8 339.9L553.2 342.1L547.8 345.2L544.7 340.3ZM629.7 118.5L630.3 122.7L628.6 125.0L625.0 125.3L623.4 123.1L624.6 119.6L628.8 118.1ZM551.9 264.1L555.3 265.1L557.1 263.4L556.4 260.6L554.9 260.0L551.4 261.5ZM578.8 367.3L579.3 368.7L583.1 370.5L587.0 368.4L586.8 364.8L583.2 362.8L580.3 363.8ZM590.0 405.3L593.3 405.9L593.8 406.6L594.1 416.9L593.5 418.1L588.4 414.0L587.6 406.9ZM634.0 170.3L634.2 164.4L629.4 163.2L628.2 164.4L628.0 167.8L631.0 171.0L633.2 171.1ZM487.3 124.2L488.6 120.0L487.8 118.3L482.6 116.4L480.4 118.4L481.3 124.4L486.7 124.6ZM614.4 130.5L614.8 129.7L619.0 127.5L623.2 129.7L623.8 131.5L619.2 134.3ZM593.1 395.4L589.4 390.9L584.5 395.2L586.6 398.9L588.6 399.5L593.1 396.8ZM623.7 172.1L624.1 169.9L628.0 167.8L631.0 171.0L627.1 175.4L625.8 175.1ZM567.2 276.2L565.5 274.3L560.1 277.4L559.9 278.3L561.7 280.9L566.3 281.1ZM575.8 359.0L578.6 356.1L583.0 356.5L584.0 357.6L583.2 362.8L580.3 363.8ZM624.6 119.6L620.8 116.8L617.2 121.4L619.1 123.2L623.4 123.1ZM593.8 406.6L594.1 416.9L601.1 411.0L600.0 407.4ZM593.1 396.8L588.6 399.5L590.0 405.3L593.3 405.9L596.6 399.9L596.6 399.8ZM663.0 136.1L660.0 138.4L659.4 138.4L654.3 134.4L654.1 133.4L661.6 130.5L663.3 134.8ZM555.3 265.1L557.1 263.4L561.0 264.8L561.1 265.8L557.7 270.8L555.1 268.5ZM332.4 359.9L332.3 360.0L335.2 366.4L336.4 366.7L340.7 363.5L339.1 358.0L338.5 357.6ZM584.0 357.6L583.2 362.8L586.8 364.8L590.5 362.3L588.0 357.5ZM579.0 342.9L577.7 342.9L574.8 346.9L576.2 350.2L577.5 350.8L581.7 349.0L582.7 346.6ZM486.6 130.2L482.2 131.6L481.7 131.3L480.9 124.9L481.3 124.4L486.7 124.6ZM619.1 123.2L619.0 127.5L614.8 129.7L613.4 124.2L616.6 121.3L617.2 121.4ZM552.0 274.8L551.1 269.4L546.1 270.1L546.1 271.8L549.5 275.2ZM582.6 402.6L586.6 398.9L584.5 395.2L583.8 395.0L579.6 397.6L579.2 402.3L579.3 402.5ZM530.6 342.8L532.2 343.6L533.4 349.0L529.3 349.6L525.6 345.4ZM596.6 399.9L593.3 405.9L593.8 406.6L600.0 407.4L601.6 404.5Z" fill="#808080" stroke="#c4c4c4" stroke-width="0.7" stroke-linejoin="round"/>
<path d="M454.0 244.7L453.6 248.7L448.1 249.7L447.8 249.3L448.7 244.0L448.9 243.9ZM427.8 250.0L432.7 249.3L432.9 249.5L433.0 254.3L427.7 253.9ZM433.0 254.3L433.6 254.9L437.3 254.9L437.4 254.9L438.4 249.7L432.9 249.5ZM443.0 255.5L437.4 254.9L438.4 249.7L438.6 249.4L442.6 250.0L443.3 255.2ZM447.8 249.3L448.1 249.7L448.6 253.8L443.3 255.2L442.6 250.0L443.9 248.9ZM454.5 250.0L453.6 248.7L448.1 249.7L448.6 253.8L448.9 254.0L453.2 253.9ZM459.1 250.5L454.5 250.0L453.2 253.9L454.6 255.6L459.4 254.9L459.3 250.7ZM422.4 254.6L422.8 254.3L427.4 254.2L427.7 258.2L424.9 260.6L423.0 260.0ZM427.4 254.2L427.7 253.9L433.0 254.3L433.6 254.9L431.9 259.6L427.7 258.2ZM412.8 89.2L418.9 90.8L420.6 89.1L418.6 84.8L416.2 84.0L413.1 85.9ZM412.8 89.2L412.5 89.5L412.9 95.4L418.2 94.8L418.9 90.8ZM418.9 90.8L418.2 94.8L419.1 95.9L424.5 96.4L424.6 91.7L420.9 89.1L420.6 89.1ZM424.6 96.6L424.5 96.4L424.6 91.7L428.5 90.1L429.7 90.6L430.5 95.8L430.3 96.0ZM418.2 94.8L412.9 95.4L412.7 95.6L413.4 101.1L418.1 101.1L419.1 95.9ZM418.6 101.5L418.1 101.1L419.1 95.9L424.5 96.4L424.6 96.6L424.5 101.4ZM424.7 101.6L430.2 101.9L430.3 96.0L424.6 96.6L424.5 101.4ZM436.1 101.5L430.7 102.4L430.2 101.9L430.3 96.0L430.5 95.8L434.9 95.9L435.9 96.9ZM418.8 107.0L418.3 107.5L412.7 107.4L412.4 107.0L412.8 101.7L413.4 101.1L418.1 101.1L418.6 101.5ZM418.8 107.0L424.3 106.9L424.7 101.6L424.5 101.4L418.6 101.5ZM424.7 101.6L430.2 101.9L430.7 102.4L430.5 107.4L430.1 107.8L424.9 107.5L424.3 106.9ZM436.9 107.3L436.3 101.6L436.1 101.5L430.7 102.4L430.5 107.4ZM412.8 113.0L412.7 107.4L418.3 107.5L419.1 113.4L418.4 114.1L413.1 113.4ZM423.9 113.0L424.9 107.5L424.3 106.9L418.8 107.0L418.3 107.5L419.1 113.4ZM424.8 113.8L423.9 113.0L424.9 107.5L430.1 107.8L430.8 112.5ZM431.7 113.4L435.2 113.4L437.1 107.4L436.9 107.3L430.5 107.4L430.1 107.8L430.8 112.5ZM437.3 115.0L435.2 113.4L437.1 107.4L440.9 108.0L441.9 113.3L441.1 114.4ZM413.1 113.4L418.4 114.1L418.6 118.7L412.4 119.5L411.8 119.1ZM418.9 119.1L418.6 118.7L418.4 114.1L419.1 113.4L423.9 113.0L424.8 113.8L425.5 118.4L424.8 119.1ZM425.5 118.4L430.4 118.9L431.7 113.4L430.8 112.5L424.8 113.8ZM413.6 125.0L412.4 119.5L418.6 118.7L418.9 119.1L418.8 125.1L418.7 125.1ZM424.8 125.2L418.8 125.1L418.9 119.1L424.8 119.1L424.9 125.2ZM424.9 125.2L429.1 125.2L431.0 119.8L430.4 118.9L425.5 118.4L424.8 119.1ZM412.9 131.3L412.8 125.8L413.6 125.0L418.7 125.1L418.7 130.5L413.0 131.4ZM423.6 132.1L419.3 131.2L418.7 130.5L418.7 125.1L418.8 125.1L424.8 125.2L424.6 131.1ZM430.1 131.6L424.6 131.1L424.8 125.2L424.9 125.2L429.1 125.2L431.0 127.0L430.2 131.5ZM418.0 137.0L417.8 136.7L419.3 131.2L423.6 132.1L424.1 136.9L423.9 137.2ZM430.1 131.6L424.6 131.1L423.6 132.1L424.1 136.9L429.1 137.0ZM430.1 138.0L430.0 142.5L429.3 143.4L424.5 143.1L423.6 142.1L423.9 137.2L424.1 136.9L429.1 137.0ZM436.1 120.3L437.3 115.0L441.1 114.4L443.1 119.5L441.8 120.8ZM443.1 119.5L446.3 119.8L448.1 113.4L447.7 113.0L441.9 113.3L441.1 114.4ZM436.0 126.1L431.0 127.0L429.1 125.2L431.0 119.8L435.6 120.7ZM436.5 126.5L441.0 126.2L441.5 125.8L441.8 120.8L436.1 120.3L435.6 120.7L436.0 126.1ZM441.5 125.8L446.8 126.3L446.6 120.1L446.3 119.8L443.1 119.5L441.8 120.8ZM447.1 126.6L446.8 126.3L446.6 120.1L451.8 120.4L452.5 125.1ZM458.2 124.6L459.2 120.3L453.4 118.6L451.8 120.4L452.5 125.1L453.2 125.6ZM469.8 126.3L465.6 125.0L464.8 121.3L468.7 117.9L471.1 120.1ZM475.2 126.4L470.0 126.4L469.8 126.3L471.1 120.1L474.6 120.5L475.8 125.7ZM436.5 126.5L436.7 131.4L441.7 132.5L442.1 132.1L441.0 126.2ZM441.0 126.2L442.1 132.1L446.3 131.6L447.3 130.6L447.1 126.6L446.8 126.3L441.5 125.8ZM453.7 131.4L452.8 132.1L447.3 130.6L447.1 126.6L452.5 125.1L453.2 125.6ZM475.9 130.8L475.2 126.4L475.8 125.7L480.9 124.9L481.7 131.3L477.4 132.1ZM435.6 136.9L436.4 137.7L441.1 137.2L441.1 137.2L441.7 132.5L436.7 131.4L435.1 133.0ZM447.1 138.2L447.3 138.0L446.3 131.6L442.1 132.1L441.7 132.5L441.1 137.2ZM447.3 138.0L451.7 137.6L452.8 132.1L447.3 130.6L446.3 131.6ZM457.4 131.9L458.5 137.3L452.6 138.4L451.7 137.6L452.8 132.1L453.7 131.4ZM463.5 137.4L464.2 132.0L463.8 131.7L458.1 131.4L457.4 131.9L458.5 137.3L459.2 137.8ZM463.5 137.4L464.2 132.0L469.2 131.8L470.1 132.7L470.9 136.9L469.9 138.2L464.2 138.0ZM447.1 138.2L447.3 138.0L451.7 137.6L452.6 138.4L453.4 143.1L453.0 143.7L447.8 144.3L446.3 142.9ZM458.5 143.3L453.4 143.1L452.6 138.4L458.5 137.3L459.2 137.8ZM463.5 137.4L459.2 137.8L458.5 143.3L458.6 143.3L464.0 143.4L464.2 138.0ZM464.2 138.0L469.9 138.2L470.5 143.3L470.2 143.7L464.2 143.6L464.0 143.4ZM453.5 148.8L453.0 143.7L447.8 144.3L447.8 149.5L452.3 150.3ZM458.6 143.3L458.9 148.6L453.5 148.8L453.0 143.7L453.4 143.1L458.5 143.3ZM470.1 148.7L465.3 149.8L463.9 148.7L464.2 143.6L470.2 143.7ZM463.7 224.8L462.7 229.3L462.8 229.4L466.6 230.1L467.6 229.4L467.2 224.6L467.0 224.4ZM476.5 244.3L476.0 243.8L476.3 239.4L476.5 239.2L481.2 239.6L481.1 243.3ZM485.7 244.6L486.5 242.2L485.0 239.4L481.5 239.3L481.2 239.6L481.1 243.3L481.6 243.9ZM508.3 181.2L508.5 176.4L512.5 177.1L512.7 180.7L512.0 181.3ZM512.0 181.3L512.7 180.7L515.8 181.2L517.4 184.2L516.2 185.4L512.5 185.7L512.4 185.6ZM504.9 186.2L507.7 185.8L508.8 189.9L508.1 190.8L504.6 190.8L504.1 190.1ZM516.4 216.6L516.5 216.6L516.6 212.0L516.4 211.8L512.3 212.5L512.5 216.0ZM512.1 220.7L512.2 216.3L512.5 216.0L516.4 216.6L516.1 220.9L512.6 221.1ZM556.7 177.4L560.9 178.4L562.6 177.3L562.5 173.4L561.2 172.7L556.4 174.1ZM552.3 182.7L552.2 182.6L552.5 178.8L556.1 178.1L556.8 183.0L556.5 183.2ZM543.0 182.4L542.7 186.8L543.4 187.4L547.5 187.2L547.6 187.2L547.5 182.6L547.4 182.6L543.0 182.4ZM537.7 201.6L538.1 205.3L538.4 205.6L542.8 204.4L542.6 200.9L542.6 200.9L538.7 200.6ZM547.6 205.0L551.5 205.4L551.7 209.7L551.4 209.9L547.3 210.1L547.0 205.5ZM527.4 220.1L525.0 217.4L525.0 214.4L529.0 214.7L529.5 219.7ZM523.6 132.4L523.7 132.3L523.6 125.9L523.2 125.3L520.5 125.2L518.6 127.5L519.3 132.4ZM528.5 137.5L529.7 136.3L535.9 138.1L533.5 142.9L528.8 142.2ZM427.6 334.8L426.7 339.8L422.6 340.1L421.6 339.1L422.8 333.3L423.6 332.6L425.9 332.4ZM416.7 339.4L417.1 345.3L411.2 345.8L410.4 344.9L411.4 339.2ZM416.8 339.3L421.6 339.1L422.6 340.1L422.1 345.1L421.8 345.5L417.3 345.5L417.1 345.3L416.7 339.4ZM399.1 346.1L398.1 351.2L404.2 352.1L404.8 351.1L403.9 346.0ZM403.9 346.0L404.8 351.1L410.8 350.3L411.2 345.8L410.4 344.9L405.0 344.6ZM416.8 351.6L411.5 351.1L410.8 350.3L411.2 345.8L417.1 345.3L417.3 345.5L417.1 351.3ZM417.1 351.3L417.3 345.5L421.8 345.5L422.9 351.4L422.6 351.7ZM399.1 357.9L397.8 357.0L397.2 351.8L398.1 351.2L404.2 352.1L404.7 356.4ZM410.8 356.6L409.6 357.5L405.3 357.0L404.7 356.4L404.2 352.1L404.8 351.1L410.8 350.3L411.5 351.1ZM456.8 267.8L457.1 272.5L457.1 272.5L462.3 272.8L463.2 267.2L457.4 267.1ZM475.4 280.1L478.3 277.9L481.1 280.1L480.2 283.9L476.6 283.9ZM476.6 283.9L480.2 283.9L481.1 284.8L481.2 287.8L479.9 289.1L476.2 289.5L475.4 288.8L475.8 284.9ZM466.1 302.7L466.0 307.7L464.4 308.8L462.3 308.4L461.7 307.7L461.2 304.0L465.5 302.1ZM460.5 312.7L461.8 314.3L466.4 313.4L464.4 308.8L462.3 308.4ZM471.4 317.7L471.2 313.9L475.7 313.2L476.1 313.5L475.4 318.1ZM475.9 318.7L479.9 318.8L480.8 317.8L480.5 313.8L480.3 313.6L476.1 313.5L475.4 318.1ZM474.9 323.0L475.9 318.7L475.4 318.1L471.4 317.7L470.1 319.2L471.2 322.8L474.8 323.1ZM475.4 333.0L475.4 333.0L476.9 337.5L480.7 337.3L481.3 332.9L480.4 331.8ZM480.7 337.3L481.3 332.9L486.1 333.0L485.7 338.4L480.7 337.3ZM480.7 337.3L476.9 337.5L474.6 340.4L475.6 342.6L480.5 343.3L480.7 337.3ZM480.7 337.3L485.7 338.4L485.9 338.7L485.3 341.8L481.0 343.6L480.5 343.3ZM490.8 338.4L485.9 338.7L485.3 341.8L487.6 344.3L491.9 343.8ZM496.5 279.1L496.3 281.8L491.1 281.9L490.6 280.3L494.2 275.8ZM511.8 297.7L511.0 293.9L506.5 293.1L504.0 295.2L503.9 295.9L506.6 299.3L511.7 297.9ZM502.0 303.5L500.3 298.2L503.9 295.9L506.6 299.3L506.1 302.4ZM512.5 304.2L511.7 297.9L506.6 299.3L506.1 302.4L506.7 303.2ZM518.4 321.2L518.2 321.4L511.9 320.2L512.9 316.6L517.2 315.7ZM522.0 314.6L517.2 315.6L517.2 315.7L518.4 321.2L522.9 320.4L523.7 319.2L522.9 315.5ZM495.5 325.7L496.4 321.3L495.3 319.9L491.8 319.4L490.0 322.7L491.3 326.1ZM511.5 320.6L506.8 319.8L505.6 321.1L506.2 325.0L506.6 325.4L511.8 325.3ZM511.9 320.2L518.2 321.4L517.7 324.6L512.3 325.8L511.8 325.3L511.5 320.6ZM496.5 326.6L500.8 327.0L500.9 327.0L501.6 329.7L500.1 332.0L496.3 332.9L495.6 332.0ZM517.7 324.6L518.7 326.1L516.3 332.1L512.2 330.7L512.3 325.8ZM528.1 330.3L527.5 325.0L524.9 324.5L522.2 327.1L523.2 331.1ZM536.3 273.1L534.7 271.7L530.7 275.6L530.7 275.6L532.8 277.3L536.3 276.0ZM540.5 273.1L539.8 276.6L537.6 277.2L536.3 276.0L536.3 273.1L540.1 272.5ZM540.5 273.1L543.9 274.1L544.1 277.0L542.5 278.3L539.8 276.6ZM544.1 277.0L547.6 277.7L549.5 275.2L546.1 271.8L543.9 274.1ZM523.9 274.8L521.2 275.7L522.6 280.8L524.6 280.7L526.0 277.5ZM530.7 275.6L528.6 278.0L528.9 280.3L529.5 280.9L532.7 281.0L533.3 280.4L532.8 277.3ZM536.3 276.0L532.8 277.3L533.3 280.4L536.3 280.9L537.2 280.0L537.6 277.2ZM539.8 276.6L542.5 278.3L542.5 278.9L540.9 280.7L537.2 280.0L537.6 277.2ZM525.7 284.7L523.0 284.5L521.5 282.0L522.6 280.8L524.6 280.7L525.7 281.4L526.3 284.2ZM526.3 284.2L525.7 281.4L528.9 280.3L529.5 280.9L528.9 284.3L528.5 284.6ZM532.7 281.0L532.6 284.9L528.9 284.3L529.5 280.9ZM536.0 284.7L532.9 285.3L532.6 284.9L532.7 281.0L533.3 280.4L536.3 280.9L537.0 283.6ZM543.4 284.4L544.9 281.6L542.5 278.9L540.9 280.7L541.0 283.9ZM548.2 284.2L551.8 285.4L552.9 284.4L551.9 280.8L548.3 280.7L547.9 281.1ZM525.7 284.7L523.0 284.5L521.6 288.2L524.1 289.1L525.1 288.4ZM525.7 284.7L525.1 288.4L528.7 288.6L528.5 284.6L526.3 284.2ZM536.6 289.1L537.3 288.5L536.0 284.7L532.9 285.3L532.5 287.8L533.0 288.3ZM551.8 285.4L551.6 287.3L552.4 288.6L555.3 288.6L556.1 287.8L555.9 284.7L552.9 284.4ZM525.1 288.4L524.1 289.1L524.5 292.2L528.1 292.6L529.2 291.2L529.1 288.9L528.7 288.6ZM540.2 292.6L539.8 288.4L539.6 288.3L537.3 288.5L536.6 289.1L536.3 291.9L536.9 292.7ZM540.2 292.6L539.8 288.4L543.3 288.7L543.9 289.4L543.8 291.2L540.3 292.7ZM551.7 291.6L552.4 288.6L551.6 287.3L547.8 288.5L547.7 288.7L548.9 292.1L551.4 292.0ZM532.5 292.6L529.2 291.2L528.1 292.6L528.5 295.4L528.7 295.5L532.4 295.5ZM541.1 295.5L540.3 292.7L543.8 291.2L545.0 292.9L544.0 295.4ZM543.6 300.0L544.4 296.1L544.0 295.4L541.1 295.5L540.7 295.9L540.9 299.3ZM532.3 304.4L533.7 303.4L533.4 300.6L532.2 299.6L529.0 300.3L529.0 303.0ZM533.4 300.6L536.6 299.8L537.1 303.1L535.8 304.2L533.7 303.4ZM540.0 299.9L537.0 299.4L536.6 299.8L537.1 303.1L539.8 303.3ZM543.8 303.8L540.5 304.0L539.8 303.3L540.0 299.9L540.9 299.3L543.6 300.0L543.7 300.1ZM555.9 303.2L558.7 303.6L559.3 299.3L556.7 298.8L556.0 299.5ZM567.2 299.9L567.1 302.9L564.6 303.5L562.8 302.3L562.5 300.3L563.8 299.2ZM543.8 303.8L540.5 304.0L539.4 307.2L540.3 308.0L544.6 306.9L544.0 303.9ZM544.0 303.9L544.6 306.9L544.7 307.1L547.6 307.1L548.7 306.2L548.5 302.9L548.4 302.9ZM559.3 304.2L559.6 305.8L560.0 306.3L563.0 306.9L563.8 306.4L564.6 303.5L562.8 302.3ZM564.6 303.5L563.8 306.4L567.1 307.8L569.2 306.4L569.0 304.3L567.1 302.9ZM559.5 310.2L560.0 306.3L563.0 306.9L563.2 310.7L560.3 310.9ZM563.2 310.7L563.7 311.1L566.1 311.0L566.4 310.8L567.1 307.8L563.8 306.4L563.0 306.9ZM569.2 306.4L567.1 307.8L566.4 310.8L570.6 311.6L571.3 311.0L570.4 307.3ZM556.0 310.8L552.8 310.9L552.5 314.9L556.0 315.7L557.0 314.8ZM533.6 318.7L536.2 319.1L537.3 317.9L537.1 315.1L536.4 314.5L532.7 314.9L532.5 315.2ZM547.7 318.5L549.8 315.2L551.9 315.3L552.1 319.2L548.8 319.7ZM532.9 319.3L532.9 324.9L533.0 325.0L534.6 324.9L537.0 322.1L536.2 319.1L533.6 318.7ZM566.9 323.1L568.1 322.0L567.0 318.6L566.8 318.5L563.8 319.2L562.9 321.9L563.2 322.4ZM571.3 322.6L571.6 318.2L570.9 317.4L567.0 318.6L568.1 322.0L571.2 322.6ZM575.4 322.2L575.2 318.4L574.9 318.3L571.6 318.2L571.3 322.6ZM566.6 325.8L567.3 326.7L570.5 326.4L571.2 325.5L571.2 322.6L568.1 322.0L566.9 323.1ZM544.3 325.2L548.5 327.1L547.9 329.6L547.6 329.9L544.6 329.6L543.5 326.4ZM535.8 330.4L536.6 333.6L538.9 334.5L540.3 330.3L540.0 329.8L536.4 329.8ZM556.9 333.7L555.3 330.9L556.5 329.1L559.6 329.9L559.2 333.2L558.5 333.8ZM426.0 312.0L427.2 319.0L423.0 318.4L422.0 315.5L425.0 311.6ZM431.0 318.7L431.6 314.1L430.1 311.6L429.7 311.4L426.0 312.0L427.2 319.0L427.9 319.6L430.3 319.3ZM428.2 341.2L426.7 339.8L422.6 340.1L422.1 345.1L426.3 345.3ZM474.4 357.1L470.4 355.9L470.6 352.8L475.3 350.7L476.5 355.8ZM459.3 356.6L458.2 362.1L458.7 362.5L464.3 360.9L464.0 357.9ZM465.3 356.0L469.6 356.4L469.2 362.1L466.0 362.5L464.3 360.9L464.0 357.9ZM527.4 220.1L525.8 224.8L526.2 225.2L530.1 225.3L530.5 224.7L529.7 219.8L529.5 219.7L527.4 220.1ZM530.1 225.3L530.8 228.2L530.3 228.7L526.6 229.3L525.9 228.9L526.2 225.2ZM541.4 225.0L541.4 228.7L545.4 229.0L545.9 228.8L545.9 224.1L542.2 224.1ZM536.6 231.8L538.4 233.6L541.3 231.5L541.2 228.8L538.4 228.9ZM502.6 237.7L502.1 237.2L502.4 234.0L505.2 232.9L506.6 236.0ZM506.6 236.0L505.2 232.9L505.7 231.4L508.2 230.5L508.9 230.7L510.3 233.3L509.2 235.5L506.6 236.0ZM511.1 237.8L513.4 236.6L513.4 233.8L510.3 233.3L509.2 235.5ZM518.1 233.1L517.7 233.5L517.7 235.9L518.9 237.2L521.6 237.2L521.5 233.0ZM521.5 233.0L521.6 237.2L521.6 237.2L525.5 237.3L526.0 236.6L525.9 234.1L522.2 232.5ZM536.6 231.8L538.4 233.6L538.5 236.1L538.3 236.2L534.8 235.7L533.7 232.8L534.2 231.9ZM541.3 231.5L538.4 233.6L538.5 236.1L540.5 236.8L543.8 234.6ZM529.7 237.3L529.6 240.4L526.4 241.2L525.6 240.2L525.5 237.3L526.0 236.6ZM521.5 240.5L518.0 240.7L518.4 243.9L522.0 244.1L522.1 241.2ZM545.0 244.2L545.7 240.5L549.3 240.5L549.4 242.6L547.0 244.7ZM486.3 247.5L487.3 248.7L490.9 249.1L491.9 247.7L491.1 245.1L490.9 244.9L486.5 246.1ZM495.0 248.0L491.9 247.7L491.1 245.1L494.3 243.9L495.4 244.9L495.8 247.3ZM510.5 244.8L509.6 247.8L506.8 247.1L506.8 243.9L509.2 243.4ZM517.9 253.7L517.4 249.0L518.1 248.3L521.7 248.7L521.7 248.7L522.0 252.1ZM494.8 252.1L494.4 252.5L495.0 255.5L497.4 256.8L498.9 256.2L499.2 252.3L498.5 251.6ZM558.0 253.3L555.1 250.0L555.2 249.4L557.9 247.2L561.0 248.3L560.4 252.5ZM533.7 252.7L534.7 255.8L538.2 256.4L539.0 255.8L538.9 252.2L538.2 251.7L533.8 252.7ZM543.3 255.6L542.4 256.3L539.0 255.8L538.9 252.2L541.7 251.2L543.9 253.4ZM538.0 261.1L538.1 261.2L543.1 261.0L542.4 256.3L539.0 255.8L538.2 256.4ZM488.3 261.0L487.0 265.9L491.5 266.0L491.6 265.9L491.6 261.1ZM533.7 265.2L532.5 261.1L528.7 261.5L529.9 266.3L533.0 266.1ZM545.8 266.8L547.5 265.1L547.0 260.8L543.1 261.0L542.9 265.0ZM487.4 270.8L482.5 270.0L482.6 266.7L483.7 265.7L486.8 266.1L487.8 270.4ZM505.5 271.5L506.7 270.2L505.6 265.8L502.4 265.8L502.0 266.1L501.3 270.2ZM510.4 276.3L507.1 276.5L505.4 274.0L505.5 271.5L506.7 270.2L510.8 270.5L510.9 270.6ZM524.2 274.3L524.4 270.3L519.5 269.4L518.6 270.4L520.5 275.6L521.2 275.7L523.9 274.8ZM474.2 279.7L472.6 274.9L469.3 275.0L468.2 279.0L471.0 281.0ZM624.0 242.3L618.8 244.5L619.6 247.5L624.6 248.6L626.6 245.0L626.3 243.1ZM617.3 195.6L619.3 200.8L618.8 202.0L614.8 202.4L611.5 197.5L612.5 195.8L614.6 194.8ZM582.9 220.0L579.3 220.1L578.3 215.6L581.0 215.3L583.3 217.5ZM630.4 179.9L634.7 185.4L640.1 182.0L639.9 180.0L637.6 177.2L635.2 176.5L630.4 179.7ZM618.8 259.8L619.5 264.2L622.9 264.7L624.4 259.6L624.1 259.3L619.8 258.9ZM654.0 151.2L656.7 155.9L656.3 156.8L649.6 156.9L648.4 154.1L649.1 151.2ZM624.4 198.3L627.4 200.9L629.9 201.0L631.4 198.7L628.8 192.1L627.2 192.5L624.2 195.9ZM641.4 156.4L644.5 160.4L649.0 159.0L649.6 156.9L648.4 154.1L641.7 155.5ZM563.2 376.1L568.2 375.2L570.0 371.4L565.9 368.2L562.5 371.0ZM595.2 264.0L596.9 267.8L596.2 269.5L591.7 269.0L591.9 264.2ZM587.3 248.3L588.0 251.0L586.2 253.1L582.9 252.9L582.5 248.1L582.7 247.8ZM598.2 247.9L604.3 249.1L605.2 248.5L605.1 245.9L601.7 243.8L598.0 247.5ZM613.4 272.6L614.3 273.3L619.5 271.6L619.6 271.4L617.3 266.2L614.3 265.6L611.8 268.0L611.8 268.1ZM424.6 91.7L428.5 90.1L426.5 84.5L420.9 89.1ZM591.5 228.6L589.9 225.6L590.1 224.5L592.5 223.6L594.7 226.2L593.8 228.3ZM588.0 219.6L588.0 219.7L588.3 222.9L590.1 224.5L592.5 223.6L593.6 221.4L593.2 219.7L590.9 218.4ZM613.5 257.5L615.7 259.7L618.8 259.8L619.8 258.9L619.2 254.3L614.2 255.2ZM591.8 251.6L588.0 251.0L587.3 248.3L588.1 247.0L592.0 246.7L592.9 247.5ZM624.0 242.3L618.8 244.5L617.1 243.2L617.8 239.6L621.9 238.2ZM620.2 188.5L620.7 188.8L620.3 193.9L617.3 195.6L614.6 194.8L615.4 189.1ZM595.5 230.6L593.0 233.4L595.1 235.3L599.0 234.3L597.3 230.6ZM509.3 121.6L505.1 119.7L503.2 120.4L504.1 126.9L508.1 126.6ZM629.1 240.1L636.3 244.4L632.4 248.1L626.6 245.0L626.3 243.1ZM611.3 246.7L609.7 243.2L612.2 241.2L616.8 243.3L612.9 247.2ZM574.3 250.8L573.4 247.8L576.9 245.5L578.8 248.3L577.5 250.6ZM600.9 262.8L600.6 266.4L602.6 268.1L605.1 267.3L606.5 264.1L601.5 262.3ZM627.4 235.4L622.4 236.8L621.9 238.2L624.0 242.3L626.3 243.1L629.1 240.1L629.4 236.4ZM607.5 203.9L610.1 198.1L604.4 196.3L603.4 200.2L607.5 203.9ZM569.6 248.2L572.5 247.3L573.4 247.8L574.3 250.8L572.8 253.3L571.0 253.3L568.8 249.5ZM605.6 213.5L602.1 216.4L602.2 217.8L603.0 218.5L606.4 218.8L607.8 216.8ZM628.7 254.0L624.3 254.9L622.6 253.3L624.7 249.1L628.9 252.2ZM572.8 253.3L574.7 256.0L577.7 255.9L579.8 254.1L577.5 250.6L574.3 250.8ZM543.9 353.2L547.4 348.1L550.0 349.6L550.5 355.1L545.8 356.6ZM611.3 246.7L607.8 249.4L605.2 248.5L605.1 245.9L607.6 242.7L609.7 243.2ZM579.7 261.4L580.3 261.7L578.7 267.8L574.1 265.6L575.0 261.7ZM596.3 262.4L600.9 262.8L601.5 262.3L601.7 259.7L598.8 257.2L597.6 257.3L595.7 259.3ZM605.2 248.5L604.3 249.1L603.0 253.4L604.1 254.5L608.3 254.0L609.2 252.4L607.8 249.4ZM558.6 390.4L557.6 398.6L562.2 401.6L563.5 400.8L569.5 391.9L568.4 389.1L568.1 388.8ZM605.1 245.9L601.7 243.8L601.5 241.8L603.6 240.3L607.2 242.0L607.6 242.7ZM628.7 254.0L629.7 256.0L626.7 259.9L624.4 259.6L624.1 259.3L624.3 254.9ZM606.6 207.5L607.0 204.5L600.4 205.5L600.2 205.9L602.1 209.8ZM598.7 222.1L602.0 224.0L603.1 223.3L603.0 218.5L602.2 217.8L599.1 219.5ZM620.3 193.9L624.2 195.9L624.4 198.3L619.3 200.8L617.3 195.6ZM654.1 133.4L652.5 131.6L652.5 130.8L655.5 126.1L660.7 126.5L661.8 129.6L661.6 130.5ZM618.6 233.7L616.7 237.9L613.4 237.0L614.9 231.9L615.9 231.9ZM624.7 249.1L624.6 248.6L619.6 247.5L618.2 249.8L619.6 253.7L622.6 253.3ZM583.2 239.9L580.7 243.3L579.1 243.2L577.2 239.2L577.3 239.0L580.5 238.0L583.2 239.5ZM591.6 278.8L592.2 279.2L597.2 277.3L597.3 275.8L595.5 273.4L591.8 274.2ZM613.9 264.2L614.3 265.6L611.8 268.0L607.0 263.8L607.7 262.5L610.5 261.6ZM611.3 246.7L607.8 249.4L609.2 252.4L613.0 252.5L614.2 249.9L612.9 247.2ZM608.7 210.9L610.7 211.2L611.9 215.4L610.8 216.4L607.8 216.8L605.6 213.5L605.6 213.1ZM622.6 253.3L619.6 253.7L619.2 254.3L619.8 258.9L624.1 259.3L624.3 254.9ZM628.9 252.2L632.2 249.6L632.4 248.1L626.6 245.0L624.6 248.6L624.7 249.1ZM586.5 229.9L582.9 229.7L581.0 233.3L584.4 234.5L587.1 231.5L587.2 230.7ZM615.7 259.7L613.9 264.2L614.3 265.6L617.3 266.2L619.5 264.2L618.8 259.8ZM602.1 209.8L600.2 205.9L598.0 206.2L596.2 208.3L597.0 211.0L600.4 211.6L602.1 210.0ZM600.4 205.5L600.7 201.4L603.4 200.2L607.5 203.9L607.0 204.5ZM609.8 223.9L613.5 226.2L614.1 225.7L615.1 221.4L611.1 220.7L609.7 221.8ZM610.5 261.6L607.7 262.5L606.3 258.9L609.1 256.8L611.8 258.0ZM342.7 387.6L339.1 386.2L338.0 378.1L344.2 377.1L347.5 381.6ZM591.8 251.6L588.0 251.0L586.2 253.1L588.1 256.6L590.7 256.9L592.9 253.2ZM541.8 164.1L540.0 164.2L538.0 161.7L538.8 157.3L539.2 156.9L542.7 156.9L544.5 159.6ZM618.4 173.3L623.7 172.1L625.8 175.1L620.8 179.8L617.3 175.8ZM587.1 243.4L588.1 247.0L592.0 246.7L591.4 242.3L588.6 242.2ZM540.5 273.1L543.9 274.1L546.1 271.8L546.1 270.1L545.8 269.7L540.8 269.6L540.1 272.5ZM529.0 319.7L532.9 319.3L533.6 318.7L532.5 315.2L528.8 316.0L528.2 318.8ZM540.7 295.9L536.6 296.3L536.3 296.0L536.9 292.7L540.2 292.6L540.3 292.7L541.1 295.5ZM540.1 272.5L540.8 269.6L539.3 267.3L534.5 270.7L534.5 270.7L534.7 271.7L536.3 273.1ZM593.8 228.3L595.5 230.6L597.3 230.6L598.7 228.7L598.6 227.5L596.8 225.9L594.7 226.2ZM648.3 149.8L641.7 150.1L640.5 152.2L641.7 155.5L648.4 154.1L649.1 151.2ZM618.6 233.7L616.7 237.9L617.8 239.6L621.9 238.2L622.4 236.8L620.3 233.7ZM585.9 269.5L587.8 268.8L590.4 269.8L590.4 272.9L585.5 275.0L584.8 274.2ZM598.0 247.5L601.7 243.8L601.5 241.8L598.8 240.6L596.3 243.2L596.9 246.8ZM603.0 218.5L606.4 218.8L607.2 220.8L604.9 223.4L603.1 223.3ZM667.8 140.8L663.2 145.0L665.8 147.9L671.0 147.8L669.6 140.8ZM582.8 246.0L580.7 243.3L579.1 243.2L576.9 245.3L576.9 245.5L578.8 248.3L582.5 248.1L582.7 247.8ZM592.7 241.3L591.4 242.3L588.6 242.2L587.6 237.6L589.7 236.4L592.9 239.5ZM598.4 239.4L594.8 238.1L592.9 239.5L592.7 241.3L596.3 243.2L598.8 240.6ZM562.4 247.3L561.0 248.3L557.9 247.2L557.8 243.2L561.6 244.1ZM517.2 315.6L517.2 315.7L512.9 316.6L510.8 314.2L512.7 310.3L516.2 311.1ZM620.7 188.8L622.1 188.6L627.2 192.5L624.2 195.9L620.3 193.9ZM552.9 224.5L550.8 226.6L546.9 223.3L547.6 220.9L552.4 222.0ZM551.9 264.1L555.3 265.1L555.1 268.5L551.3 269.2L550.4 265.7ZM585.9 216.3L583.3 217.5L581.0 215.3L583.1 213.1L586.4 214.3Z" fill="#5adff2" stroke="#c2d0d6" stroke-width="0.7" stroke-linejoin="round"/>
<path d="M308.4 327.0L308.3 327.0L309.3 333.2L315.4 332.7L315.4 327.6ZM362.9 333.1L368.9 333.3L368.5 328.2L367.5 327.3L362.6 328.3ZM368.9 333.3L368.5 328.2L374.4 327.0L374.7 327.3L375.3 332.6L374.7 333.4L369.6 334.1ZM361.8 345.0L362.3 339.5L356.1 339.1L356.9 345.1L357.2 345.4ZM322.0 354.6L319.6 346.2L316.0 346.0L314.8 351.5L317.8 355.7L321.8 355.0ZM322.0 354.6L326.4 351.5L326.0 346.0L321.4 344.8L319.6 346.2ZM337.8 345.4L339.0 351.3L343.5 351.1L345.3 345.5L344.5 344.5L338.7 344.4ZM369.3 386.4L368.6 381.4L368.0 380.8L362.3 381.8L362.8 386.9L368.4 387.3ZM368.4 387.3L362.8 386.9L361.9 388.3L363.2 392.8L363.9 393.3L368.0 393.6L368.1 393.4ZM357.2 394.4L358.6 399.4L361.7 400.0L363.9 393.3L363.2 392.8ZM368.6 399.2L368.0 393.6L363.9 393.3L361.7 400.0L362.3 400.6L368.2 399.7ZM374.6 399.4L368.6 399.2L368.2 399.7L369.1 405.1L375.0 405.1L375.2 404.9L375.3 400.2Z" fill="#e8388c" stroke="#d8b8c8" stroke-width="0.7" stroke-linejoin="round"/>
</g>
<path d="M468.0 347.0 L474.0 346.0 L476.0 350.0 L470.0 351.0Z" fill="#fff" stroke="#000" stroke-width="0.8"/>
<path d="M126.5 74.0 L139.0 86.7 L155.5 91.7 L175.6 94.2 L190.7 99.2 L194.5 100.5M202.5 55.2 L194.5 100.5M212.0 57.7 L209.6 70.3 L218.4 93.0 L215.8 108.0 L224.7 128.0 L243.5 130.7 L244.8 137.0M194.5 100.5 L189.4 113.0 L176.9 153.3M103.9 133.2 L144.9 147.0 L176.9 153.3 L207.0 162.0 L237.2 168.4M244.8 127.0 L237.2 168.4 L236.0 182.2 L257.4 186.0M244.8 127.0 L280.0 130.2 L316.0 135.7M322.8 78.4 L318.2 121.9 L316.0 135.7 L314.0 147.0 L310.2 192.3M318.2 121.9 L390.7 126.9M386.9 82.9 L390.0 105.5 L392.5 119.4 L390.7 126.9 L393.2 133.2 L393.7 147.0 L393.2 159.6 L392.0 174.7M435.0 115.3 L431.0 120.3 L429.0 129.4 L431.0 136.5 L438.2 146.6 L446.3 156.7 L455.4 168.8 L457.4 173.8 L458.4 185.0 L452.3 191.0 L448.2 202.2 L449.2 209.3 L457.3 219.4 L462.3 225.5 L463.3 234.5 L469.4 239.6 L473.4 248.7 L475.5 253.7 L471.4 260.8 L469.4 268.9 L466.4 280.0 L461.0 289.0 L456.0 309.2 L457.4 321.8 L451.0 334.4 L473.7 336.9 L477.5 347.0M144.9 147.0 L134.8 188.5 L180.6 260.2 L183.0 274.0 L175.6 285.3 L176.9 294.0M207.0 162.0 L192.5 233.8 L190.7 243.9 L181.9 247.6 L180.6 260.2M257.4 186.0 L249.8 243.9 L246.0 274.0 L239.7 323.0M192.5 233.8 L249.8 243.9 L280.0 247.6 L329.0 251.4M314.0 164.0 L378.0 169.6 L384.4 169.6 L392.0 174.7M257.4 186.0 L310.2 192.3M310.2 192.3 L332.0 194.3 L331.6 208.6 L329.0 251.4M331.6 208.6 L405.8 211.2M392.0 174.7 L397.0 187.3 L400.8 201.0 L408.3 213.7 L412.0 222.5 L413.3 259.0 L416.6 274.0 L415.8 300.4 L420.9 309.2 L420.9 324.3 L425.9 336.9 L423.4 354.5M317.7 251.4 L329.0 251.6 L413.0 255.2M317.7 257.7 L351.7 259.0 L351.0 274.0 L353.0 287.8 L365.5 294.0 L385.7 299.2 L405.8 297.9 L415.8 300.4M317.7 251.4 L315.0 274.0 L311.4 321.8 L271.0 318.0 L270.0 319.3M393.2 159.6 L446.0 159.6M400.8 201.0 L444.8 201.0 L449.2 208.0M413.3 261.5 L464.3 258.8 L465.4 264.8 L469.4 264.8M420.9 309.2 L456.0 309.2M454.0 115.0 L466.5 120.0 L478.6 125.4 L481.6 133.4M457.4 173.8 L485.0 170.8M489.7 183.0 L490.6 220.4 L489.6 230.5 L486.6 240.6 L484.5 245.7M475.5 253.7 L478.5 249.7 L484.5 245.7 L490.6 237.6 L498.7 234.5 L505.8 232.5 L510.8 228.5 L516.9 225.5 L521.9 217.4 L531.0 220.4 L540.0 219.4 L547.2 223.4 L551.2 219.4 L553.2 213.3 L561.3 206.3 L564.3 198.2 L563.3 186.6M497.8 179.0 L518.0 177.9 L538.2 179.0M518.0 177.9 L521.9 217.4M561.4 168.8 L567.3 199.7 L564.3 198.2M570.0 162.3 L613.7 157.3 L621.8 166.4 L623.8 173.4 L629.9 181.5 L622.8 188.6M567.3 199.7 L619.8 189.6 L622.8 188.6M619.8 189.6 L621.5 205.0 L630.8 205.5M619.8 213.3 L629.9 213.8M621.8 166.4 L633.0 169.5M624.6 107.6 L628.7 124.7 L632.7 139.9 L634.5 150.2 L634.0 166.4M641.8 100.5 L639.8 118.7 L640.8 137.9M647.0 96.5 L657.0 128.8M632.7 139.9 L640.8 137.9 L657.0 134.0M634.5 150.2 L653.0 146.0 L661.0 144.0M653.0 146.0 L654.0 153.5M551.2 219.4 L550.2 228.5 L555.5 235.5M555.5 235.5 L544.0 249.5M555.5 235.5 L561.0 236.2 L568.0 233.6 L575.0 229.0 L580.7 221.0 L585.5 213.0 L590.0 206.7 L599.0 202.7M578.4 198.7 L579.4 203.9 L591.0 198.0 L596.6 197.2 L599.0 202.7 L604.5 201.5 L607.5 206.0 L609.2 210.7M469.4 264.8 L471.4 259.0 L475.5 257.8 L544.0 249.5 L563.4 248.5 L627.3 237.3M563.4 248.5 L535.0 272.7M466.4 281.0 L520.0 276.0 L547.3 273.5M547.3 273.5 L555.4 268.7 L572.5 267.7 L576.6 271.7 L586.7 270.7 L599.8 286.9M547.3 273.5 L563.0 291.6 L580.6 304.2M490.0 279.0 L491.3 342.0M520.3 276.0 L531.6 319.3 L531.6 334.4M505.2 340.7 L500.0 334.4 L531.6 334.4 L568.0 336.9 L575.6 331.9" fill="none" stroke="#000" stroke-width="1.25" stroke-linejoin="round"/>
<path d="M146.0 47.5 L148.5 52.0 L146.5 57.0 L143.5 60.5 L141.5 65.0 L143.5 65.5 L146.0 61.0 L149.0 56.0 L150.5 50.0 L149.0 46.0M147.0 53.0 L145.0 56.0 L147.5 55.0M101.5 196.0 L104.5 197.0 L105.5 201.0 L103.5 203.5 L104.5 206.0M104.5 197.0 L106.0 195.5M611.9 203.8 L609.0 202.0 L606.5 203.5M613.0 209.7 L610.0 208.5 L607.0 210.0M616.8 216.5 L613.0 215.5 L610.0 216.5M618.6 221.5 L614.5 220.5 L611.0 221.5M620.0 226.5 L616.0 225.5 L612.5 226.5M622.0 231.0 L617.5 230.0 L614.0 231.0M630.0 244.0 L622.0 243.0 L617.0 244.5M627.0 258.0 L620.0 254.5 L615.0 256.0M620.0 262.0 L614.0 261.0" fill="none" stroke="#000" stroke-width="0.9"/>
<path d="M131.4 40.1 L138.4 46.2 L144.5 49.2 L148.5 44.0 L152.4 39.1 L176.0 46.5 L201.0 54.0 L212.0 57.7 L231.0 61.5 L255.0 66.5 L280.0 72.0 L301.0 75.5 L323.0 78.4 L355.0 81.0 L387.0 83.0 L406.0 83.0 L406.0 78.5 L409.0 77.5 L411.0 83.0 L413.0 86.5 L423.0 88.0 L431.0 90.0 L438.0 94.0 L448.0 91.0 L459.5 94.0 L450.0 102.0 L440.0 112.0 L435.0 115.3 L448.0 111.0 L452.0 114.0 L463.4 109.0 L472.5 104.0 L476.0 100.0 L473.0 109.0 L480.6 112.0 L494.7 109.0 L504.2 107.4 L511.8 110.2 L515.6 113.3 L517.7 115.8 L513.0 117.3 L508.0 118.4 L503.0 118.0 L498.0 119.0 L493.5 120.8 L489.2 124.0 L485.6 127.8 L483.0 131.0 L481.6 133.4 L480.6 137.0 L480.2 141.0 L482.0 139.0 L485.0 134.0 L487.7 130.4 L486.6 135.0 L484.2 141.0 L483.2 146.0 L484.6 156.7 L485.0 170.8 L486.7 181.0 L489.7 183.0 L495.8 181.0 L497.8 179.0 L499.8 166.8 L496.8 152.6 L497.8 140.5 L502.8 130.4 L505.9 124.3 L510.9 120.3 L521.0 124.3 L526.0 130.4 L525.0 140.5 L522.0 148.6 L529.0 143.5 L535.0 144.5 L539.2 156.7 L537.2 166.8 L536.2 176.9 L538.2 179.0 L549.3 176.9 L561.4 168.8 L570.3 162.3 L575.4 154.2 L574.3 146.0 L588.5 143.0 L598.6 138.0 L599.4 134.8 L598.4 127.8 L603.4 120.7 L609.5 111.6 L624.6 107.6 L640.8 102.5 L647.0 96.5 L649.0 78.3 L653.0 60.0 L661.0 59.0 L669.0 65.0 L675.0 80.0 L685.0 90.4 L681.0 96.5 L673.0 102.5 L667.0 110.6 L661.0 118.7 L657.0 128.8 L659.5 133.0 L658.0 138.0 L661.0 142.0 L667.0 143.0 L669.5 140.5 L672.0 144.0 L666.0 146.5 L661.0 149.0 L653.0 154.0 L643.0 160.0 L634.0 166.4 L633.0 169.5 L636.8 180.0 L635.0 189.5 L631.5 198.4 L627.5 193.5 L622.8 189.3 L625.5 191.9 L629.7 201.4 L631.0 207.3 L629.7 214.4 L626.7 219.2 L625.0 227.5 L624.3 228.7 L622.6 222.0 L621.5 217.0 L619.6 213.0 L617.5 207.0 L616.6 200.0 L617.5 193.0 L619.6 189.5 L618.3 189.5 L616.0 192.0 L614.0 196.0 L613.0 197.8 L611.9 203.8 L613.0 209.7 L617.8 214.4 L616.8 216.5 L619.6 219.2 L618.6 221.5 L620.8 224.0 L620.0 226.5 L622.6 228.7 L622.0 231.0 L625.5 233.4 L627.3 237.0 L630.0 241.0 L632.0 245.5 L630.0 253.0 L626.0 260.6 L619.0 262.6 L615.0 268.0 L611.0 274.7 L604.8 279.8 L599.8 286.9 L590.0 297.0 L580.6 304.2 L576.9 319.3 L575.6 331.9 L585.7 352.0 L594.5 372.0 L600.8 387.0 L601.7 394.0 L600.0 405.5 L590.4 411.0 L579.0 401.7 L576.9 400.0 L568.0 384.7 L564.3 374.6 L566.8 364.6 L560.5 357.0 L551.7 347.0 L541.6 344.4 L530.3 352.0 L520.3 343.2 L505.2 340.7 L496.4 343.2 L494.0 338.0 L492.0 343.0 L480.0 343.2 L477.5 347.0 L474.0 349.0 L478.0 354.0 L483.0 364.0 L476.0 360.0 L470.0 362.0 L466.0 360.8 L456.0 360.8 L441.0 357.0 L420.9 355.8 L412.9 358.3 L408.9 364.3 L396.8 370.4 L384.6 378.5 L380.6 386.6 L378.6 398.7 L381.6 410.8 L366.5 406.8 L356.4 398.7 L353.3 390.6 L342.2 372.4 L335.0 361.0 L330.3 349.5 L317.7 353.2 L307.7 364.6 L296.4 357.0 L290.0 342.0 L280.0 333.0 L270.0 319.3 L249.0 319.3 L248.5 324.3 L239.7 323.0 L210.8 320.5 L171.8 296.6 L176.9 294.0 L144.0 291.6 L139.0 274.0 L134.0 270.0 L125.3 255.0 L112.7 247.6 L110.2 235.0 L105.2 222.5 L101.4 207.4 L102.6 196.0 L96.4 179.7 L93.8 162.0 L98.9 147.0 L103.9 133.2 L105.2 116.9 L117.7 95.5 L126.5 74.0 L129.0 66.5 L130.3 52.7ZM634.5 171.0 L645.0 164.5 L654.5 160.0 L655.0 161.5 L650.0 164.0 L652.0 164.5 L646.0 167.5 L636.0 172.8ZM664.6 151.0 L667.6 150.3 L667.2 152.5 L665.0 152.7ZM671.0 150.6 L673.4 150.3 L673.2 151.9 L671.2 152.0Z" fill="none" stroke="#000" stroke-width="1.3" stroke-linejoin="round"/>
</svg>
<svg width="795" height="505" viewBox="0 0 795 505" style="position:absolute;left:0;top:0">
<g font-family="Liberation Sans, Arial, sans-serif" font-size="10.4" word-spacing="1.1" fill="#000" stroke="#000" stroke-width="0.3">
<rect x="101.2" y="426.0" width="7.8" height="5.2" fill="#f4f45a" stroke="#000" stroke-width="1.1"/>
<text x="118.5" y="432.6">Coal (BIT) (n = 3)</text>
<rect x="101.2" y="438.4" width="7.8" height="5.2" fill="#1f3d42" stroke="#000" stroke-width="1.1"/>
<text x="118.5" y="445.0">Coal (BIT) CCS (n = 0)</text>
<rect x="101.2" y="450.8" width="7.8" height="5.2" fill="#f5a540" stroke="#000" stroke-width="1.1"/>
<text x="118.5" y="457.4">Coal (SUB) (n = 0)</text>
<rect x="249.7" y="426.0" width="7.8" height="5.2" fill="#e9dfb8" stroke="#000" stroke-width="1.1"/>
<text x="266.6" y="432.6">Coal (SUB) CCS (n = 0)</text>
<rect x="249.7" y="438.4" width="7.8" height="5.2" fill="#8a8ae0" stroke="#000" stroke-width="1.1"/>
<text x="266.6" y="445.0">CSP (n = 0)</text>
<rect x="249.7" y="450.8" width="7.8" height="5.2" fill="#f04a2c" stroke="#000" stroke-width="1.1"/>
<text x="266.6" y="457.4">NGCC (n = 1244)</text>
<rect x="396.6" y="426.0" width="7.8" height="5.2" fill="#7d1c1c" stroke="#000" stroke-width="1.1"/>
<text x="413.9" y="432.6">NGCC CCS (n = 0)</text>
<rect x="396.6" y="438.4" width="7.8" height="5.2" fill="#e83a85" stroke="#000" stroke-width="1.1"/>
<text x="413.9" y="445.0">NGCT (n = 15)</text>
<rect x="396.6" y="450.8" width="7.8" height="5.2" fill="#5ae0f0" stroke="#000" stroke-width="1.1"/>
<text x="413.9" y="457.4">Nuclear (n = 255)</text>
<rect x="544.6" y="426.0" width="7.8" height="5.2" fill="#888888" stroke="#000" stroke-width="1.1"/>
<text x="562.0" y="432.6">Solar PV, resid. (n = 147)</text>
<rect x="544.6" y="438.4" width="7.8" height="5.2" fill="#7e2a60" stroke="#000" stroke-width="1.1"/>
<text x="562.0" y="445.0">Solar PV, utility (n = 199)</text>
<rect x="544.6" y="450.8" width="7.8" height="5.2" fill="#7ae98a" stroke="#000" stroke-width="1.1"/>
<text x="562.0" y="457.4">Wind (n = 1247)</text>
</g></svg>
</body></html>
